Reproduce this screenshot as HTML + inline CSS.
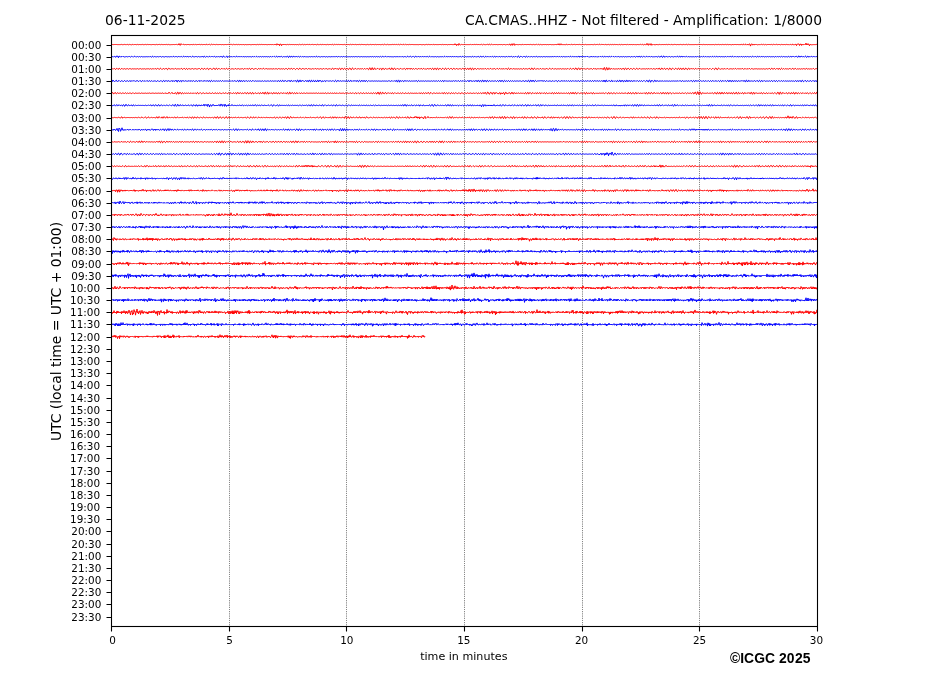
<!DOCTYPE html>
<html><head><meta charset="utf-8"><title>CA.CMAS..HHZ</title>
<style>
html,body{margin:0;padding:0;background:#fff;}
body{width:927px;height:696px;overflow:hidden;}
svg{display:block;}
text{font-family:"DejaVu Sans","Liberation Sans",sans-serif;fill:#000;}
.yl{font-size:10.42px;text-anchor:end;}
.xl{font-size:10.42px;text-anchor:middle;}
.tr path{fill:none;stroke-width:1;stroke-linejoin:round;}
</style></head><body>
<svg width="927" height="696" viewBox="0 0 927 696">
<rect width="927" height="696" fill="#fff"/>
<g stroke="#000" stroke-width="0.694" stroke-dasharray="0.694 1.146" stroke-dashoffset="-0.09" fill="none"><line x1="229.5" y1="626.5" x2="229.5" y2="35.5"/><line x1="346.5" y1="626.5" x2="346.5" y2="35.5"/><line x1="464.5" y1="626.5" x2="464.5" y2="35.5"/><line x1="582.5" y1="626.5" x2="582.5" y2="35.5"/><line x1="699.5" y1="626.5" x2="699.5" y2="35.5"/></g>
<g class="tr"><path d="M111.5,44.60l.5-.2.5.1.5-.2.5.3.5-.2.5.1.5-.1.5.1.5-.1.5.1.5-.1.5.2.5-.4.5.4.5-.4.5.4.5 0 .5 0 .5-.2.5 0 .5 0 .5.3.5-.2.5.1.5 0 .5-.2.5-.2.5.4.5.2.5-.1.5-.5.5.2.5.2.5.2.5-.3.5-.1.5-.1.5.3.5 0 .5.2.5-.3.5-.1.5-.1.5.5.5-.1.5-.2.5-.4.5.4.5.1.5.1.5-.4.5.1.5.1.5.2.5-.2.5 0 .5-.3.5.4.5 0 .5 0 .5-.1.5-.1.5 0 .5.3.5-.1.5 0 .5-.3.5.1.5 0 .5.3.5-.2.5-.1.5 0 .5.2.5 0 .5-.1.5-.2.5.3.5-.2.5.3.5-.2.5 0 .5 0 .5 0 .5-.1.5.2.5-.2.5.3.5-.3.5 0 .5-.1.5.4.5 0 .5-.2.5-.3.5.2.5.2.5.1.5-.3.5 0 .5 0 .5.2.5-.1.5.1.5-.2.5.1.5-.1.5.2.5-.1.5-.1.5.1.5.2.5-.3.5 0 .5-.1.5.4.5-.2.5.2.5-.3.5.2.5-.1.5.1.5-.2.5.1.5-.1.5.2.5-.1.5 0 .5-.2.5.1.5.1.5.4.5-.5.5.5.5-1.3.5 1.3.5 0 .5.3.5-1.5.5.5.5.2.5.5.5-.5.5-.1.5.1.5.3.5-.2.5 0 .5-.2.5.4.5-.2.5 0 .5-.1.5.1.5 0 .5.2.5-.2.5.1.5-.3.5.2.5 0 .5.2.5-.3.5 0 .5-.1.5.5.5-.4.5 0 .5-.1.5.4.5-.2.5 0 .5 0 .5 0 .5-.3.5.2.5.2.5.1.5-.2.5-.1.5-.1.5.4.5 0 .5-.2.5-.3.5.3.5.2.5.1.5-.6.5.1.5 0 .5.5.5-.1.5-.2.5-.3.5.1.5.2.5.4.5-.4.5-.3.5 0 .5.6.5 0 .5-.4.5-.3.5.4.5.2.5 0 .5-.3.5 0 .5 0 .5.2.5 0 .5 0 .5-.2.5.1.5-.1.5.1.5.1.5.1.5-.3.5.1.5-.1.5.3.5-.2.5.1.5-.2.5.1.5-.2.5.3.5 0 .5-.1.5-.2.5.1.5.1.5.1.5 0 .5-.2.5-.1.5.1.5.3.5.1.5-.4.5-.1.5 0 .5.3.5 0 .5 0 .5-.4.5.2.5.1.5.2.5-.2.5-.1.5 0 .5.3.5-.1.5-.1.5-.2.5.3.5 0 .5.1.5-.5.5.3.5.1.5.2.5-.4.5.1.5-.1.5.3.5-.1.5 0 .5-.2.5.2.5-.2.5.1.5-.1.5.3.5-.3.5.3.5-.3.5.1.5-.2.5.3.5 0 .5-.1.5-.3.5.4.5.1.5 0 .5-.4.5.1.5.2.5.1.5-.3.5 0 .5 0 .5.2.5-.1.5-.1.5.1.5.1.5-.2.5.1.5 0 .5.1.5-.2.5.1.5-.1.5.2.5-.1.5.2.5-.4.5.2.5 0 .5.1.5-.3.5.2.5 0 .5.1.5-.4.5.3.5.1.5.2.5-.5.5.2.5-.4.5.4.5.1.5.6.5-1.5.5.8.5-.3.5.6.5-.8.5 1.6.5-1 .5-.4.5-.1.5 1.5.5-1.1.5.2.5-.5.5.3.5-.1.5.5.5-.8.5.5.5-.1.5.2.5-.3.5 0 .5 0 .5.3.5-.2.5-.1.5-.1.5.3.5-.1.5 0 .5-.1.5.2.5-.1.5 0 .5-.1.5.3.5-.2.5 0 .5-.1.5.3.5-.3.5.1.5 0 .5.3.5-.4.5-.1.5.1.5.3.5-.2.5.1.5-.3.5 0 .5.2.5.3.5-.3.5-.1.5-.1.5.4.5 0 .5-.2.5-.4.5.3.5.2.5.1.5-.5.5.2.5-.1.5.5.5-.2.5-.1.5-.2.5.1.5.2.5.1.5-.2.5 0 .5-.2.5.2.5.1.5.2.5-.2.5-.3.5-.1.5.6.5-.1.5 0 .5-.5.5.2.5.1.5.2.5-.2.5-.1.5-.2.5.5.5-.1.5-.1.5-.2.5.3.5-.1.5.2.5-.3.5 0 .5 0 .5.3.5 0 .5-.2.5-.2.5.2.5.1.5.2.5-.6.5.1.5.2.5.4.5-.3.5-.3.5-.1.5.5.5-.1.5-.2.5-.1.5.3.5-.2.5 0 .5-.1.5.3.5 0 .5-.1.5-.1.5.1.5 0 .5.1.5-.1.5.1.5-.4.5.2.5.1.5.3.5-.3.5 0 .5-.1.5.2.5-.3.5.2.5 0 .5.2.5-.4.5 0 .5.1.5.3.5 0 .5-.3.5-.2.5.3.5.2.5 0 .5-.5.5.2.5.1.5.2.5-.3.5.1.5 0 .5.1.5-.2.5 0 .5.1.5.2.5-.3.5 0 .5 0 .5.1.5.1.5 0 .5-.2.5.1.5-.1.5.3.5-.2.5.2.5-.2.5-.1.5 0 .5.3.5-.2.5.2.5-.5.5.2.5.1.5.2.5-.1.5-.1.5-.2.5.2.5.1.5.1.5-.2.5-.1.5-.1.5.4.5 0 .5-.2.5-.2.5.3.5-.2.5.1.5 0 .5.2.5-.2.5.1.5-.3.5.1.5.2.5.2.5-.2.5-.4.5 0 .5.5.5.1.5-.1.5-.4.5 0 .5 0 .5.4.5-.1.5 0 .5-.4.5.4.5.1.5-.1.5-.4.5.2.5.2.5 0 .5-.4.5.2.5.1.5.2.5-.5.5.2.5.2.5.2.5-.5.5 0 .5.1.5.4.5-.2.5-.3.5-.2.5.4.5.2.5.1.5-.5.5 0 .5.1.5.5.5-.2.5-.4.5 0 .5.4.5-.1.5-.1.5-.1.5.3.5-.2.5-.1.5 0 .5.2.5-.1.5 0 .5-.1.5.1.5-.1.5.2.5-.2.5.2.5-.1.5.1.5-.2.5.2.5-.1.5.1.5-.1.5.2.5-.2.5 0 .5-.1.5.1.5 0 .5.2.5-.2.5.2.5-.3.5.1.5-.1.5.4.5-.2.5 0 .5-.2.5 0 .5.1.5.2.5-.3.5 0 .5-.1.5.3.5 0 .5 0 .5-.3.5.2.5.1.5.2.5-.5.5.1.5 0 .5.3.5-.2.5 0 .5-.3.5.4.5-.2.5.2.5-.1.5.1.5-.2.5.1.5-.2.5.2.5 0 .5.2.5-.3.5 0 .5.1.5.2.5-.2.5 0 .5-.1.5.2.5-.2.5.1.5.1.5.2.5-.4.5.1.5-.1.5.2.5-.2.5.1.5 0 .5 0 .5-.1.5.2.5-.1.5.2.5-.5.5.6.5-1.1.5 1 .5-.5.5 1.3.5-1.2.5.3.5-.1.5.8.5-1.8.5 1 .5 0 .5.4.5-.3.5-.2.5-.1.5.3.5.1.5-.1.5-.4.5.2.5.2.5 0 .5-.2.5.2.5-.1.5.1.5-.3.5.3.5.1.5-.1.5-.3.5.1.5.1.5.3.5-.5.5.2.5 0 .5.2.5-.5.5.2.5.1.5.1.5-.2.5 0 .5 0 .5.2.5 0 .5-.1.5-.3.5.5.5-.1.5 0 .5-.4.5.1.5.4.5.2.5-.4.5-.2.5-.1.5.4.5-.1.5.2.5 0 .5-.1.5-.5.5.2.5.4.5.2.5-.8.5.1.5.4.5.2.5-.2.5-.4.5.1.5.5.5-.2.5 0 .5-.2.5.1.5 0 .5.1.5-.1.5 0 .5-.1.5.3.5-.2.5.1.5-.2.5.1.5 0 .5.1.5-.2.5.1.5-.1.5.4.5-.4.5.1.5-.2.5.2.5 0 .5.3.5-.4.5.3.5-.5.5.3.5 0 .5.4.5-.6.5 0 .5-.4.5 1.4.5-.3.5-.2.5-1.1.5 1.6.5-1.1.5.1.5-.7.5 1.7.5-.7.5.1.5-.3.5.1.5-.1.5.2.5-.2.5.3.5-.3.5.1.5-.1.5.2.5-.1.5.2.5-.2.5-.1.5-.1.5.5.5-.2.5-.1.5-.3.5.3.5.1.5 0 .5-.2.5.1.5 0 .5 0 .5-.1.5.2.5-.1.5-.1.5 0 .5.2.5 0 .5.1.5-.3.5 0 .5-.1.5.4.5-.1.5 0 .5-.4.5.1.5.2.5.4.5-.5.5-.1.5.1.5.4.5-.2.5-.2.5-.1.5.4.5 0 .5 0 .5-.4.5.2.5.1.5 0 .5-.2.5.1.5 0 .5.2.5-.3.5.1.5-.1.5.3.5-.2.5 0 .5-.2.5.2.5-.2.5.4.5-.2.5.1.5-.3.5.4.5-.2.5.1.5-.4.5.3.5.2.5 0 .5-.7.5.3.5 0 .5.6.5-1.2.5 1.1.5.2.5-.3.5-1 .5.9.5.1.5-.1.5-.4.5.4.5-.2.5.2.5-.1.5.2.5-.3.5-.1.5 0 .5.6.5-.2.5-.2.5-.3.5.3.5.1.5.2.5-.5.5 0 .5.1.5.3.5-.1.5-.1.5-.1.5 0 .5 0 .5.3.5-.1.5-.1.5-.4.5.4.5.1.5 0 .5-.2.5 0 .5 0 .5.2.5 0 .5.1.5-.4.5.1.5-.1.5.3.5 0 .5.1.5-.4.5.1.5.1.5.2.5-.2.5.1.5-.3.5.3.5-.2.5.2.5-.2.5.2.5-.2.5.1.5-.1.5.2.5 0 .5.1.5-.3.5-.1.5.1.5.3.5 0 .5-.2.5-.4.5.3.5.3.5.1.5-.5.5-.1.5.1.5.5.5-.2.5-.2.5 0 .5.1.5-.2.5.2.5.1.5.2.5-.5.5.1.5-.1.5.4.5-.2.5.1.5-.3.5.1.5.1.5.3.5-.4.5 0 .5 0 .5.3.5-.2.5-.1.5-.1.5.4.5-.2.5-.1.5-.1.5.3.5 0 .5-.1.5-.2.5.3.5 0 .5.2.5-.5.5.1.5.1.5.3.5-.3.5-.1.5-.1.5.4.5-.2.5.1.5-.1.5 0 .5-.2.5.2.5.1.5.1.5-.4.5.1.5.1.5.3.5-.5.5.2.5 0 .5.1.5-.2.5.1.5-.1.5.3.5-.1.5-.1.5-.3.5.5.5-.1.5 0 .5-.3.5.4.5-.2.5 0 .5-.2.5.3.5.1.5 0 .5-.5.5.1.5.3.5.2.5-.5.5 0 .5.2.5.4.5-.4.5-.1.5-.2.5.6.5-.1.5-.1.5-1.2.5 1.2.5-.1.5.8.5-1.6.5.7.5.2.5.3.5-1.3.5 1.5.5-.4.5 0 .5-.4.5.6.5-.6.5.4.5-.1.5.3.5-.7.5.3.5-.1.5.2.5-.2.5.3.5-.2.5-.1.5-.2.5.5.5 0 .5-.1.5-.4.5.3.5.1.5 0 .5-.3.5.2.5.1.5 0 .5-.3.5.1.5.1.5.2.5-.1.5-.2.5-.1.5.2.5.1.5.2.5-.5.5.1.5-.1.5.4.5-.1.5 0 .5-.2.5 0 .5-.1.5.2.5.2.5 0 .5-.3.5.1.5-.1.5.2.5-.1.5.1.5-.2.5 0 .5 0 .5.2.5-.1.5.2.5-.3.5 0 .5-.2.5.5.5.1.5-.1.5-.6.5.2.5.2.5.3.5-.2.5-.3.5 0 .5.3.5-.1.5.1.5-.2.5.2.5-.2.5.2.5-.3.5.3.5-.1.5.1.5-.3.5.2.5 0 .5.1.5-.2.5.2.5-.1.5-.1.5 0 .5.2.5 0 .5-.1.5-.2.5.2.5 0 .5.2.5-.2.5-.1.5-.1.5.3.5 0 .5 0 .5-.3.5.2.5-.1.5.3.5-.4.5.2.5 0 .5.1.5-.1.5.1.5-.2.5.2.5 0 .5 0 .5-.3.5.2.5 0 .5.3.5-.2.5-.2.5-.1.5.3.5-.1.5.1.5-.4.5.2.5.1.5.2.5-.4.5.2.5 0 .5.2.5-.2.5-.1.5-.1.5.3.5.1.5-.1.5-.4.5.2.5.2.5.1.5-.4.5.1.5.1.5.2.5-.3.5.1.5-.2.5.3.5 0 .5.2.5-.4.5.1.5-.3.5.6.5-.3.5 0 .5-.3.5.3.5.1.5 0 .5-.3.5.2.5 0 .5.1.5-.3.5.3.5 0 .5.1.5-.7.5.4.5.3.5.2.5-.7.5 0 .5.3.5.6.5-.8.5-.1.5.2.5.7.5-.7.5.1.5-.1.5.7.5-1 .5-.1.5.3.5 1.8.5-1.5.5-.6.5-.2.5 1.2.5-.3.5 0 .5-.7.5.8.5-.2.5-.1.5-.5.5.5.5.1.5.2.5-.4.5.2.5-.3.5.3.5 0 .5.1.5-.5.5.1.5.2.5.2.5-.3.5-.1.5.2.5.3.5-.3.5-.1.5 0 .5.4.5-.2.5-.1.5-.3.5.3.5 0 .5 0 .5-.1.5.2.5-.2.5 0 .5 0 .5.4.5-.1.5-.4.5-.2.5.5.5.2.5-.1.5-.5.5.1.5.2.5.2.5-.2.5 0 .5 0 .5 0 .5-.1.5.4.5-.3.5-.1.5-.2.5.4.5.1.5-.1.5-.4.5.3.5.1.5.1.5-.4.5.1.5.1.5.1.5-.3.5.3.5.1.5.1.5-.5.5.1.5.2.5.4.5-.7.5 0 .5-.1.5.7.5-.4.5.3.5-.6.5.2.5-.4.5 1.6.5-1 .5-.4.5-.3.5.1.5 0 .5 1.5.5-1.2.5 0 .5-.4.5 1.5.5-1.2.5.4.5-.4.5.4.5-.3.5.7.5-.6.5 0 .5-1.3.5 1.8.5-.5.5.5.5-1.3.5.9.5.2.5 1.1.5-1.6.5.3.5 0 .5.3.5-.3.5.2.5-.3.5.2.5-.1.5.1.5-.3.5.3.5-.2.5 0 .5 0 .5.3" stroke="#f00"/>
<path d="M111.5,56.87l.5-.3.5.1.5-.2.5.5.5-.1.5-.5.5-.1.5 1.1.5-.9.5.2.5-.9.5.9.5.2.5.8.5-1.7.5.4.5.1.5.7.5-.8.5.3.5-.2.5.5.5-.6.5.2.5.1.5.3.5-.3.5.1.5-.2.5 0 .5-.1.5.4.5 0 .5-.2.5-.5.5.3.5.4.5.2.5-.4.5-.3.5-.1.5.5.5.2.5.1.5-.6.5-.2.5.1.5.5.5 0 .5 0 .5-.4.5 0 .5.2.5.3.5-.4.5-.1.5.1.5.4.5-.3.5-.2.5 0 .5.4.5 0 .5-.1.5-.3.5.3.5-.1.5.1.5-.2.5.1.5 0 .5.1.5-.3.5.2.5.2.5 0 .5-.5.5.1.5.5.5.3.5-.8.5-.2.5.2.5.7.5-.3.5-.4.5-.1.5.4.5 0 .5.1.5-.3.5 0 .5-.1.5.4.5.1.5-.3.5-.5.5.3.5.3.5.3.5-.4.5-.1.5-.2.5.4.5-.1.5.3.5-.2.5-.2.5-.2.5.3.5.1.5.1.5-.3.5.1.5 0 .5.2.5-.1.5-.1.5-.2.5.2.5.2.5.1.5-.5.5-.1.5.1.5.6.5-.3.5-.2.5-.2.5.2.5.2.5.2.5-.3.5-.2.5-.2.5.6.5 0 .5 0 .5-.6.5.1.5.5.5.3.5-.5.5-.4.5.1.5.6.5 0 .5-.5.5-.2.5.7.5-.2.5-.3.5-.2.5.8.5 0 .5-.5.5-.5.5.4.5.6.5.1.5-.5.5-.4.5 0 .5.7.5 0 .5-.1.5-.3.5 0 .5-.1.5.1.5.2.5.2.5-.4.5-.1.5.1.5.3.5-.3.5.2.5.2.5-.1.5-.7.5.3.5.6.5.1.5-1 .5 0 .5.6.5.6.5-.5.5-.5.5-.2.5.6.5.3.5 0 .5-.6.5-.1.5.1.5.5.5-.1.5-.3.5-.5.5.5.5.4.5 0 .5-.6.5 0 .5.3.5.4.5-.4.5 0 .5-.3.5.6.5-.1.5-.3.5-.1.5.4.5.1.5-.3.5-.7.5.6.5.7.5 0 .5-1.1.5 0 .5.3.5.6.5-.4.5.6.5-.5.5-.5.5-.4.5 1.6.5-.5.5-.1.5-.5.5.5.5-.6.5.6.5-.4.5.2.5-.2.5.5.5 0 .5-.4.5-.3.5.3.5.3.5.2.5-.6.5-.2.5.1.5.6.5.1.5-.4.5-.5.5.6.5.3.5-.3.5-.5.5.3.5.4.5 0 .5-.5.5.1.5.2.5.1.5-.4.5.1.5.1.5.2.5-.3.5 0 .5.2.5 0 .5-.3.5.2.5 0 .5 0 .5-.1.5.4.5-.2.5-.3.5 0 .5.5.5-.3.5-.2.5.1.5.6.5-.5.5-.3.5.2.5.5.5-.4.5-.1.5.1.5.2.5-.3.5-.1.5.3.5.2.5-.3.5-.2.5.1.5.3.5-.1.5-.2.5.1.5.1.5-.3.5.1.5.2.5.1.5-.3.5 0 .5.1.5.3.5-.3.5-.2.5.1.5.5.5-.4.5-.2.5.1.5.5.5-.6.5-.1.5.4.5.4.5-.6.5-.3.5.1.5.8.5-.1.5-.6.5-.4.5.8.5.3.5-.3.5-.7.5.2.5.4.5.4.5-.4.5-.2.5-.2.5.4.5-.2.5.1.5.4.5 0 .5-.9.5-.1.5.6.5.9.5-.6.5-.9.5.1.5 1 .5-.1.5-.8.5 0 .5.9.5-.1.5-.8.5-.1.5.7.5.3.5-.3.5-.7.5.3.5.5.5.1.5-.7.5-.1.5.5.5.3.5-.4.5-.3.5.2.5.5.5-.3.5-.3.5 0 .5.4.5 0 .5-.3.5-.2.5.6.5-.1.5-.1.5-.3.5.3.5-.1.5.2.5-.4.5.1.5.1.5.2.5-.2.5-.1.5-.1.5.3.5.1.5 0 .5-.6.5.3.5.4.5.1.5-.6.5-.2.5.2.5.7.5-.4.5-.3.5-.1.5.4.5.1.5.1.5-.4.5 0 .5 0 .5.2.5-.1.5 0 .5-.2.5.1.5 0 .5.4.5-.3.5-.1.5 0 .5.4.5-.2.5-.1.5-.3.5.3.5 0 .5.2.5-.2.5 0 .5-.4.5.6.5.1.5-.3.5-.4.5.4.5.3.5-.1.5-.6.5.2.5.2.5.3.5-.2.5-.3.5-.1.5.5.5.1.5-.1.5-.4.5 0 .5.1.5.4.5-.2.5-.3.5-.1.5.6.5-.1.5-.2.5-.2.5.2.5-.1.5.2.5 0 .5 0 .5-.3.5.2.5.2.5 0 .5-.4.5.1.5.2.5.1.5-.3.5 0 .5.1.5.2.5-.1.5-.2.5-.1.5.2.5.2.5 0 .5-.4.5 0 .5 0 .5.4.5 0 .5-.1.5-.3.5.1.5.1.5.2.5-.2.5 0 .5-.2.5.3.5-.1.5 0 .5 0 .5.2.5-.3.5.1.5.1.5 0 .5-.2.5.2.5-.2.5 0 .5.2.5.1.5-.4.5 0 .5.3.5.2.5-.4.5-.1.5.2.5.3.5-.3.5-.2.5.1.5.3.5-.3.5 0 .5.2.5.2.5-.4.5-.2.5.3.5.4.5-.3.5-.4.5-.1.5.7.5 0 .5-.1.5-.5.5 0 .5.1.5.5.5-.1.5-.2.5-.4.5.3.5.3.5-.1.5-.3.5.2.5.1.5 0 .5-.3.5.3.5.1.5 0 .5-.4.5.1.5.1.5.1.5-.2.5.1.5 0 .5 0 .5-.3.5.5.5 0 .5-.2.5-.4.5.5.5.1.5 0 .5-.5.5.2.5.2.5.2.5-.2.5-.2.5-.2.5.3.5.2.5.3.5-.6.5-.3.5.1.5.6.5 0 .5-.1.5-.7.5.1.5.4.5.4.5-.3.5-.2.5-.4.5.2.5.5.5.4.5-.4.5-.7.5 0 .5.8.5.1.5-.2.5-.5.5.1.5.1.5.3.5-.1.5-.2.5-.1.5.5.5-.1.5-.4.5-.1.5.6.5 0 .5-.4.5-.3.5.5.5.3.5-.2.5-.7.5.2.5.5.5.3.5-.6.5-.3.5.2.5.5.5-.1.5-.2.5-.2.5.2.5 0 .5.1.5 0 .5 0 .5-.3.5.1.5.2.5.2.5-.3.5-.1.5 0 .5.3.5-.1.5 0 .5-.3.5.2.5 0 .5.1.5-.3.5.1.5.2.5.3.5-.5.5-.3.5.2.5.7.5-.5.5-.2.5.1.5.2.5-.3.5.1.5.3.5 0 .5-.6.5.2.5.5.5.1.5-.7.5.1.5.4.5.1.5-.6.5.2.5.4.5-.1.5-.5.5.2.5.2.5 0 .5-.4.5.4.5.3.5-.3.5-.6.5.2.5.6.5.2.5-.6.5-.2.5 0 .5.5.5 0 .5.1.5-.4.5 0 .5 0 .5.3.5-.2.5 0 .5 0 .5.1.5-.1.5 0 .5-.1.5.1.5 0 .5.3.5-.4.5-.2.5.1.5.7.5-.3.5-.4.5-.1.5.5.5-.2.5.2.5-.1.5 0 .5-.6.5.2.5.6.5.3.5-.5.5-.6.5 0 .5.9.5 0 .5-.3.5-.6.5.2.5.4.5.6.5-.7.5-.3.5 0 .5.6.5 0 .5-.4.5-.3.5.5.5.1.5 0 .5-.5.5.2.5.3.5.1.5-.5.5-.1.5.3.5.4.5-.3.5-.4.5-.1.5.9.5-.2.5-.5.5-.2.5.5.5.2.5 0 .5-.6.5.1.5.3.5.2.5-.3.5-.2.5 0 .5.3.5 0 .5-.2.5-.1.5.3.5 0 .5.1.5-.4.5 0 .5.1.5.5.5-.2.5-.5.5-.2.5.7.5.3.5-.4.5-.6.5.2.5.4.5.3.5-.4.5-.1.5-.1.5.6.5-.4.5-.2.5-.2.5.5.5.5.5-.1.5-1 .5-.1.5.4.5 1 .5-.3.5-.8.5-.4.5.5.5.5.5.2.5-.3.5-.4.5-.4.5.4.5.6.5.2.5-1 .5 0 .5.4.5.4.5-.4.5-.2.5 0 .5.5.5-.2.5 0 .5-.4.5.1.5.2.5.3.5-.1.5-.3.5-.3.5.4.5.4.5-.1.5-.6.5 0 .5.2.5.4.5-.1.5-.2.5-.3.5.3.5 0 .5.2.5-.3.5 0 .5 0 .5.4.5-.2.5-.2.5-.2.5.3.5.1.5.1.5-.3.5 0 .5.1.5.1.5-.2.5.1.5 0 .5.1.5-.1.5 0 .5-.1.5.2.5-.1.5-.1.5-.2.5.6.5-.1.5-.4.5-.2.5.5.5.3.5-.2.5-.6.5.2.5.3.5.2.5-.5.5 0 .5.3.5.3.5-.5.5-.1.5.1.5.4.5-.2.5-.3.5 0 .5.3.5 0 .5 0 .5-.3.5.2.5.2.5 0 .5-.5.5.1.5.5.5.1.5-.6.5-.2.5.3.5.5.5-.2.5-.5.5-.1.5.6.5.1.5-.3.5-.4.5.5.5.1.5-.2.5-.3.5.6.5.1.5-.7.5-.4.5 1 .5.3.5-.6.5-.7.5.8.5.4.5-.3.5-.7.5.4.5.2.5.1.5-.6.5.5.5-.4.5.6.5-.5.5 0 .5 0 .5.5.5-.2.5.2.5-.4.5.3.5-.7.5.4.5-.2.5.6.5-.1.5-.3.5-.2.5.6.5-.4.5.1.5-.3.5.5.5-.4.5.4.5-.3.5.1.5-.2.5.6.5-.5.5-.1.5.2.5.3.5-.5.5-.1.5.2.5.6.5-.3.5-.6.5 0 .5.7.5.1.5-.4.5-.5.5.4.5.4.5.1.5-.8.5 0 .5.6.5.2.5-.5.5-.2.5.2.5.5.5-.5.5-.1.5.1.5.5.5-.4.5-.2.5-.1.5.5.5.1.5-.1.5-.6.5.2.5.2.5.3.5-.2.5-.1.5-.2.5.2.5.2.5 0 .5-.4.5 0 .5.3.5.2.5-.3.5-.1.5 0 .5.3.5-.1.5-.1.5 0 .5 0 .5-.2.5.1.5.2.5.3.5-.4.5-.1.5-.2.5.6.5-.1.5 0 .5-.6.5.2.5.3.5.4.5-.3.5-.5.5-.3.5.8.5.4.5-.4.5-.9.5.4.5.8.5 0 .5-.9.5.1.5.4.5.3.5-.4.5-.3.5 0 .5.3.5.2.5.2.5-.5.5-.2.5 0 .5.5.5.1.5-.2.5-.6.5.3.5.4.5.2.5-.6.5 0 .5.1.5.3.5-.3.5.2.5-.1.5.1.5-.2.5.1.5-.1.5 0 .5.1.5.4.5-.4.5-.5.5.1.5.9.5.1.5-.4.5-.9.5 0 .5 1 .5.5.5-.5.5-1 .5.1.5 1.1.5 0 .5-.3.5-.6.5.2.5 0 .5.4.5.1.5-.1.5-.6.5.2.5.2.5.4.5-.3.5-.2.5-.3.5.4.5.1.5.2.5-.3.5-.1.5-.2.5.3.5.2.5.1.5-.6.5-.1.5.3.5.6.5-.3.5-.7.5 0 .5.9.5 0 .5-.7.5-.3.5.9.5.1.5-.5.5-.4.5.6.5.3.5-.1.5-.6.5 0 .5.4.5.3.5-.5.5 0 .5 0 .5.3.5-.2.5 0 .5-.2.5.3.5.1.5-.1.5-.4.5.3.5.1.5.3.5-.6.5.1.5.2.5.1.5-.4.5 0 .5.2.5.3.5-.5.5 0 .5.2.5.2.5-.4.5 0 .5.3.5.3.5-.6.5-.1.5.2.5.5.5-.3.5-.3.5 0 .5.5.5-.2.5-.1.5-.4.5.4.5.2.5 0 .5-.4.5 0 .5.2.5.4.5-.5.5-.2.5.2.5.5.5-.4.5-.3.5.1.5.6.5-.3.5-.4.5-.1.5.7.5 0 .5-.1.5-.6.5.2.5.4.5 0 .5-.4.5.1.5.1.5.1.5-.3.5.2.5 0 .5.2.5-.3.5-.1.5.1.5.5.5-.2.5-.4.5-.2.5.5.5.2.5-.2.5-.6.5.2.5.6.5.1.5-.7.5-.1.5.3.5.5.5-.1.5-.4.5-.4.5.5.5.3.5 0 .5-.5.5.1.5.3.5 0 .5-.4.5.1.5.3.5.1.5-.5.5 0 .5.3.5.2.5-.4.5-.1.5.2.5.3.5-.3.5-.2.5-.1.5.7.5-.3.5-.3.5 0 .5.3.5.1.5-.1.5-.4.5.1.5.3.5.3.5-.4.5-.4.5.1.5.6.5 0 .5-.2.5-.5.5.2.5.3.5.3.5-.3.5-.4.5 0 .5.7.5-.2.5-.5.5.1.5.6.5-.2.5-.4.5-.2.5.7.5-.2.5-.3.5.1.5.4.5-.3.5-.1.5 0 .5.3.5-.3.5-.1.5.3.5.1.5-.3.5-.1.5.2.5.2.5-.3.5.1.5.1.5 0 .5-.3.5.1.5.1.5.4.5-.4.5-.2.5 0 .5.6.5-.4.5-.2.5 0 .5.4.5-.2.5-.2.5.2.5.3.5-.4.5-.2.5.2.5.4.5-.1.5-.4.5-.1.5.4.5.1.5-.1.5-.3.5.2.5.1.5.2.5-.4.5-.2.5.1.5.7.5-.3.5-.5.5-.2.5.8.5.2.5-.5.5-.7.5.6.5.5.5-.1.5-.5.5.1.5 0 .5-.2.5.2.5.7.5-.1.5-1.1.5-.2.5 1.1.5.4.5-.4.5-1 .5.3.5.7.5 0 .5-.6.5.2.5.3.5.2.5-.6.5-.4.5.4.5.9.5-.2.5-.9.5-.2.5 1 .5 0 .5-.4.5-.3.5.5.5-.1.5-.4.5 0 .5.7.5-.2.5-.4.5-.3.5.6.5.3.5-.2.5-.5.5.2.5.2.5-.1" stroke="#00f"/>
<path d="M111.5,69.04l.5-.2.5 0 .5.2.5 0 .5-.6.5 0 .5.5.5.7.5-.5.5-.8.5-.1.5.7.5.5.5-.2.5-1 .5.1.5.6.5.5.5-.5.5-.4.5-.1.5.6.5.1.5-.1.5-.4.5 0 .5.1.5.4.5-.1.5-.2.5-.4.5.2.5.2.5.4.5-.3.5-.3.5-.1.5.2.5.2.5.2.5-.2.5-.2.5-.1.5.3.5.1.5-.2.5-.3.5.4.5.1.5-.1.5-.3.5 0 .5.2.5.3.5 0 .5-.3.5-.4.5.2.5.3.5.2.5-.3.5 0 .5.1.5 0 .5-.4.5.2.5.2.5.2.5-.4.5.1.5-.1.5.1.5-.2.5.1.5.2.5.2.5-.4.5-.1.5.1.5.4.5-.1.5-.3.5-.2.5.3.5.2.5 0 .5-.5.5.1.5.4.5.2.5-.4.5-.5.5 0 .5.7.5.4.5-.1.5-.9.5-.2.5.4.5.6.5-.2.5.1.5-.4.5-.2.5 0 .5.7.5 0 .5-.5.5-.7.5.4.5.9.5.4.5-.9.5-.6.5-.1.5.8.5.4.5-.2.5-.4.5 0 .5 0 .5 0 .5-.2.5.4.5.2.5 0 .5-.6.5-.1.5.3.5.4.5-.1.5-.2.5-.2.5.2.5-.1.5.2.5.1.5 0 .5-.5.5-.1.5.2.5.8.5-.1.5-.5.5-.7.5.3.5.7.5.3.5-.7.5-.3.5.2.5.8.5-.2.5-.6.5-.3.5.4.5.3.5.1.5-.2.5-.1.5-.3.5 0 .5.2.5.4.5 0 .5-.3.5-.3.5.1.5.2.5.2.5-.1.5.1.5-.1.5-.3.5-.3.5.2.5.6.5.4.5-.4.5-.8.5-.2.5.7.5.6.5-.1.5-.8.5-.1.5.2.5.6.5 0 .5-.2.5-.7.5-.1.5.5.5.9.5-.2.5-.8.5-.6.5.4.5.5.5.3.5.1.5 0 .5-.6.5-.6.5-.1.5 1.1.5.5.5-.3.5-1 .5-.2.5.7.5.6.5-.3.5-.6.5-.2.5.5.5.3.5.2.5-.5.5-.3.5-.1.5.5.5.2.5-.2.5-.5.5.3.5.4.5.1.5-.6.5-.3.5.2.5.8.5 0 .5-.4.5-.7.5.1.5.4.5.5.5-.1.5-.3.5-.2.5.1.5-.1.5.4.5.1.5 0 .5-.5.5-.1.5.1.5.6.5 0 .5-.4.5-.4.5.2.5.2.5.3.5-.2.5 0 .5-.1.5 0 .5-.3.5.1.5.3.5.4.5-.3.5-.4.5-.2.5.5.5.2.5-.2.5-.5.5.3.5.4.5.1.5-.8.5-.2.5.5.5.8.5-.2.5-.8.5-.4.5.3.5.6.5.3.5-.2.5-.2.5-.3.5-.1.5-.2.5.4.5.5.5.2.5-.5.5-.5.5 0 .5.7.5-.1.5-.4.5-.2.5.5.5.4.5-.2.5-.7.5-.1.5.3.5.6.5 0 .5-.4.5-.5.5.3.5.3.5.1.5-.4.5.2.5.1.5 0 .5-.2.5.1.5 0 .5 0 .5-.1.5.3.5-.1.5-.2.5-.1.5.5.5-.1.5-.3.5-.4.5.4.5.4.5.1.5-.4.5-.3.5-.1.5.4.5.2.5 0 .5-.3.5 0 .5.1.5.2.5-.4.5 0 .5.3.5.4.5-.3.5-.4.5-.4.5.3.5.7.5.3.5-.6.5-.6.5 0 .5.7.5.3.5-.2.5-.8.5 0 .5.6.5.4.5-.3.5-.5.5-.2.5.3.5.5.5.4.5-.4.5-.6.5-.4.5.4.5.7.5.3.5-.5.5-.8.5-.1.5.8.5.5.5-.1.5-.7.5-.1.5-.1.5.3.5.2.5.2.5 0 .5-.3.5-.6.5.3.5.5.5.3.5-.5.5-.3.5 0 .5.3.5.1.5 0 .5-.1.5.3.5-.3.5-.2.5-.1.5.4.5.2.5-.1.5-.5.5 0 .5.3.5.3.5-.3.5-.2.5 0 .5.3.5.1.5 0 .5-.4.5 0 .5 0 .5.3.5.1.5.1.5-.4.5-.2.5.1.5.5.5.1.5-.4.5-.5.5.3.5.4.5.2.5-.4.5 0 .5-.1.5 0 .5-.3.5.4.5.5.5.1.5-.8.5-.5.5.2.5 1 .5.1.5-.4.5-.8.5.3.5.5.5 0 .5-.6.5.3.5.7.5 0 .5-1.1.5-.3.5.5.5 1.1.5-.1.5-.9.5-.7.5.6.5.8.5.2.5-.8.5-.6.5.3.5 1 .5 0 .5-.8.5-.6.5.5.5.9.5.2.5-.8.5-.8.5 0 .5 1 .5.7.5-.1.5-1.3.5-.3.5.4.5.9.5.1.5-.3.5-.7.5 0 .5.3.5.5.5 0 .5-.4.5-.4.5.2.5.4.5 0 .5-.3.5 0 .5.2.5 0 .5-.4.5 0 .5.5.5.3.5-.5.5-.3.5.1.5.6.5-.1.5-.4.5-.5.5.3.5.8.5.4.5-.8.5-1 .5-.2.5 1.8.5.5.5-.7.5-1.7.5.3.5 1.5.5.5.5-1.1.5-.9.5.3.5 1.1.5.1.5-.3.5-.5.5-.2.5-.1.5.6.5.5.5 0 .5-1 .5-.5.5.5.5 1.3.5-.1.5-1.1.5-.6.5.8.5.8.5-.1.5-.9.5-.1.5.2.5.4.5-.3.5.3.5.2.5-.3.5-.7.5-.1.5.9.5.8.5-.5.5-1.3.5-.2.5 1.1.5.8.5-.2.5-1.3.5-.2.5.6.5.9.5-.2.5-.5.5-.4.5.1.5.2.5.3.5.1.5 0 .5-.4.5-.3.5.1.5.5.5.1.5-.1.5-.1.5-.1.5-.4.5-.1.5.5.5.8.5-.4.5-.8.5-.3.5.9.5.3.5-.5.5-.7.5.7.5.6.5-.4.5-.9.5.4.5.6.5.2.5-.8.5 0 .5.5.5.3.5-.5.5-.3.5 0 .5.3.5.1.5.3.5-.3.5-.4.5-.1.5.6.5.3.5-.3.5-.7.5.1.5.7.5.2.5-.6.5-.3.5.1.5.6.5-.1.5-.1.5-.2.5.4.5-.4.5-.2.5-.2.5.8.5.2.5-.4.5-.7.5.2.5.7.5.4.5-.7.5-.7.5.2.5 1.2.5.1.5-1 .5-.7.5.5.5 1.1.5.1.5-1.4.5-.2.5.7.5.9.5-.3.5-.9.5-.4.5.6.5.7.5.2.5-.5.5-.8.5 0 .5.7.5.5.5 0 .5-1 .5-.2.5.2.5 1 .5-.1.5-.6.5-.5.5.1.5.7.5.4.5-.4.5-.5.5-.4.5.3.5.9.5.2.5-.6.5-.6.5-.1.5.8.5.3.5-.1.5-.6.5-.1.5.1.5.3.5.1.5.1.5-.3.5-.2.5-.2.5.3.5.4.5.2.5-.4.5-.6.5-.2.5.9.5.5.5-.3.5-1 .5 0 .5.7.5.7.5-.5.5-.8.5-.1.5 1.1.5.3.5-.9.5-.9.5.4.5 1.3.5.3.5-1.2.5-.6.5.3.5 1.3.5-.1.5-.8.5-.7.5.5.5.7.5.2.5-.6.5-.3.5 0 .5.3.5.2.5 0 .5-.2.5-.2.5-.1.5.4.5.1.5-.2.5-.2.5.2.5.2.5 0 .5-.5.5 0 .5.3.5.5.5-.3.5-.5.5-.1.5.4.5.4.5-.1.5-.5.5-.2.5.2.5.5.5 0 .5-.2.5-.2.5.1.5-.2.5-.1.5.2.5.6.5 0 .5-.5.5-.6.5.2.5.6.5.3.5-.5.5-.4.5.1.5.6.5-.1.5-.3.5-.1.5.3.5 0 .5-.2.5-.1.5.5.5 0 .5-.4.5-.5.5.4.5.7.5.1.5-1 .5-.3.5.4.5.9.5 0 .5-.9.5-.3.5.5.5.4.5.1.5-.6.5 0 .5.1.5.2.5 0 .5 0 .5-.3.5.2.5 0 .5.2.5-.3.5 0 .5.1.5.3.5-.2.5-.2.5-.3.5.4.5.3.5.2.5-.7.5-.2.5.1.5.7.5-.2.5-.3.5-.2.5.2.5.2.5.2.5 0 .5-.3.5-.6.5.1.5.7.5.7.5-.5.5-1.1.5-.2.5 1.1.5.6.5-.2.5-1.1.5-.1.5.4.5.6.5-.1.5-.2.5-.3.5 0 .5-.1.5.4.5.2.5 0 .5-.5.5-.1.5.2.5.5.5-.2.5-.4.5-.2.5.4.5.1.5.1.5-.2.5.2.5-.4.5-.1.5-.1.5.6.5.2.5.1.5-.6.5-.4.5.1.5.6.5.2.5 0 .5-.7.5-.1.5.2.5.5.5 0 .5-.2.5-.4.5.1.5.3.5.2.5-.3.5 0 .5-.1.5.1.5.1.5 0 .5-.2.5-.1.5.2.5.3.5-.1.5-.3.5-.2.5.3.5.2.5 0 .5-.3.5 0 .5 0 .5.4.5-.1.5-.4.5-.3.5.5.5.5.5-.1.5-.7.5-.2.5.3.5.7.5-.1.5-.4.5-.6.5.2.5.7.5.5.5-.5.5-1.1.5-.1.5 1 .5.8.5-.1.5-1.2.5-.5.5.2.5 1.3.5.2.5-.4.5-1.1.5.1.5.6.5.6.5-.3.5-.5.5-.3.5.4.5.2.5.2.5-.2.5 0 .5-.3.5-.2.5.2.5.4.5.1.5-.1.5-.2.5-.1.5-.3.5.2.5.3.5.5.5-.4.5-.6.5 0 .5.6.5.1.5-.4.5-.2.5.7.5 0 .5-.5.5-.4.5.6.5.3.5-.2.5-.6.5.3.5.4.5-.2.5-.6.5.6.5.8.5-.4.5-1.6.5-.1.5 1.8.5.8.5-1 .5-1.6.5.1.5 2 .5.2.5-1.3.5-.9.5 1 .5.9.5-.4.5-.9.5.2.5.5.5.1.5-.5.5.1.5.1.5.2.5-.3.5.2.5-.1.5 0 .5-.2.5.4.5-.1.5-.3.5-.1.5.6.5 0 .5-.6.5-.1.5.9.5.1.5-.7.5-.7.5.4.5 1 .5.2.5-1.1.5-.5.5.3.5 1.1.5.1.5-.6.5-.9.5.3.5.6.5.6.5-.3.5-.7.5-.4.5.5.5.7.5.1.5-.6.5-.5.5 0 .5.6.5.4.5.1.5-.7.5-.4.5 0 .5.8.5.3.5-.2.5-.7.5-.1.5.1.5.5.5 0 .5 0 .5-.3.5.1.5-.2.5.2.5-.1.5.1.5.1.5.1.5-.3.5-.1.5.1.5.3.5-.2.5-.2.5-.1.5.6.5.1.5-.4.5-.5.5.3.5.5.5.1.5-.5.5-.1.5 0 .5.3.5 0 .5.2.5-.3.5-.3.5-.1.5.6.5.4.5-.4.5-1 .5.2.5 1 .5.6.5-.8.5-.9.5-.1.5 1 .5.3.5-.1.5-.7.5-.2.5.2.5.9.5 0 .5-.6.5-.8.5.4.5.9.5.4.5-.5.5-1.1.5-.2.5.9.5.8.5 0 .5-1 .5-.5.5.1.5.7.5.5.5 0 .5-.7.5-.4.5-.1.5.8.5.5.5-.2.5-1 .5-.3.5.7.5.9.5-.5.5-.9.5 0 .5 1.1.5.3.5-.9.5-.8.5.4.5 1 .5.5.5-.8.5-.9.5-.1.5.8.5.7.5.1.5-.9.5-.6.5.1.5 1 .5.2.5-.5.5-.7.5.5.5.4.5-.1.5-.6.5.2.5.5.5.2.5-.6.5-.3.5.1.5.6.5.1.5-.3.5-.5.5.1.5.3.5.4.5-.2.5-.4.5 0 .5.4.5-.1.5-.1.5-.2.5.2.5.1.5 0 .5-.3.5.2.5.2.5 0 .5-.5.5 0 .5.3.5.6.5-.4.5-.4.5-.4.5.5.5.5.5.2.5-.5.5-.5.5-.2.5.6.5.5.5.3.5-.8.5-.8.5-.1.5 1.1.5.7.5-.1.5-1.2.5-.3.5.3.5.6.5 0 .5.2.5-.2.5-.3.5-.2.5.3.5.2.5 0 .5-.4.5 0 .5 0 .5.5.5 0 .5-.2.5-.5.5.1.5.2.5.5.5-.2.5-.1.5-.2.5 0 .5-.2.5.3.5.2.5 0 .5-.4.5 0 .5.3.5.2.5-.5.5-.2.5.3.5.5.5-.1.5-.5.5-.2.5.4.5.2.5-.2.5-.2.5.2.5.3.5-.1.5-.6.5.1.5.2.5.6.5-.2.5-.4.5-.4.5.5.5.2.5.1.5-.6.5.3.5.2.5 0 .5-.5.5 0 .5.3.5.5.5-.4.5-.4.5 0 .5.3.5.1.5.2.5-.2.5-.1.5-.2.5.2.5 0 .5-.1.5-.1.5.4.5 0 .5-.2.5-.3.5.4.5.1.5-.1.5-.3.5.2.5.2.5 0 .5-.4.5.1.5-.1.5.4.5-.1.5.1.5-.4.5 0 .5.1.5.3.5.2.5-.3.5-.6.5.1.5.6.5.5.5-.6.5-.7.5 0 .5.9.5.3.5-.3.5-.8.5.1.5.4.5.5.5-.2.5-.5.5-.5.5.7.5.6.5-.2.5-1 .5.2.5.8.5.3.5-.9.5-.4.5.4.5.7.5-.3.5-.5.5.2.5.5.5-.4.5-.2.5 0 .5.3.5-.1.5 0 .5.1.5.2.5-.3.5-.3.5-.2.5.6.5.4.5 0 .5-.7.5-.2.5-.1.5.9.5 0 .5-.1.5-.8.5.1.5.4.5.5.5-.4.5-.2.5-.1.5.4.5-.2.5-.1.5 0 .5.4.5-.2.5-.2.5-.1.5.4.5 0 .5-.4.5-.2.5.4.5.3.5.1.5-.8.5 0 .5.3.5.4.5-.1.5-.3.5-.1.5.4.5-.1.5-.1.5-.2.5.3.5.2.5-.1.5-.5.5-.1.5.4.5.6.5-.3.5-.4.5-.3.5.2.5.2.5.2" stroke="#f00"/>
<path d="M111.5,82.01l.5 0 .5-1.6.5-.4.5 1 .5.4.5.1.5-.1.5-.3.5-.8.5 0 .5 1 .5.6.5-.5.5-.8.5-.3.5.6.5.5.5.1.5-.6.5-.2.5 0 .5.4.5.2.5.2.5-.6.5-.4.5.2.5.7.5 0 .5-.3.5-.4.5 0 .5.2.5.5.5-.1.5-.5.5-.4.5.9.5.2.5-.6.5-.4.5.6.5.3.5-.4.5-.6.5.5.5.6.5-.2.5-.5.5.1.5 0 .5-.2.5.1.5.7.5-.1.5-.5.5-.6.5.4.5.8.5.1.5-.7.5-.3.5.1.5.5.5 0 .5-.2.5-.3.5.5.5.1.5-.3.5-.5.5.4.5.4.5.1.5-.7.5 0 .5.3.5.4.5-.4.5-.3.5.1.5.5.5 0 .5-.2.5-.3.5.1.5-.1.5.2.5.2.5.3.5-.5.5-.3.5-.1.5.6.5 0 .5.2.5-.3.5-.3.5-.4.5.4.5.7.5.2.5-.8.5-.5.5.1.5 1 .5.1.5-.7.5-.6.5.7.5.5.5-.2.5-.8.5.2.5.3.5.3.5-.3.5.2.5-.2.5-.1.5-.5.5 1 .5 0 .5-.5.5-.4.5.9.5-.1.5-.6.5-.7.5 1.4.5.2.5.3.5-1.7.5.3.5.1.5 1 .5-.2.5-.7.5-.4.5 1.5.5-.4.5-.4.5-.6.5.7.5.1.5.1.5-.6.5.1.5.2.5.1.5-.2.5.3.5 0 .5-.3.5-.4.5.6.5.4.5-.2.5-.9.5.5.5.6.5-.2.5-.7.5 0 .5.5.5.3.5-.5.5.2.5-.2.5-.2.5.1.5.7.5-.2.5-.5.5-.5.5 1 .5.3.5-.5.5-.7.5.5.5.4.5-.1.5-.5.5.4.5.1.5-.4.5-.3.5.6.5.4.5-.3.5-.8.5.3.5.7.5 0 .5-.9.5.1.5.9.5.2.5-1.1.5-.3.5.7.5.5.5-.4.5-.3.5 0 .5.2.5 0 .5.2.5-.3.5-.1.5.2.5.2.5-.4.5.1.5.3.5.1.5-.7.5 0 .5.5.5.5.5-.5.5-.6.5.2.5.6.5-.1.5-.2.5-.2.5.2.5 0 .5 0 .5 0 .5 0 .5 0 .5.2.5-.1.5-.3.5-.3.5.7.5.1.5-.2.5-.5.5.3.5.4.5 0 .5-.6.5 0 .5.4.5 0 .5-.1.5.4.5-.3.5-.7.5.1.5 1.2.5-.1.5-1.2.5-.1.5 1.2.5 0 .5-.9.5 0 .5.9.5-.2.5-.7.5-.1.5.9.5.2.5-.6.5-.6.5.3.5.6.5.1.5-.5.5-.2.5.5.5.1.5-.6.5-.1.5.5.5.6.5-.5.5-.6.5-.1.5.5.5.3.5 0 .5-.4.5-.1.5.1.5.3.5-.3.5.1.5.1.5 0 .5-.2.5.1.5-.1.5.2.5 0 .5.1.5-.3.5-.1.5.1.5.5.5-.2.5-.4.5-.1.5.4.5 0 .5.1.5-.1.5-.2.5-.2.5.3.5.2.5.1.5-.6.5.1.5.3.5.2.5-.4.5-.1.5.1.5.3.5-.2.5 0 .5.2.5-.2.5-.4.5.3.5.5.5 0 .5-.9.5.1.5.7.5.2.5-.9.5-.2.5.8.5.6.5-.7.5-.8.5.1.5 1 .5.3.5-.4.5-1 .5.3.5.6.5.2.5-.6.5.2.5.4.5-.5.5-.7.5.7.5.9.5-.3.5-1.2.5.1.5.9.5.1.5-.6.5.1.5.4.5-.2.5-.6.5.1.5.9.5.4.5-.9.5-1 .5.3.5 1.7.5-.1.5-1.5.5-.5.5 1.2.5.8.5-.5.5-1.1.5.3.5.4.5 0 .5.2.5.3.5-.7.5-.3.5.7.5.2.5-1 .5.3.5 1 .5-.1.5-1.4.5.1.5 1.2.5.3.5-1.3.5-.3.5 1 .5.6.5-1.1.5-.4.5.6.5 1 .5-1.1.5-.4.5.6.5 1 .5-.9.5-.8.5-.2.5 1.7.5-.7.5-.2.5-.8.5.9.5.4.5.4.5-1.1.5.4.5-.4.5.7.5-.2.5-.5.5-.2.5 1.1.5-.3.5-.5.5-.3.5.5.5.2.5-.1.5-.2.5.1.5-.2.5 0 .5.1.5.4.5-.1.5-.4.5-.3.5.3.5.6.5.2.5-.9.5-.4.5.4.5 1 .5-.2.5-.9.5-.4.5.9.5.4.5-.2.5-.7.5.2.5.3.5.2.5-.4.5 0 .5.2.5-.1.5-.4.5.4.5.4.5 0 .5-.9.5 0 .5.8.5.3.5-1 .5-.3.5.8.5.7.5-.6.5-.8.5-.1.5 1.1.5.1.5-.4.5-.5.5.4.5.3.5-.2.5-.7.5.5.5.7.5-.3.5-1 .5.3.5.9.5.2.5-1.1.5-.3.5.5.5.9.5-.2.5-1 .5-.3.5 1 .5.5.5-.5.5-1 .5.5.5 1 .5-.2.5-1.1.5.1.5.7.5.4.5-.4.5-.5.5-.1.5.6.5.1.5-.2.5-.3.5.2.5 0 .5-.1.5.1.5.2.5-.2.5-.1.5.1.5.1.5-.2.5 0 .5.1.5.2.5-.1.5-.2.5-.1.5.3.5-.1.5.1.5-.1.5.2.5-.3.5 0 .5.1.5.1.5-.1.5 0 .5-.1.5.2.5-.2.5.1.5 0 .5.3.5-.2.5-.3.5-.2.5.3.5.2.5.3.5-.3.5-.3.5-.2.5.5.5.3.5-.2.5-.5.5.1.5.5.5 0 .5-.9.5 0 .5 1.1.5.6.5-1.3.5-.9.5.6.5 1.5.5-.4.5-1 .5 0 .5.8.5-.3.5-.5.5.1.5.9.5-.1.5-.8.5-.4.5.8.5.4.5-.3.5-.7.5.3.5.5.5 0 .5-.6.5.1.5.2.5.3.5-.3.5-.1.5-.1.5.3.5.2.5-.3.5-.4.5.4.5.4.5-.2.5-.8.5.2.5.8.5.3.5-.7.5-.6.5.2.5.8.5 0 .5-.4.5-.4.5.4.5.1.5 0 .5-.2.5 0 .5.1.5.3.5-.2.5-.3.5 0 .5.4.5 0 .5-.2.5-.2.5.2.5 0 .5.1.5-.1.5.2.5-.4.5 0 .5.2.5.3.5-.2.5-.3.5-.1.5.4.5.2.5-.2.5-.4.5.1.5.4.5.2.5-.6.5-.2.5.3.5.5.5-.4.5-.4.5.3.5.7.5-.5.5-.6.5 0 .5 1.1.5-.1.5-.8.5-.2.5.6.5.2.5-.3.5-.2.5.3.5 0 .5 0 .5-.2.5 0 .5-.1.5.4.5-.1.5-.1.5-.2.5.4.5 0 .5-.5.5 0 .5.6.5 0 .5-.6.5-.2.5.7.5.2.5-.2.5-.6.5.1.5.4.5.4.5-.4.5-.4.5 0 .5.6.5 0 .5-.4.5-.3.5.5.5.3.5-.4.5-.4.5.4.5.2.5.2.5-.3.5-.5.5-.3.5 1 .5.6.5-.7.5-1 .5.6.5.6.5-.4.5-.3.5.6.5 0 .5-.5.5-.2.5.8.5.1.5-.7.5-.6.5.9.5.7.5-.3.5-1.3.5.2.5 1.1.5.2.5-1 .5-.5.5.7.5.9.5-.4.5-1.2.5 0 .5 1.4.5.2.5-.8.5-.9.5.5.5 1.1.5 0 .5-1.3.5 0 .5.9.5.3.5-.8.5-.2.5.4.5.3.5-.2.5-.1.5-.1.5 0 .5 0 .5.3.5 0 .5-.2.5-.3.5.1.5.3.5.4.5-.5.5-.5.5.2.5.9.5-.2.5-.9.5-.3.5 1.2.5.4.5-.7.5-1 .5.5.5 1 .5.2.5-1.1.5-.4.5.5.5.8.5-.5.5-.4.5.4.5.4.5-.8.5-.2.5.5.5.6.5-.7.5-.3.5.4.5.4.5-.6.5-.1.5.3.5.4.5-.4.5-.2.5.1.5.3.5-.1.5-.1.5-.3.5.2.5.2.5.1.5-.1.5-.2.5-.3.5.3.5.3.5.2.5-.4.5-.1.5 0 .5-.1.5 0 .5.7.5 0 .5-.8.5-.4.5.8.5.6.5-.2.5-1 .5-.3.5.7.5 1 .5-.3.5-1.3.5-.2.5 1.3.5.4.5-.6.5-1.2.5.5.5 1.2.5 0 .5-1.1.5-.2.5.4.5.7.5-.2.5-.4.5-.4.5.4.5.4.5-.2.5-.6.5.5.5.4.5-.4.5-.6.5.7.5.4.5-.2.5-.9.5.3.5.6.5.2.5-.5.5-.3.5 0 .5.5.5 0 .5 0 .5-.3.5 0 .5 0 .5.1.5.1.5.3.5-.4.5-.2.5-.1.5.5.5-.1.5.1.5 0 .5-.3.5-.5.5.3.5.7.5.3.5-.8.5-.4.5.2.5.6.5-.1.5.1.5-.3.5-.3.5-.3.5.8.5.2.5-.3.5-.6.5.4.5.4.5-.1.5-.5.5.1.5.4.5.1.5-.5.5-.1.5.3.5.4.5-.4.5-.3.5 0 .5.7.5-.1.5-.5.5-.3.5.6.5.3.5-.2.5-.5.5.2.5.2.5 0 .5-.1.5.1.5-.2.5-.2.5.1.5.7.5-.1.5-.7.5-.2.5.6.5.4.5-.2.5-.8.5.3.5.4.5.2.5-.6.5 0 .5.2.5.3.5-.2.5-.3.5-.2.5.5.5.2.5 0 .5-.8.5.2.5.4.5.5.5-.7.5-.4.5.2.5.8.5-.2.5-.7.5-.2.5.8.5.3.5-.3.5-.7.5.3.5.3.5.2.5-.3.5-.2.5 0 .5.5.5-.1.5-.5.5-.3.5.9.5.5.5-.8.5-1 .5.8.5 1.2.5-.2.5-1.8.5.1.5 1.3.5.5.5-.7.5-.5.5-.2.5.1.5.6.5.7.5-.7.5-.9.5 0 .5 1.2.5-.1.5-.5.5 0 .5.3.5-.4.5 0 .5.6.5.2.5-1 .5-.2.5.8.5.7.5-.7.5-.9.5-.2.5 1.5.5.3.5-.8.5-1 .5.4.5 1.1.5.2.5-1.1.5-.5.5.6.5 1.2.5-.5.5-1.2.5-.2.5 1.3.5.4.5-.5.5-1.1.5.5.5.9.5-.2.5-.9.5.1.5.8.5 0 .5-.8.5.3.5.3.5-.2.5-.4.5.5.5.4.5-.3.5-.7.5.2.5.5.5.3.5-.7.5-.1.5.4.5.3.5-.6.5-.2.5.4.5.5.5-.3.5-.5.5-.3.5.5.5.4.5.4.5-.5.5-.8.5-.2.5 1.1.5.6.5-.1.5-1.6.5-.2.5.7.5 1.4.5-.3.5-1.3.5-.4.5.5.5.9.5.4.5-.6.5-1 .5-.2.5 1.2.5.5.5-.5.5-1 .5.4.5.7.5-.1.5-.6.5.4.5.1.5-.2.5-.2.5.3.5 0 .5-.2.5-.1.5.5.5-.1.5-.3.5-.2.5.4.5.1.5-.2.5-.4.5.4.5.2.5 0 .5-.3.5 0 .5.1.5.3.5-.4.5 0 .5 0 .5.2.5-.1.5-.1.5 0 .5.2.5-.1.5 0 .5-.1.5.2.5 0 .5-.2.5-.2.5.5.5.2.5-.4.5-.6.5.4.5.6.5.1.5-.8.5-.1.5.4.5.3.5-.4.5.2.5.1.5-.1.5-.4.5.1.5.2.5.3.5-.2.5-.3.5-.1.5.6.5 0 .5-.3.5-.6.5.2.5.8.5.3.5-.8.5-.5.5.2.5 1 .5-.1.5-.9.5-.3.5.9.5.3.5-.3.5-.8.5.3.5.7.5 0 .5-.5.5-.3.5.2.5.4.5 0 .5 0 .5-.6.5.2.5.2.5.4.5-.2.5-.4.5-.1.5.5.5.1.5-.1.5-.6.5.1.5.5.5.3.5-.5.5-.4.5.2.5.7.5-.2.5-.7.5-.1.5.7.5.2.5-.2.5-.5.5.2.5 0 .5.1.5.2.5.1.5-.5.5-.2.5.6.5.4.5-.7.5-.5.5.3.5.9.5-.2.5-.8.5-.1.5.7.5.3.5-.4.5-.5.5.1.5.4.5.5.5-.4.5-.8.5-.1.5 1.2.5.3.5-.8.5-.9.5.7.5.9.5-.1.5-1.2.5.1.5 1 .5 0 .5-.9.5.1.5.7.5-.1.5-.8.5.2.5.7.5.1.5-.8.5 0 .5.4.5.1.5-.4.5.2.5.4.5-.4.5-.6.5.6.5.5.5-.4.5-.8.5.4.5 1 .5 0 .5-1.4.5-.2.5.9.5 1 .5-.6.5-1 .5-.1.5 1 .5.1.5-.3.5-.4.5.2.5.1.5.1.5 0 .5.1.5-.4.5-.2.5.1.5.7.5.1.5-.5.5-.7.5.3.5.9.5.1.5-.9.5-.4.5.6.5.8.5-.3.5-.9.5-.1.5 1 .5.2.5-.5.5-.7.5.3.5.5.5.1.5-.3.5 0 .5-.1.5.1.5.1.5.1.5-.4.5 0 .5.3.5.3.5-.4.5-.5.5.1.5.9.5 0 .5-.6.5-.6.5.4.5.8.5 0 .5-.8.5-.2.5.5.5.6.5-.4.5-.5.5-.2.5.6.5.3.5-.1.5-.5.5-.2.5.4.5.4.5-.4.5-.3.5.1.5.5.5-.2.5-.3.5.1.5.3.5-.2.5-.1.5 0 .5.3.5-.3.5 0 .5.1.5.2.5-.3.5-.1.5.2.5.2.5-.3.5 0 .5.2.5.3.5-.4.5-.4.5 0 .5.9.5-.1.5-.7.5-.2.5.9.5.1.5-.6.5-.6.5.7.5.8.5-.2.5-1.3.5 0 .5.7.5.7.5-.2.5-.6.5-.6.5.2.5.9.5.2.5-.6.5-.4.5.1.5.6.5-.1.5-.1.5-.3.5-.2.5.2.5.6.5 0 .5-.6.5-.5.5.6.5.6.5-.1.5-1 .5.4.5.7.5-.1.5-1.1.5.2" stroke="#00f"/>
<path d="M111.5,93.98l.5-.9.5-.6.5.2.5 1.1.5.1.5-.6.5-.9.5.3.5 1 .5.1.5-.5.5-.6.5.1.5.7.5 0 .5-.3.5-.3.5.1.5.3.5.3.5-.2.5-.4.5-.2.5.4.5.3.5 0 .5-.6.5-.1.5.4.5.4.5-.4.5-.2.5.2.5.3.5-.3.5-.1.5-.1.5.1.5.1.5.4.5-.1.5-.5.5-.4.5.6.5.4.5 0 .5-.6.5 0 .5.1.5.2.5-.2.5.2.5 0 .5-.1.5-.3.5.2.5.2.5.2.5-.3.5-.2.5 0 .5.3.5 0 .5 0 .5-.1.5.1.5-.2.5 0 .5.1.5.2.5-.1.5-.1.5-.1.5.2.5-.1.5-.2.5 0 .5.4.5 0 .5-.1.5-.2.5 0 .5 0 .5.1.5 0 .5.2.5-.3.5 0 .5 0 .5.2.5-.1.5.1.5-.2.5 0 .5 0 .5.2.5 0 .5-.1.5-.1.5.3.5-.1.5-.3.5-.1.5.6.5.1.5-.3.5-.5.5.4.5 0 .5.2.5-.3.5.6.5-.5.5 0 .5-1 .5.7.5.4.5.5.5-.4.5-.4.5-.6.5 1 .5-.2.5.5.5-.5.5.5.5-1 .5 0 .5.6.5 1 .5-.9.5-1.1.5-.1.5 1.7.5.2.5-.7.5-1.2.5.5.5 1 .5.3.5-1 .5-.4.5.5.5.7.5-.4.5-.4.5 0 .5.4.5-.2.5-.1.5.1.5.2.5-.3.5-.1.5 0 .5.5.5-.3.5 0 .5-.4.5.5.5.1.5-.1.5-.3.5.2.5.1.5 0 .5-.5.5.3.5.5.5.2.5-1 .5-.3.5.4.5.9.5 0 .5-.5.5-.8.5.3.5.5.5.4.5-.3.5-.2.5-.3.5 0 .5.1.5.6.5 0 .5-.3.5-.5.5.3.5 0 .5.3.5-.1.5.1.5-.2.5-.2.5-.2.5.6.5.1.5 0 .5-.6.5-.1.5.2.5.5.5.1.5-.2.5-.7.5.3.5.4.5.2.5-.5.5-.1.5 0 .5.6.5-.3.5-.4.5 0 .5.4.5.1.5.2.5-.3.5-.1.5-.5.5.2.5.5.5.5.5-.5.5-.6.5-.2.5.6.5.5.5 0 .5-.7.5-.2.5.1.5.7.5-.2.5-.4.5-.2.5.5.5.2.5 0 .5-.6.5-.1.5.4.5.5.5-.5.5-.5.5.2.5 1 .5-.3.5-1 .5-.2.5 1 .5.6.5-.5.5-.9.5.2.5.6.5.3.5-.5.5-.2.5-.1.5.7.5-.1.5-.4.5-.6.5.6.5.7.5 0 .5-1 .5-.2.5.2.5 1 .5.1.5-.6.5-.9.5.3.5 1 .5.3.5-.9.5-.6.5.2.5 1.2.5-.1.5-.5.5-.6.5.2.5.2.5.5.5 0 .5-.2.5-.7.5.2.5.6.5.3.5-.9.5-.3.5.6.5.8.5-.5.5-.9.5-.3.5 1.2.5.6.5-.2.5-1.7.5.1.5 1.4.5.5.5-.9.5-1 .5.2.5 1.5.5-.2.5-.8.5-.3.5.6.5 0 .5-.4.5.2.5.8.5-.2.5-1 .5-.2.5 1 .5.3.5-.4.5-.9.5.4.5.8.5.1.5-.9.5-.2.5.3.5.8.5-.1.5-.7.5-.5.5.5.5.6.5-.1.5-.7.5.2.5.3.5 0 .5-.5.5.3.5.6.5 0 .5-1 .5-.2.5.8.5.9.5-.5.5-1.4.5 0 .5 1.4.5.3.5-.6.5-.9.5.2.5.8.5.3.5-.7.5-.4.5.3.5.7.5-.1.5-.8.5-.2.5.9.5.2.5-.5.5-.5.5.3.5.5.5 0 .5-.5.5-.1.5.3.5.3.5-.2.5-.2.5-.2.5.2.5.3.5.1.5-.3.5-.2.5 0 .5.2.5 0 .5.1.5 0 .5-.1.5-.1.5.1.5 0 .5 0 .5.1.5 0 .5-.2.5 0 .5 0 .5.2.5 0 .5-.1.5-.2.5 0 .5.3.5.2.5-.3.5-.2.5-.1.5.5.5 0 .5-.2.5-.2.5.3.5 0 .5-.1.5-.3.5.3.5.3.5 0 .5-.7.5.1.5.3.5.4.5-.3.5-.2.5-.1.5.1.5.1.5.3.5-.2.5-.3.5-.1.5.5.5 0 .5-.3.5-.2.5.6.5-.1.5-.4.5-.2.5.7.5.1.5-.4.5-.4.5.5.5.2.5-.1.5-.5.5.1.5.2.5.1.5-.2.5.2.5.1.5-.2.5-.3.5.2.5.2.5.3.5-.4.5-.3.5.2.5.4.5-.2.5-.3.5-.1.5.5.5.1.5-.2.5-.5.5.2.5.3.5.2.5-.2.5-.3.5-.2.5.2.5.5.5.2.5-.5.5-.5.5.1.5.9.5 0 .5-.5.5-.6.5.3.5.6.5.3.5-.5.5-.5.5-.1.5.6.5.3.5 0 .5-.7.5-.1.5.2.5.6.5 0 .5-.4.5-.5.5.4.5.4.5 0 .5-.5.5-.1.5.1.5.5.5-.1.5-.2.5-.4.5.3.5.4.5.2.5-.7.5-.3.5.4.5.5.5-.4.5-.5.5.3.5 1 .5-.1.5-1.3.5-.6.5 1.1.5 1.2.5-.2.5-1.7.5-.2.5 1.2.5.8.5-.7.5-1.1.5 0 .5 1.1.5.5.5-.3.5-1 .5-.2.5.4.5.9.5 0 .5-.7.5-.5.5.5.5.4.5-.1.5-.6.5.2.5.5.5.1.5-.8.5 0 .5.3.5.7.5-.4.5-.5.5-.2.5.5.5.3.5 0 .5-.3.5-.1.5-.2.5.2.5.3.5.2.5-.5.5-.2.5.3.5.4.5-.3.5-.4.5-.1.5.5.5.2.5.1.5-.6.5-.1.5 0 .5.5.5.2.5-.2.5-.6.5.2.5.3.5.3.5-.3.5-.3.5 0 .5.3.5-.1.5 0 .5-.1.5.3.5-.1.5-.1.5-.3.5.4.5.2.5-.3.5-.3.5.5.5.1.5-.3.5-.5.5.4.5.6.5-.2.5-.8.5.2.5.6.5.2.5-.7.5-.3.5.4.5.6.5-.3.5-.6.5-.1.5.8.5.3.5-.5.5-.9.5.2.5 1 .5.4.5-.5.5-.9.5-.1.5.6.5.5.5.1.5-.4.5-.3.5-.2.5.3.5.2.5.2.5-.4.5-.1.5.1.5.2.5 0 .5 0 .5-.1.5-.1.5-.2.5.5.5.2.5-.4.5-.6.5.4.5.7.5 0 .5-1.1.5 0 .5.9.5.3.5-.7.5-.5.5.5.5.7.5-.2.5-.7.5-.4.5.5.5.7.5.1.5-.8.5-.3.5.4.5.4.5-.4.5-.2.5.4.5.5.5-.4.5-.6.5-.1.5.6.5.2.5.1.5-.3.5-.3.5-.4.5.4.5.6.5.2.5-.8.5-.1.5 0 .5.2.5.2.5.4.5-.3.5-.5.5-.3.5.7.5.4.5-.1.5-.6.5-.2.5.2.5.4.5 0 .5-.1.5-.3.5 0 .5.1.5.3.5 0 .5 0 .5-.3.5-.1.5 0 .5.4.5 0 .5-.1.5-.5.5.1.5.5.5.3.5-.6.5-.2.5.3.5.5.5-.5.5-.5.5.3.5.7.5 0 .5-.7.5-.5.5.9.5.5.5-.5.5-1.1.5.3.5 1.1.5.6.5-.9.5-1.2.5-.1.5 1.4.5.6.5.1.5-1.2.5-.6.5-.1.5 1 .5.8.5 0 .5-1.3.5-.7.5.5.5 1.4.5-.2.5-.3.5-1.1.5.5.5.1.5.4.5-.2.5.9.5-.9.5-.5.5-.1.5 1.7.5-1.2.5.1.5-.1.5.9.5-1.1.5-.5.5.6.5 1.6.5-.9.5-1.3.5-.2.5 1.2.5.6.5-.3.5-.8.5.3.5-.1.5-.4.5.2.5 1.1.5-.1.5-1.3.5-.5.5 1.2.5.8.5-.3.5-1.3.5.3.5.7.5 0 .5-.7.5.4.5.4.5-.2.5-.6.5.2.5.4.5.1.5-.5.5.1.5 0 .5.2.5 0 .5 0 .5-.4.5.1.5.6.5.1.5-.8.5-.4.5.7.5.8.5-.4.5-1 .5-.2.5 1.4.5.1.5-.7.5-.8.5.5.5.7.5.3.5-.8.5-.3.5 0 .5.5.5.2.5 0 .5-.7.5.1.5.6.5.2.5-.9.5-.1.5.7.5.5.5-.7.5-.5.5 0 .5 1 .5-.1.5-.5.5-.4.5.5.5.4.5-.1.5-.8.5.1.5.7.5.3.5-.8.5-.3.5.3.5.6.5-.2.5-.1.5-.1.5-.1.5-.3.5.4.5.5.5-.1.5-1 .5.1.5.8.5.4.5-.9.5-.4.5.5.5.8.5-.7.5-.6.5.4.5.9.5-.5.5-.7.5 0 .5.9.5 0 .5-.4.5-.4.5.3.5.2.5.1.5-.2.5 0 .5-.2.5.2.5.1.5.1.5-.5.5.1.5.3.5.3.5-.6.5-.3.5.4.5.9.5-.4.5-1 .5-.1.5 1.1.5.4.5-.8.5-.9.5.8.5.9.5-.2.5-1.2.5-.2.5.7.5.9.5-.2.5-.8.5-.5.5.5.5.5.5.2.5-.5.5-.1.5-.4.5.3.5.2.5.5.5 0 .5-.7.5-.6.5.4.5 1 .5.3.5-1 .5-.7.5.4.5.9.5 0 .5-.6.5-.4.5.8.5.2.5-.6.5-.6.5.5.5.8.5.1.5-1.1.5-.2.5.4.5.8.5-.2.5-.5.5-.2.5.4.5 0 .5 0 .5-.2.5.3.5-.2.5-.1.5 0 .5.2.5 0 .5-.1.5-.1.5.1.5-.2.5 0 .5.2.5.5.5-.3.5-.5.5-.4.5.5.5.6.5.3.5-.9.5-.4.5 0 .5 1.2.5.1.5-.6.5-.8.5.4.5.7.5.3.5-.6.5-.4.5-.1.5.3.5.2.5.4.5-.3.5-.5.5-.2.5.6.5.3.5-.2.5-.5.5.1.5.3.5.2.5-.2.5-.3.5-.1.5.3.5.1.5.1.5-.2.5 0 .5 0 .5-.1.5-.3.5.5.5.5.5-.1.5-1.1.5 0 .5.8.5.6.5-1 .5-.5.5.6.5.8.5-.2.5-.9.5-.4.5.4.5 1 .5.2.5-.7.5-.7.5-.2.5 1.3.5.1.5-.4.5-.7.5.2.5.5.5.1.5-.4.5 0 .5.1.5.2.5-.2.5.1.5 0 .5-.1.5-.5.5.4.5.5.5.2.5-1.2.5 0 .5.5.5 1.1.5-.6.5-1 .5-.2.5 1 .5.5.5-.1.5-1.2.5-.1.5.5.5.8.5 0 .5-.4.5-1 .5.3.5.6.5.6.5-.5.5-.5.5 0 .5.4.5-.2.5 0 .5.2.5.4.5-.5.5-.6.5.1.5 1.1.5.2.5-.6.5-1.1.5.4.5 1 .5.1.5-1 .5-.1.5.9.5.3.5-1 .5-.6.5.5.5 1.2.5-.2.5-.8.5-.6.5.4.5.7.5.3.5-.4.5-.5.5-.2.5.4.5.4.5.1.5-.4.5-.1.5-.1.5.2.5 0 .5 0 .5.1.5.1.5-.3.5-.2.5 0 .5.6.5 0 .5-.2.5-.4.5 0 .5.2.5.3.5.1.5-.1.5-.6.5 0 .5.5.5.4.5-.4.5-.4.5 0 .5.4.5.2.5-.2.5-.4.5.1.5.3.5.3.5-.3.5-.6.5-.2.5 1.2.5.4.5-.5.5-1.5.5.1.5 1.5.5.8.5-.6.5-2 .5 0 .5 2.1.5.6.5-1 .5-1.8.5.6.5 1.5.5.3.5-1.1.5-.3.5.2.5.2.5-.1.5.2.5.1.5-.1.5-.2.5.2.5-.1.5-.2.5-.1.5.5.5.1.5-.3.5-.3.5.3.5.3.5-.2.5-.6.5.1.5.6.5.5.5-.3.5-.9.5-.4.5.8.5.8.5.1.5-1.3.5-.4.5.8.5 1 .5-.6.5-1 .5 0 .5 1.4.5.1.5-1 .5-.8.5.8.5.9.5-.1.5-1.1.5-.2.5.8.5.6.5-.5.5-.8.5 0 .5 1.1.5.2.5-.7.5-.7.5.5.5.8.5-.2.5-1 .5.2.5.9.5.2.5-1 .5-.5.5.4.5 1.1.5.1.5-.8.5-.9.5.1.5 1.3.5.5.5-.9.5-.9.5.3.5 1 .5-.3.5-.5.5.3.5.6.5-.8.5-.5.5.4.5 1.1.5-.3.5-.9.5-.3.5.9.5.3.5-.4.5-.5.5.4.5.3.5-.4.5-.5.5.7.5.7.5-.3.5-1.4.5.1.5 1.2.5.7.5-1.1.5-1 .5.5.5 1.3.5-.2.5-.7.5-.5.5.6.5.1.5.1.5-.1.5 0 .5-.4.5.3.5.4.5-.1.5-.9.5.1.5.9.5.3.5-.7.5-.5.5.1.5.7.5.1.5 0 .5-.7.5-.1.5.2.5.6.5-.1.5-.5.5-.2.5.5.5.1.5-.1.5-.2.5.2.5-.3.5-.1.5.4.5.5.5-.4.5-.6.5-.3.5.7.5.6.5.3.5-.7.5-1 .5-.3.5 1.3.5 1 .5-.3.5-1.9.5 0 .5 1 .5 1 .5-.6.5-.9.5-.2.5.7.5.3.5-.1.5-.1.5 0 .5-.5.5 0 .5.4.5.7.5-.2.5-.9.5-.4.5.6.5.8.5 0 .5-1 .5-.2.5.8.5.6.5-.9.5-.8.5.4.5 1.4.5-.1.5-1.2.5-.5.5.8.5.7.5 0 .5-1 .5-.1.5.5.5.5.5-.4.5-.5.5.1.5.7.5-.1.5-.4.5-.4.5.5.5.4.5-.2.5-.6.5.2.5.6.5-.1.5-.8.5.1.5.7.5.4.5-.5.5-.5.5-.2.5.3.5.3.5.4.5-.4.5-.4.5.2.5.5.5-.6.5-.5.5.7.5.9.5-.5.5-1.2.5 0 .5 1.4" stroke="#f00"/>
<path d="M111.5,104.95l.5.1.5.8.5-.1.5-.3.5-.7.5.1.5.7.5.6.5-.7.5-.7.5-.1.5 1 .5.4.5-.5.5-.9.5.5.5.6.5-.1.5-.8.5.2.5.6.5.4.5-1 .5-.5.5.5.5 1.2.5-.2.5-1.1.5-.7.5.8.5.8.5.1.5-.7.5-.4.5 0 .5.8.5.3.5-.5.5-.7.5.3.5.8.5.1.5-.9.5-.2.5.4.5.7.5-.4.5-.4.5-.1.5.5.5-.1.5 0 .5-.2.5 0 .5.1.5.1.5-.1.5 0 .5-.1.5.2.5-.1.5 0 .5-.2.5.3.5-.2.5.3.5-.4.5 0 .5-.1.5.6.5 0 .5-.2.5-.5.5 0 .5.5.5.5.5-.5.5-.6.5 0 .5 1 .5 0 .5-.3.5-.9.5.3.5.8.5.3.5-.7.5-.6.5 0 .5.9.5.2.5.1.5-1 .5-.3.5.2.5 1.1.5 0 .5-.3.5-.9.5.1.5.5.5.5.5-.2.5-.5.5-.2.5.4.5.2.5.2.5-.5.5-.2.5-.1.5.4.5.3.5.2.5-.5.5-.5.5 0 .5.5.5.5.5.1.5-.7.5-.5.5-.1.5 1.1.5.5.5-.4.5-1.4.5 0 .5 1.3.5.6.5-.5.5-1.3.5-.1.5 1.3.5.4.5-.4.5-1 .5 0 .5.8.5.5.5-.6.5-.6.5.1.5.7.5.1.5-.2.5-.5.5 0 .5 0 .5.6.5 0 .5-.2.5-.6.5.2.5.2.5.6.5-.3.5-.3.5-.6.5.4.5.6.5.6.5-1.1.5-.2.5-.2.5.7.5.3.5.3.5-1.4.5.4.5-.2.5 1.3.5-.4.5-.2.5-.8.5.7.5-.2.5.8.5-1.1.5.2.5 0 .5.8.5-.5.5-.2.5-1.1.5 1.7.5-.4.5-.2.5-.9.5 1.2.5.6.5.1.5-2.2.5.7.5.3.5 2 .5-1.9.5-.3.5 0 .5 1.4.5-.4.5-.4.5-1.1.5.8.5 0 .5.9.5-.8.5.5.5-.7.5.4.5-.4.5.9.5-.6.5-.2.5-.6.5 1.2.5.1.5 0 .5-1.9.5 1.3.5.5.5.4.5-1.7.5.6.5.5.5.8.5-2.2.5 1.2.5-.1.5 1.2.5-1.3.5.3.5-.6.5 1.2.5-1.5.5.5.5.2.5.8.5-.5.5-.3.5-.7.5.8.5.4.5-.1.5-.5.5.2.5-.1.5.2.5-.3.5.6.5-.4.5-.1.5-.1.5.5.5-.2.5-.3.5-.3.5.7.5.2.5-.1.5-.8.5 0 .5.5.5.6.5-.4.5-.5.5.1.5.4.5-.2.5-.2.5.2.5.4.5-.3.5-.3.5 0 .5.4.5-.2.5-.2.5.1.5.8.5-.5.5-.6.5-.2.5.9.5.3.5-.4.5-.9.5.1.5.9.5.4.5-.6.5-.6.5.2.5.6.5-.2.5-.3.5.1.5.6.5-.3.5-.6.5-.2.5.7.5.4.5-.2.5-.7.5.2.5.3.5 0 .5-.4.5.5.5.1.5-.3.5-.5.5.2.5.4.5.5.5-.3.5-.3.5-.7.5.2.5.6.5.8.5-.4.5-.9.5-.3.5.6.5.4.5.1.5-.1.5-.1.5-.7.5-.1.5.7.5.8.5-.6.5-.8.5 0 .5.7.5.1.5-.3.5-.2.5.2.5 0 .5.1.5-.3.5.2.5.1.5.1.5-.4.5 0 .5.4.5.2.5-.6.5-.2.5.3.5.6.5-.3.5-.5.5 0 .5.6.5-.2.5-.4.5 0 .5.5.5.1.5-.3.5-.4.5.4.5.1.5 0 .5-.4.5.2.5.3.5.2.5-.4.5-.2.5-.1.5.2.5.2.5.3.5-.4.5-.3.5-.1.5.6.5 0 .5-.2.5-.1.5.2.5-.2.5-.2.5.3.5.4.5-.1.5-.6.5-.4.5 1 .5.2.5 0 .5-1.1.5.1.5.4.5.8.5-.3.5-.9.5-.2.5.8.5.5.5-.2.5-.8.5.2.5.3.5 0 .5-.2.5.4.5-.2.5-.3.5-.3.5.6.5.4.5 0 .5-1 .5-.1.5.4.5.9.5-.2.5-.7.5-.5.5.5.5.5.5 0 .5-.3.5.1.5-.2.5-.2.5.1.5.5.5.1.5-.3.5-.6.5.1.5.5.5.5.5-.2.5-.7.5-.4.5.5.5.7.5.2.5-1.2.5-.1.5.4.5.7.5-.2.5-.3.5-.3.5.1.5-.2.5.4.5.4.5 0 .5-.6.5-.1.5.1.5.3.5-.1.5.4.5-.1.5-.4.5-.4.5.2.5.5.5.4.5-.4.5-.6.5-.2.5.6.5.4.5.1.5-.7.5-.2.5.2.5.4.5-.2.5-.1.5.2.5 0 .5-.2.5 0 .5.1.5.1.5-.4.5.1.5.5.5.1.5-.6.5-.2.5.3.5.5.5-.3.5-.3.5 0 .5.4.5 0 .5-.3.5-.1.5.2.5.1.5.2.5-.6.5 0 .5.2.5.5.5-.4.5-.1.5 0 .5.5.5-.3.5-.3.5-.2.5.6.5.1.5-.1.5-.4.5-.1.5.3.5.4.5-.3.5-.4.5-.1.5.6.5.2.5-.2.5-.5.5.1.5 0 .5.2.5.1.5.2.5-.4.5 0 .5-.2.5.5.5-.1.5-.1.5-.2.5.2.5 0 .5.1.5-.2.5 0 .5.2.5.2.5-.3.5-.3.5 0 .5.6.5.1.5-.4.5-.4.5.3.5.4.5 0 .5-.5.5.1.5.1.5.2.5-.1.5 0 .5-.3.5.1.5.1.5.3.5-.3.5-.2.5-.1.5.6.5-.1.5-.4.5-.1.5.7.5-.2.5-.8.5 0 .5 1.2.5 0 .5-.9.5-.7.5.9.5.9.5-.1.5-1.2.5 0 .5.6.5.2.5-.5.5.1.5.3.5.2.5-.6.5-.3.5.1.5.8.5.2.5-.4.5-.7.5.1.5.5.5.4.5-.6.5-.2.5.3.5.6.5-.5.5-.6.5.1.5 1.1.5-.2.5-.8.5-.3.5.6.5.5.5-.1.5-.9.5.2.5.1.5.6.5-.2.5 0 .5-.4.5.3.5-.3.5.3.5.2.5 0 .5-.7.5-.1.5.4.5.9.5-.3.5-.8.5-.7.5.5.5 1.2.5.3.5-1 .5-.8.5 0 .5 1.1.5.4.5-.2.5-.7.5-.2.5 0 .5.4.5.3.5.1.5-.5.5-.1.5 0 .5.5.5-.4.5 0 .5.1.5.2.5-.1.5.1.5-.4.5-.3.5.3.5.9.5-.1.5-1 .5-.5.5 1 .5.6.5-.3.5-1.1.5.2.5.9.5.3.5-.9.5-.3.5.2.5.7.5 0 .5-.5.5-.3.5.4.5.3.5 0 .5-.6.5-.1.5.5.5.4.5-.3.5-.5.5-.1.5.5.5.2.5 0 .5-.7.5 0 .5.5.5.4.5-.2.5-.7.5-.2.5.6.5.5.5.1.5-.7.5-.5.5.1.5.9.5.2.5-.4.5-.9.5.3.5.8.5.2.5-.8.5-.2.5.2.5.7.5-.4.5-.2.5-.1.5.5.5-.4.5.3.5-.6.5.3.5 0 .5.8.5-.6.5.2.5-.8.5.5.5.1.5 1.3.5-1.5.5-.5.5-.2.5 1.9.5-.7.5-.4.5-.7.5 1.2.5-.4.5.3.5-.8.5.5.5-.4.5.9.5-1 .5.5.5-.3.5.7.5-.9.5 1 .5-.8.5.9.5-.7.5 0 .5-.8.5 1 .5 0 .5.4.5-.7.5.5.5-.8.5.3.5-.2.5.6.5.1.5-.1.5-1 .5.4.5.3.5.9.5-.5.5-.8.5-.5.5.8.5.5.5.2.5-.8.5-.1.5-.2.5.5.5.3.5.1.5-.5.5.1.5-.2.5 0 .5-.1.5.7.5.2.5-.4.5-.8.5.1.5.7.5.4.5-.5.5-.4.5-.3.5.6.5.3.5.2.5-.6.5-.2.5 0 .5.8.5-.2.5-.4.5-.5.5.6.5.6.5 0 .5-1 .5-.3.5.5.5.7.5.1.5-.3.5-.8.5-.2.5.4.5 1.1.5-.1.5-1 .5-.5.5.7.5.7.5-.2.5-.8.5.1.5.3.5.3.5-.2.5 0 .5-.4.5 0 .5.4.5.5.5-.6.5-.6.5.1.5 1 .5.2.5-.5.5-.9.5.1.5.9.5.6.5-.7.5-.8.5-.1.5 1.1.5.2.5-.7.5-.6.5.5.5.6.5.1.5-.7.5-.1.5.2.5.1.5 0 .5.4.5-.4.5-.2.5-.2.5.7.5-.2.5-.1.5-.3.5.4.5.1.5-.2.5-.3.5.4.5.1.5-.3.5-.4.5.6.5.3.5-.1.5-.8.5.2.5.4.5.1.5-.3.5.1.5.2.5 0 .5-.7.5.1.5.6.5.5.5-.7.5-.3.5 0 .5.4.5-.2.5.1.5.2.5.1.5-.4.5-.3.5.1.5.8.5-.1.5-.7.5-.4.5.7.5.6.5-.2.5-1 .5.1.5.6.5.5.5-.3.5-.7.5 0 .5.5.5.2.5-.2.5-.4.5.1.5.3.5.2.5-.4.5-.2.5 0 .5.6.5 0 .5-.2.5-.3.5-.1.5.1.5.5.5.2.5-.4.5-.6.5.1.5.6.5.3.5-.4.5-.4.5.1.5.5.5-.2.5-.3.5-.1.5.4.5.3.5 0 .5-.6.5-.2.5 0 .5.8.5.1.5-.3.5-.7.5 0 .5.4.5.6.5-.3.5-.3.5-.2.5.2.5.1.5.1.5 0 .5 0 .5-.1.5-.1.5-.2.5.2.5.1.5.3.5-.2.5-.3.5-.1.5.4.5.1.5-.1.5-.3.5.2.5 0 .5.2.5-.1.5-.1.5-.2.5.3.5-.1.5-.1.5-.1.5.6.5-.3.5-.3.5-.4.5 1 .5-.1.5.1.5-.9.5.3.5.1.5.8.5-.6.5.3.5-.6.5.4.5-.5.5 1.1.5-.7.5 0 .5-.1.5.4.5-.7.5.3.5-.5.5 1.1.5-.4.5-.7.5.1.5 1 .5-.3.5-.6.5-.3.5.9.5.3.5-.6.5-.6.5.5.5.5.5.1.5-.8.5-.3.5.4.5 1 .5-.3.5-1 .5-.4.5.9.5.8.5-.1.5-1.4.5-.1.5.6.5 1.1.5-.4.5-1 .5-.3.5 1.1.5.2.5-.4.5-.8.5.5.5.7.5 0 .5-.8.5-.1.5.2.5.5.5-.1.5-.2.5-.1.5.1.5 0 .5-.1.5-.1.5.3.5.1.5 0 .5-.4.5.1.5 0 .5.2.5-.2.5.3.5-.1.5-.3.5-.3.5.8.5.2.5-.4.5-.8.5.3.5.9.5.1.5-.9.5-.4.5.2.5 1 .5.1.5-.4.5-.8.5.2.5.4.5.5.5-.1.5-.4.5-.2.5.1.5-.1.5.1.5.4.5.2.5-.7.5-.3.5.2.5.7.5-.2.5-.2.5.2.5.1.5-.9.5 0 .5.9.5.7.5-.7.5-1.1.5 0 .5 1.2.5.2.5-.4.5-.8.5.2.5.4.5.5.5-.2.5-.5.5-.3.5.4.5.5.5.1.5-.6.5-.2.5-.1.5.6.5.2.5 0 .5-.6.5-.2.5.3.5.4.5-.1.5-.4.5 0 .5.4.5-.2.5.1.5 0 .5 0 .5-.4.5.2.5.3.5.2.5-.6.5 0 .5-.1.5.1.5.1.5.6.5-.1.5-.5.5-.6.5.4.5.6.5.2.5-.5.5-.2.5-.1.5.2.5.1.5.4.5-.2.5-.4.5-.1.5.5.5.1.5-.3.5-.3.5.5.5.2.5-.3.5-.7.5.5.5.8.5-.1.5-1.3.5-.1.5 1 .5.7.5-.8.5-.7.5 0 .5 1.2.5 0 .5-.5.5-.7.5.4.5.2.5.2.5-.1.5.1.5-.4.5 0 .5 0 .5.3.5-.2.5.2.5.1.5.1.5-.6.5-.1.5.3.5.6.5-.2.5-.4.5-.3.5.3.5.3.5.1.5-.5.5.1.5.2.5.3.5-.7.5-.2.5.6.5.6.5-.4.5-.8.5-.1.5.6.5.4.5 0 .5-.3.5-.2.5-.3.5.3.5.3.5.1.5-.1.5-.2.5-.2.5 0 .5 0 .5.4.5 0 .5 0 .5-.5.5.3.5 0 .5.2.5-.4.5.1.5.1.5.3.5-.3.5 0 .5 0 .5.1.5-.2.5 0 .5.2.5.2.5-.6.5.1.5.3.5.3.5-.4.5-.4.5.1.5.7.5 0 .5-.4.5-.5.5.3.5.4.5.2.5-.1.5-.3.5-.7.5.4.5.6.5.4.5-.6.5-.8.5.1.5 1.2.5.1.5-.9.5-.5.5.6.5.7.5-.2.5-.8.5 0 .5.6.5.3.5-.8.5-.1.5.4.5.6.5-.3.5-.7.5-.1.5.7.5.4.5-.3.5-.9.5.1.5.8.5.4.5-.6.5-.7.5.1.5.9.5 0 .5-.3.5-.4.5.2.5 0 .5.2.5.1.5 0 .5-.4.5-.1.5.2.5.4.5-.3.5-.2.5.2.5.4.5-.6.5-.2.5.2.5.8.5-.2.5-.6.5-.4.5.5.5.4.5.1.5-.4.5-.3.5-.1.5.5.5.4.5.1.5-.9.5-.4.5.3.5 1.1.5 0 .5-.8.5-.6.5.4.5.5.5.2.5-.4.5-.1.5 0 .5.2.5 0 .5-.1.5-.3.5.3.5.1.5.2.5-.6.5.1.5.2.5.4.5-.6.5-.2.5.2.5.7.5-.2.5-.7.5-.2.5.8.5.3.5-.4.5-.7.5.5.5.4.5-.2.5-.4.5.6.5 0 .5-.6.5-.3.5.7.5.5.5-.3.5-.9.5.2.5.7.5.2.5-.8.5-.2.5.4.5.7.5-.3.5-.5" stroke="#00f"/>
<path d="M111.5,117.42l.5-.1.5.4.5 0 .5 0 .5-.3.5 0 .5 0 .5.2.5-.2.5.2.5 0 .5.1.5-.2.5-.3.5-.1.5.6.5.3.5.1.5-.9.5-.3.5 0 .5 1.1.5.2.5-.5.5-.7.5.3.5.2.5.2.5-.2.5.1.5-.2.5.1.5-.1.5.1.5-.1.5.2.5 0 .5 0 .5-.4.5.3.5 0 .5.2.5-.3.5.1.5-.1.5.3.5-.2.5-.1.5-.2.5.4.5.1.5 0 .5-.4.5-.1.5 0 .5.4.5.2.5.2.5-.6.5-.2.5-.3.5.5.5.2.5.5.5-.2.5-.5.5-.6.5.1.5.6.5.7.5-.1.5-.5.5-.7.5.1.5.3.5.7.5-.3.5 0 .5-.5.5.1.5.2.5.2.5-.4.5.2.5-.4.5.5.5.1.5.4.5-.9.5-.1.5-.4.5 1.3.5-.1.5-.1.5-1.2.5.5.5.3.5.7.5-.5.5.1.5-.9.5 1.2.5-.4.5.3.5-1.3.5.7.5.4.5.4.5-.9.5 0 .5-.6.5 1.3.5.1.5-.2.5-.6.5.1.5 0 .5.5.5-.2.5-.2.5-.3.5.3.5.4.5.2.5-.6.5-.5.5.1.5.9.5.1.5-.2.5-.7.5-.1.5.3.5.5.5-.2.5 0 .5-.3.5.2.5.1.5 0 .5-.5.5.1.5.3.5.5.5-.3.5-.5.5-.2.5.6.5.2.5 0 .5-.7.5.1.5.4.5.5.5-.4.5-.6.5-.3.5.7.5.6.5.1.5-1.1.5-.3.5.6.5.9.5-.4.5-.9.5-.2.5.9.5.5.5-.2.5-.9.5-.1.5.2.5.4.5.2.5.1.5-.3.5-.5.5-.2.5.6.5.6.5 0 .5-.8.5-.4.5.2.5.6.5.1.5 0 .5-.4.5-.1.5 0 .5.3.5-.1.5.2.5-.2.5-.1.5-.1.5.4.5 0 .5-.1.5-.5.5.1.5.5.5.4.5-.4.5-.7.5-.2.5 1.1.5.4.5-.2.5-1.3.5-.1.5.4.5 1.1.5.1.5-.7.5-.9.5.2.5.8.5.6.5-.4.5-.7.5-.4.5.2.5.6.5.7.5-.1.5-.7.5-.9.5.2.5 1.1.5.5.5-.7.5-.7.5-.1.5 1 .5.1.5-.4.5-.6.5.3.5.4.5.1.5-.4.5 0 .5.2.5 0 .5-.4.5 0 .5.2.5.5.5-.2.5-.2.5-.4.5.1.5.2.5.6.5-.1.5-.5.5-.4.5.4.5.4.5-.1.5-.4.5.3.5 0 .5-.2.5-.5.5.4.5.6.5.3.5-.5.5-.7.5-.3.5.5.5.7.5.5.5-.5.5-.9.5-.4.5.7.5.6.5.2.5-.8.5-.3.5.2.5.8.5-.1.5-.4.5-.7.5.5.5.5.5.3.5-.5.5-.4.5-.3.5.6.5.2.5.1.5-.5.5 0 .5.1.5.5.5-.2.5-.5.5-.1.5.5.5.3.5-.1.5-.6.5.1.5.2.5.1.5-.2.5.1.5.1.5.1.5-.2.5-.1.5 0 .5.2.5-.3.5.4.5-.1.5.1.5-.6.5 0 .5.4.5.8.5-.4.5-.7.5-.4.5.4.5.7.5.3.5-.6.5-.4.5-.3.5.2.5.7.5.4.5-.5.5-.5.5-.4.5.7.5.5.5-.1.5-.9.5-.2.5.6.5 1 .5-.3.5-1.2.5-.4.5.5.5 1.3.5.1.5-.9.5-.9.5.1.5 1.1.5.4.5-.3.5-.7.5 0 .5.2.5.2.5-.1.5.1.5 0 .5 0 .5-.3.5 0 .5 0 .5.5.5 0 .5-.1.5-.5.5-.1.5.3.5.5.5 0 .5-.5.5-.4.5.2.5.5.5.4.5-.5.5-.4.5-.2.5.7.5.2.5-.2.5-.6.5.4.5.1.5.2.5-.5.5-.2.5.2.5.6.5-.1.5-.3.5-.3.5.2.5-.1.5.3.5 0 .5.2.5-.1.5-.3.5-.4.5.1.5.3.5.6.5.1.5-.5.5-.8.5 0 .5.6.5 1 .5-.3.5-.8.5-.7.5.4.5.8.5.5.5-.6.5-.6.5-.2.5.6.5.2.5 0 .5-.5.5.4.5.2.5-.2.5-.7.5 0 .5.8.5.6.5-.6.5-.8.5-.1.5 1.2.5.1.5-.7.5-.7.5.8.5.7.5-.2.5-1 .5 0 .5.6.5.4.5-.5.5-.2.5-.1.5.6.5-.2.5.1.5-.3.5-.2.5-.2.5.8.5.5.5-.2.5-1.5.5-.1.5 1 .5 1.1.5-.2.5-1.4.5-.5.5.4.5 1.3.5.2.5-.9.5-.7.5.1.5.9.5.2.5-.2.5-.7.5 0 .5.2.5.5.5 0 .5 0 .5-.6.5-.2.5.1.5.8.5.2.5-.2.5-.8.5-.2.5.1.5 1 .5.1.5-.3.5-.8.5.3.5.2.5.2.5-.7.5.2.5.8.5.2.5-.6.5-.8.5 0 .5.8.5.4.5-.1.5-.3.5 0 .5-.2.5-.2.5-.2.5.4.5.5.5.2.5-.6.5-.4.5 0 .5.5.5.1.5 0 .5-.4.5 0 .5.3.5.2.5-.3.5-.2.5-.3.5.6.5.2.5 0 .5-.5.5.1.5-.1.5.4.5.1.5-.1.5-.4.5-.1.5.2.5.4.5-.3.5-.2.5-.1.5.7.5.1.5-.5.5-.6.5.2.5.8.5.4.5-.9.5-.4.5.3.5.7.5-.2.5-.6.5-.4.5.7.5.6.5.2.5-.7.5-.8.5-.2.5 1.1.5.6.5-.1.5-1 .5-.3.5.2.5.7.5.1.5-.1.5-.5.5-.1.5.1.5.5.5.1.5-.4.5-.6.5.1.5.8.5.5.5-.6.5-.9.5-.2.5 1.2.5.3.5.2.5-1.1.5-.1.5-.3.5 1.2.5-.5.5.6.5-.7.5.2.5-.4.5.8.5-1.5.5.7.5-.6.5 1.2.5-1 .5 1.4.5-1.2.5.7.5-.9.5 1.9.5-1.3.5.4.5-.9.5.3.5-.1.5.6.5-.3.5 1.4.5-1.1.5-.6.5-.8.5 2 .5-.2.5-.1.5-.5.5-.2.5-.8.5.9.5.1.5.6.5-.7.5.2.5-.4.5.3.5-.3.5.7.5-.3.5-.1.5-.4.5.5.5.2.5 0 .5-.6.5-.1.5.2.5.6.5-.2.5-.3.5-.1.5.5.5-.1.5-.3.5-.3.5.5.5.2.5-.2.5-.4.5.4.5.3.5-.2.5-.6.5 0 .5.5.5.4.5-.6.5-.3.5.4.5.8.5-.8.5-.8.5-.1.5 1.3.5.4.5-.2.5-1.4.5 0 .5.7.5.8.5-.4.5-.4.5 0 .5.2.5-.2.5-.1.5 0 .5.4.5 0 .5 0 .5-.3.5-.2.5 0 .5.5.5.2.5-.2.5-.7.5.1.5.4.5.5.5-.3.5-.4.5-.3.5.5.5.3.5 0 .5-.5.5.1.5.1.5.2.5-.5.5 0 .5.3.5.7.5-.3.5-.7.5-.4.5.5.5.7.5.1.5-.7.5-.1.5 0 .5.4.5-.1.5-.1.5-.3.5.2.5.4.5 0 .5-.4.5-.2.5.1.5.5.5-.2.5-.1.5 0 .5.1.5-.2.5 0 .5 0 .5.4.5-.2.5 0 .5-.2.5 0 .5-.2.5.2.5.4.5.3.5-.7.5-.5.5-.1.5 1.2.5.3.5-.5.5-1.1.5 0 .5 1.1.5.7.5-.6.5-1 .5-.2.5.8.5.5.5 0 .5-.9.5 0 .5.5.5.6.5-.6.5-.8.5 0 .5 1.3.5.4.5-.6.5-1.3.5.1.5 1.2.5.7.5-.9.5-1.2.5.2.5 1.5.5.2.5-.8.5-.8.5.3.5.4.5.1.5 0 .5.5.5-.3.5-.8.5-.4.5.8.5.9.5.1.5-1.3.5-.5.5.3.5 1.3.5.1.5-.7.5-.7.5.2.5.5.5.3.5-.4.5 0 .5-.1.5-.1.5 0 .5.5.5.1.5-.2.5-.9.5.1.5.9.5.6.5-.4.5-1.2.5-.1.5.8.5.7.5 0 .5-1 .5-.2.5.3.5.3.5-.2.5.3.5.3.5 0 .5-.9.5-.3.5.2.5 1.1.5.2.5-.3.5-.8.5-.3.5-.1.5.6.5.8.5.2.5-.8.5-.8.5 0 .5.9.5.2.5-.4.5-.2.5.4.5.1.5-.3.5-.7.5.2.5 1 .5.3.5-.4.5-1 .5-.3.5.6.5.9.5.1.5-.5.5-.4.5-.2.5 0 .5.1.5.6.5.3.5-.1.5-1.1.5-.1.5.7.5.8.5-.6.5-.8.5.1.5.9.5.1.5-.5.5-.6.5.5.5.5.5 0 .5-.9.5 0 .5.6.5.6.5-.3.5-.6.5-.5.5.2.5.5.5.7.5 0 .5-.4.5-1 .5-.1.5.5.5 1.2.5-.1.5-1.1.5-.7.5.5.5 1.1.5.3.5-1 .5-.7.5 0 .5 1.1.5.3.5.1.5-.9.5-.5.5.1.5.8.5.2.5 0 .5-.6.5.1.5 0 .5.2.5-.2.5.4.5-.3.5-.1.5-.3.5.3.5.2.5.2.5-.3.5-.2.5.1.5.4.5-.2.5-.3.5-.2.5.6.5.3.5-.2.5-.9.5 0 .5.8.5.7.5-.4.5-.8.5-.5.5.7.5.6.5 0 .5-.6.5-.1.5-.1.5.3.5 0 .5.1.5-.1.5-.1.5 0 .5.5.5-.2.5-.3.5-.5.5.3.5.6.5.2.5-.4.5-.3.5-.3.5.6.5.2.5-.1.5-.4.5 0 .5.2.5.4.5-.2.5-.4.5-.4.5.5.5.6.5.2.5-.8.5-.5.5-.1.5.8.5.4.5.1.5-.4.5-.5.5-.5.5.3.5.8.5.7.5-.5.5-1 .5-.6.5.7.5 1.1.5.2.5-.9.5-.6.5-.1.5.7.5.3.5.1.5-.2.5-.3.5-.3.5 0 .5.4.5.6.5-.3.5-.4.5-.4.5.3.5.4.5.1.5-.3.5 0 .5 0 .5 0 .5-.2.5.1.5.1.5.1.5-.1.5.3.5-.2.5-.3.5-.5.5.8.5.5.5 0 .5-1 .5-.1.5.3.5.7.5-.2.5-.6.5 0 .5.5.5 0 .5 0 .5-.5.5 0 .5.1.5.5.5.1.5 0 .5-.6.5-.3.5.1.5.7.5.1.5-.1.5-.6.5-.2.5.1.5.6.5.3.5.1.5-.7.5-.4.5-.2.5.8.5.6.5.2.5-1.1.5-.4.5 0 .5.7.5.2.5.1.5-.3.5-.2.5-.5.5.1.5.7.5.6.5-.3.5-1 .5-.4.5.7.5.7.5.3.5-.7.5-.5.5-.1.5.5.5.2.5-.1.5-.2.5.2.5.2.5-.1.5-.5.5 0 .5.3.5.4.5-.2.5-.3.5-.2.5.3.5.1.5-.1.5-.1.5.3.5-.2.5.1.5-.3.5.1.5 0 .5.3.5-.1.5-.1.5-.2.5.1.5.1.5.3.5-.3.5-.1.5-.2.5.5.5.2.5-.1.5-.7.5-.1.5.3.5.6.5 0 .5-.4.5-.4.5.3.5.3.5-.1.5-.5.5 0 .5.6.5.7.5-.5.5-.8.5-.4.5.4.5.7.5.3.5-.2.5-.4.5-.4.5.1.5.2.5.5.5-.1.5-.2.5-.5.5.1.5.4.5.4.5-.3.5-.6.5-.3.5.6.5.8.5 0 .5-1 .5-.5.5.3.5 1.3.5.1.5-1 .5-1 .5.4.5 1.4.5.3.5-1.2.5-.8.5.7.5 1.3.5-.1.5-1.6.5-.5.5.8.5 1.3.5.2.5-1 .5-.9.5-.1.5.9.5.6.5 0 .5-.8.5-.3.5.4.5.5.5-.5.5-.3.5.4.5.8.5-.4.5-1 .5-.2.5 1.1.5.4.5-.5.5-1 .5.3.5.9.5.3.5-.8.5-.4.5.2.5.6.5 0 .5-.2.5-.3.5.2.5-.1.5.2.5-.1.5-.1.5-.2.5.5.5.3.5-.2.5-.8.5-.1.5.7.5.5.5-.2.5-.5.5-.4.5.3.5.3.5.3.5-.2.5-.2.5-.4.5.1.5.3.5.6.5-.1.5-.5.5-.8.5.1.5.7.5.9.5-.1.5-1.1.5-.7.5.3.5 1.2.5.5.5-.8.5-.7.5 0 .5.6.5 0 .5-.2.5 0 .5.7.5 0 .5-.9.5-.7.5.5.5 1.3.5.3.5-1.1.5-.9.5.1.5 1.3.5.2.5-.6.5-.5.5.5.5.1.5-.3.5-.4.5.3.5.4.5.4.5-.3.5-.5.5-.4.5.4.5.3.5.4.5-.1.5-.4.5-.6.5.1.5.3.5.8.5 0 .5-.5.5-.8.5 0 .5.7.5.9.5-.2.5-.6.5-.9.5.1.5.3.5.9.5.4.5 0 .5-1.2.5-.5.5-.2.5 1.5.5.4.5-.1.5-1.7.5 0 .5 1 .5.7.5-.6.5-.6.5.1.5.5.5-.1.5-.1.5-.1.5.3.5-.3.5-.1.5.2.5.4.5-.4.5-.1.5-.1.5.4.5 0 .5-.1.5-.5.5.5.5 0 .5.4.5-.8.5.1.5-.4.5 1.2.5-.4.5-.2.5-1.7.5 1.5.5 1 .5-.3.5-1.3.5 1.1.5-1 .5 1.1.5 0 .5.1.5-1.7.5.5.5.7.5.8.5-.6.5.5.5-1.3.5-.2.5.4.5 1.2.5-.4.5-.3.5-.5.5.4.5-.4.5.4.5.1.5.6.5-.5.5-.5.5-.4.5.6.5.5.5.1.5-.5.5-.3.5-.1.5.7.5.1.5-.3.5-.5.5.2.5.3.5.3.5-.3.5-.1.5-.2.5.3.5-.2.5 0 .5 0 .5.4.5-.1.5-.3.5-.3.5.1.5.4.5.3.5-.2.5-.3" stroke="#f00"/>
<path d="M111.5,129.89l.5-.2.5.6.5-.9.5.8.5-1.1.5.4.5-.2.5 1.2.5-.7.5-.1.5-1.3.5 1.6.5.9.5.6.5-3.5.5.5.5.2.5 2.6.5-.9.5-.9.5-1.7.5 2.1.5 0 .5.4.5-.9.5.9.5-.8.5.4.5-.3.5.4.5-.5.5 0 .5-.3.5 1 .5-.2.5-.2.5-.7.5.4.5.2.5.5.5-.5.5 0 .5-.5.5.7.5-.2.5.3.5-.6.5.2.5-.1.5.4.5-.5.5.6.5-.1.5 0 .5-.9.5.5.5.4.5.6.5-1 .5.1.5-.3.5.8.5-.3.5-.2.5-.1.5.7.5-.8.5 0 .5 0 .5 1.2.5-.9.5 0 .5-.3.5.7.5-.9.5.8.5 0 .5.3.5-.8.5-.2.5-.5.5.9.5.6.5 0 .5-1.2.5.7.5-.6.5 1.2.5-1.3.5.7.5-.4.5.4.5-.7.5.5.5.2.5.6.5-.9.5-.2.5 0 .5 1 .5-.5.5-.3.5-.7.5 1 .5.7.5 0 .5-1.6.5.1.5.5.5 1.2.5-.3.5-1.3.5-.5.5 1.4.5.6.5-.6.5-1.3.5.8.5.8.5-.3.5-1 .5.3.5.7.5.3.5-.7.5-.2.5-.3.5.6.5.4.5 0 .5-.5.5-.3.5.1.5.7.5 0 .5-.5.5-.4.5.4.5.5.5-.1.5-.7.5 0 .5.6.5.5.5-.7.5-.6.5.2.5.7.5.1.5 0 .5-.7.5 0 .5-.1.5.7.5.2.5-.3.5-.7.5.3.5.5.5.2.5-.9.5-.2.5.2.5 1.1.5-.1.5-.8.5-.6.5.7.5.6.5-.1.5-.7.5 0 .5.4.5.1.5-.5.5.3.5.3.5 0 .5-.6.5-.2.5.4.5.7.5-.2.5-.5.5-.4.5.3.5.4.5.2.5-.4.5-.2.5-.1.5.5.5 0 .5-.3.5-.3.5.5.5.4.5-.3.5-.8.5.2.5.5.5.4.5-.3.5-.4.5-.3.5.7.5.2.5-.2.5-.6.5.1.5.5.5.3.5-.5.5-.2.5-.1.5.3.5 0 .5.2.5-.1.5 0 .5-.4.5.1.5.2.5.4.5-.2.5-.3.5-.3.5.6.5-.1.5 0 .5-.2.5.2.5-.2.5-.1.5.2.5.4.5-.3.5-.3.5-.1.5.4.5.2.5 0 .5-.5.5-.4.5.4.5 1 .5-.2.5-1.1.5-.5.5 1.1.5.7.5-.1.5-1.3.5-.1.5.5.5.7.5-.1.5-.4.5-.5.5.4.5.1.5.1.5-.2.5.2.5.1.5-.2.5-.5.5.4.5.5.5-.1.5-.6.5-.1.5.4.5.6.5-.3.5-.6.5-.4.5.7.5.6.5 0 .5-1 .5-.2.5.3.5.6.5.1.5-.1.5-.5.5-.2.5.1.5.7.5.2.5-.4.5-1 .5.1.5 1.1.5.5.5-.9.5-.8.5.3.5 1.2.5-.1.5-1.1.5-.4.5 1.2.5.7.5-.6.5-1.4.5.1.5 1.5.5.4.5-1 .5-.6.5.3.5.6.5-.4.5 0 .5.2.5.3.5-.6.5 0 .5.1.5.1.5-.3.5.3.5.3.5 0 .5-.4.5-.2.5.1.5.3.5 0 .5.1.5-.3.5-.1.5.1.5.4.5-.3.5-.1.5-.4.5.5.5.3.5.1.5-.7.5-.3.5.4.5.8.5-.1.5-.9.5-.3.5.8.5.6.5-.3.5-1.1.5.1.5 1 .5.3.5-.7.5-.5.5.1.5.8.5 0 .5-.3.5-.3.5.1.5-.2.5 0 .5.4.5.7.5-.4.5-1 .5-.3.5 1.1.5.7.5-.1.5-1.5.5-.1.5.7.5.9.5-.3.5-.9.5-.1.5.5.5.1.5.2.5-.1.5-.1.5-.4.5 0 .5.1.5.5.5.1.5-.4.5-.5.5.3.5.4.5.2.5-.7.5.1.5.4.5 0 .5-.7.5.4.5.6.5-.1.5-1.1.5.2.5.9.5.3.5-1 .5-.2.5.2.5.5.5-.4.5.3.5.3.5-.1.5-.9.5.1.5.8.5.5.5-.7.5-.7.5 0 .5 1 .5.1.5-.5.5-.6.5.3.5.6.5.3.5-.8.5-.2.5.3.5.7.5-.4.5-.7.5-.1.5 1.1.5.1.5-.7.5-.8.5.6.5.8.5.1.5-.9.5-.2.5.4.5.4.5-.1.5-.1.5-.1.5-.2.5-.4.5.5.5.9.5.1.5-1.5.5-.5.5 1 .5 1.4.5-.9.5-1.4.5.2.5 1.8.5-.6.5-1.3.5.3.5 1.5.5-.2.5-1.2.5-.4.5 1.1.5.6.5-.7.5-.7.5.5.5.4.5-.2.5-.3.5.3.5-.2.5 0 .5.1.5.6.5-.4.5-.6.5-.1.5.8.5.3.5-.4.5-.8.5.3.5.7.5.2.5-.8.5-.3.5.4.5.5.5-.2.5-.4.5 0 .5.5.5-.3.5-.1.5-.2.5.4.5.3.5-.1.5-.6.5-.1.5.4.5.5.5-.2.5-.6.5-.3.5.5.5.5.5.1.5-.6.5-.3.5-.2.5.8.5.4.5-.1.5-1.1.5-.1.5.7.5.8.5-.3.5-.9.5-.2.5.7.5.2.5-.1.5-.3.5.1.5-.3.5.1.5.3.5.4.5-.4.5-.4.5-.3.5.8.5.3.5-.4.5-.7.5.3.5.4.5.6.5-.5.5-.7.5-.2.5.9.5.4.5-.3.5-.7.5-.1.5.1.5.5.5.5.5.2.5-1 .5-.6.5.4.5 1 .5-.2.5-.5.5-.1.5.5.5-.3.5-.3.5.1.5.5.5-.1.5-.2.5-.3.5.3.5.1.5-.1.5-.1.5.2.5 0 .5-.2.5 0 .5.3.5-.3.5-.3.5.3.5.9.5-.5.5-1 .5-.1.5 1.5.5.1.5-1.3.5-.3.5 1.4.5.2.5-1 .5-.8.5.9.5.8.5-.2.5-.6.5-.1.5-.2.5 0 .5.4.5.7.5-.2.5-.8.5-.3.5.5.5.5.5-.3.5-.4.5.3.5.3.5-.1.5-.5.5-.1.5.4.5.5.5-.2.5-.4.5-.3.5.3.5.3.5.3.5-.7.5-.2.5.1.5.8.5-.2.5-.4.5-.3.5.5.5.2.5-.2.5-.5.5.4.5.4.5-.3.5-.7.5.3.5.7.5.1.5-.9.5-.1.5.6.5.4.5-.5.5-.3.5 0 .5.3.5.2.5.1.5-.5.5-.2.5 0 .5.6.5.2.5 0 .5-.9.5 0 .5.3.5.6.5 0 .5-.1.5-.6.5-.2.5-.1.5 1 .5.3.5-.4.5-1.1.5.2.5 1 .5.3.5-.9.5-.2.5.4.5.3.5-.3.5 0 .5-.1.5.2.5 0 .5 0 .5-.3.5 0 .5.2.5.3.5-.1.5-.2.5-.3.5.3.5 0 .5.3.5-.3.5 0 .5-.2.5.4.5-.1.5-.3.5-.1.5.7.5 0 .5-.7.5-.2.5.9.5.2.5-.5.5-.9.5.6.5 1 .5-.2.5-1.3.5-.1.5 1.1.5.6.5-.8.5-.9.5.2.5 1.1.5.2.5-.6.5-.8.5.4.5.4.5.3.5-.3.5-.3.5-.2.5.2.5.6.5.2.5-.6.5-.7.5.1.5 1.2.5.2.5-.6.5-1.1.5.2.5 1 .5.7.5-.6.5-.9.5-.4.5.7.5.8.5.1.5-.9.5-.3.5 0 .5 1.1.5-.1.5-.9.5-.3.5.9.5.5.5-.3.5-.8.5-.1.5.2.5.7.5.1.5-.1.5-.9.5 0 .5.5.5.6.5-.3.5-.6.5-.2.5.5.5.4.5-.1.5-.7.5-.1.5.4.5.8.5-.3.5-.7.5-.3.5.7.5.3.5 0 .5-.8.5.2.5.4.5 0 .5-.4.5 0 .5.2.5.2.5-.1.5-.1.5-.1.5 0 .5-.1.5.3.5-.1.5-.1.5 0 .5.5.5-.2.5-.6.5-.1.5.9.5.1.5-.5.5-.8.5.6.5.7.5.1.5-1.1.5-.1.5.5.5.9.5-.4.5-1.1.5-.2.5 1.3.5.4.5-.3.5-1.3.5.3.5.6.5.6.5-.6.5-.1.5-.2.5-.1.5.2.5.6.5-.1.5-.9.5-.4.5 1.2.5.6.5-.6.5-1.3.5.4.5 1.3.5.1.5-1.2.5-.3.5.8.5.5.5-.5.5-.7.5.1.5 1 .5.3.5-.7.5-.9.5.4.5.9.5 0 .5-.9.5 0 .5.5.5.2.5-.5.5.1.5.2.5 0 .5-.5.5.5.5.3.5-.5.5-.5.5.9.5.5.5-1 .5-.9.5.9.5 1.4.5-.1.5-2.1.5-.3.5.7.5 1.9.5-.3.5-1.8.5-.5.5 1.1.5 1.2.5-.3.5-1.3.5.1.5.7.5.2.5-.6.5 0 .5.3.5.2.5-.6.5-.1.5.4.5.4.5-.2.5-.3.5-.2.5.2.5-.1.5.4.5-.1.5-.1.5-.2.5.1.5.1.5.2.5-.2.5 0 .5-.1.5.1.5 0 .5.1.5-.1.5.1.5-.4.5.3.5.2.5.1.5-.4.5-.3.5 0 .5.9.5-.1.5-.7.5-.4.5.6.5.7.5.1.5-1.2.5 0 .5.8.5.3.5-.9.5-.3.5.6.5.8.5-.5.5-1 .5 0 .5 1.2.5.2.5-.7.5-.6.5.5.5.4.5.1.5-.4.5-.3.5-.2.5.6.5.3.5 0 .5-.8.5-.1.5.2.5.8.5-.1.5-.5.5-.4.5.4.5.4.5-.1.5-.4.5.2.5.1.5 0 .5-.5.5.4.5.4.5 0 .5-1 .5.1.5.6.5.7.5-.7.5-.6.5.1.5.9.5-.4.5-.4.5.1.5.9.5-.4.5-.8.5-.1.5.9.5.1.5-.4.5-.3.5.4.5.1.5-.2.5-.4.5.5.5.3.5 0 .5-.7.5-.3.5.3.5 1.1.5-.3.5-.8.5-.5.5.6.5.6.5-.1.5-.2.5.1.5-.4.5-.3.5.2.5.9.5-.2.5-.6.5-.2.5.6.5 0 .5-.4.5-.1.5.7.5-.2.5-.2.5-.2.5.4.5-.3.5 0 .5.1.5.5.5-.6.5-.3.5.1.5.7.5-.1.5-.4.5-.4.5.3.5.6.5.1.5-.8.5-.1.5.1.5.7.5 0 .5-.4.5-.5.5.2.5.5.5.2.5-.5.5-.2.5 0 .5.6.5-.1.5-.3.5-.3.5.6.5.1.5-.3.5-.4.5.2.5.4.5.4.5-.5.5-.3.5-.3.5.4.5.6.5 0 .5-.7.5-.4.5.3.5.9.5-.2.5-.7.5-.3.5.9.5.2.5-.6.5-.6.5.5.5.8.5-.1.5-1 .5.1.5.6.5.3.5-.6.5-.1.5.1.5.5.5-.4.5 0 .5-.2.5.3.5 0 .5.1.5-.3.5-.1.5.1.5.2.5 0 .5-.2.5.1.5.2.5-.4.5-.1.5.3.5.5.5-.5.5-.4.5.2.5.5.5-.3.5 0 .5.1.5 0 .5-.3.5.2.5.2.5 0 .5-.6.5.2.5.4.5.3.5-.7.5-.4.5.3.5.8.5-.1.5-.4.5-.5.5.3.5.3.5-.1.5-.1.5.4.5-.2.5-.2.5-.2.5.3.5-.1.5.3.5-.1.5.2.5-.3.5-.4.5-.2.5 1.1.5.1.5-.6.5-.9.5 1 .5.4.5-.3.5-1.1.5.9.5.2.5.5.5-1.4.5.7.5-.3.5.7.5-.9.5.5.5-.7.5 1 .5-.6.5.7.5-.8.5.3.5-.5.5 1.1.5-.6.5.6.5-1.1.5 1 .5-.2.5.1.5-1 .5.9.5.2.5.1.5-1.2.5.2.5.7.5.3.5-.4.5-.1.5-.3.5.2.5.1.5.4.5-.3.5-.2.5-.3.5.6.5 0 .5-.1.5-.5.5.3.5.3.5.2.5-.4.5-.3.5 0 .5.5.5 0 .5-.1.5-.2.5.2.5-.2.5 0 .5 0 .5.3.5 0 .5-.2.5-.2.5.3.5-.2.5.4.5-.2.5-.1.5-.3.5.3.5.3.5 0 .5-.9.5.1.5.7.5.4.5-.7.5-.4.5.4.5.6.5-.5.5-.5.5.5.5.6.5-.7.5-.5.5.5.5.7.5-.4.5-.5.5-.2.5.6.5.1.5.1.5-.4.5-.2.5.1.5.3.5.1.5 0 .5-.4.5 0 .5.1.5.3.5 0 .5-.2.5-.3.5.2.5.4.5.1.5-.6.5-.1.5 0 .5.7.5-.2.5-.2.5-.4.5.3.5.1.5.4.5-.2.5-.3.5-.3.5.6.5.1.5-.2.5-.6.5.4.5.4.5.1.5-.7.5-.1.5.4.5.4.5-.2.5-.4.5-.1.5.4.5.1.5-.1.5-.3.5.1.5.1.5.3.5-.3.5-.2.5.1.5.5.5-.2.5-.5.5-.2.5.7.5.4.5-.4.5-.8.5 0 .5.8.5.5.5-.6.5-.6.5.1.5.8.5 0 .5-.5.5-.4.5.4.5.4.5.1.5-.4.5-.2.5-.2.5.5.5.3.5-.1.5-.7.5 0 .5.4.5.6.5-.3.5-.7.5-.3.5.9.5.6.5-.1.5-1.4.5-.2.5.7.5 1.2.5-.4.5-1.3.5-.4.5 1.3.5.7.5-.3.5-1.4.5.1.5.8.5.7.5-.5.5-.7.5-.2.5.8.5.3.5-.1.5-.7.5.1.5.1.5.4.5-.2.5 0 .5-.1.5 0 .5-.4.5 0 .5.7.5.5.5-.5.5-.9.5-.1.5.9.5.5.5-.3.5-.9.5 0 .5.4.5.7.5-.3.5-.5.5-.4.5.6.5.4.5.1.5-.8.5-.2.5.3.5.6.5-.2.5-.2.5-.3.5.1.5.1.5.6.5-.3.5-.6.5-.2.5 1 .5.1.5-.5" stroke="#00f"/>
<path d="M111.5,141.66l.5-.2.5.4.5.3.5 0 .5-.5.5.1.5 0 .5.2.5-.1.5.1.5-.1.5.1.5-.1.5-.2.5-.1.5.4.5.1.5.1.5-.5.5-.1.5 0 .5.6.5-.1.5-.2.5-.2.5.2.5-.1.5 0 .5.1.5.5.5-.3.5-.5.5-.3.5.6.5.6.5 0 .5-.9.5-.3.5.3.5.7.5 0 .5-.4.5-.3.5.1.5 0 .5.3.5 0 .5.3.5-.4.5-.4.5-.1.5.8.5.3.5-.2.5-1.1.5 0 .5 1.1.5.5.5-.6.5-1.2.5.1.5 1.2.5.3.5-.4.5-.9.5.2.5.4.5.4.5-.2.5-.4.5-.2.5.5.5.1.5-.1.5-.3.5.1.5.2.5.1.5-.3.5 0 .5 0 .5.2.5 0 .5.1.5-.4.5.1.5.1.5.4.5-.2.5-.5.5-.3.5.8.5.4.5-.3.5-1 .5.1.5 1.1.5.4.5-1.1.5-.6.5.3.5 1.4.5-.2.5-.9.5-.6.5.4.5.9.5.3.5-.6.5-.7.5-.2.5.9.5.4.5-.3.5-.8.5.2.5.6.5 0 .5-.7.5.1.5.5.5.2.5-.5.5-.2.5.1.5.7.5-.2.5-.4.5-.2.5.4.5-.1.5-.1.5.2.5.3.5-.3.5-.4.5-.2.5.8.5.1.5 0 .5-1 .5.2.5.5.5.4.5-.4.5-.3.5 0 .5.3.5 0 .5-.1.5-.1.5.1.5-.1.5.1.5 0 .5.3.5-.2.5-.3.5-.3.5.6.5.4.5-.1.5-.9.5-.1.5.7.5.6.5-.4.5-.6.5-.3.5.8.5.3.5-.1.5-.9.5.2.5.3.5.4.5-.2.5-.3.5-.1.5.1.5 0 .5.2.5 0 .5.3.5-.4.5-.3.5-.1.5.6.5.1.5-.1.5-.4.5 0 .5.1.5.3.5 0 .5-.1.5-.3.5.1.5 0 .5.3.5-.3.5-.1.5.1.5.7.5-.3.5-.7.5-.3.5.8.5.5.5 0 .5-1.3.5.1.5.7.5.8.5-.7.5-.9.5 0 .5 1.4.5.2.5-1.2.5-.8.5 1 .5 1 .5-.1.5-1.5.5-.1.5.7.5.8.5-.4.5-.5.5 0 .5.4.5-.6.5 0 .5.6.5.5.5-.5.5-.7.5-.1.5.7.5.2.5 0 .5-.4.5.1.5 0 .5-.1.5-.2.5.4.5.2.5.1.5-.6.5-.3.5.1.5.9.5.2.5-.6.5-.8.5.2.5.9.5.5.5-.6.5-.8.5-.3.5.6.5.9.5.3.5-1.1.5-.9.5 0 .5 2 .5.1.5-1.1.5-1.2.5.5.5 1.5.5.2.5-1.6.5-.3.5.8.5 1.1.5-.6.5-1 .5-.2.5 1 .5.3.5 0 .5-.6.5-.1.5-.2.5.2.5.1.5.7.5-.2.5-.6.5-.6.5.8.5.6.5-.4.5-.9.5.5.5.8.5 0 .5-1 .5-.1.5.4.5.3.5-.3.5.3.5.2.5-.3.5-.7.5.3.5.6.5.3.5-.4.5-.5.5-.1.5.3.5.1.5.3.5.1.5-.2.5-.9.5.3.5.7.5.4.5-.6.5-.6.5 0 .5.8.5.2.5-.2.5-.7.5 0 .5.1.5.7.5.1.5-.4.5-.8.5.3.5.8.5.2.5-.5.5-.5.5-.2.5.7.5.3.5.1.5-.9.5.1.5.2.5.4.5-.4.5-.1.5.3.5.4.5-.5.5-.6.5 0 .5 1.2.5.2.5-.8.5-.9.5.3.5 1.2.5.3.5-.6.5-1.1.5-.2.5 1.4.5.5.5-.3.5-1.4.5.1.5.7.5.5.5-.5.5 0 .5.3.5-.3.5-.6.5.4.5.6.5 0 .5-.9.5 0 .5.7.5.4.5-.5.5-.5.5 0 .5.7.5 0 .5-.2.5-.5.5.1.5.4.5.3.5-.4.5-.1.5-.3.5.5.5-.1.5.1.5-.3.5.3.5-.2.5.1.5-.1.5.3.5-.1.5 0 .5-.2.5.2.5-.2.5 0 .5.2.5.4.5-.4.5-.5.5-.1.5.8.5.1.5-.5.5-.4.5.8.5.1.5-.4.5-.7.5.4.5.8.5.2.5-1 .5-.3.5.3.5.9.5-.1.5-.6.5-.3.5.5.5.3.5-.5.5-.6.5.7.5.8.5-.2.5-1.5.5.1.5 1.2.5.7.5-1.1.5-.7.5.3.5.9.5-.3.5-.5.5-.1.5.9.5-.2.5-.4.5-.6.5.6.5.6.5 0 .5-1 .5.2.5.4.5.4.5-.7.5-.1.5.2.5.3.5-.2.5.3.5-.2.5-.2.5-.5.5.7.5.4.5-.3.5-.8.5.4.5.7.5-.2.5-.8.5.2.5.8.5.2.5-1 .5-.3.5.3.5 1 .5-.1.5-.6.5-.6.5.2.5.6.5.4.5-.3.5-.4.5-.4.5.3.5.5.5.3.5-.7.5-.3.5.1.5.4.5 0 .5-.1.5-.2.5.3.5 0 .5.1.5-.3.5 0 .5-.1.5.3.5-.1.5.1.5 0 .5.1.5-.4.5-.1.5.3.5.5.5-.2.5-.6.5-.3.5.6.5.4.5.3.5-1.2.5 0 .5.4.5.6.5-.4.5-.4.5-.1.5.7.5-.2.5-.3.5-.2.5.3.5.3.5.1.5-.3.5-.1.5-.2.5.3.5.2.5.1.5-.4.5-.2.5.1.5.5.5.1.5-.5.5-.5.5.5.5.6.5-.1.5-.7.5-.1.5.4.5.5.5-.4.5-.5.5-.1.5.7.5.4.5-.3.5-.9.5 0 .5.8.5.5.5-.4.5-.8.5-.1.5.7.5.6.5-.2.5-.9.5-.3.5.6.5.9.5-.6.5-.9.5.1.5 1.2.5.1.5-1 .5-.5.5.7.5.7.5 0 .5-1.1.5 0 .5.6.5.5.5-.6.5-.5.5.2.5 1 .5 0 .5-1 .5-.7.5.6.5 1.2.5.2.5-1.1.5-.7.5 0 .5 1.1.5.3.5 0 .5-.5.5-.2.5-.6.5.2.5.7.5.7.5-.5.5-.8.5-.4.5.6.5.5.5.3.5-.6.5-.2.5 0 .5.1.5 0 .5.6.5-.2.5-.7.5-.3.5 1 .5.4.5-.4.5-1 .5.3.5.9.5 0 .5-1 .5 0 .5.6.5.7.5-.6.5-.7.5-.3.5.7.5.5.5.4.5-.6.5-1 .5-.1.5 1.3.5.6.5-.7.5-1.3.5.3.5 1.2.5.4.5-1 .5-.4.5.3.5.5.5-.5.5 0 .5.2.5.5.5-.3.5-.6.5-.1.5.9.5.2.5-.2.5-1 .5 0 .5.8.5.5.5-.4.5-.8.5-.2.5 1.1.5-.1.5-.3.5-.3.5.5.5-.1.5-.2.5-.3.5.5.5.3.5-.1.5-.6.5-.2.5.3.5.7.5.1.5-.7.5-.7.5.5.5.9.5.1.5-1.1.5-.1.5.4.5.6.5-.3.5-.5.5 0 .5.5.5.1.5-.3.5-.2.5 0 .5.2.5.3.5-.1.5-.3.5-.4.5.3.5.5.5.2.5-.7.5-.1.5.2.5.3.5-.3.5.2.5.2.5-.2.5-.6.5.3.5.5.5.1.5-.5.5-.2.5.3.5.1.5-.2.5.2.5.1.5-.1.5-.4.5.3.5.2.5 0 .5-.6.5.2.5.5.5.1.5-.8.5-.1.5.7.5.5.5-.5.5-.8.5-.1.5.9.5.5.5-.1.5-1 .5-.1.5.2.5.9.5-.1.5-.6.5-.6.5.3.5.7.5.4.5-.7.5-.6.5 0 .5.9.5.2.5-.2.5-.5.5-.1.5-.1.5.2.5.5.5.4.5-.5.5-.7.5-.2.5.9.5.4.5-.2.5-.7.5-.1.5.1.5.4.5.2.5.1.5-.6.5-.4.5.3.5.9.5-.1.5-.6.5-.5.5.5.5.6.5 0 .5-.9.5 0 .5.4.5.4.5-.2.5-.2.5-.2.5.1.5 0 .5.3.5.1.5-.1.5-.6.5 0 .5.5.5.4.5-.5.5-.4.5.4.5.6.5-.4.5-.8.5.1.5 1.1.5 0 .5-.5.5-.8.5.4.5.6.5.1.5-.6.5.2.5.1.5-.4.5-.2.5.8.5.3.5-.3.5-.9.5.1.5.9.5.2.5-.7.5-.5.5.3.5.8.5-.1.5-.6.5-.2.5.4.5.2.5 0 .5-.3.5 0 .5 0 .5.2.5-.1.5 0 .5 0 .5 0 .5-.1.5.2.5 0 .5-.2.5-.2.5.4.5 0 .5 0 .5-.3.5.2.5.1.5 0 .5-.3.5.2.5.1.5 0 .5-.4.5.2.5.2.5.3.5-.4.5-.2.5-.1.5.4.5 0 .5 0 .5-.3.5.2.5 0 .5-.1.5-.3.5.5.5.2.5 0 .5-.5.5-.1.5-.1.5.5.5 0 .5.1.5-.1.5-.1.5-.3.5.1.5.2.5.4.5-.3.5-.4.5-.1.5.8.5-.1.5-.3.5-.5.5.3.5.3.5.2.5-.3.5 0 .5-.1.5.2.5 0 .5 0 .5-.3.5 0 .5.2.5.5.5-.3.5-.5.5-.4.5.7.5.6.5-.1.5-1.1.5.2.5.8.5.2.5-1 .5-.3.5.9.5.6.5-.6.5-.8.5 0 .5 1 .5.2.5-.6.5-.6.5.5.5.3.5 0 .5-.3.5.1.5.1.5 0 .5-.4.5.1.5.3.5.5.5-.4.5-.6.5-.1.5.7.5.1.5-.2.5-.3.5.4.5-.1.5-.1.5-.2.5.3.5-.2.5 0 .5.2.5.3.5-.5.5-.3.5-.1.5.9.5.1.5-.5.5-.7.5.5.5.4.5.3.5-.6.5-.2.5-.1.5.7.5.1.5-.3.5-.8.5.3.5.9.5.4.5-1 .5-.7.5.3.5 1.1.5 0 .5-.6.5-.7.5.6.5.6.5.1.5-.9.5-.2.5.2.5.9.5-.1.5-.7.5-.4.5.5.5.6.5.1.5-.9.5-.2.5.2.5.9.5-.1.5-.7.5-.4.5.4.5.4.5.2.5-.5.5-.2.5 0 .5.5.5 0 .5 0 .5-.6.5 0 .5.5.5.6.5-.3.5-.8.5-.4.5.7.5.8.5 0 .5-1 .5-.4.5.4.5.8.5.1.5-.6.5-.8.5.3.5.8.5.5.5-.7.5-.9.5.1.5 1.4.5 0 .5-.8.5-.7.5.8.5.6.5-.3.5-.8.5.3.5.4.5.1.5-.4.5.2.5-.1.5.2.5-.5.5.3.5.2.5.1.5-.5.5-.1.5 0 .5.6.5 0 .5-.3.5-.6.5.2.5.5.5.5.5-.4.5-.7.5-.2.5.8.5.4.5-.1.5-.7.5 0 .5.2.5.2.5-.3.5.3.5-.1.5-.1.5-.1.5.3.5.1.5 0 .5-.3.5-.1.5-.1.5.5.5.1.5-.1.5-.7.5.2.5.4.5.5.5-.2.5-.9.5-.2.5.8.5.5.5 0 .5-1.1.5-.2.5.4.5.9.5-.1.5-.5.5-.6.5.5.5.4.5.1.5-.6.5-.2.5.3.5.6.5-.3.5-.6.5-.1.5.7.5.2.5-.3.5-.5.5.3.5.4.5 0 .5-.9.5.3.5.7.5.3.5-.8.5-.6.5 0 .5 1.2.5.2.5-.4.5-1 .5.3.5.6.5.4.5-.5.5-.7.5 0 .5 1.1.5.3.5-.6.5-1.2.5.3.5 1.2.5.6.5-1.1.5-.8.5-.1.5 1.5.5.3.5-.6.5-1.1.5.4.5.5.5.1.5-.2.5.3.5-.3.5-.1.5-.1.5.5.5-.3.5-.2.5.2.5.2.5-.3.5 0 .5.3.5.2.5-.8.5-.1.5.6.5.5.5-.3.5-.7.5-.2.5.7.5.3.5-.1.5-.4.5 0 .5-.2.5.4.5.2.5-.1.5-.6.5 0 .5.7.5.5.5-1 .5-.6.5.2.5 1.3.5 0 .5-.6.5-.8.5.3.5.7.5.2.5-.7.5 0 .5.2.5.4.5-.1.5-.4.5-.6.5.3.5.9.5.3.5-1 .5-.5.5.2.5 1 .5.1.5-.7.5-.6.5.7.5.4.5-.1.5-.8.5.4.5.3.5 0 .5-.6.5.3.5.3.5.1.5-.7.5.1.5.4.5.3.5-.4.5-.2.5 0 .5.4.5-.1.5-.2.5.1.5.4.5-.2.5-.6.5-.3.5.9.5.5.5 0 .5-1.3.5 0 .5.7.5.4.5-.6.5-.1.5.4.5.2.5-.8.5-.2.5.4.5.9.5-.3.5-.6.5-.3.5.6.5-.1.5-.1.5 0 .5.6.5-.1.5-.8.5-.4.5.8.5.7.5-.1.5-.7.5-.4.5 0 .5.5.5.3.5.4.5-.6.5-.7.5-.2.5 1.1.5.5.5-.4.5-1.2.5.1.5.7.5.8.5-.4.5-.9.5-.2.5.7.5.4.5 0 .5-.5.5-.2.5 0 .5.5.5 0 .5-.2.5-.1.5.2.5-.1.5-.2.5 0 .5.6.5 0 .5-.4.5-.5.5.4.5.3.5.1.5-.4.5 0 .5 0 .5.1.5 0 .5.1.5 0 .5 0 .5-.2.5-.2.5 0 .5.8.5 0 .5-.5.5-.8.5.5.5.8.5.2.5-1.1.5-.1.5.7.5.4.5-.8.5-.2.5.5.5.6.5-.9.5-.3.5.6.5.6.5-.6.5-.7.5.2.5.9.5.1.5-.7.5-.6.5.6.5.6.5 0 .5-.8.5-.1.5.3.5.6.5-.5.5-.2.5.1.5.5.5-.3.5-.4.5 0 .5.4.5.1.5.1.5-.5.5-.2.5-.2.5 1 .5.2.5-.4.5-.9.5.2.5.8.5.3.5-.5.5-.5.5 0 .5.6.5 0 .5-.1.5-.3.5.1.5.1.5.3" stroke="#f00"/>
<path d="M111.5,153.93l.5 0 .5.3.5-.4.5-.1.5.4.5.4.5-.5.5-.6.5 0 .5 1 .5.3.5-.2.5-1.2.5-.2.5.7.5 1.1.5 0 .5-.9.5-1 .5.3.5 1 .5.4.5-.4.5-.3.5-.2.5-.1.5-.3.5.7.5.4.5.1.5-1.1.5-.1.5.5.5.7.5-.5.5-.4.5 0 .5.5.5-.1.5 0 .5-.1.5.3.5-.4.5-.1.5-.3.5.3.5.1.5.8.5-.1.5-.9.5-.6.5.4.5 1.2.5.2.5-1 .5-.7.5 0 .5 1.3.5.1.5-.3.5-1.1.5.4.5.6.5.4.5-.5.5-.5.5-.1.5.6.5.2.5.1.5-.7.5-.1.5.2.5.5.5-.1.5.1.5-.5.5-.2.5 0 .5.7.5.1.5-.1.5-.8.5 0 .5.5.5.5.5-.3.5-.3.5-.1.5.1.5-.2.5.3.5.3.5.1.5-.9.5.1.5.7.5.4.5-.8.5-.6.5.2.5 1 .5 0 .5-.7.5-.3.5.4.5.1.5.2.5-.2.5.3.5-.5.5-.1.5.1.5.4.5-.2.5 0 .5-.2.5.2.5-.2.5.2.5.2.5.3.5-.6.5-.4.5-.1.5.8.5.3.5.1.5-.8.5-.2.5 0 .5.5.5.1.5.2.5-.2.5-.3.5-.5.5.4.5.6.5.3.5-.7.5-.5.5-.1.5.8.5.4.5.1.5-1.1.5-.2.5 0 .5 1.1.5.2.5-.3.5-1 .5.1.5.4.5.7.5-.1.5-.5.5-.6.5.6.5.3.5.1.5-.7.5-.2.5.4.5.6.5-.2.5-.4.5-.4.5.4.5.3.5.2.5-.2.5-.2.5-.3.5 0 .5.2.5.4.5-.1.5 0 .5-.3.5 0 .5-.1.5.2.5.1.5.1.5-.2.5 0 .5-.1.5 0 .5-.1.5.3.5 0 .5-.1.5-.3.5.4.5-.1.5.3.5-.6.5-.1.5.3.5.7.5-.1.5-.6.5-.5.5.3.5.3.5.7.5-.4.5-.9.5-.1.5 1 .5.6.5-.2.5-1.8.5.1.5 1.1.5 1.1.5-.4.5-1.2.5-.6.5.4.5.6.5.7.5 0 .5-.2.5-1.2.5-.1.5.5.5 1.2.5-.2.5-1.2.5-.5.5 1.3.5.7.5-.2.5-1.6.5-.2.5.5.5 1.3.5 0 .5-.7.5-1 .5.4.5.6.5.7.5-.7.5-.5.5-.1.5.6.5.4.5-.1.5-.8.5-.3.5.3.5 1.2.5 0 .5-.9.5-.8.5.5.5 1 .5.2.5-1.3.5.1.5.6.5.5.5-1.3.5-.2.5.7.5 1.2.5-.4.5-1.5.5-.2.5 1.3.5.3.5-.1.5-1 .5.1.5.3.5.5.5-.3.5-.2.5-.3.5.3.5.4.5.1.5-.7.5.1.5.3.5.3.5-.5.5 0 .5.1.5.3.5-.4.5-.2.5.1.5.6.5-.1.5-.2.5-.4.5.1.5.1.5.4.5-.2.5 0 .5-.2.5.1.5-.2.5-.1.5 0 .5.5.5.3.5-.2.5-.7.5-.1.5.2.5.8.5-.1.5-.3.5-.6.5.2.5.3.5.5.5-.2.5-.4.5-.3.5.2.5.4.5.3.5-.5.5-.3.5 0 .5.6.5 0 .5-.2.5-.5.5.4.5.1.5 0 .5-.5.5.5.5.2.5.2.5-1.1.5.1.5.6.5.7.5-.5.5-.7.5-.5.5 1 .5.6.5-.1.5-1.1.5-.1.5.5.5.6.5-.3.5-.5.5-.2.5.7.5.3.5-.2.5-1.1.5.3.5.9.5.4.5-.5.5-.9.5-.1.5.9.5.2.5-.3.5-.4.5.6.5-.1.5-.2.5-.4.5.3.5.1.5.3.5-.2.5.1.5-.4.5 0 .5 0 .5.7.5-.2.5-.2.5-.5.5.2.5.1.5.4.5-.1.5 0 .5-.7.5 0 .5.5.5.9.5-.6.5-1.1.5-.2.5 1.4.5.5.5-.6.5-1 .5.2.5.7.5.2.5-.6.5.1.5.3.5.2.5-.6.5-.3.5 0 .5 1.1.5.2.5-.4.5-1.2.5.1.5.7.5.9.5-.5.5-.8.5-.2.5.8.5 0 .5-.2.5-.2.5.5.5 0 .5-.6.5-.5.5.8.5.7.5-.1.5-1.1.5-.2.5.5.5.9.5-.4.5-.4.5-.3.5.4.5.1.5 0 .5-.2.5.1.5 0 .5.1.5-.2.5 0 .5 0 .5.2.5-.1.5.1.5-.2.5.2.5-.2.5-.1.5.1.5.5.5-.2.5-.3.5-.4.5.3.5.4.5.3.5-.5.5-.2.5-.2.5.5.5.1.5 0 .5-.4.5.2.5-.2.5.1.5-.1.5.4.5 0 .5-.1.5-.5.5.5.5.2.5-.3.5-.6.5.4.5.8.5.4.5-1.5.5-.4.5.5.5 1.3.5-.1.5-1.2.5-.7.5 1 .5.8.5-.3.5-.8.5-.1.5.6.5.7.5-.6.5-.5.5-.2.5.6.5.1.5.1.5-.3.5 0 .5-.2.5 0 .5 0 .5.6.5.1.5-.5.5-.7.5.2.5.7.5.8.5-.8.5-.6.5-.2.5.6.5.4.5-.1.5-.6.5.3.5.2.5-.3.5-.5.5.5.5.4.5.1.5-.8.5.1.5.4.5.4.5-.6.5-.3.5.2.5.9.5-.3.5-.6.5-.5.5.7.5.2.5 0 .5-.4.5.3.5 0 .5.1.5-.7.5 0 .5.4.5.6.5-.1.5-.5.5-.6.5.2.5 1 .5.4.5-.6.5-1 .5-.2.5 1.2.5.5.5-.5.5-1.2.5.3.5 1.1.5.3.5-1.2.5-.2.5.1.5 1 .5 0 .5-.4.5-.5.5.3.5-.1.5.1.5-.1.5.4.5.2.5-.1.5-.7.5-.1.5.2.5.8.5-.1.5-.2.5-.6.5.2.5.1.5.1.5-.1.5.4.5-.1.5-.4.5-.2.5.4.5.4.5-.1.5-.6.5 0 .5.1.5.3.5.1.5.1.5-.2.5-.3.5-.3.5.4.5.4.5.2.5-.5.5-.3.5.1.5.4.5-.1.5-.3.5 0 .5.3.5.1.5-.1.5-.4.5.1.5.1.5.4.5-.1.5 0 .5-.5.5-.1.5.2.5.7.5-.1.5-.6.5-.6.5.4.5 1 .5.3.5-1.4.5-.3.5.5.5 1.4.5-.2.5-1.5.5-.6.5.7.5 1.5.5.2.5-1 .5-1.2.5 0 .5 1.1.5.7.5 0 .5-1.1.5-.4.5.3.5 1 .5-.1.5-.6.5-.6.5.6.5.4.5 0 .5-.7.5.1.5.5.5.4.5-.5.5-.6.5-.1.5.9.5.2.5-.1.5-1 .5.3.5.3.5.3.5-.5.5.1.5.2.5.2.5-.6.5.1.5.1.5.5.5-.3.5-.1.5-.4.5.3.5 0 .5.4.5 0 .5-.4.5-.5.5.2.5.6.5.5.5-.6.5-.5.5-.3.5.6.5.3.5.2.5-.3.5 0 .5-.4.5-.1.5 0 .5.8.5.1.5-.1.5-.7.5 0 .5-.3.5.6.5.4.5.2.5-.6.5-.6.5-.1.5.9.5.4.5-.1.5-.8.5-.2.5.3.5.7.5 0 .5-.7.5-.4.5.5.5.7.5 0 .5-1.1.5-.2.5.6.5.8.5-.2.5-.7.5-.4.5.6.5.2.5 0 .5-.4.5.2.5.3.5.1.5-.8.5-.1.5 0 .5.8.5.2.5.2.5-1.2.5 0 .5 0 .5.8.5.1.5-.2.5-.4.5.1.5.1.5.2.5-.3.5-.2.5.3.5.6.5-.2.5-.6.5-.5.5.6.5.6.5.1.5-.7.5-.4.5 0 .5.5.5.2.5.4.5-.6.5-.3.5-.3.5.5.5.4.5.2.5-.4.5-.4.5-.3.5.7.5.2.5.2.5-.5.5-.1.5-.2.5.3.5.1.5.2.5-.4.5-.1.5.1.5.6.5-.4.5-.3.5-.3.5.4.5.3.5.3.5-.6.5 0 .5.2.5.2.5-.5.5-.1.5-.2.5.8.5.2.5-.1.5-.6.5-.4.5-.1.5.9.5.2.5 0 .5-.7.5.1.5.2.5.1.5-.4.5.2.5.5.5.2.5-.9.5-.3.5.2.5.6.5.1.5 0 .5-.2.5-.1.5-.4.5.1.5.3.5.7.5-.2.5-.6.5-.7.5.4.5.8.5.3.5-.5.5-.6.5-.2.5.7.5.2.5.1.5-.8.5.2.5.1.5.4.5-.4.5.1.5-.1.5.3.5-.4.5 0 .5.2.5.3.5-.1.5-.4.5-.1.5.4.5 0 .5-.1.5-.2.5.1.5.1.5.3.5-.1.5.2.5-.7.5-.2.5.3.5.9.5-.1.5-.7.5-.6.5.4.5.5.5 0 .5-.4.5.5.5.2.5-.5.5-.8.5.2.5 1.1.5.4.5-.9.5-.7.5-.1.5 1.1.5.3.5-.2.5-.9.5-.1.5.3.5.9.5 0 .5-.7.5-.7.5.4.5.7.5.5.5-.7.5-.6.5.1.5.6.5 0 .5 0 .5-.3.5.1.5-.2.5 0 .5-.1.5.7.5-.2.5-.2.5-.5.5.3.5.3.5.3.5-.3.5-.2.5-.3.5.3.5.2.5.1.5-.3.5.1.5-.1.5.1.5-.2.5.4.5-.2.5.1.5-.3.5.2.5 0 .5.1.5-.2.5.2.5-.3.5 0 .5.2.5.5.5-.4.5-.5.5-.3.5 1 .5 0 .5 0 .5-.7.5.2.5 0 .5.5.5-.3.5 1 .5-.9.5-.5.5-.6.5 1.7.5-.3.5 0 .5-1.2.5.6.5-.1.5 1.6.5-2 .5 1.3.5-1.3.5 1.1.5-1.8.5 1.3.5-.4.5 2.2.5-2 .5.5.5-1.3.5 1.1.5.3.5.4.5-2.7.5 1.7.5.8.5.8.5-1.2.5-.2.5-1 .5 1.3.5.3.5.3.5-.8.5-.5.5-.1.5.9.5.1.5-.2.5-.8.5.5.5.4.5 0 .5-.5.5-.1.5.3.5.3.5-.5.5 0 .5.2.5.4.5-.4.5-.4.5-.2.5 1 .5.1.5-.4.5-.7.5.2.5.5.5.5.5-.4.5-.3.5-.3.5.4.5 0 .5.2.5-.1.5 0 .5-.3.5.2.5-.1.5.2.5-.2.5.2.5-.2.5.3.5-.3.5 0 .5 0 .5.2.5-.1.5.1.5-.3.5.1.5.3.5.1.5-.5.5-.1.5.2.5.5.5-.1.5-.6.5-.3.5.8.5.2.5 0 .5-1 .5 0 .5.6.5.6.5-.3.5-.4.5-.3.5.5.5-.2.5.1.5-.1.5.3.5-.1.5-.2.5-.2.5.3.5.2.5.1.5-.3.5-.2.5-.1.5.3.5.1.5.3.5-.3.5-.2.5-.1.5.1.5-.1.5.5.5 0 .5 0 .5-.7.5-.2.5.3.5 1 .5-.4.5-.2.5-.7.5.4.5.5.5.3.5-.6.5-.4.5-.1.5.9.5 0 .5-.3.5-.8.5.4.5.6.5.2.5-.7.5.1.5-.1.5.2.5-.2.5.5.5.2.5-.3.5-.9.5.1.5.8.5.8.5-.7.5-.9.5-.1.5 1 .5.3.5-.2.5-.7.5 0 .5.1.5.4.5-.2.5.2.5-.2.5-.2.5-.3.5.6.5.2.5.2.5-.6.5-.1.5-.2.5.6.5-.3.5.2.5.1.5.2.5-.4.5-.3.5-.2.5.6.5.3.5 0 .5-.5.5-.2.5-.1.5.6.5-.1.5.3.5-.3.5-.2.5-.4.5.1.5.4.5.8.5-.3.5-.7.5-.4.5.4.5.6.5.2.5-.7.5-.2.5-.1.5.6.5 0 .5 0 .5-.4.5.1.5.1.5.2.5-.2.5.1.5-.2.5 0 .5 0 .5.3.5-.2.5.1.5-.5.5.3.5 0 .5.6.5-.4.5-.3.5-.3.5.3.5.6.5.3.5-1 .5-.5.5.1.5 1.5.5.1.5-.8.5-1.2.5.5.5 1.2.5.3.5-1.2.5-.3.5.7.5.6.5-.9.5-.6.5.5.5 1.2.5-.3.5-1.1.5-.3.5 1.1.5.5.5-.7.5-.9.5.4.5.8.5.2.5-.6.5-.1.5-.2.5.2.5-.2.5.6.5-.1.5-.3.5-.5.5.8.5.4.5-.2.5-1 .5.1.5.5.5.6.5-.4.5-.4.5-.2.5.3.5.3.5.3.5-.6.5-.1.5-.2.5.4.5.2.5.2.5-.4.5-.1.5-.2.5.4.5 0 .5.1.5-.3.5.1.5-.1.5.3.5-.1.5-.3.5-.1.5.5.5 0 .5.2.5-.7.5-.2.5.2.5.7.5.1.5-.2.5-.9.5.1.5.5.5.7.5-.3.5-.8.5-.2.5.7.5.4.5-.1.5-.9.5 0 .5.6.5.5.5-.3.5-.6.5-.2.5.5.5.3.5 0 .5-.4.5.1.5-.2.5.1.5 0 .5.4.5-.1.5 0 .5-.4.5 0 .5-.3.5.5.5.3.5.2.5-.6.5-.4.5.2.5.8.5-.3.5-.4.5-.2.5.5.5.2.5-.1.5-.6.5 0 .5.3.5.6.5-.2.5-.5.5-.3.5.4.5.4.5.1.5-.6.5 0 .5.2.5.3.5-.3.5-.1.5 0 .5.3.5-.2.5 0 .5-.2.5.4.5-.2.5.2.5 0 .5-.2.5-.7.5.2.5.9.5.5.5-.7.5-1 .5 0 .5 1.3.5.2.5-.5.5-.6.5.3.5-.1.5.1.5 0 .5.7.5-.1.5-.6.5-.8.5.6.5.7.5.3.5-.7.5-.4.5-.1.5.7.5 0 .5.1.5-.3.5 0 .5-.3.5.2.5 0 .5.4.5-.2.5-.1.5-.2.5.3.5-.1.5.1.5-.1.5.2.5-.3.5-.1.5 0 .5.5.5-.1.5-.4" stroke="#00f"/>
<path d="M111.5,166.20l.5-.6.5.5.5.4.5.2.5-.7.5-.2.5.1.5.7.5-.1.5-.3.5-.5.5.5.5.2.5 0 .5-.3.5 0 .5-.1.5.4.5-.1.5.3.5-.5.5-.2.5-.2.5.5.5.5.5.1.5-1 .5-.2.5.2.5.9.5-.1.5-.2.5-.6.5.4.5 0 .5.1.5-.3.5.4.5-.3.5.2.5-.4.5.4.5 0 .5.1.5-.5.5.3.5.1.5 0 .5-.2.5.1.5.1.5.2.5-.5.5-.2.5.1.5.7.5 0 .5-.4.5-.5.5.3.5 0 .5.5.5-.1.5.3.5-.6.5-.2.5-.3.5 1.2.5 0 .5-.5.5-1.1.5.7.5.6.5.3.5-.8.5.1.5 0 .5.3.5-.4.5.4.5-.2.5.1.5-.5.5.2.5.4.5.5.5-.8.5-.4.5 0 .5 1 .5-.1.5-.2.5-.6.5.1.5-.2.5.9.5-.3.5.1.5-.7.5.5.5 0 .5.5.5-.6.5-.1.5-.3.5 1 .5 0 .5-.3.5-.9.5.3.5.6.5.5.5-.6.5-.6.5-.1.5.9.5-.1.5.1.5-.7.5.1.5.3.5.4.5-.3.5 0 .5-.3.5.1.5.1.5.2.5-.3.5.1.5-.1.5.4.5-.2.5-.1.5-.5.5.8.5.1.5.1.5-.8.5-.1.5-.1.5 1 .5-.3.5 0 .5-.6.5.4.5-.3.5.3.5.2.5.3.5-.6.5-.4.5 0 .5.6.5.4.5-.1.5-.6.5-.1.5-.2.5.6.5-.2.5.6.5-.4.5-.2.5-.3.5.2.5.4.5.4.5-.7.5-.4.5.2.5.9.5-.2.5-.6.5-.5.5.7.5.2.5.1.5-.5.5.1.5 0 .5.2.5-.1.5.3.5-.2.5 0 .5-.2.5-.1.5-.3.5.7.5 0 .5.3.5-.8.5 0 .5 0 .5.7.5-.2.5-.4.5-.5.5.8.5.4.5 0 .5-1 .5 0 .5.2.5.8.5 0 .5-.5.5-.6.5.3.5.4.5.5.5-.9.5-.2.5.2.5.9.5-.4.5-.3.5-.4.5.5.5 0 .5.5.5-.4.5-.2.5-.2.5.7.5 0 .5-.2.5-.8.5.5.5.3.5.2.5-.8.5-.1.5.5.5.8.5-.6.5-.7.5-.2.5 1 .5.1.5 0 .5-.9.5.6.5-.1.5 0 .5-.6.5.5.5.5.5.3.5-.7.5-.5.5 0 .5.6.5.4.5 0 .5-.7.5-.2.5 0 .5.7.5-.1.5 0 .5-.6.5.3.5.1.5.2.5-.3.5.2.5.1.5.2.5-.6.5-.2.5-.2.5 1.1.5 0 .5.1.5-1.3.5.2.5.1.5.8.5.2.5-.1.5-.6.5-.3.5-.4.5.8.5.8.5 0 .5-1.1.5-.4.5 0 .5 1.1.5.3.5-.4.5-.9.5.3.5.3.5.6.5-.2.5-.5.5-.5.5.2.5.7.5.7.5-.8.5-.5.5-.7.5 1 .5.3.5.4.5-.8.5-.3.5-.1.5.7.5 0 .5.1.5-.5.5.2.5-.1.5.3.5-.4.5.1.5 0 .5.6.5-.4.5-.2.5-.3.5.9.5 0 .5-.6.5-.5.5.5.5.6.5.1.5-.9.5-.3.5.2.5 1 .5-.2.5-.5.5-.4.5.5.5 0 .5.4.5-.7.5.1.5.4.5.2.5-.5.5-.2.5-.2.5.7.5.1.5.1.5-.6.5 0 .5-.1.5.4.5-.2.5.2.5-.1.5.5.5-.4.5-.2.5-.4.5.5.5.5.5.2.5-1.3.5-.1.5.2.5 1.1.5 0 .5-.4.5-1.1.5.3.5.6.5.7.5-.6.5 0 .5-.7.5 1 .5-.2.5.1.5-1 .5 1.2.5-.9.5.4.5-1.1.5 1.5.5.1.5-.1.5-1.5.5 1 .5.2.5.6.5-1.4.5 1 .5 0 .5-.2.5-1.1.5 1.9.5-1 .5.7.5-1.1.5.8.5-.6.5.6.5-.5.5.7.5-.1.5.1.5-.9.5.1.5-.1.5.6.5 0 .5.4.5-.6.5-.5.5-.4.5.8.5.4.5.3.5-.5.5-.2.5-.5.5 0 .5.5.5 1 .5-.2.5-.7.5-1 .5.5.5 1.1.5.3.5-.8.5-.6.5-.4.5.9.5.2.5.1.5-.3.5.4.5-.6.5-.3.5-.2.5 1.2.5.2.5 0 .5-1.3.5-.2.5.5.5 1.4.5-.5.5-.7.5-.9.5.4.5 1.1.5.5.5-.8.5-.3.5-.4.5.3.5.1.5.3.5-.2.5.2.5-.3.5 0 .5-.1.5.1.5-.1.5.3.5.1.5 0 .5-.3.5-.1.5 0 .5.3.5 0 .5.1.5-.3.5.3.5-.5.5.6.5-.5.5.3.5 0 .5.2.5-.5.5-.1.5.1.5 1.1.5-.5.5-1 .5-.4.5 1 .5 1 .5.1.5-1.8.5-.2.5.5.5 1.4.5-.2.5-1.1.5-.8.5 1 .5.6.5.4.5-1.1.5-.2.5-.4.5 1.1.5.2.5-.1.5-.8.5.2.5.2.5.2.5-.4.5-.1.5.3.5.7.5-.4.5-.4.5-.4.5.5.5.3.5.1.5-.5.5.1.5-.2.5.2.5 0 .5.2.5-.1.5-.1.5-.4.5.4.5-.1.5.4.5-.2.5-.1.5-.3.5.3.5 0 .5.2.5-.4.5.3.5-.1.5 0 .5-.3.5.4.5-.3.5.4.5-.5.5.4.5-.1.5.1.5-.3.5.3.5-.1.5.3.5-.3.5-.1.5-.3.5.4.5 0 .5.4.5-.5.5-.1.5 0 .5.4.5-.2.5 0 .5-.2.5.3.5-.1.5.1.5-.4.5.2.5.1.5.2.5 0 .5.1.5-.6.5 0 .5-.1.5 1 .5-.6.5-.2.5-.3.5.8.5.1.5-.3.5-.6.5.6.5-.1.5.7.5-.8.5-.1.5 0 .5.4.5-.1.5-.2.5-.2.5.4.5.2.5 0 .5-.6.5.1.5-.1.5.5.5-.1.5.3.5-.6.5-.2.5-.3.5.7.5.6.5.1.5-1.1.5-.3.5 0 .5 1.4.5.1.5-.5.5-1.2.5.3.5.4.5.7.5-.6.5-.2.5.1.5.9.5-.2.5-.9.5-.6.5.6.5 1 .5.5.5-.6.5-1.2.5-.2.5.6.5.9.5.2.5-1 .5-.2.5.3.5.3.5-.4.5 0 .5.2.5.4.5-.3.5-.1.5-.3.5.3.5-.3.5.3.5.3.5.3.5-.9.5-.2.5-.1.5 1 .5.3.5-.1.5-1.2.5 0 .5.2.5 1.1.5 0 .5-.3.5-1.1.5.1.5.4.5.7.5-.2.5-.1.5-.4.5.2.5-.1.5.2.5-.2.5.4.5-.4.5.2.5-.3.5.5.5-.3.5 0 .5-.4.5.4.5.1.5.3.5-.2.5-.2.5-.4.5.2.5 0 .5.8.5-.2.5-.4.5-.7.5.5.5.4.5.6.5-.8.5-.4.5-.1.5 1 .5.1.5-.2.5-1.2.5.5.5.4.5.6.5-.3.5-.5.5-.5.5.4.5.4.5.3.5-.3.5-.5.5-.1.5.4.5-.2.5.3.5.3.5.2.5-.9.5-.4.5.2.5 1.3.5 0 .5-.4.5-1.1.5.2.5.6.5.6.5-.3.5-.4.5-.7.5.6.5.2.5.5.5-.5.5-.1.5-.6.5.3.5.3.5.6.5-.2.5-.4.5-.7.5.2.5.5.5.6.5-.2.5-.1.5-.7.5.1.5.2.5.3.5 0 .5.1.5-.4.5 0 .5-.1.5.3.5.1.5 0 .5-.3.5 0 .5 0 .5.3.5-.4.5.2.5-.1.5.1.5-.2.5.4.5 0 .5.1.5-.6.5-.2.5.2.5.7.5.1.5-.3.5-.9.5.3.5.3.5.9.5-.3.5-.5.5-.9.5.2.5 1 .5.5.5-.6.5-.7.5-.3.5 1 .5.4.5-.1.5-.9.5.2.5.3.5.3.5-.4.5-.2.5 0 .5.4.5-.3.5.3.5-.1.5.2.5-.3.5-.3.5-.2.5.9.5.2.5-.1.5-1.1.5 0 .5.2.5 1 .5-.3.5-.3.5-.4.5.4.5-.3.5.1.5-.1.5.8.5 0 .5-.5.5-.9.5.2.5 1 .5.8.5-.7.5-1 .5-.6.5 1.4.5.5.5.1.5-1.3.5-.2.5.1.5 1.1.5-.2.5-.2.5-.8.5.7.5 0 .5.8.5-1.1.5 0 .5 0 .5.8.5-.3.5 0 .5-.6.5.1.5.2.5.5.5-.2.5-.1.5-.6.5.2.5.4.5.3.5-.6.5 0 .5-.1.5.7.5-.1.5-.5.5-.4.5.8.5.2.5.2.5-1.2.5.3.5.3.5.6.5-.5.5-.4.5-.1.5.6.5 0 .5.2.5-.8.5.3.5-.2.5.6.5-.1.5-.1.5-.3.5.5.5-.5.5.2.5-.3.5.6.5.2.5-.3.5-.9.5.4.5.5.5.4.5-.8.5-.3.5.1.5 1 .5-.1.5-.1.5-1 .5.1.5.2.5 1 .5-.3.5-.2.5-1.1.5.4.5.7.5.5.5-.7.5-.3.5-.4.5 1.1.5.1.5-.2.5-.7.5-.2.5.2.5 1.1.5-.1.5-.4.5-1 .5.4.5.3.5.7.5-.2.5-.4.5-.6.5.6.5.1.5.1.5-.5.5.4.5-.1.5.4.5-.5.5-.1.5-.4.5.6.5.4.5.2.5-.8.5-.1.5 0 .5.4.5 0 .5.2.5-.3.5-.1.5 0 .5.4.5-.4.5 0 .5-.2.5.7.5-.1.5-.3.5-.8.5.6.5.6.5.5.5-.8.5-.8.5-.3.5 1.4.5.2.5-.1.5-1.3.5 0 .5.9.5.8.5-.5.5-.9.5-.6.5 1.4.5.3.5-.4.5-.6.5.2.5 0 .5.4.5-.1.5.1.5-.1.5-.1.5-.7.5.7.5.2.5.6.5-.6.5-.5.5-.5.5 1 .5.2.5-.2.5-.5.5.9.5-.2.5-.4.5-.9.5.3.5 1.1.5.5.5-.8.5-.8.5-.2.5.6.5.4.5.5.5-.7.5-.4.5-.2.5.8.5 0 .5.2.5-.6.5 0 .5-.1.5.4.5-.1.5.3.5-.4.5-.2.5-.1.5.6.5.1.5.2.5-.9.5-.1.5.2.5.9.5-.1.5-.4.5-.9.5.2.5.8.5.6.5-.8.5-.4.5-.2.5 1 .5.2.5-.3.5-1.2.5.6.5.4.5.4.5-.3.5 0 .5-.6.5.2.5 0 .5.6.5-.1.5.2.5-1 .5.4.5-.2.5 1 .5-.6.5-.3.5-.5.5 1.3.5-.8.5.7.5-1 .5.7.5-.5.5.6.5-.5.5.9.5-.9.5.1.5-1.2.5 2.2.5-.4.5.5.5-2 .5 1.3.5-1 .5 1.2.5-.3.5.7.5-1 .5-.1.5-.6.5.7.5.2.5.5.5-.8.5.3.5-.3.5.4.5-.2.5.2.5-.4.5.2.5-.1.5.5.5-.3.5-.1.5-.3.5.3.5.1.5.3.5-.4.5-.1.5-.1.5.2.5.2.5 0 .5-.4.5.1.5.1.5.3.5-.4.5 0 .5.1.5.5.5-.4.5-.3.5-.4.5.5.5.3.5.3.5-.5.5-.3.5-.3.5.6.5.3.5.2.5-.9.5-.2.5 0 .5 1.1.5.1.5-.2.5-1.1.5.1.5.5.5.8.5-.1.5-.7.5-.7.5.6.5.2.5.8.5-.6.5.1.5-.5.5.3.5-.5.5.4.5 0 .5.3.5-.4.5-.1.5-.2.5.4.5 0 .5.6.5-.6.5-.2.5-.3.5.8.5 0 .5 0 .5-.8.5 0 .5.4.5.6.5-.3.5.2.5-.7.5 0 .5-.1.5.7.5.2.5 0 .5-.9.5 0 .5.2.5.7.5-.1.5-.4.5-.5.5.2.5.4.5.4.5-.5.5-.4.5-.1.5.8.5 0 .5-.1.5-.5.5 0 .5.3.5.3.5-.3.5 0 .5-.3.5.2.5.2.5.2.5-.3.5-.1.5 0 .5.2.5 0 .5-.1.5-.5.5.4.5.3.5.3.5-.6.5-.2.5-.4.5.9.5.6.5.1.5-1.5.5-.3.5.2.5 1.6.5 0 .5-1.2.5-.7.5.4.5 1.2.5.3.5-1 .5-.4.5-.2.5.6.5-.1.5.8.5-.3.5.2.5-.8.5-.2.5-.1.5.8.5.1.5 0 .5-.6.5.2.5-.1.5.4.5 0 .5 0 .5-.4.5-.1.5.2.5.4.5 0 .5-.3.5-.4.5.1.5.3.5.6.5-.5.5-.3.5-.4.5 1.1.5-.1.5-.5.5-.7.5.8.5.6.5 0 .5-1.4.5 0 .5.7.5 1 .5-.7.5-.1.5-.5.5.2.5.1.5.3.5-.2.5.4.5-.6.5-.2.5-.2.5.9.5.1.5 0 .5-1 .5.1.5.4.5.9.5-.4.5-.6.5-.8.5.8.5.7.5.1.5-1.1.5-.1.5.3.5.7.5 0 .5 0 .5-.7.5-.1.5-.4.5.9.5.6.5.1.5-1.1.5-.5.5-.1.5 1.3.5.3.5-.1.5-.9.5-.3.5 0 .5.8.5.3.5.1.5-.8.5-.3.5.1.5 1 .5-.3.5-.4.5-.3.5.5.5.1.5-.3.5-.3.5.6.5 0 .5.3.5-1 .5.1.5.1.5 1 .5-.5.5-.2.5-.6.5.5.5.1.5.1.5.1.5.2.5-.6.5-.1.5 0 .5.6.5-.2.5-.2.5-.3.5.8.5-.3.5-.4.5-.1.5.9.5-.2.5-.3.5-.6.5.6.5 0 .5.5.5-.9.5.7.5-.8.5.8.5-.5.5.7.5-.7.5 1.4.5-1.9.5.5.5-.4.5 1.1.5-.9.5.8.5-.5.5.2.5-.4.5.1.5-.2.5.8.5-.3.5.5" stroke="#f00"/>
<path d="M111.5,178.37l.5.2.5.9.5-1.2.5-.2.5-.1.5.7.5-.3.5.2.5-.9.5.9.5 0 .5.4.5-.9.5.1.5-.4.5 1.2.5-1.1.5.9.5-.7.5.5.5-.3.5.6.5-1 .5.4.5-.7.5 1.8.5-1.1.5 0 .5-.9.5 2 .5-.7.5-.1.5-1 .5.7.5.1.5.3.5-.6.5.3.5-.3.5 1.1.5-.9.5.5.5-1.6.5 1.2.5 0 .5.7.5-1.1.5 0 .5.1.5 1 .5-.4.5 0 .5-.8.5.7.5-.5.5.4.5.1.5.4.5-1.4.5 1.1.5-.4.5.6.5-.9.5.6.5-.6.5.4.5-.5.5 1.6.5-1.5.5.3.5-.6.5 1.2.5-.4.5.6.5-1.2.5.5.5-.3.5.9.5-.8.5.1.5-.6.5 1.5.5-.6.5 0 .5-.4.5.2.5-.4.5 1.3.5-1 .5.2.5-.4.5.3.5 0 .5.2.5-.4.5.3.5-.3.5.3.5-.4.5.3.5.1.5.3.5-.7.5.2.5 0 .5.8.5-1 .5.5.5-.1.5.4.5-1.3.5.5.5.2.5 1.4.5-1.7.5.2.5.1.5.6.5-.9.5-.2.5.4.5 1.3.5-.7.5-.1.5-1.1.5.7.5.7.5.2.5-1.6.5.2.5.6.5 1.2.5-1.1.5-.1.5-.5.5 1.9.5-1.2.5-.1.5-1.2.5 1.6.5-.2.5-.3.5-.9.5 1.2.5 0 .5.1.5-1.2.5 1.1.5-.1.5.5.5-.9.5.3.5-.7.5 1.4.5-.7.5-.1.5-.3.5.7.5-.4.5.1.5-.1.5.4.5-.6.5 0 .5-.1.5.6.5-.2.5.4.5-.6.5.3.5-.5.5.5.5.2.5-.4.5-.6.5.8.5.3.5 0 .5-1.5.5.4.5.9.5.7.5-1.5.5-.1.5.2.5.9.5-.3.5 0 .5-.9.5.3.5.4.5.6.5-.6.5-.3.5-.3.5 1.2.5-.8.5.6.5-.4.5.2.5-.6.5.7.5-.7.5.8.5-.5.5 0 .5-.4.5.7.5-.5.5.6.5-.5.5.2.5-.4.5.7.5-.3.5.9.5-1.3.5.2.5-.3.5 1.1.5-.2.5 0 .5-1.4.5.7.5-.4.5 1.3.5-.8.5.3.5-.5.5.6.5-.7.5.8.5-.4.5.7.5-.9.5.7.5-.7.5.5.5-.7.5.7.5-.4.5.2.5-.4.5.4.5-.5.5.8.5-.5.5.4.5-1 .5 1.2.5-.4.5 0 .5-.6.5.8.5-.4.5.3.5-.2.5.6.5-.6.5.1.5-.2.5.6.5-.3.5.1.5-.6.5.3.5-.1.5.9.5-.8.5 0 .5-.8.5 1.1.5-.6.5 1.1.5-.9.5.9.5-.9.5-.4.5.1.5 1.1.5-.4.5 0 .5-1.1.5.8.5.4.5.1.5-1 .5.3.5.3.5 1.3.5-1.3.5-.1.5-.3.5.7.5-.6.5.9.5-1.3.5.5.5.2.5.7.5-.8.5 0 .5-.3.5.5.5-.2.5.7.5-.6.5 1 .5-1.5.5.7.5-.4.5.3.5-1.1.5 1.4.5-.8.5.5.5 0 .5.2.5-.5.5.1.5-.1.5.7.5-.8.5.7.5-1.5.5 1.2.5.3.5.3.5-1.3.5.7.5-.4.5.6.5-.4.5.2.5-.3.5.7.5-.6.5 0 .5-.3.5.6.5-.1.5.5.5-1.4.5.6.5 0 .5 1.3.5-1.3.5-.1.5-.8.5 1.8.5-1.1.5 1.3.5-1.7.5 1.4.5-.3.5-.3.5-.6.5.5.5.2.5.3.5-.4.5.9.5-1.3.5 1.1.5-1.1.5.3.5-.3.5.6.5-.5.5.2.5-.1.5.7.5-1.2.5.6.5-.6.5 1.3.5-.1.5.2.5-2 .5.7.5.8.5.6.5-1 .5-.3.5.1.5 1.1.5-.5.5-.4.5 0 .5.4.5-.6.5.2.5.3.5.9.5-1.5.5.3.5-.1.5.9.5-.8.5.6.5-.6.5.4.5-.6.5.3.5.2.5.4.5-.6.5.1.5.1.5.2.5-.7.5.6.5-.2.5.5.5-.5.5.4.5-1 .5.9.5-.4.5.7.5-.5.5-.3.5-.3.5.9.5-.1.5.2.5-.7.5-.1.5-.1.5.9.5-.3.5-.4.5-.3.5.9.5-.3.5-.2.5-.2.5.8.5-.5.5-.3.5-.1.5 1.2.5-.5.5.1.5-1.5.5 1.2.5-.1.5.9.5-1.3.5.4.5-.4.5.8.5-.2.5.1.5-.8.5.9.5-.4.5.5.5-1 .5.4.5-.2.5 1.2.5-1 .5.3.5-.7.5 1 .5-1 .5.2.5-.3.5.9.5-.4.5 1.2.5-1.6.5.4.5.2.5.4.5-.6.5 0 .5-.5.5.9.5 0 .5-.3.5-.4.5.4.5-.2.5.9.5-.9.5.1.5-.3.5.8.5-.4.5.4.5-.9.5.5.5.3.5.3.5-.8.5-.1.5-.1.5 1 .5-.6.5.1.5-.7.5.5.5.2.5.6.5-1 .5.1.5 0 .5.8.5-.4.5-.2.5-.2.5.2.5-.2.5.3.5-.5.5.7.5-.4.5.5.5-1 .5.4.5-.2.5 1.4.5-1 .5.2.5-.8.5 1.4.5-.6.5.3.5-1 .5 1.1.5-.6.5.5.5-1 .5.8.5-.4.5.2.5-.5.5.8.5-.8.5.2.5-.2.5 1.1.5-.6.5-.2.5-1 .5 1 .5 0 .5.8.5-.8.5 0 .5-.4.5.5.5.2.5.3.5-1 .5.4.5.1.5.1.5-.2.5.2.5-.2.5.2.5-.3.5.2.5 0 .5.5.5-.9.5.6.5-.3.5.5.5-.7.5.6.5-1 .5 1.7.5-1 .5.3.5-1.2.5 1.3.5-.3.5.9.5-1.5.5.6.5-.2.5.1.5-.4.5 1.1.5-.6.5 0 .5-.7.5.8.5-.5.5.6.5-.3.5.3.5-.4.5.1.5-.1.5.7.5-1 .5.5.5-.3.5.5.5-.5.5.6.5-.6.5.4.5-.5.5.8.5-.5.5.5.5-.6.5.3.5-.7.5 1.1.5-.8.5.5.5-.4.5.2.5-.5.5.7.5-.8.5.5.5-.3.5.5.5-.4.5.4.5-.9.5.4.5.5.5.4.5-1.4.5.5.5-.4.5 1 .5-.3.5.9.5-1.2.5.1.5-.1.5 1.1.5-.6.5-.6.5-.4.5 2 .5-.7.5-.1.5-.9.5.2.5.1.5.6.5-.8.5.8.5-.7.5.6.5-1 .5 1.1.5-.7.5.9.5-.8.5.7.5-.5.5-.5.5.3.5.9.5-.4.5-.5.5-1.2.5 2.6.5-1.1.5-.3.5-1.2.5 1.6.5.2.5.3.5-1.3.5.3.5.1.5.6.5-.3.5.3.5-.8.5.3.5-.1.5.7.5-.9.5.4.5-.2.5.7.5-.4.5 0 .5-.4.5.6.5-.1.5-.2.5-.5.5.4.5.3.5.3.5-1.2.5.7.5-.3.5.6.5-.6.5.4.5-.4.5.4.5-.2.5.6.5-.9.5.7.5-.5.5.2.5-.2.5.5.5-.4.5.4.5-.8.5.4.5 0 .5.3.5.1.5.1.5-.9.5.1.5.3.5 1 .5-1 .5.4.5-.9.5 1.1.5-.2.5-.3.5-.7.5.8.5 0 .5.4.5-1.3.5.5.5.3.5.5.5-.7.5.2.5-.5.5 1.3.5-.5.5.4.5-1.2.5.6.5 0 .5.9.5-1.8.5 1.4.5-.5.5-.3.5-.7.5 1.2.5.2.5 0 .5-1 .5.3.5.2.5.2.5-1.1.5 1.7.5-.8.5.3.5-.9.5.3.5-.1.5.8.5-.5.5.9.5-1.5.5 1 .5-.8.5.8.5-.3.5.4.5-.5.5 0 .5-.2.5.8.5-.4.5.5.5-.8.5.5.5-.9.5.9.5-1 .5.8.5-.2.5.5.5-.4.5 0 .5-.8.5 1.2.5.1.5-.4.5-.7.5.5.5.5.5.6.5-1.4.5.2.5.1.5.8.5-1.4.5.8.5-.8.5 1 .5-.1.5-.2.5-.4.5.7.5-.7.5.9.5-1.1.5 1.2.5-.6.5.8.5-1.3.5.5.5-.2.5.6.5-.3.5-.1.5-.3.5.1.5-.3.5 1.2.5-.7.5.2.5-.5.5.5.5-.6.5.5.5-.3.5.4.5 0 .5.7.5-1.4.5.3.5.1.5.6.5-1 .5 1.2.5-1.3.5 1.4.5-2 .5 1.9.5-1.4.5 1.2.5-.6.5.6.5-1.2.5.7.5 0 .5.1.5-.3.5.2.5-.2.5.4.5-.9.5.8.5-.3.5 1 .5-1 .5.2.5-.2.5.7.5-.7.5 1 .5-.9.5-.1.5-.2.5 1 .5-.5.5.1.5-.7.5.4.5.2.5.4.5-.5.5-.1.5-.1.5.2.5.1.5.2.5-.8.5.5.5-.8.5 1.4.5-1 .5.6.5-.3.5.8.5-1 .5.3.5-1.1.5 1.8.5-.8.5.5.5-.5.5.1.5-.7.5.6.5 0 .5.8.5-1.5.5.7.5-.6.5.9.5-.5.5.8.5-.4.5 0 .5-.6.5.7.5-.5.5.7.5-1.1.5.6.5.3.5.3.5-1.1.5.7.5-.2.5.6.5-1.2.5.3.5-.1.5 1.2.5-.6.5 0 .5-1 .5 1.4.5-.9.5.4.5-.8.5.8.5-.3.5.6.5-.5.5.2.5-.1.5.1.5-.4.5.4.5.1.5.4.5-.7.5.3.5-.9.5 1.5.5-.5.5-.3.5-1 .5 1.3.5-.1.5.5.5-.6.5.2.5-.6.5.7.5-.4.5.6.5-.7.5.4.5-.4.5.8.5-.5.5-.2.5-.2.5.6.5-.3.5.4.5-1.3.5 1.1.5-.3.5.1.5-.5.5 1 .5-.7.5.6.5-1.1.5.8.5-.4.5.8.5-.8.5.1.5-.3.5.9.5-.3.5 0 .5-.6.5.7.5-.1.5.2.5-.4.5.2.5-.4.5.6.5-.5.5 1 .5-1.5.5.6.5.1.5.4.5-.6.5 0 .5-.1.5.9.5-.8.5.2.5-1.1.5 1.5.5-.1.5-.1.5-1.2.5 1 .5.4.5.1.5-.8.5-.1.5-.2.5 1 .5-.3.5 0 .5-.7.5.8.5-.2.5.7.5-1.2.5.2.5-.8.5 2 .5-.9.5.2.5-1.1.5 1.2.5.2.5.1.5-1 .5.6.5-.7.5 1.3.5-.6.5.1.5-.4.5.2.5-.7.5.7.5 0 .5.5.5-.9.5 0 .5.1.5.8.5-.6.5-.2.5-.3.5 1.1.5-.1.5-.5.5-.8.5 1.1.5-.5.5.3.5-.2.5.9.5-1.4.5.5.5-.4.5.8.5-1.2.5.6.5.4.5 1 .5-1.7.5-.1.5.5.5.9.5-.6.5-.3.5-.4.5 1.1.5 0 .5-.5.5-.7.5.6.5-.1.5.5.5-.5.5.6.5-.6.5.5.5-.6.5.8.5-.2.5-.2.5-.7.5.6.5-.1.5.6.5-.9.5.3.5-.4.5.5.5-.4.5.8.5-.3.5-.1.5-.4.5.5.5-.2.5.4.5-.9.5.9.5-.8.5.4.5-.2.5.4.5-.6.5.9.5-1 .5.3.5-.1.5 1 .5-.3.5 0 .5-.8.5.7.5-.1.5.5.5-.6.5 0 .5-.7.5 1.1.5-.3.5-.2.5-.7.5.8.5.2.5.2.5-.8.5 0 .5.1.5.8.5-.4.5 0 .5-.4.5.5.5-.7.5 1.2.5-1 .5 0 .5-.1.5 1.1.5-.9.5.5.5-.6.5 1.1.5-1.4.5.3.5 0 .5.9.5-.7.5.1.5-.3.5.9.5-.3.5-.2.5-.7.5.9.5-.2.5.6.5-1 .5.1.5.2.5.6.5-.5.5.1.5-1 .5 1.7.5-.8.5.7.5-1 .5.3.5-.6.5.7.5-.7.5.8.5-.4.5.4.5-.6.5 0 .5-.1.5 1 .5-.9.5.5.5-.7.5.8.5-.5.5.6.5-.8.5.9.5-.6.5.3.5-.4.5.1.5-.4.5.8.5-.2.5 0 .5-.3.5.3.5-.1.5.3.5-.7.5.6.5-.3.5.6.5-1.4.5.9.5-.5.5 1.2.5-.7.5.5.5-.9.5.2.5.1.5 1.3.5-1.4.5-.1.5.2.5.6.5-.6.5.4.5-.1.5-.1.5-1 .5.8.5.4.5.9.5-1.6.5-.2.5-.1.5 2.1.5-1.2.5-.7.5-.2.5 1.1.5-.3.5.2.5-1.1.5.9.5-.2.5.8.5-.7.5.3.5-.6.5.4.5-.1.5.7.5-.9.5.3.5-.5.5.8.5-.9.5 1.4.5-.9.5.3.5-.7.5.9.5-.3.5-.1.5-.9.5 1.2.5-.5.5.4.5-.5.5.6.5-.9.5.8.5-.5.5.7.5-.7.5.7.5-.8.5.3.5-.2.5.4.5-.1.5.5.5-1 .5 1.1.5-1.1.5 1 .5-1 .5.1.5 0 .5 1 .5-1.1.5.5.5-.5.5.4.5 0 .5.2.5-.2.5-.1.5-.1.5.6.5-.4.5-.1.5-.4.5 1.1.5-.5.5-.1.5-.4.5 1 .5-.8.5.2.5-.3.5.8.5-.4.5 0 .5-.6.5.8.5-.3.5.4.5-.7.5.7.5-.7.5.4.5-1 .5.7.5-.4.5 1.2.5-.8.5.4.5-.8.5.8.5 0 .5.3.5-.8.5.4.5 0 .5.1.5-.8.5.2.5.2.5.9.5-.5.5-.5.5-.3.5.8.5 0 .5.1.5-.9.5.3.5 0 .5 1 .5-.7.5-.1.5-.4.5 1.1.5-.1.5-.2.5-.9.5.4.5.3.5.4.5-.6.5.1.5-.2.5.6.5-.3.5-.2.5-.2.5.5.5-.5.5.7.5-1.3.5.6.5.2.5 1.1.5-.8.5-.3.5-.8.5 2 .5-.7.5-.2.5-1.3.5 1 .5.2.5.2.5-.4.5.4.5-.6.5.3.5-.9.5 1.9.5-1.1.5 0 .5-.8.5 1 .5 0 .5 1.1.5-1.8.5 1.2" stroke="#00f"/>
<path d="M111.5,190.54l.5-.5.5.9.5-.4.5.1.5-.7.5.7.5-.2.5 1.2.5-1.8.5.3.5-.1.5 2.2.5-2.3.5 1.2.5-1.5.5 2.5.5-1.4.5.3.5-1.3.5.7.5-.3.5 1.1.5-1.2.5 1.1.5-.6.5.2.5-.8.5 1.2.5-1 .5.8.5-.7.5.2.5-.1.5.4.5-.2.5.2.5-.6.5.6.5-.7.5.9.5-.7.5.6.5-.3.5.1.5-1 .5 1.6.5-1.2.5 1.3.5-1.2.5.5.5-.4.5.5.5-.2.5.8.5-.9.5.6.5-1 .5.6.5-.2.5.7.5-1.3.5.6.5-1.2.5 1.6.5.1.5-.2.5-.8.5.4.5-.3.5 1.8.5-1.5.5.1.5-.4.5.8.5 0 .5-.2.5-.7.5 1.1.5-.2.5.5.5-1.1.5 0 .5-.6.5 1.4.5 0 .5 0 .5-1 .5.2.5.1.5 1 .5-.5.5-.5.5-.8.5 1 .5.4.5.2.5-1.2.5.2.5.1.5.8.5-.4.5-.1.5-.2.5.4.5-.6.5.9.5-1.2.5 1.1.5-1.1.5 1.1.5-.7.5.5.5-1 .5.9.5-.1.5.3.5-.7.5.1.5.2.5.7.5-.8.5.7.5-.7.5.4.5-.6.5 1 .5-1.1.5.8.5-.9.5 1.5.5-.9.5.4.5-1.4.5 1.3.5-.5.5.6.5-.9.5.7.5.1.5-.1.5-.8.5.5.5.3.5.1.5-.6.5.4.5-.3.5.6.5-.8.5.5.5-.4.5.6.5-.7.5.6.5-1 .5 1.5.5-.7.5 0 .5-.9.5 1.2.5-.4.5.1.5-.3.5.8.5-.6.5.1.5-.2.5.6.5-.7.5.8.5-.8.5.6.5-1 .5.6.5 0 .5.8.5-.5.5-.3.5-.3.5.6.5-.3.5.9.5-1.8.5 1.1.5-.3.5.9.5-1 .5.2.5-.3.5 1.1.5-.8.5.7.5-.9.5.2.5-.2.5.5.5-.4.5.5.5-.2.5 0 .5-.8.5.5.5.1.5.6.5-.5.5.4.5-.6.5.4.5-.5.5.6.5-.3.5.5.5-.4.5-.3.5-.5.5 1.1.5.2.5-.2.5-1 .5.7.5.1.5.5.5-.9.5.1.5-.4.5.7.5-.5.5.4.5-.3.5.5.5-.8.5.7.5-.4.5.4.5-.5.5.3.5.2.5.1.5-.5.5-.1.5.2.5 1 .5-.9.5.4.5-.7.5 1.4.5-1.1.5-.1.5-.7.5 1.3.5-.9.5.8.5-1.2.5.5.5.4.5.6.5-1.3.5.5.5-.4.5.9.5 0 .5-.6.5-.3.5.7.5-.5.5.9.5-1.1.5 1 .5-.8.5.6.5-1.1.5 1.1.5-.3.5.5.5-.8.5.2.5-.2.5 1.1.5-.8.5.2.5-.6.5.7.5-.3.5.2.5-.2.5.4.5-.6.5.5.5-.4.5.5.5-.3.5.1.5-.7.5.2.5 0 .5.9.5-.6.5 0 .5-.7.5.9.5-.4.5.8.5-.6.5 0 .5-.7.5 1.3.5-.6.5.3.5-.5.5.6.5-1.3.5 1.4.5-.8.5.6.5-.6.5.6.5-.5.5.8.5-1.3.5.7.5-.3.5 1.2.5-1.4.5.4.5-.2.5.8.5-.9.5.7.5-.4.5.7.5-1.6.5 1.1.5-.3.5 1 .5-.6.5-.1.5-.8.5.5.5.2.5.5.5-.6.5-.2.5-.3.5 1 .5-.4.5.3.5-.6.5 0 .5.2.5.8.5-1 .5.3.5 0 .5.3.5-.6.5.4.5-.4.5.9.5-.5.5-.1.5-.7.5.6.5.3.5.4.5-1.2.5.4.5-.1.5.8.5-.4.5.2.5-.8.5 1.3.5-1 .5-.2.5 0 .5 1.5.5-.6.5-.2.5-1.3.5 1.2.5-.3.5.8.5-.8.5-.3.5.2.5.7.5-.9.5.4.5 0 .5.7.5-1.2.5.3.5-.1.5.8.5-.3.5-.3.5-.3.5.5.5 0 .5.4.5-.5.5-.1.5-.4.5.2.5.3.5.9.5-.9.5-.2.5-.4.5 1.1.5.1.5-.1.5-.9.5 0 .5.1.5.8.5-.3.5.1.5-.8.5.8.5-.3.5.6.5-.9.5.2.5-.1.5.6.5-.5.5-.1.5-.5.5.9.5-.1.5.2.5-.6.5.3.5-.5.5.9.5-.4.5.5.5-.9.5.9.5-.9.5 1.7.5-1.3.5.5.5-.6.5.6.5-.9.5.4.5-.2.5 1 .5-1.1.5.3.5-.2.5 1.3.5-.9.5 0 .5-.9.5.9.5-.3.5.4.5-.5.5.7.5-.9.5.3.5-.4.5 1.4.5-.7.5-.1.5-.9.5 1.1.5-.1.5 1 .5-2 .5.3.5.3.5.7.5-.8.5.8.5-1.2.5.9.5-.1.5.3.5-.6.5.1.5-.3.5 1.1.5-.9.5-.1.5-.4.5 1.3.5-.8.5.5.5-1.1.5.9.5-.2.5 1.1.5-.9.5-.1.5-.7.5.8.5.2.5.1.5-.6.5.2.5-.3.5 1 .5-.6.5 0 .5-.6.5.6.5 0 .5.4.5-.5.5-.3.5-.2.5.9.5 0 .5-.3.5-.5.5.5.5-.1.5.5.5-.8.5.1.5.2.5.8.5-1 .5 0 .5-.5.5 1.2.5-.5.5.4.5-1.4.5 1.2.5-.8.5 1.4.5-1 .5.4.5-.6.5 1 .5-.8.5.1.5-.7.5.8.5-.3.5.6.5-.5.5 0 .5-.6.5 1.3.5-.2.5.3.5-1.2.5.4.5.2.5.9.5-1.8.5.7.5-.7.5 1.3.5-.3.5-.1.5-.2.5.2.5-.7.5 1.3.5-1 .5.5.5-.3.5.3.5-.3.5 1 .5-1.1.5.4.5-.7.5 1.1.5-.4.5.1.5-1 .5.5.5-.1.5.8.5-.3.5-.1.5-.5.5.7.5-.6.5.3.5.1.5.6.5-.8.5-.1.5-.3.5 1 .5-.1.5 0 .5-.6.5.1.5-.3.5 1.1.5-.7.5.2.5-.4.5.7.5-.2.5.2.5-.7.5.6.5-.3.5.1.5-.7.5.8.5-.5.5 1 .5-1.2.5.1.5.3.5 1.3.5-1.3.5 0 .5-.2.5 1.2.5-.8.5.6.5-1.2.5 1.3.5-1.1.5.2.5-.1.5.8.5-.7.5-.2.5-.2.5 1 .5-.2.5.2.5-1.3.5 1.3.5-.4.5.4.5-.7.5.3.5-.4.5.5.5 0 .5 0 .5-.5.5.3.5-.1.5.5.5-.3.5.3.5-1 .5.8.5-1 .5 1.6.5-.6.5-.4.5-.3.5 1.1.5-.9.5.9.5-.8.5 0 .5-.1.5.8.5-.4.5-.1.5-1 .5 1.1.5.1.5.2.5-.9.5.8.5-.1.5.7.5-.7.5-.6.5-.5.5 1.2.5-.2.5.7.5-1.2.5.7.5-.9.5.5.5.2.5.6.5-1 .5-.1.5 0 .5.8.5-.3.5 0 .5-.6.5.8.5-.5.5.8.5-1 .5.5.5-.7.5.8.5-1.2.5 1.2.5-.9.5 1.5.5-1.3.5.4.5-.9.5 1.6.5-1 .5 1.1.5-1.1.5 1.2.5-2 .5 1.4.5-1.2.5 2.3.5-1.4.5-.1.5-1.1.5 2.1.5-.5.5.5.5-2.4.5 1.6.5-.4.5 1.6.5-1.7.5.3.5-.4.5 1.2.5-.6.5.5.5-1.3.5 1.5.5-.1.5-.2.5-1.4.5.9.5.5.5.7.5-1.9.5.1.5.8.5 1 .5-1.3.5.1.5-.7.5 1.9.5-.4.5-.6.5-1.1.5.8.5.7.5.2.5-1 .5.2.5.1.5.4.5-.5.5.1.5 0 .5.5.5-.4.5-.1.5-.8.5 1.4.5-.1.5.3.5-1.6.5.1.5.4.5 1.2.5-.7.5-.6.5-.5.5 1.2.5.2.5.3.5-1.4.5.1.5.3.5 1 .5-.7.5-.3.5-.6.5 1 .5-.6.5.8.5-.3.5-.2.5-.6.5.7.5 0 .5.5.5-.7.5.4.5-.2.5.7.5-1.1.5.3.5.1.5.7.5-1.2.5.4.5.2.5.5.5-.8.5.2.5-.3.5.4.5 0 .5.5.5-.6.5-.1.5-.7.5 1 .5.1.5.2.5-1 .5.5.5-.6.5 1 .5-.5.5 0 .5-.6.5.9.5-.1.5.5.5-.8.5.1.5 0 .5 1.2.5-1.3.5-.1.5-.6.5 1.5.5-.6.5-.1.5-.4.5.6.5-.2.5.3.5-.8.5.9.5-.7.5.7.5-1.2.5 1.2.5 0 .5.1.5-1 .5.5.5.1.5.6.5-1.2.5.6.5-.3.5.9.5-.5.5 0 .5-.7.5.9.5-.4.5 1.1.5-1.2.5.1.5-.4.5.9.5-.4.5.3.5-.5.5.2.5-.1.5.4.5-.4.5.5.5-1.1.5.6.5-.2.5.5.5-.2.5-.1.5-.2.5.4.5.1.5.1.5-.8.5.5.5 0 .5.4.5-.9.5.7.5-.8.5 1 .5-.4.5.3.5-.4.5-.1.5-.5.5 1 .5-.4.5.3.5-.9.5.8.5.1.5.3.5-1.3.5.4.5.9.5.3.5-1.5.5.3.5.3.5.9.5-.6.5-.3.5-.9.5 1.3.5.1.5.3.5-1.4.5.5.5-.1.5.8.5-.2.5.5.5-1.2.5 0 .5-.5.5 1.5.5-.5.5.5.5-1.4.5.3.5.4.5.9.5-.5.5-.7.5-.2.5 1 .5.1.5.4.5-1.8.5.4.5.3.5 1.2.5-1 .5 0 .5-.4.5.5.5.2.5-.1.5-.6.5.3.5.1.5.1.5-.2.5.2.5-.2.5.2.5-1.2.5 1.2.5 0 .5.9.5-1.7.5.4.5-.1.5.6.5 0 .5.6.5-1 .5.7.5-.7.5.5.5-.3.5.7.5-.9.5.1.5 0 .5.9.5-1.1.5.8.5-.5.5.8.5-1.7.5.9.5-.3.5.9.5-.3.5-.2.5-.9.5.9.5.2.5 1 .5-1.7.5.2.5-.1.5 1.1.5-.9.5 0 .5-.3.5 1.7.5-1.4.5-.1.5-.6.5 1.7.5-.8.5-.4.5-.7.5 1.1.5.1.5.1.5-.5.5.3.5-.4.5 0 .5.4.5.6.5-.8.5-.5.5.1.5 1.5.5-.5.5-.5.5-1.1.5.8.5.6.5.7.5-1.8.5 1.2.5-1.2.5 1.2.5-.3.5.4.5-.8.5.1.5-.5.5 1.2.5-.1.5-.2.5-.9.5.6.5.1.5.8.5-.9.5.5.5-1.4.5 1.6.5-.7.5.6.5-1.2.5.7.5-.6.5 1.1.5-.6.5.2.5 0 .5.5.5-.8.5.2.5-.7.5.7.5-.3.5.6.5-.5.5.1.5-.3.5 1 .5-.9.5 0 .5-.1.5 1.3.5-.8.5.1.5-1.2.5 1.2.5-.1.5.3.5-.5.5.1.5-.3.5.4.5-.5.5.8.5-.4.5.2.5-.4.5.2.5 0 .5.3.5-.3.5.6.5-1.1.5.5.5.2.5.5.5-.8.5-.1.5-.7.5 1.3.5-.6.5.3.5-.1.5.6.5-.9.5.6.5-.9.5 1.2.5-.4.5-.4.5-.5.5 1 .5-.1.5.9.5-1.2.5-.5.5-.4.5 1.3.5.2.5.1.5-1.4.5.3.5.1.5 1.3.5-.4.5-.6.5-1.1.5 1.4.5.2.5.7.5-1.2.5-.4.5 0 .5.7.5.1.5.1.5-.9.5.2.5.1.5 1 .5-1 .5.2.5 0 .5.1.5-.7.5.8.5-.5.5 1.1.5-.8.5-.4.5-.4.5 1.3.5 0 .5 0 .5-1.2.5.8.5.4.5-.1.5-1.1.5.4.5.1.5 1.4.5-1.3.5-.1.5-.2.5.7.5-.5.5.8.5-.7.5-.2.5-.3.5.8.5-.2.5.3.5-1.1.5.6.5-.1.5.5.5-.7.5.8.5-.3.5.3.5-.6.5.1.5.1.5.6.5-.6.5.3.5-.8.5.3.5.1.5 1.1.5-1.1.5.1.5-.5.5 1.1.5-.3.5.9.5-1.5.5.9.5-1.1.5 1.1.5-.5.5 0 .5-.2.5.1.5-.4.5 1 .5-.4.5.1.5-.9.5.7.5.3.5.1.5-1.5.5 1.1.5.4.5.2.5-1.4.5 1.2.5-.9.5 1.6.5-1.7.5 1 .5-.8.5.4.5-.4.5 1.4.5-1.4.5.3.5-.3.5 1.1.5-.7.5.2.5-.6.5.7.5-.6.5.9.5-.6.5 0 .5-.4.5.8.5-.4.5.4.5-.6.5.5.5-.4.5.3.5-.9.5 1.4.5-.5.5 0 .5-.8.5.6.5 0 .5.4.5-.8.5.2.5 0 .5.7.5-.2.5-.4.5-.4.5.4.5 0 .5.6.5-1 .5.4.5.3.5.3.5-1.6.5.7.5.4.5.7.5-1 .5-.1.5.2.5.9.5-1.2.5 0 .5-.3.5 1.1.5.1.5-.1.5-.7.5.5.5-.3.5.1.5 0 .5.5.5-.8.5.3.5.1.5.7.5-.9.5-.1.5-.1.5 1 .5-.5.5-.4.5-.3.5.7.5.3.5-.1.5-.6.5.1.5-.1.5.9.5-.3.5-.4.5-.6.5.6.5.3.5.7.5-1.1.5-.3.5.2.5 1.1.5-.7.5.5.5-1.4.5 1.2.5-.5.5.9.5-1.1.5.1.5-.4.5 1 .5.1.5-.1.5-1.1.5.7.5-.2.5.5.5-.4.5.6.5-.4.5-.5.5-.3.5 1.2.5-.2.5-.1.5-.7.5.5.5-.2.5.4.5-.7.5.7.5-.7.5.9.5-.4.5.3.5-.6.5.3.5.4.5 0 .5-.8.5.4.5-.2.5.5.5-.4.5.4.5-.3.5.1.5-.3.5.4.5 0 .5.4.5-1 .5.5.5.2.5.4.5-.9.5-.1.5 0 .5.5.5-.3.5.8.5-1 .5 0 .5-.3.5 1.2.5-.6.5.2.5-.7.5 1.1.5 0 .5-.7.5-1.4.5 1.3.5.8.5.5.5-1.8.5.3.5.2.5.8.5-.6.5.5.5-.9.5 0 .5-1.3.5 2.2.5 0 .5 0 .5-1 .5.1.5-.2.5 1.3.5-.5.5-.4" stroke="#f00"/>
<path d="M111.5,203.71l.5-1.3.5.5.5-.5.5.6.5-.3.5.4.5-1.2.5 1.8.5-.7.5.2.5-1.2.5.4.5-.6.5 1.5.5-.7.5 1.3.5-2.9.5 1.2.5.8.5.5.5-.6.5-.8.5-.6.5 2 .5-.2.5.2.5-1.7.5.9.5-.5.5.8.5-.5.5.6.5-.8.5.6.5-.8.5 1.1.5-.4.5.7.5-1.2.5.2.5-.6.5 1.2.5-.4.5.7.5-.8.5.3.5-.8.5.6.5-.2.5.8.5-1.5.5 1.7.5-1.3.5.8.5-.3.5.1.5-1 .5 1.4.5-.1.5 0 .5-1 .5.9.5-.2.5.5.5-.5.5-.2.5-.6.5 1.2.5-.5.5.3.5-.6.5.6.5-.4.5.8.5-1.3.5.9.5-.3.5.5.5-.6.5 0 .5-.1.5.6.5-.2.5.2.5-1.1.5 1.2.5-1.2.5 1.1.5-.5.5.4.5-.6.5.9.5-.4.5 0 .5-1 .5 1 .5-.4.5.4.5-.7.5.6.5-.2.5.4.5-.5.5.4.5-.2.5.1.5-.2.5.6.5-.6.5.4.5-.6.5.4.5-.4.5.4.5-.1.5 1.1.5-1.1.5-.1.5-.1.5 1.4.5-1.4.5.3.5-.5.5 1.2.5-.6.5.1.5-1.1.5 1.1.5-.4.5.7.5-.5.5-.1.5-.5.5.4.5.1.5.9.5-1.4.5.7.5-1.4.5 1.8.5-1.3.5 1.1.5-.5.5.4.5-.4.5.6.5-1.4.5 1 .5-.2.5.8.5-.9.5 0 .5-.3.5 1 .5 0 .5.5.5-1.8.5.4.5.5.5.7.5-.4.5-.9.5-1 .5 1.7.5.3.5.6.5-1.2.5-.2.5-.9.5 2.6.5-1.5.5.5.5-.6.5.6.5-1 .5 1.7.5-.8.5-.5.5-.3.5.5.5.2.5.8.5-1.5.5.4.5-.3.5 1 .5-.4.5.1.5-1.1.5.5.5.3.5.3.5-.5.5 1 .5-1.7.5.7.5-.6.5.9.5-.5.5 1 .5-1.6.5 1.3.5-1 .5.8.5-.8.5 1.1.5-1 .5 1.1.5-.8.5 1.3.5-1.1.5.3.5-.6.5 1 .5-1 .5 1.4.5-1.1.5 0 .5-.3.5.8.5-.5.5.1.5-.2.5.6.5-.2.5.3.5-1.1.5.4.5-.1.5 1.1.5-.9.5 0 .5-.6.5 1.7.5-1.1.5.7.5-1.3.5.3.5.2.5.7.5-1 .5.6.5-1.2.5 1.3.5-.3.5.5.5-.4.5.4.5-.7.5.5.5-.8.5.8.5-.8.5 1.1.5-.8.5.8.5-1.1.5.8.5-1 .5 1.3.5-1.2.5.9.5-.4.5.7.5-.7.5.7.5-1 .5.8.5-.7.5.7.5-.4.5.3.5-.6.5 1.2.5-1.7.5 1.5.5-1.5.5.9.5-.2.5.1.5-.8.5 1.1.5-.4.5.8.5-1.3.5 1.1.5-1.5.5 1.7.5-.6.5.4.5-1.2.5.5.5.4.5.7.5-.8.5.5.5-1.4.5 1.2.5-.3.5.3.5-1.6.5 2 .5-1.1.5.7.5-1.3.5 1.3.5-.1.5.6.5-1 .5.3.5-.7.5 1 .5-.2.5-.2.5-.4.5.6.5-.3.5.5.5-.9.5.6.5-1.3.5 1.4.5-.2.5.4.5-.6.5.4.5-.5.5.7.5-.8.5 1.3.5-1.4.5.2.5-.6.5 1.6.5-.6.5.1.5-.8.5.7.5-1.1.5 1.7.5-1.3.5.8.5-1 .5 1.4.5-.5.5.8.5-1.2.5.3.5-.2.5.6.5-1.1.5 1.4.5-1.5.5 1.5.5-1 .5.7.5-1.1.5 1 .5-.6.5 1 .5-.9.5 0 .5-.2.5 1.2.5-.6.5.2.5-1.1.5.6.5 0 .5 1 .5-1 .5.4.5-1 .5.7.5-.6.5.7.5 0 .5.3.5-.5.5.2.5-.7.5.8.5-.4.5.7.5-.9.5.3.5-.4.5 1 .5-.1.5.3.5-1.6.5.5.5-.1.5.9.5-.6.5.9.5-1.1.5.9.5-.9.5.9.5-.8.5.6.5-.3.5.3.5-.9.5 1 .5-.5.5.8.5-1.1.5 1.1.5-.6.5.6.5-.8.5-.3.5 0 .5 1.4.5-.9.5.3.5-1.1.5.4.5-.8.5 2.1.5-.6.5-.1.5-.9.5.3.5 0 .5 1.1.5-.8.5.1.5-.6.5.9.5-.9.5.9.5-.9.5 1 .5-.8.5.7.5-1.2.5.8.5-.4.5.8.5-.3.5.3.5-.7.5.3.5-.3.5 1.2.5-.7.5.4.5-.8.5.2.5-1 .5.8.5 0 .5.9.5-1.1.5.3.5-.8.5 1.1.5.4.5.5.5-2.1.5.5.5.1.5 1.1.5-1.2.5.7.5-.9.5 1.7.5-.8.5.4.5-1.1.5.6.5-.3.5.9.5-.8.5 1.7.5-2 .5.7.5-.9.5 1.7.5-1.3.5.3.5-.7.5.7.5.2.5 1 .5-2.2.5.6.5-.3.5 1 .5-.1.5.2.5-1.1.5 1.1.5-1.4.5 1.3.5-.4.5.2.5-.1.5.4.5-1 .5.3.5 0 .5.8.5-.5.5-.3.5-.9.5.9.5.5.5.2.5-.6.5-.2.5-.9.5 1.7.5-.4.5.7.5-1.2.5.4.5-.5.5 1.6.5-.7.5-.2.5-.8.5.4.5 0 .5 1 .5-1.1.5.7.5-1.5.5 1.3.5-.4.5 1 .5-1.5.5.5.5-1.1.5 1.8.5-.2.5 0 .5-.8.5.6.5-.8.5 1.1.5-.3.5.6.5-1 .5 1.3.5-1.2.5 1.3.5-1.5.5.6.5-.5.5 1.3.5-1.2.5.9.5-.8.5.4.5-1.2.5 1.6.5-.5.5.5.5-.9.5.3.5-.2.5 1.2.5-1.4.5.7.5-1 .5.9.5-1.1.5.9.5-.5.5 1 .5-1.1.5 1 .5-.9.5.7.5-.5.5.6.5-.3.5-.4.5-.4.5.9.5-.2.5.2.5-.6.5.6.5-.7.5 1.3.5-.9.5.1.5-.5.5 1.1.5-.3.5.5.5-1 .5.1.5-.2.5.7.5-.6.5.6.5-.5.5.1.5-.7.5 1.4.5-1.6.5 1.1.5-.5.5.5.5-.3.5.9.5-1.1.5.8.5-1.4.5 1.2.5-.3.5.2.5-1.3.5 1.8.5-1.1.5 1 .5-.8.5.4.5-.6.5.6.5-.8.5.8.5-.8.5.8.5-.6.5.5.5-.5.5.8.5-.9.5 2 .5-1.5.5-.1.5-.7.5 1.5.5-1.1.5.8.5-.9.5 1.3.5-1.3.5.9.5-.5.5 0 .5.2.5.2.5-.6.5.5.5-.4.5.1.5-.1.5.7.5-.5.5-.2.5-.1.5.5.5-.3.5.5.5-.9.5.8.5-.3.5.3.5-.9.5.7.5-.6.5.8.5-.4.5.6.5-.7.5.9.5-1.6.5 1 .5-.8.5.9.5-1.4.5 1.2.5-.1.5.9.5-.8.5 0 .5-1.1.5 1.1.5 0 .5.6.5-.8.5 0 .5-.5.5 1.3.5-1.1.5.8.5-.8.5.7.5-.4.5 1.2.5-1.7.5 1.1.5-1.4.5.7.5.1.5 1.6.5-1.2.5-.3.5-.6.5.8.5 0 .5.6.5-1.4.5.6.5-.4.5.8.5-.1.5 0 .5-.8.5 1 .5-1 .5 1.4.5-1.6.5.7.5-.5.5.9.5-.8.5.8.5-.4.5.6.5-.9.5.1.5-.6.5 1.6.5-.5.5.1.5-1.4.5.8.5.1.5.6.5-.2.5.5.5-1 .5.7.5-.9.5 1.4.5-.6.5.2.5-1.1.5.7.5-.5.5.6.5-.6.5.3.5.3.5.7.5-.9.5-.2.5-.6.5 1.2.5-.2.5.8.5-1 .5-.5.5-.1.5 1.2.5-.2.5.1.5-1.8.5 1.3.5-1.1.5 2 .5-.7.5.2.5-.4.5-.1.5-.4.5.4.5-.5.5 1.1.5-.5.5-.3.5-1 .5 1.4.5.2.5.1.5-.6.5.1.5-.6.5.9.5-.2.5.1.5-.6.5.5.5-.6.5.8.5 0 .5 0 .5-.8.5 2 .5-1.6.5.8.5-.5.5-.2.5-.6.5.5.5.6.5.8.5-1.9.5.4.5-1.2.5 2 .5-.4.5.6.5-1.4.5.4.5-.2.5.8.5-.1.5 0 .5-.5.5.3.5-.4.5 1.2.5-.9.5.7.5-.9.5.4.5-.4.5 1.1.5-.7.5 0 .5-.2.5.7.5-1.5.5 1.4.5-.9.5.8.5-.7.5.6.5-.6.5.5.5-.4.5.7.5-.7.5.6.5-.8.5.9.5-.6.5.3.5-.7.5.3.5.1.5 1.5.5-1.2.5-.1.5-1.4.5 2.1.5-1 .5.4.5-.1.5.3.5-.3.5.3.5-.7.5.8.5-.5.5.7.5-.9.5.4.5-.1.5.1.5-.6.5.6.5-.3.5.5.5-1.3.5 1.3.5-.7.5 0 .5-.9.5 1.7.5-.2.5.7.5-1.2.5.4.5-1.4.5 2.1.5-.9.5.5.5-.8.5 0 .5-.5.5 1.1.5-.5.5.6.5-.8.5.3.5-.3.5 1 .5-.6.5.6.5-.9.5 1 .5-1.6.5 1 .5-.2.5.5.5-.2.5-.2.5-.4.5.9.5-1.4.5 1.1.5-.4.5 1.2.5-1.2.5-.1.5-.5.5 1.2.5-.1.5.7.5-1.7.5.8.5-.2.5 1.2.5-.8.5.1.5-1.7.5 1.2.5-.4.5 1.6.5-1.2.5.5.5-.5.5.4.5-.5.5.3.5-.1.5.2.5-.9.5 1.3.5-.6.5.8.5-1.5.5.7.5.2.5.9.5-1.4.5 0 .5-.3.5 1.2.5-.2.5.1.5-.9.5.5.5-.4.5.2.5-.3.5 1.2.5-1 .5.7.5-1 .5.7.5-.1.5 1.2.5-1.3.5 0 .5-.5.5.9.5-.5.5.3.5-.7.5.6.5-.6.5.4.5-.1.5.6.5-.4.5.6.5-.9.5.3.5-.1.5.5.5-.8.5.7.5-1 .5.5.5-.1.5.5.5-.5.5 1.1.5-1 .5.4.5-.4.5.3.5-.2.5.6.5-.4.5.4.5-1.5.5 1 .5-.1.5.8.5-.7.5.1.5-.7.5.9.5-.2.5.2.5-.4.5.5.5-.8.5 1.5.5-2.2.5 1.1.5-.3.5 1.7.5-1.8.5.4.5-.6.5 1.2.5-.6.5.5.5-.4.5.3.5-.6.5.5.5-.6.5.7.5-.2.5-.1.5-.7.5.7.5-1.4.5 2.2.5-.9.5-.3.5 0 .5.4.5-.1.5.2.5-.3.5.8.5-1.5.5 1.3.5-.4.5.3.5-.7.5.4.5-.4.5.7.5-.3.5.3.5-.5.5.1.5-.4.5.5.5-.1.5.6.5-.9.5.4.5 0 .5.1.5-.4.5.2.5-.6.5 1.1.5-.9.5.4.5-.6.5.7.5-.3.5.4.5-.7.5.5.5-.2.5 1.2.5-1 .5.2.5-.2.5.3.5-.5.5.3.5-.3.5.8.5-.5.5.3.5-.8.5.2.5-.4.5 1.4.5-1.7.5.6.5-.6.5 1.4.5-.4.5.2.5-1 .5 1 .5-.1.5.6.5-1.6.5 1.4.5-1.2.5 1.1.5-1.2.5 1.5.5-1 .5.1.5-1.1.5 1.2.5.1.5.8.5-.9.5.4.5-.8.5.6.5-.8.5 1.6.5-1 .5.3.5-.6.5.6.5-.4.5.3.5-.7.5 1.4.5-1.3.5.5.5-.4.5 1 .5-1.6.5 1.1.5-.5.5.4.5-.7.5.6.5-.1.5 1 .5-1.4.5.9.5-.5.5 1.7.5-2.6.5 1 .5-1 .5 1.4.5-.5.5 1.3.5-2.1.5 1.5.5-2 .5 2.1.5-.9.5.6.5-1.3.5.8.5-.2.5.9.5-.9.5.5.5-.8.5 1.5.5-1.1.5.6.5-1.2.5.6.5-.1.5 1.2.5-.6.5-.2.5-.6.5.6.5-.1.5.4.5-.7.5.8.5-.8.5.8.5-1.3.5 1.4.5-.9.5.7.5-.7.5 1.2.5-1.3.5 1.1.5-1.2.5 1 .5-1.4.5.8.5-.5.5 1.5.5-1.1.5.4.5-.9.5.7.5-.5.5 1.5.5-1.3.5 1.3.5-2.3.5 1.6.5-.4.5.7.5-1 .5.6.5-.1.5.3.5-.8.5 1 .5-1.6.5 1.3.5-.3.5-.2.5-.7.5 1.3.5-.7.5 1.1.5-1.2.5.6.5-.2.5.5.5-1.7.5 1.2.5-.3.5.6.5-.7.5.4.5-.2.5.4.5-.5.5.3.5 0 .5.3.5-.3.5.2.5-.6.5.9.5-1.6.5 2.7.5-1.5.5.3.5-1.3.5.8.5-1.2.5 1.7.5.1.5-.1.5-1.5.5.8.5-.1.5.9.5-.6.5.5.5-.7.5.2.5-.1.5.5.5-.8.5 1.3.5-1 .5.3.5-.3.5.1.5-.6.5 1 .5 0 .5.4.5-1.5.5.6.5-.3.5.9.5.1.5.2.5-1.3.5.6.5-.9.5 1.3.5-.1.5-.1.5-1.4.5 1 .5-.3.5.8.5-.4.5.7.5-1.1.5.3.5-.9.5 1.3.5.1.5.6.5-1.1.5.1.5 0 .5.4.5-1.3.5 1.1.5.1.5 0 .5-.5.5 0 .5.2.5.7.5-.5.5-.3.5-.5.5 1 .5 0 .5.7.5-1.4.5.3.5 0 .5.8.5-.9.5.3.5-.4.5.4.5-.5.5.6.5-.7.5 1.3.5-1 .5.5.5-.5.5.4.5-.8.5.9.5-1.1.5.8.5-.3.5.9.5-1.2.5 1.2.5-1 .5.9.5-.4.5.5.5-.7.5.3.5-.6.5.3.5.2.5.3.5-.5.5.1.5-.5.5.8.5-.2.5.1.5-.9.5.4.5.2.5 1.7.5-2.1.5.5.5-.1.5 1.1.5-1.5.5.7.5-.4.5 1 .5-.5.5-.4.5-.7.5 1.2.5-.3.5.4.5-.6.5-.3.5 0 .5 1.1.5-.5.5.5.5-1.4.5.3.5.3.5.6.5-.6.5.6.5-.8.5.5.5 0 .5.3.5-1.7.5 1.3.5-.3.5.4.5-.3.5.1.5-.3.5 1.2.5-1.1.5.7.5-.4.5.5.5-1.6.5 1.4.5-.8.5.7.5-.3.5.4.5-.6.5.4.5-.6.5.7.5-.8.5.8.5-.7.5.5.5-.7.5.8" stroke="#00f"/>
<path d="M111.5,215.68l.5-1 .5.4.5-.6.5.5.5-.3.5 1.1.5-1.8.5.9.5-.4.5.3.5-.3.5 1.1.5-1.1.5.3.5-.6.5 1 .5-.1.5.5.5-1.5.5.8.5-.2.5.5.5-.3.5.6.5-.8.5.4.5-.7.5.7.5-.4.5.6.5-.9.5.5.5-.9.5 1.1.5-.1.5.3.5-.7.5-.1.5-.4.5 1.3.5 0 .5-.4.5-1 .5.7.5.3.5.7.5-.8.5-.3.5-.9.5 1.1.5 0 .5 1.3.5-1.5.5.5.5-.8.5 1.7.5-.6.5-.1.5-1.9.5 1 .5.3.5 1.1.5-.6.5-.8.5-.3.5.7.5.5.5.4.5-1.3.5.1.5-.1.5.8.5-.5.5.8.5-.9.5.9.5-.9.5 0 .5-.1.5.8.5 0 .5.2.5-1.2.5.2.5-.1.5 1.1.5-.9.5.5.5-1.7.5 1.5.5-.3.5 1 .5-.7.5 1 .5-1.1.5.7.5-.6.5 0 .5-1.1.5 1.2.5.1.5.6.5-1.2.5.3.5-.3.5.6.5-.3.5.7.5-1 .5 1.2.5-1.2.5.8.5-.5.5.3.5-.2.5-.1.5-.4.5.7.5-.5.5 1.5.5-1.5.5.2.5-.6.5 1.4.5-.4.5.1.5-.8.5.7.5 0 .5.3.5-1 .5.5.5-.1.5.4.5-.9.5.4.5-.9.5 1.4.5-.3.5.3.5-.5.5.3.5-.8.5.9.5-.4.5.5.5-.7.5.3.5-.3.5.7.5-1.4.5 1.4.5-1 .5 1.1.5-.6.5.5.5-.2.5.1.5-.6.5.6.5-.5.5.5.5-.6.5.3.5-.3.5.5.5 0 .5.2.5-1 .5.4.5-.4.5 1 .5-.5.5.5.5-.8.5.6.5-.1.5 0 .5-.6.5.5.5 0 .5.3.5-.3.5 0 .5-.4.5.8.5-.1.5 1.1.5-1.5.5-.1.5-.3.5 1.5.5-1.5.5 1.1.5-1.5.5.7.5.1.5 1 .5-1.2.5.4.5-.5.5 1.4.5-.9.5.6.5-1.6.5.9.5-.3.5.7.5-.2.5-.3.5-.5.5.9.5-.1.5.8.5-2.2.5 1.9.5-1 .5 1.2.5-.9.5.1.5-1.3.5 1.2.5-.4.5 1 .5-.3.5 0 .5-1.5.5 1.3.5 0 .5-.2.5-.9.5 1.6.5-.5.5.1.5-1.1.5 1.8.5-.9.5.2.5-2.3.5 2.2.5.1.5.7.5-1.1.5.4.5-.8.5.9.5-.4.5 1.1.5-.9.5-.1.5-1.5.5 1.6.5-.3.5.6.5-.4.5.1.5-.6.5.9.5-.2.5.5.5-1.6.5.8.5-.5.5 1.5.5-.6.5.1.5-1.1.5.8.5 0 .5.7.5-1 .5.1.5-.3.5.9.5-.7.5.6.5-1 .5 1.2.5-.8.5.1.5.1.5.5.5-.9.5.8.5-.9.5 1.4.5-1.3.5.5.5-1 .5 1.7.5-1.1.5.3.5-.6.5 1.6.5-1.5.5 1.1.5-1.2.5 1.2.5-.5.5.1.5-.9.5.9.5-.8.5 1.3.5-1.7.5.6.5-.1.5 1.2.5-1.5.5 1.3.5-1.8.5 2.5.5-.5.5-.4.5-2.2.5 3.1.5-.6.5.4.5-2.4.5 1.4.5.1.5 1.1.5-2.2.5 1.9.5-1.4.5 1.8.5-1.7.5.7.5-.5.5 1.3.5-2 .5 1.3.5-1.5.5 2 .5-1.1.5 1.1.5-1.8.5.5.5-.6.5 1.7.5-.4.5.7.5-1.6.5.5.5-.4.5 1.2.5-.9.5.5.5-.8.5 1.3.5-1.3.5 1.4.5-1 .5.5.5-1.2.5.8.5-.5.5.9.5-.3.5 0 .5-1.1.5 1.4.5-.1.5.3.5-.9.5.3.5-.8.5 1.6.5-.8.5.5.5-.8.5.6.5-.6.5 1.3.5-1.1.5.4.5-1 .5.9.5-.8.5 1 .5-1.2.5.7.5 0 .5.3.5-.1.5 0 .5-.7.5.5.5-.5.5 1.3.5-.4.5.2.5-1 .5.8.5-.6.5.7.5-.6.5 1 .5-1.4.5.6.5-.2.5.5.5-.2.5.4.5-1.1.5.7.5-.3.5.9.5-.8.5.5.5-.7.5.4.5-.3.5 1.1.5-1.1.5.3.5-.9.5.8.5 0 .5.6.5-.4.5-.2.5-.9.5 1.4.5-1 .5 1 .5-.9.5.8.5-.5.5.3.5-.8.5.8.5-.3.5.7.5-.9.5.6.5-.4.5.6.5-1.5.5.6.5.4.5.8.5-.6.5-.3.5-.4.5 1 .5-.2.5-.1.5-.6.5.8.5-.4.5.8.5-1.3.5.9.5-.9.5 1.1.5-.6.5-.2.5-.4.5.7.5-.4.5.8.5-1.1.5.7.5-.8.5.9.5-.4.5.8.5-1.2.5.4.5-.2.5 1.1.5-.8.5.6.5-.6.5.3.5-.6.5 1.2.5-1.1.5.8.5-.4.5.3.5-.8.5.5.5-.2.5.8.5-.6.5.2.5-1 .5.6.5-.3.5.8.5-.3.5 0 .5-.5.5.6.5-.1.5.5.5-.8.5.2.5-.3.5.8.5-.5.5.1.5-.7.5.8.5-.4.5 1.3.5-1.5.5.9.5-.3.5.2.5-.8.5.2.5.2.5.3.5-.5.5.4.5-.7.5.6.5-.4.5 1 .5-.7.5.1.5-1 .5.7.5.2.5.5.5-.8.5.6.5-.6.5.8.5-1 .5.9.5-1.2.5.8.5-.2.5.6.5-.9.5.5.5 0 .5.6.5-.7.5-.1.5-.3.5 1.3.5-1.1.5.9.5-1.1.5.3.5-.4.5 1.1.5-.7.5.4.5-1.2.5.7.5.5.5.7.5-1 .5.1.5-.5.5.9.5-.1.5.6.5-2 .5 1 .5-.9.5 1.4.5-.7.5.8.5-1.1.5.6.5-.7.5 1.4.5-.5.5-.3.5-.3.5.7.5-.5.5 1.5.5-1.6.5.5.5-.5.5.5.5-.5.5.5.5-.8.5 1 .5-.6.5 1.1.5-1.1.5.4.5-.3.5.7.5-1.3.5.6.5-.5.5 1.6.5-1.1.5.6.5-1.5.5 1.6.5-.6.5.2.5-.3.5.2.5-.5.5.9.5-1.2.5.8.5-.4.5 1.6.5-1.5.5 0 .5 0 .5 1 .5-1.7.5 1 .5-.8.5 1.1.5-.6.5.8.5-1 .5.5.5-.4.5 1.2.5-.6.5.3.5-1 .5.1.5 0 .5 1 .5-.4.5.1.5-1 .5.8.5-.8.5.9.5-.3.5.8.5-.9.5.8.5-.5.5-.1.5-.8.5 1 .5-.5.5 1.1.5-1 .5.5.5-.5.5.9.5-1.8.5 1.2.5-.6.5.5.5-.4.5 1.4.5-1.6.5.3.5-.6.5 1.9.5-1.3.5 1.3.5-1.3.5.8.5-1.2.5 1.5.5-1 .5.4.5-.4.5.1.5-.3.5.4.5 0 .5.2.5-1 .5 1.1.5-.6.5 1.2.5-1.4.5 1.5.5-1.9.5 1.9.5-1.3.5 1 .5-.8.5.5.5-.6.5.2.5-.5.5 1.1.5-1.5.5.8.5.1.5.4.5-.7.5 0 .5-.4.5.7.5-.1.5.6.5-.7.5.4.5-1 .5 1.1.5-.2.5.9.5-1.9.5 1.4.5-.3.5 1.2.5-2.2.5.6.5-.6.5 1.6.5-.6.5.2.5-1.8.5 1 .5-.5.5 1.5.5-.7.5.1.5-.8.5.9.5-.6.5.7.5-.4.5.5.5-.4.5 0 .5-.3.5.6.5-.3.5 1 .5-.9.5.4.5-.7.5.7.5-.8.5 1.1.5-.6.5 0 .5-.8.5.4.5-.2.5 1.3.5-1.3.5.6.5-1.1.5 1.5.5-.1.5-.3.5-1.1.5.8.5.3.5.6.5-1.2.5.4.5-.1.5.8.5-1.3.5.9.5-1.1.5 1.2.5-1.3.5 1.4.5-1.1.5.6.5-.1.5.4.5-.6.5.3.5-.4.5.9.5-.4.5.2.5-.8.5.4.5-.6.5 1.2.5-.4.5.5.5-1.1.5.6.5-.1.5.5.5-.4.5.3.5-1.2.5.7.5.1.5 1.1.5-1.6.5.7.5-.8.5 1.7.5-.8.5.3.5-.8.5.1.5-.9.5 1.2.5.1.5.5.5-.9.5.2.5-.7.5.9.5-.1.5.9.5-1.5.5.6.5-1.5.5 2.2.5-.9.5 1.2.5-1.3.5.5.5-1.3.5 1.8.5-1.7.5 1.7.5-1 .5.1.5-.2.5 1 .5-.9.5.1.5-.4.5 1.2.5-.6.5.3.5-1.6.5.6.5-.5.5 1.6.5-.5.5-.1.5-.7.5.4.5.3.5.7.5-.5.5.1.5-2 .5 2 .5-.8.5 1.2.5-.8.5.1.5-.7.5.9.5-.5.5 1.1.5-1.4.5.3.5-.8.5 1.8.5-.2.5-.1.5-1 .5.6.5-.7.5 1.6.5-1.2.5.7.5-1.2.5 1.1.5-.6.5 1.1.5-1.7.5 2 .5-.8.5.6.5-1.3.5.1.5-.2.5.9.5-.5.5 1 .5-1.2.5.3.5-1 .5 2.2.5-.6.5-.2.5-.9.5.6.5-.2.5.6.5-1 .5 1 .5-.7.5.7.5-.5.5 0 .5-.7.5 1.2.5-1.3.5 1.4.5-.5.5.3.5-1.2.5 1.1.5-.4.5.2.5-.7.5 1 .5-.3.5.4.5-.9.5 0 .5-.4.5 1.8.5-.6.5.4.5-1.1.5.1.5-.1.5 1 .5-1.4.5 1.7.5-1.1.5.6.5-1.1.5.9.5-.6.5.5.5-.3.5.5.5-.4.5-.2.5-.8.5 1.1.5-.1.5.9.5-1.4.5.3.5-.3.5.6.5 0 .5.3.5-1.2.5.9.5-1.2.5 1.4.5-.2.5.2.5-.9.5.5.5.2.5.4.5-.8.5.4.5-.4.5.8.5-.4.5.4.5-1.3.5.9.5-.2.5 1.1.5-1.3.5.6.5-1 .5 1 .5.1.5.2.5-1.3.5.6.5-.9.5 2.3.5-.8.5 0 .5-1.2.5.3.5.2.5 1 .5-1.2.5.7.5-.8.5 1.2.5-.8.5-.1.5-.5.5.8.5-.3.5 1.2.5-1.6.5.3.5.3.5.6.5-1 .5.2.5-.1.5.5.5-.3.5.4.5-.2.5.6.5-.8.5.1.5-.3.5.9.5-.8.5.2.5-.1.5.8.5-1.5.5.7.5-.2.5.8.5-.5.5.2.5-.6.5.4.5-.4.5.7.5-.6.5.2.5-1 .5 1.1.5 0 .5.3.5-.4.5.8.5-1.2.5.3.5.2.5.7.5-1.4.5.5.5-.6.5 1.3.5-.4.5.9.5-1.5.5.4.5-.8.5 1 .5-.7.5 1 .5-1.1.5 1.1.5-.9.5.7.5 0 .5.1.5-.6.5.4.5-.2.5.4.5-.5.5.4.5-.5.5.7.5-.3.5.2.5-1 .5.5.5-.3.5 1.1.5-.5.5-.1.5-.4.5.8.5-.5.5.1.5-.9.5 1.5.5-.5.5.3.5-.9.5.5.5-.5.5.8.5-.4.5.2.5-.9.5 1.1.5-.3.5.2.5-.5.5.3.5-.4.5.5.5-.6.5 1.4.5-1.1.5.4.5-.4.5.7.5-.6.5.3.5-.6.5.8.5-.4.5 0 .5-.6.5 1.2.5-.8.5.4.5-.7.5 1 .5-.7.5.1.5-.7.5.8.5-.5.5 1.4.5-.7.5.3.5-1 .5.6.5-.2.5.8.5-.5.5-.3.5-.5.5.7.5 0 .5.6.5-.7.5-.2.5-.6.5 1.3.5-.6.5.9.5-.9.5.1.5-.2.5.5.5-.3.5.3.5-.7.5.8.5-.5.5 1.2.5-1.7.5.4.5-.2.5.9.5-.3.5.9.5-1.6.5.1.5-.3.5 1.9.5-.9.5-.2.5-.9.5.9.5-.1.5.8.5-.9.5.1.5-.5.5 1 .5-.8.5.1.5-.6.5 1.2.5-.3.5.7.5-1.1.5.7.5-.9.5.9.5-.2.5.4.5-1.6.5.8.5.2.5.9.5-1.1.5.1.5-.9.5 1 .5-.5.5 1.3.5-.5.5-.5.5-1 .5 1.5.5-.1.5.4.5-1 .5.3.5-.5.5 1.1.5-.9.5.2.5.2.5.7.5-.7.5.1.5-1.3.5 1.7.5-.5.5 1.1.5-2.1.5.7.5-.1.5.6.5-.5.5.9.5-1.1.5.8.5-1.2.5 1.3.5-.3.5.7.5-.9.5.6.5-1.3.5.8.5.2.5.6.5-1.1.5-.2.5 0 .5 1.1.5-.8.5.3.5-.8.5.9.5-.6.5 1 .5-.9.5.3.5-.7.5.7.5-.1.5.6.5-.5.5.9.5-.6.5-.4.5-1.2.5 1.3.5.3.5.3.5-.7.5.6.5-.9.5.5.5 0 .5.7.5-1.4.5.9.5-.6.5.6.5 0 .5.2.5-1.2.5.6.5-.8.5 1.7.5-.3.5.2.5-1.1.5.2.5-.4.5 1.1.5-.7.5 1.2.5-1.7.5.9.5-.8.5.9.5-.5.5.7.5-.5.5.3.5-.9.5.8.5-.6.5 1 .5-.7.5.4.5-1.4.5 1.3.5-.2.5.6.5-.6.5 0 .5-.6.5 1.6.5-.9.5.1.5-.6.5.9.5-.9.5.9.5-.7.5.8.5-.8.5.4.5-.2.5.1.5-.7.5 1.1.5-1.3.5 1.3.5-1 .5 1.3.5-1.8.5.8.5-.1.5 1.2.5-1.1.5.7.5-1 .5.3.5-.5.5 1.2.5-.5.5.4.5-.9.5.4.5 0 .5.7.5-.4.5-.2.5-.8.5 1.2.5-.5.5.7.5-1.1.5.5.5-.4.5.9.5-.3.5.1.5-1 .5.8.5-.1.5.1.5-.4.5.1.5-.2.5 1.7.5-1 .5-.4.5-.7.5.9.5.3.5.5.5-1.3.5.1.5-.4.5.9.5-.1.5.7.5-1.2.5.1.5-.9.5 1.2.5.1.5.5.5-1.1.5.4.5-.8.5 1.9.5-.5.5.2.5-1.7.5 1.5.5-1.5.5 2 .5-1.1.5.1.5-.9.5 1 .5-.1.5.6.5-.7.5.4.5-.6.5 1.3.5-1.6.5.9.5-1.3.5 1.4.5-.8.5.8.5-1.2.5.6.5-.1.5.7.5-.5.5.6.5-.9.5.4.5-.1.5 1 .5-.9.5-.3.5-.2.5 1 .5-.9.5.9.5-1 .5.1.5.3.5.9.5-.6.5-.5.5-.2.5.5" stroke="#f00"/>
<path d="M111.5,227.15l.5-.7.5 1 .5-.9.5.7.5-.8.5 1.5.5-.7.5.1.5-.9.5.1.5.5.5.9.5-1 .5 0 .5-.7.5 1.8.5-.6.5.2.5-1.3.5.2.5.5.5.7.5-.9.5-.3.5-.1.5.6.5.3.5.6.5-1.3.5.2.5-.4.5 1 .5-.5.5.3.5-1.2.5 1.4.5-.9.5.7.5-.4.5.6.5-.3.5.4.5-1.3.5 1.5.5-.9.5.7.5-.5.5 1.2.5-2 .5.8.5-.3.5.8.5-.6.5.3.5-1 .5.9.5-1.1.5 1.9.5-1.6.5 1.3.5-1.2.5 1.3.5-.9.5.8.5-1 .5 1.7.5-1.5.5.5.5-1.5.5 1.5.5 0 .5-.1.5-1.1.5 1.1.5.1.5.7.5-2.2.5 1 .5-.1.5.9.5-.5.5.1.5-.7.5 1.4.5-1.6.5.8.5-.2.5.3.5-.8.5.9.5-1 .5 1.5.5-1.5.5 1.4.5-1.1.5.7.5-.6.5.6.5-.2.5.1.5-.6.5 1 .5-1.2.5.9.5-.5.5.6.5-.7.5 1.3.5-1.2.5.2.5-.7.5 1.6.5-1.1.5.7.5-.6.5.7.5-1.5.5 1.5.5-1 .5.5.5 0 .5.3.5-.7.5.4.5-.5.5 1.1.5-.6.5.4.5-1 .5.6.5-.4.5.9.5-.9.5 1.2.5-1.7.5 1.1.5-.2.5.5.5-.9.5-.1.5 0 .5 1.3.5-.5.5-.6.5-.7.5.9.5 0 .5 1.4.5-1.3.5 0 .5-1.2.5 1.3.5-.1.5.1.5-.6.5.3.5-1.1.5 1.3.5-.2.5.5.5-.5.5.7.5-2 .5 1.5.5-.3.5.5.5-.6.5.2.5-.2.5 1.1.5-1.6.5.6.5-.2.5.9.5-.7.5 1 .5-1.4.5 1.6.5-.8.5.3.5-1 .5.5.5-.2.5.6.5-.8.5 1.1.5-1.2.5 1.4.5-.9.5.3.5-.9.5.6.5-.2.5 1 .5-.7.5.3.5-1.6.5 1.4.5 0 .5.4.5-1.1.5.3.5-.3.5 1.3.5-.6.5.3.5-.9.5.5.5 0 .5.1.5-1.2.5 1.4.5-.7.5 1.1.5-1.3.5.4.5-.2.5 1.5.5-1.4.5.3.5-.6.5.5.5.1.5.6.5-1.3.5.6.5-.4.5 1.3.5-1.8.5 1.2.5-.5.5.4.5-.6.5.7.5-.6.5 1.4.5-1.2.5-.1.5-.2.5.8.5-.2.5.8.5-1.9.5.6.5-.6.5 1.3.5-.2.5.1.5-1.2.5 1.7.5-.6.5.9.5-1.7.5.4.5.4.5.9.5-1.8.5.5.5-.4.5 2 .5-1.5.5-.2.5-1.2.5 2.3.5-.4.5-.4.5-1.3.5 1.2.5.2.5.6.5-1.8.5 1.2.5-.3.5.8.5-.9.5.2.5-.2.5 1.2.5-.8.5.7.5-1.2.5.8.5-1.1.5.6.5.2.5.5.5-.4.5-.1.5-.4.5.6.5-.3.5.6.5-1 .5.8.5-.2.5.5.5-1.3.5.6.5-.2.5.6.5-.8.5.9.5-.9.5.6.5-.6.5.5.5-.4.5.1.5-.3.5 1 .5-1.1.5 1.5.5-1 .5 1.1.5-.9.5.1.5-.9.5 1.2.5-.3.5 1.2.5-2 .5.6.5-.2.5.7.5-.6.5-.1.5-.9.5 2.4.5-2 .5 1.3.5-1.3.5.9.5-1.1.5 1 .5 0 .5.3.5-.7.5.6.5-.6.5.3.5-.2.5.8.5-.7.5.3.5-.3.5.4.5-.9.5.8.5-1.7.5 2.2.5-1.7.5 1.6.5-.9.5.5.5-.7.5.7.5-.9.5 2.2.5-1.6.5.3.5-1.1.5 1.3.5-.9.5 2 .5-2.1.5 1.7.5-2.5.5 1.9.5-1 .5 1.9.5-1.6.5 1.3.5-1.9.5 1.2.5-1.1.5 1 .5-.4.5.3.5-1.2.5 1.5.5-.5.5.2.5-.4.5.5.5-.4.5.8.5-1.5.5 1 .5-.9.5 1.2.5-.5.5.8.5-.9.5.9.5-1.4.5.8.5-1.2.5.9.5 0 .5.8.5-1.1.5.9.5-.9.5 1 .5-1 .5.7.5-.1.5.9.5-1.8.5.2.5-.3.5 1.4.5-.1.5-.2.5-1.3.5.8.5.3.5.9.5-1.2.5 0 .5-1.4.5 1.9.5 0 .5 0 .5-.6.5.3.5-.5.5 1 .5-.3.5.5.5-1.6.5.9.5.1.5.5.5-.7.5-.2.5-.7.5 1.3.5-.4.5.2.5-.5.5.7.5-.6.5.8.5-.8.5.6.5-1.1.5 1.4.5-.6.5.6.5-.9.5.2.5-.6.5 1.6.5-1.7.5 1.1.5-.7.5 1 .5-.3.5 1.1.5-2.6.5 1.1.5-.7.5 1.4.5-.8.5.5.5-1.4.5 1.4.5-.4.5 1.2.5-1.5.5.9.5-1.3.5 1.6.5-.8.5.1.5-.2.5.4.5-.6.5.4.5-1.2.5 1.4.5-.7.5 1 .5-.6.5.2.5-.9.5.3.5-.6.5 2.1.5-.7.5-.3.5-.5.5.6.5-.7.5 1 .5-.2.5.9.5-1.9.5.8.5-.2.5 1.2.5-1.3.5.3.5-.6.5.8.5-1.4.5 1.6.5-.6.5.4.5-1.2.5.6.5 0 .5.7.5-.2.5 0 .5-.9.5.8.5-.1.5.4.5-.7.5.3.5-.5.5 1.1.5-.8.5.7.5-1.7.5 1.5.5-.7.5 1.5.5-1.7.5.9.5-.4.5.3.5-.8.5.7.5-.6.5 1.1.5-.4.5.5.5-1.5.5.8.5 0 .5 2.8.5-3.4.5.1.5.1.5 1.5.5-1.2.5 0 .5-1.2.5 1.6.5-.2.5.5.5-.9.5.2.5 0 .5.3.5-.5.5.7.5-1.2.5 1.8.5-1.6.5 1.3.5-1.2.5.3.5-.3.5 1.6.5-1.3.5.8.5-1 .5.8.5-1 .5 1.7.5-1 .5.9.5-1.4.5.2.5-.2.5 1.4.5-.8.5.3.5-.9.5 1.2.5-.9.5.7.5-1 .5.6.5-.4.5.6.5-.5.5.2.5-.8.5 1.2.5-.8.5.8.5-1 .5.8.5-.4.5.5.5-.6.5-.2.5.3.5.7.5-.9.5.1.5-.2.5.6.5-.2.5.7.5-2 .5.9.5-.4.5 1.3.5-.5.5 0 .5-.7.5.9.5-.2.5 1.4.5-1.7.5.6.5-1.6.5 1.4.5-.3.5.7.5-.8.5.7.5-1.3.5 1.8.5-.9.5.1.5-.4.5.5.5-.6.5.5.5-.3.5.5.5-.2.5-.2.5-.5.5 1.4.5-.9.5.4.5-1.4.5 1 .5-.7.5 1 .5-.4.5.2.5-1.1.5 1.5.5-1 .5.5.5-.8.5 1.5.5-.9.5.3.5-.6.5.8.5-.3.5 1.3.5-1.5.5 1 .5-.7.5.2.5-.7.5.9.5-.4.5.1.5-.9.5 1.4.5-.5.5 0 .5-.7.5 1 .5-.2.5.3.5-.5.5 0 .5-.4.5.9.5-.7.5.4.5-.6.5 1 .5-.3.5-.2.5-1.1.5.8.5.6.5.9.5-1.9.5.2.5-.2.5 1.1.5-.6.5.4.5-1 .5.8.5-.4.5 1 .5-.8.5.3.5-.8.5.6.5-.2.5.7.5-1.3.5.9.5 0 .5.2.5-.8.5 1.9.5-1.5.5 1.4.5-1.9.5.5.5-.2.5 1.1.5-1 .5.2.5-.2.5.6.5-.9.5.8.5-.5.5 1.3.5-1.1.5 1 .5-1.4.5.8.5-.4.5.4.5-1.3.5 1 .5-.4.5.9.5-.8.5.2.5-.3.5.7.5-.6.5.7.5-.9.5 1.2.5-.5.5.4.5-1.3.5.5.5-.5.5 1.6.5-1 .5.3.5-.9.5.8.5-.1.5.3.5-.4.5.3.5-.8.5 1.1.5-.2.5.3.5-1 .5.1.5-.7.5 1.9.5-.9.5 0 .5-.8.5.8.5.3.5.8.5-1.4.5.1.5-.2.5.5.5-.1.5.7.5-1.8.5.8.5-.8.5 1.4.5-.5.5.4.5-.9.5.8.5-.8.5.9.5-.5.5 1.4.5-1.2.5 1.4.5-1.5.5.2.5-.4.5.3.5-.2.5.5.5-.3.5.9.5-1.8.5 1.3.5-.9.5.9.5-.6.5.6.5-1.1.5.8.5-.8.5 1.3.5-.9.5.4.5-.7.5.9.5-.5.5.4.5-.9.5 1.3.5-1 .5 1.6.5-1.2.5 0 .5-1.1.5 1.3.5-.4.5.3.5-.2.5.3.5-.4.5.3.5-2 .5 2.5.5-.8.5.8.5-1.6.5 1 .5-.2.5.4.5-.4.5 0 .5-.2.5.6.5-1 .5.8.5-.3.5.5.5-1.3.5 1.4.5-1.5.5 1.2.5-.6.5 1.5.5-1.5.5 1.2.5-1.6.5.7.5.2.5 1 .5-1.3.5.4.5-1.3.5 1.7.5-.6.5 1.5.5-1.7.5.1.5-.6.5 1.2.5-.4.5.2.5-1 .5 1.4.5-.6.5.4.5-.6.5.4.5-.7.5 1.5.5-1.2.5.6.5-.8.5 1 .5-.9.5.4.5-.3.5 1 .5-.5.5.5.5-1.7.5 1.1.5 0 .5.6.5-.9.5 0 .5-.3.5 1.9.5-1.8.5.7.5-1.3.5.8.5-1.1.5 1.8.5-.6.5.2.5-1.1.5.9.5-.6.5 2.9.5-2.2.5.4.5-.6.5.5.5-1.2.5 2.4.5-1.5.5.3.5-1.3.5.9.5 0 .5.7.5-1.7.5.8.5.3.5.7.5-.5.5-.6.5-.4.5 1.3.5-.5.5 1 .5-1.7.5.7.5-.2.5 1.4.5-1.1.5-.1.5-.4.5.6.5-.9.5 1.7.5-1.5.5.8.5-.9.5.4.5 0 .5 1 .5-1.2.5.6.5-.8.5 1.9.5-1 .5.1.5-.7.5 0 .5 0 .5 1 .5-.4.5.1.5-1.2.5.9.5-.6.5.9.5-.4.5.1.5-.6.5.8.5-.6.5.4.5-.7.5 2 .5-2 .5.8.5-.5.5.8.5-1.1.5.9.5-.1.5.2.5-.9.5 1.1.5-1 .5.8.5-.7.5.5.5-.6.5.7.5-.4.5.8.5-1.2.5.7.5-.6.5.5.5-.4.5 1 .5-1.6.5 2.1.5-1.6.5.4.5-.2.5.4.5-1.2.5 1.6.5-.9.5 1.1.5-1.5.5 1.8.5-1.3.5.2.5-.4.5.8.5-.1.5.4.5-1.1.5.7.5-.8.5 1.1.5-.3.5-.2.5-.4.5.5.5-.5.5.4.5-.6.5 1.2.5-.8.5.4.5-1.4.5 1.4.5-.3.5.7.5-1.7.5 1.5.5-1 .5.8.5-.7.5.4.5-.5.5 1 .5-.6.5.6.5-.7.5.5.5-.6.5.6.5-1.8.5 2.2.5-1.7.5 1.2.5-.9.5 1.3.5-1.4.5 1.2.5-1.8.5 1.9.5-1.2.5 1.6.5-.8.5 0 .5-.6.5.7.5 0 .5.7.5-1.4.5 1.1.5-1 .5.7.5-.4.5.4.5-1.2.5.9.5-.1.5.7.5-.3.5.3.5-1 .5 1.2.5-.8.5.6.5-1.1.5.8.5-.4.5.5.5-.8.5.4.5-1 .5 2.3.5-1.7.5 1.5.5-2 .5 1 .5-.6.5 1.1.5-1 .5.4.5-.1.5.8.5-1 .5.7.5-.5.5.6.5-.5.5.6.5-1.1.5 1 .5-1.4.5 1.2.5-.6.5.5.5-.8.5.4.5 0 .5.8.5-.4.5-.4.5-.5.5 1.3.5-.4.5.1.5-.9.5.9.5-.2.5 1.3.5-2 .5.5.5.2.5.4.5-.8.5.4.5-.3.5 1 .5-.8.5 0 .5-.3.5.5.5 0 .5.1.5-1 .5.8.5-.8.5 1 .5-.3.5 0 .5-.4.5 1.1.5-1 .5.4.5-.9.5 1 .5-.3.5.9.5-2 .5 2.1.5-1.1.5.8.5-1.9.5 2 .5-1.5.5.9.5-1 .5 2 .5-1.3.5.6.5-.9.5 1 .5-.4.5.3.5-1.3.5.8.5-.1.5 1.1.5-.8.5 0 .5-.5.5.5.5-.1.5.5.5-1.1.5 1.1.5-1.1.5 1 .5-1.1.5 1.8.5-2.1.5 1.4.5-1.5.5 1.6.5-.9.5.6.5-.4.5.3.5-.3.5.8.5-1 .5 1 .5-.8.5.6.5-.7.5.5.5-1.1.5 1.2.5-1.2.5 1.3.5-.6.5 1.2.5-1 .5.6.5-.9.5 1 .5-1.3.5.5.5-.5.5 1.5.5-.8.5-.2.5-.5.5.8.5-.3.5.1.5-.5.5 2 .5-2 .5.7.5-.9.5.9.5.2.5.4.5-1.8.5 1.2.5-.6.5 1.1.5-1.2.5.7.5-1.2.5.9.5-.5.5 1 .5-.9.5.9.5-.5.5.8.5-1.4.5 1.4.5-.9.5.4.5-.9.5 1.6.5-1.1.5.6.5-.7.5.8.5-1.8.5 1.6.5-.9.5 1.5.5-1.1.5.1.5-.4.5 1 .5-.7.5.5.5-.8.5.7.5-.8.5 1 .5-1 .5 1 .5-.5.5.6.5-1.1.5.8.5-.3.5.3.5-.6.5.8.5-.9.5.6.5-.3.5.8.5-1.7.5 1 .5-.2.5.7.5-.8.5.3.5.1.5 1.1.5-1.9.5 1.1.5-.8.5 2.5.5-2.4.5.5.5-1.1.5.7.5.2.5.6.5-.3.5.1.5-1.4.5 1.1.5-.3.5.9.5-.6.5.3.5-.5.5 0 .5-.6.5 1.1.5-.2.5.5.5-1.5.5 1.1.5-.8.5.5.5-.2.5.6.5-.8.5 1.1.5-1.3.5 1.1.5 0 .5.2.5-1.7.5 1 .5.6.5 0 .5-1.2.5.9.5-.8.5 1.3.5-.5.5.5.5-1.5.5.4.5 0 .5.9.5-.2.5.3.5-1.7.5.9.5-.1.5.6.5-.8.5 1.6.5-1.6.5.4.5-.4.5.6.5-.2.5.3.5-.5.5.4.5-.4.5.4.5-.6.5.9.5-.3.5-.1.5-.4.5.6.5-.2.5.7.5-1.1.5.4.5-.4.5 1 .5-.7.5.1.5-.3.5.3.5-.3.5.6.5-.1.5.6.5-1.5.5 1.3.5-1.4.5.9.5-.4.5.6.5-.4.5.3.5-.2.5.2.5-.5.5.7.5-1.3.5 2.1.5-1.5.5.3.5-.2.5.9.5-1.3.5 1.1.5-.7.5.2.5-.2.5.8.5-1 .5 1.3.5-1.2.5.4.5-.4.5 1.8.5-2.1.5 1.2.5-1.1.5 1.6.5-1.9.5.8" stroke="#00f"/>
<path d="M111.5,239.02l.5-.7.5 1.3.5-.1.5 1 .5-3 .5 1.5.5-.5.5 1.3.5-1.2.5 1.6.5-1.3.5.2.5-.4.5.6.5.1.5.3.5-1.1.5.9.5-.3.5.7.5-1.1.5.3.5-.6.5 1.1.5-.1.5.3.5-1.2.5.4.5-.3.5 1 .5-.4.5.1.5-.5.5.5.5-.2.5.3.5-.8.5 1.2.5-1.2.5.5.5-.1.5.6.5-1.2.5.7.5-.7.5.7.5-.2.5.4.5-.7.5.7.5-.5.5.4.5-1.1.5 2.2.5-1.3.5.4.5-.7.5.8.5-.4.5.7.5-.8.5.5.5-1.6.5 2.1.5-1.3.5.8.5-.9.5 1.3.5-1.4.5.9.5-1.8.5 2.6.5-1.5.5 1.2.5-1.6.5 1.6.5-1.9.5 1.9.5-1.5.5 1.1.5-1.5.5 2.4.5-2.3.5 1.4.5-.8.5 1.1.5-.8.5.8.5-1.6.5 1.7.5-.6.5 1.1.5-2 .5.7.5-.3.5 1.4.5-1.1.5.3.5-.8.5.4.5-.6.5.9.5-.3.5.9.5-.9.5.4.5-.9.5.7.5.2.5.1.5-1.5.5 1 .5-.4.5.8.5-.3.5.6.5-1.6.5.7.5-.8.5 1.7.5-.2.5.8.5-1.7.5.1.5-.2.5 1.9.5-1 .5-.5.5-.2.5 1.4.5-1.4.5 1.3.5-1.2.5.9.5-1.5.5 1.6.5-.9.5.4.5-.9.5.8.5-1 .5 1.3.5-.8.5.7.5-.7.5 1.2.5-1.6.5 1.9.5-1.2.5.8.5-1 .5.6.5-.6.5.6.5-.4.5.7.5-1.5.5 1.1.5-.1.5.7.5-1.6.5.6.5-.5.5 1.2.5-.4.5.9.5-1.6.5 1.4.5-.7.5 1 .5-.9.5-.5.5-.1.5.5.5.1.5.8.5-1.6.5 1.6.5-1 .5.5.5-1.4.5 2 .5-2.3.5 1.6.5-.8.5.9.5-.6.5.5.5-.6.5.1.5 0 .5.9.5-.8.5.1.5-1.3.5 1.2.5-.3.5.7.5-.8.5.8.5-.5.5.7.5-.9.5.6.5-.7.5 1 .5-.7.5-.2.5-.1.5.8.5-.8.5.9.5-1.6.5 1.2.5-.2.5.6.5-1.2.5 2 .5-1.3.5.8.5-2 .5 1.4.5-1.1.5 1.9.5-1.5.5.6.5-.1.5.7.5-1.2.5.3.5.1.5 1 .5-.7.5.2.5-1.5.5 1.3.5 0 .5-.2.5-.5.5 1.6.5-1.2.5.2.5-1.4.5 1.1.5.2.5 1 .5-1.2.5 0 .5-.4.5 1.1.5-1.2.5 1.2.5-.8.5.2.5-.9.5.7.5.3.5 1 .5-1.2.5-.2.5-.1.5.9.5-.5.5.3.5-.5.5 1 .5-1.6.5.9.5-.1.5.4.5-.3.5-.1.5-.4.5.9.5-.3.5.5.5-.8.5.3.5-.4.5.7.5-.5.5.9.5-1.6.5.8.5-.7.5 1 .5-.6.5.6.5-1.2.5 1.2.5-.8.5.5.5-.4.5.6.5 0 .5.2.5-1.6.5 1.8.5-1.4.5 1.2.5-.7.5.4.5-1.1.5 1.3.5-.3.5.9.5-1.2.5.1.5-.4.5 1.2.5-.7.5.3.5-.4.5.3.5-.8.5 1.1.5-.9.5.6.5-.3.5.5.5-.8.5.7.5-.6.5.4.5 0 .5.4.5-1.2.5.7.5-.1.5.5.5-.3.5.2.5-.8.5.5.5-.4.5 1 .5-.6.5.2.5-.6.5.8.5-.3.5.7.5-.9.5 1.3.5-1.4.5.3.5-.3.5.8.5-.8.5.7.5-.3.5-.2.5-.5.5.7.5-1 .5 1.3.5-1.4.5 1 .5-.3.5 1.3.5-1.5.5.2.5.2.5.9.5-1.5.5.8.5-.8.5 1.2.5-.7.5.4.5-1.5.5 1.5.5-.6.5.8.5-.8.5.7.5-.8.5.8.5-.1.5-.2.5-1 .5 1.1.5.1.5 0 .5-.6.5 1.1.5-.8.5.8.5-1.1.5.8.5-.6.5 1.1.5-1.3.5.3.5-.2.5.6.5-.7.5 1.2.5-2.3.5 1.9.5-.6.5.4.5-.4.5.8.5-1.7.5 1.8.5-1.1.5.9.5-.1.5.1.5-1.4.5.9.5-.7.5 1.6.5-.9.5-.2.5-.2.5 1.3.5-.9.5.4.5-.9.5 1.1.5-.9.5.8.5-.8.5.7.5-.6.5 0 .5-.5.5 1.3.5-.2.5.4.5-1.8.5 1 .5-.1.5.6.5-.7.5.9.5-1.9.5 1.4.5 0 .5.2.5-.6.5 0 .5-.1.5 1.2.5-.7.5-.2.5-.6.5.8.5-.1.5.5.5-.7.5 0 .5-1 .5 2 .5-.8.5.4.5-.8.5.5.5-.8.5 1.1.5-1.1.5.6.5-.8.5 1 .5-.1.5.5.5-1.7.5 1.4.5-.7.5 1 .5-.8.5.1.5-.9.5 1.5.5-.5.5.7.5-.8.5.3.5-.4.5.9.5-1.1.5.4.5-.6.5 1.2.5-1.3.5 1 .5-.3.5.2.5-1.4.5 1.3.5-1.1.5 1.7.5-.9.5.5.5-.6.5.5.5-.8.5.7.5-1.1.5 1.3.5-.4.5.6.5-.3.5-.3.5-1.6.5 1.9.5.2.5.1.5-.5.5-.3.5-.7.5 1.2.5-.4.5 1.5.5-1.5.5.1.5.1.5.1.5-.5.5.8.5-.6.5.4.5-1.1.5.7.5 0 .5.8.5-.8.5.1.5-.4.5.9.5-.8.5.9.5-1.1.5.8.5-.4.5 1.6.5-1.5.5.6.5-1.2.5 1 .5-1.1.5.7.5-.2.5 1 .5-.5.5 0 .5-.7.5.4.5 0 .5.5.5-.5.5.3.5-.5.5.6.5-.5.5 1.2.5-1.1.5.9.5-.7.5.3.5-.9.5.3.5.1.5.7.5-.6.5.7.5-1.7.5 1.5.5-.3.5.3.5-1.3.5 1.2.5-.5.5.4.5-1 .5 1.1.5-.3.5.2.5-.9.5.4.5-.7.5 1.7.5-.5.5-.4.5-.7.5.8.5-.1.5.7.5-1 .5.3.5-.6.5 1.2.5-.5.5.5.5-1.4.5.7.5-.2.5 1.1.5-.7.5.6.5-1.8.5 1.4.5-1 .5 1.5.5-.6.5 1.1.5-1.2.5-.1.5-.6.5 1.1.5-.5.5.8.5-1.4.5 1 .5-.9.5.9.5-.5.5.3.5-.2.5.2.5-.5.5.9.5-1 .5 1.1.5-.9.5.5.5-.3.5.9.5-1.2.5 1.1.5-.8.5.3.5-.3.5.3.5-.5.5.1.5-.4.5 1.4.5-.9.5.6.5-.8.5 1.4.5-1.2.5.5.5-.8.5 1.1.5-1.2.5 1.3.5-2.1.5 1.9.5-1 .5.4.5-1 .5 1.3.5-.7.5 1.6.5-1.8.5.8.5-1.5.5 1.8.5-.4.5.9.5-1.8.5.9.5-.4.5 1.5.5-1.1.5.1.5-.8.5.4.5.1.5.6.5-.4.5.3.5-1.3.5 1.5.5-.3.5.5.5-2.5.5 1.3.5.1.5 1.2.5-.9.5 0 .5-.9.5 1.6.5-.9.5 1.4.5-1.3.5 0 .5-.8.5 1.4.5-.6.5.6.5-1 .5.3.5-.2.5.5.5 0 .5.6.5-1.4.5 1.2.5-1.4.5 1.6.5-1 .5 1.1.5-1.6.5 1.4.5-1.5.5 1.5.5-.6.5.4.5-1 .5.6.5-.3.5 1.3.5-.9.5.2.5-.6.5.6.5-.3.5 0 .5-.3.5 1.1.5-.6.5 0 .5-1 .5 1.5.5-.6.5.6.5-.7.5-.4.5-.3.5 1 .5 0 .5 0 .5-1.1.5.6.5.2.5.7.5-.8.5.8.5-.9.5 1 .5-1.5.5.8.5.2.5.2.5-.8.5.6.5-1.7.5 2.3.5-1.4.5.2.5-.6.5 2.5.5-2.4.5.8.5-.9.5 1.1.5-.3.5.9.5-.9.5.1.5-.5.5.9.5-.5.5.6.5-1 .5.4.5.1.5 1.1.5-1.5.5.3.5-.6.5 1.2.5-.4.5.2.5-1.2.5.9.5-.9.5 1.5.5-.7.5.6.5-.8.5.8.5-.8.5.9.5-1.4.5 1.4.5-.6.5-.1.5-.2.5.5.5-.5.5 1 .5-1.9.5 1.5.5 0 .5.1.5-.7.5.2.5-.3.5.7.5-.4.5.4.5-.7.5.7.5-.6.5.3.5-.8.5 1.9.5-2.1.5 1.3.5-1.5.5 1.2.5-.3.5 1.3.5-2.7.5 2.1.5-1.7.5 2 .5-1.4.5 1.2.5-1.6.5 1.2.5-.9.5 1.4.5-1.4.5.9.5-.6.5.5.5-.1.5 2.1.5-2.2.5 0 .5-.2.5 1.6.5-1.1.5.1.5-1.4.5 2 .5-.7.5.7.5-1.6.5 1.1.5-1.7.5 2.2.5-1.5.5 1.1.5-.9.5.7.5-.3.5.4.5-1.2.5 1.8.5-1 .5.3.5-.6.5.5.5-.7.5.8.5-.4.5.8.5-.9.5.3.5-1 .5 1.9.5-1.5.5.7.5-.2.5.6.5-.7.5.5.5-.6.5.8.5-.6.5.3.5-.8.5.6.5-.7.5.7.5.1.5.9.5-1.4.5.2.5-.4.5 1.1.5-.6.5.7.5-.9.5 0 .5 0 .5.8.5-.5.5.2.5-1 .5.5.5.5.5.8.5-1.1.5.3.5-1.4.5 2.2.5-.9.5.5.5-.7.5.7.5-.8.5.6.5-1.2.5 1.3.5-.7.5 0 .5-.7.5 1.4.5-1 .5.7.5-.7.5.8.5-1.4.5 1.9.5-.7.5.7.5-1.7.5 1.2.5-.6.5.8.5-1.7.5 1 .5-.2.5 1.8.5-1.3.5.3.5-1.4.5 1.3.5-.5.5.7.5-.8.5.2.5-.7.5 1 .5.1.5-.1.5-.6.5 1 .5-1 .5.9.5-1.1.5 1 .5-1.3.5.9.5-.7.5.7.5.1.5.3.5-1.5.5.9.5 0 .5.8.5-1 .5.9.5-.9.5.8.5-1 .5 1 .5-1.3.5 1.7.5-.6.5-.1.5-.9.5 1.3.5-.8.5 1.1.5-.9.5.1.5-.1.5.3.5-.7.5.8.5-.8.5.7.5-.3.5.3.5-.4.5.5.5-.6.5.5.5-1.1.5 1.3.5-.4.5.4.5-.9.5.6.5-.1.5.4.5-1.2.5 1 .5-.2.5.8.5-1.5.5.7.5-1.1.5 2.1.5-1.5.5 1.3.5-1 .5.6.5-.6.5.5.5-.5.5.7.5-.8.5.5.5-.1.5.3.5-.6.5.8.5-1.1.5.9.5-.1.5-.1.5-.8.5.3.5 0 .5.8.5-.5.5 0 .5-.9.5 1.6.5-.9.5.8.5-1.5.5 1 .5-.4.5.4.5-.3.5.4.5-.2.5.4.5-1 .5.7.5-.1.5.3.5-.5.5.6.5-1.1.5 1.4.5-1.3.5 1 .5-.7.5.5.5-.4.5.5.5-.6.5.7.5-.8.5 1 .5-1.1.5 1.2.5-1.1.5 1.2.5-1.2.5.5.5-.3.5.6.5-1.4.5 1.2.5-1 .5 2.6.5-2.7.5 1 .5-.8.5 1.7.5-1.2.5.5.5-1 .5 2 .5-2 .5.7.5-.8.5 1.9.5-.9.5.1.5-2.1.5 2.4.5-1.3.5 1 .5-1.1.5 2 .5-2.5.5.9.5.2.5 1.1.5-1.2.5.4.5-.4.5 1 .5-1.1.5.6.5-.8.5 1.2.5-1.2.5.7.5-1 .5 1 .5.1.5.3.5-1.1.5.7.5-.5.5 1.1.5-1.4.5 1.2.5-.9.5 1.8.5-1.5.5.1.5-.8.5 2.1.5-1.5.5.5.5-1.3.5.9.5.1.5.7.5-.9.5.4.5-.7.5.8.5-.5.5.5.5-.6.5.4.5-.7.5 1.2.5-.6.5.6.5-1.1.5.8.5-.4.5.4.5-.5.5.6.5-1.3.5 1.9.5-1.3.5 1.4.5-1.2.5.5.5-1.2.5 1.2.5-.3.5 1.2.5-2.1.5 1 .5.1.5.4.5-1.5.5.8.5-.4.5 1.4.5-1 .5.7.5-1.3.5.1.5-.1.5 1.2.5-.9.5.6.5-1 .5.4.5.1.5.9.5-.6.5.3.5-.9.5.5.5-.4.5 1 .5-1.1.5.4.5-.6.5.8.5-.2.5.5.5-1.1.5.9.5-.6.5.9.5-.9.5 1.6.5-1.2.5-.1.5-.1.5.3.5-.5.5.8.5-.6.5.6.5-.3.5.2.5-.6.5.3.5-.2.5.6.5-.5.5 1 .5-.7.5 0 .5-1 .5.8.5-.2.5.8.5-.7.5-.1.5-.4.5 1.2.5-1.1.5 1.6.5-2 .5.8.5-.8.5 1.2.5-.3.5 1.5.5-2.4.5.7.5.2.5.3.5-.8.5.5.5-.3.5.9.5-.5.5 0 .5-.6.5.4.5.5.5.2.5-.8.5.1.5-1.2.5 2 .5-.3.5 0 .5-1.3.5 1 .5-.1.5.6.5-.9.5.4.5-.7.5.6.5-.1.5 1.2.5-2 .5 1.2.5-.8.5.5.5-.2.5 1 .5-.6.5 0 .5-1.8.5 1.8.5-.8.5 1.1.5-.5.5.1.5-.1.5-.2.5-.2.5 1 .5-.9.5 1 .5-1.7.5 1 .5-.5.5 1.3.5-1.5.5.6.5-.1.5.7.5-.9.5.7.5-.6.5.3.5.1.5.1.5-1 .5.7.5-.8.5 1.3.5-.5.5.3.5-.8.5.7.5-.5.5.7.5-.4.5.3.5-.4.5.6.5-.5.5 1 .5-1.2.5.4.5-1.2.5 1.1.5-.3.5 1.5.5-1.6.5 1.2.5-1.7.5 1.3.5-.7.5.6.5-1.3.5 1.1.5-.3.5.3.5-.6.5 1.9.5-1.6.5.1.5-.7.5 1 .5-.1.5 0 .5-.4.5.5.5-1.2.5 1.3.5-2.1.5 1.7.5-.1.5.8.5-.7.5 0 .5-.8.5 1.7.5-1.2.5.7.5-.9.5.9.5-.2.5.2.5-.7.5.3.5-.3.5.5.5.1.5.1.5-1 .5.5.5-.5.5 1.4.5-1 .5 1.1.5-1 .5 0 .5-1.1.5 2.4.5-1.5.5 1 .5-1.1.5.8.5-.5.5 1.4.5-1.5.5.4.5-.7.5 1 .5-.4.5.4.5-1.7.5.9.5.5.5.6.5-.7.5.3.5-.8.5 1.1.5-.6.5.9.5-1.8.5.9.5-.8.5 1.1.5-.2.5.3.5-.8.5.3.5-.4.5.6.5-.4.5.8.5-1.2.5.7.5-1.2.5 1.8.5-.7.5.9.5-.8.5.4.5-2 .5 2.2.5-.9.5.8" stroke="#f00"/>
<path d="M111.5,252.69l.5-1.4.5 2.2.5-3.1.5 1.6.5-1 .5 1.4.5-1.6.5 1 .5-1.2.5 1.3.5-.4.5.7.5-1.5.5 1.4.5-1.1.5 1.4.5-1.4.5 1.5.5-1.7.5.9.5 0 .5.4.5-2.1.5 1.7.5-1 .5 1.5.5-.9.5.6.5-.8.5.8.5-1.4.5 1.8.5-2.1.5 1.2.5-.4.5 1.6.5-1.1.5-.2.5-.9.5 1.3.5-.3.5.2.5-.7.5.3.5-.4.5 1 .5-.4.5.2.5-1 .5 1.1.5-.7.5 1.2.5-.9.5.7.5-1 .5.7.5-1.6.5 1.3.5-.4.5 1.9.5-2.6.5 1.2.5-1.1.5 1.9.5-1.3.5.8.5-.8.5.4.5-.7.5 1.6.5-1.2.5.7.5-1.4.5 1.6.5-1.2.5 1.2.5-.7.5.5.5-.8.5.4.5-.1.5.5.5-.5.5.5.5-.4.5.2.5-.5.5.1.5.3.5 1.1.5-1.3.5-.1.5-.3.5 1.2.5-.9.5 1 .5-2 .5 1.7.5-1.2.5 1 .5-.4.5.5.5-.6.5.6.5-.7.5 1.5.5-1.2.5.6.5-.7.5.5.5-1.8.5 2.1.5-1 .5 1 .5-1.5.5 1.7.5-1 .5 1.2.5-.9.5 0 .5-1.1.5 1.3.5 0 .5.5.5-1.5.5.5.5-.2.5.8.5-.3.5.7.5-1.4.5.9.5-1.4.5 2.1.5-1.1.5.2.5-.5.5 1.1.5-1.4.5 1 .5-.9.5.2.5 0 .5.8.5-.1.5-.4.5-1.2.5 1.4.5-.6.5 1.1.5-1.1.5-.1.5-.1.5 1.4.5-1.1.5.6.5-1.3.5 1 .5-.2.5.8.5-.7.5.7.5-.5.5.4.5-1.4.5 1.1.5 0 .5 1.3.5-1.8.5.3.5-.6.5 1.3.5-.9.5.6.5-1.2.5.8.5-.3.5.6.5-1 .5 1.4.5-1.7.5 2.2.5-1.4.5.5.5-.4.5.6.5-.7.5.2.5-.9.5 2 .5-1 .5.1.5-1 .5.7.5-.2.5 1.3.5-1.4.5.4.5-.7.5 2.1.5-1.1.5-.4.5-.6.5.7.5.1.5.7.5-1.4.5.3.5-.2.5 1 .5-.2.5 1.3.5-2.3.5 1 .5-.9.5 1.1.5-1.3.5.9.5-.1.5.4.5-.7.5.2.5-1.1.5 1.3.5-.2.5 1 .5-1.2.5 0 .5-.3.5 1.6.5-1.7.5 1 .5-.6.5.9.5-.8.5.1.5-.2.5.6.5-.4.5 1 .5-.9.5.4.5-1.2.5 1.1.5-.4.5.4.5-.9.5.5.5-.6.5 1 .5-.2.5.4.5-.8.5.1.5-.2.5 1.1.5-1.3.5.6.5-.6.5.7.5-.2.5.7.5-1.5.5 1.1.5-1.1.5.9.5-.1.5.6.5-.6.5.5.5-1 .5 1.1.5-.2.5.5.5-1.1.5.1.5-.4.5 1.2.5-.7.5.4.5-1.3.5.5.5.4.5 1.6.5-1.4.5.2.5-1.2.5.8.5.4.5.4.5-1.3.5.6.5-.9.5 1.2.5-.4.5 1.1.5-1.3.5.4.5-.3.5.9.5-1.9.5 1.6.5-1 .5 2 .5-1.5.5 0 .5-.5.5.8.5-.3.5.2.5-.6.5 1.4.5-1 .5 1.5.5-1.6.5.6.5-2 .5 2.3.5-1.7.5 1.2.5-.7.5 1.1.5-1.7.5 1.9.5-1 .5.8.5-1 .5.5.5-.1.5.5.5-.5.5-.3.5-.7.5 1.4.5.1.5.1.5-1.6.5.9.5-.3.5 1.4.5-.8.5.5.5-1.7.5 1.3.5-.4.5.1.5-.2.5.8.5-.6.5.1.5-.8.5.7.5-.3.5.7.5-.4.5.6.5-1 .5.2.5-.2.5 1.3.5-.5.5-.2.5-.6.5.8.5-1.6.5 2.3.5-1.7.5 1.3.5-2.1.5 2.1.5-.8.5.3.5-.2.5 1 .5-1.4.5.4.5-.6.5 1.2.5-1.5.5.6.5-.2.5 1.7.5-1 .5-.2.5-.5.5 1 .5-.7.5.6.5-2 .5 2.3.5-1 .5 1.5.5-1.8.5.7.5-.7.5 1.1.5-.6.5-.1.5-.3.5.8.5-.8.5.6.5-1.2.5 1.2.5-.1.5.5.5-.9.5 0 .5-.1.5 1.1.5-.5.5 0 .5-.6.5 1.4.5-.8.5.4.5-1.5.5.7.5-.5.5 1.8.5-1.3.5.1.5-1.3.5 1.7.5-.6.5 1.4.5-.9.5 0 .5-1.2.5 1.2.5-.1.5 1.2.5-1.9.5 1.5.5-2.6.5 2.4.5-.6.5 1.7.5-2.2.5.4.5-1.1.5 1.9.5-.4.5 0 .5-1.7.5 1.2.5.4.5.7.5-1 .5.2.5-.5.5 1.3.5-1.4.5.7.5-1.1.5 1.4.5-1.1.5.9.5-.6.5 1.5.5-1.3.5.1.5-1.2.5 1.4.5-.3.5.8.5-1.7.5 1.9.5-1.3.5.8.5-.5.5 1 .5-1.9.5 1.5.5-.9.5 2.3.5-2 .5 1 .5-1 .5.3.5-.8.5 1.1.5-1.6.5 1.6.5-1.5.5 1 .5-.2.5 2.1.5-2.8.5 1.3.5-1.4.5 2.1.5-2.1.5 1.2.5-.7.5.8.5-.7.5.8.5-.8.5.5.5-.7.5 1 .5-1 .5 1 .5-1.1.5.9.5-1 .5.9.5-.2.5 1.2.5-1.3.5 1.1.5-1.1.5.3.5-.7.5 1.1.5-.9.5.4.5-.6.5 1.1.5-.7.5.7.5-1.3.5.6.5-.5.5 1.5.5-.9.5.5.5-1.6.5.9.5.2.5 1.1.5-.9.5.3.5-1 .5 1.1.5-.8.5.4.5-.5.5.8.5-.6.5 1.2.5-1.6.5.8.5-.8.5 1.4.5-.6.5.2.5-.8.5.7.5-.8.5 1.5.5-1.5.5.2.5.2.5.6.5-.3.5-.3.5-.4.5.6.5.2.5.2.5-1.4.5.9.5-.8.5 2.2.5-2 .5.9.5-.8.5 1 .5-1.1.5.7.5-.9.5.9.5-.2.5.8.5-.7.5 0 .5-.7.5.7.5.2.5.7.5-1.1.5.2.5-1.1.5 2.3.5-1.7.5.8.5-1.1.5 1.7.5-1.5.5 1.2.5-1.3.5 1.1.5-.6.5.8.5-1.1.5.8.5-.7.5 1.7.5-1.2.5-.1.5-.7.5.8.5-.3.5.6.5-.9.5 1.3.5-1.2.5 1.1.5-1.5.5.8.5-.6.5.9.5-.3.5.4.5-.8.5.4.5-1 .5 1.5.5-1.2.5 1.6.5-1.1.5.1.5-.3.5.9.5-1.6.5 1.1.5-.9.5 1.6.5-1.8.5 1.7.5-1.1.5 1.6.5-1.5.5.5.5-1.2.5 1.9.5-.6.5.3.5-.9.5.2.5-.6.5 1.6.5-.5.5.2.5-1.7.5 1.1.5-.1.5 1.1.5-1.1.5 0 .5-.3.5 1.5.5-.9.5.4.5-.8.5.5.5-.2.5.3.5-.7.5.6.5-.2.5.4.5-1.2.5 1.2.5-.8.5.5.5-.4.5 2 .5-2 .5.6.5-.1.5.2.5-.5.5 0 .5-1.2.5 1.7.5-.8.5.8.5-.8.5.9.5-1.2.5 1.2.5-.6.5.6.5-1.5.5.9.5.4.5.4.5-2.1.5 1 .5-.3.5 1.1.5-.1.5-.1.5-.7.5 1 .5-1 .5 1 .5-1.3.5 1.1.5-1 .5.9.5-1.3.5 1 .5.1.5.4.5-.9.5.4.5-.6.5.9.5-.6.5 1.7.5-2.3.5 1.2.5-1.1.5 1 .5-.2.5.4.5-.8.5 1.2.5-1.5.5.7.5-.2.5.8.5-1.4.5.9.5-.6.5 1.2.5-.4.5.8.5-1.2.5.1.5-.8.5 2 .5-.8.5.3.5-2.3.5 1.8.5-.3.5 1.4.5-1.1.5.2.5-.8.5 1.8.5-1.6.5 1.1.5-2.5.5 2.5.5-1.1.5.6.5-1.1.5.9.5-2.1.5 3.1.5-1.9.5.8.5-.5.5 1.4.5-1.1.5.9.5-1.1.5.5.5-1.1.5 1.5.5-.6.5 1.4.5-1.8.5.7.5-.8.5 1.3.5-.8.5-.1.5.1.5 1.1.5-.8.5.5.5-1.1.5.3.5-.1.5 1 .5-1.6.5.7.5-.7.5.8.5.1.5 1.2.5-1.6.5.2.5-.7.5 1.2.5-.9.5 1.3.5-2.2.5 1.5.5-1.2.5 1.7.5-.9.5.1.5-.8.5 1.1.5-.1.5.5.5-.7.5.1.5-.1.5.4.5-.6.5.7.5-.3.5.5.5-1.6.5 1.2.5-.6.5.9.5-.6.5.5.5-.5.5.2.5-.7.5 1.6.5-1.7.5 1.1.5-.6.5 1 .5-.9.5.5.5-1.2.5.9.5-1 .5 1.4.5-1.3.5 1.3.5-.6.5.4.5-.4.5.6.5-1.5.5 1.3.5-.8.5 1.1.5-.4.5-.1.5-.5.5 1.2.5-1.2.5 1.1.5-.5.5.7.5-1.1.5.4.5-.5.5 1.1.5-.6.5.9.5-1.2.5 1.1.5-2.2.5 1 .5.1.5 1 .5-.7.5-.1.5-1.2.5 1.3.5-.5.5 1.3.5-1.2.5-.2.5.3.5 1.1.5-.7.5-.6.5-.7.5 1.6.5-1.6.5 1.4.5-1 .5 1.5.5-1.2.5 1.3.5-1.2.5.2.5-.3.5.9.5-.9.5 1.8.5-1.6.5 1 .5-1 .5.4.5-.4.5.3.5-.4.5.4.5-.3.5.1.5-.8.5 2.2.5-2 .5 1 .5-.8.5.5.5-.2.5.5.5-.6.5 1.5.5-1.5.5.8.5-.5.5.3.5-.7.5.5.5-1.1.5 1.3.5-.6.5.8.5-.7.5.4.5-.5.5.6.5-.6.5.5.5-.7.5 1 .5-.5.5.2.5-.6.5.8.5-.9.5.9.5-.6.5.2.5-.6.5 2 .5-2 .5 1.1.5-1.1.5.6.5-.7.5.9.5 0 .5.3.5-.5.5.6.5-1 .5.6.5.1.5.3.5-1.7.5 1.3.5-.5.5 1.3.5-1 .5 0 .5-1.3.5 2.3.5-.9.5.2.5-.7.5.5.5-.5.5.7.5-1.8.5 1.7.5-.6.5 1.6.5-1 .5-.3.5-.7.5.9.5-1 .5 1.6.5-1.8.5 1.6.5-.6.5.7.5-.8.5 1 .5-1.3.5 1.8.5-1.8.5.4.5-.1.5.9.5-1 .5.9.5-.5.5.8.5-1.7.5.9.5-.9.5 1.2.5-.4.5.4.5-1.5.5 1.4.5-.2.5.7.5-.9.5.5.5-1.2.5 1.2.5-.2.5 1 .5-2.4.5.9.5-.1.5.8.5-.9.5.7.5-.3.5.3.5-.4.5.5.5-.9.5.9.5-.8.5.8.5-.9.5 1 .5-.4.5.3.5-.4.5.9.5-1.5.5 1.3.5-.9.5.6.5-.4.5.2.5-.8.5 1.5.5-1.8.5.9.5-.5.5 1 .5-.5.5.5.5-2 .5 1.4.5.3.5.3.5-.7.5.3.5-.6.5.9.5-1.1.5 1 .5-.3.5 1.1.5-1.2.5.8.5-.4.5.8.5-2.2.5 1.2.5-.2.5 1.7.5-1.2.5.1.5-.8.5.5.5-.8.5.9.5 0 .5.7.5-1.4.5.7.5-.8.5 1.3.5-.3.5-.6.5-.7.5 1.2.5-.4.5.4.5-.6.5 1 .5-.9.5 1.4.5-1.9.5.7.5-.5.5 1.6.5-1.5.5 1 .5-1.5.5.9.5-.1.5.9.5-1.1.5 1.2.5-1.7.5 1.1.5-.3.5-.3.5-1.1.5 1.7.5-.6.5.5.5-.8.5.2.5.4.5 1.1.5-1.4.5.1.5-.3.5.9.5-.2.5.3.5-.8.5.1.5-.5.5 1.3.5-.8.5.1.5-.4.5.9.5-1 .5.9.5-.9.5.3.5.4.5 1.4.5-2.2.5 1 .5-1 .5 1.2.5-.5.5.5.5-.9.5.9.5-1.1.5 1.1.5-.8.5 1.1.5-1.5.5 1.2.5-1.5.5 1.6.5-.7.5.4.5-.8.5.6.5-.1.5.3.5-.1.5-.1.5-.4.5.3.5-1.1.5 1.6.5-1.3.5 1.2.5-.9.5 1.1.5-2.2.5 2.7.5-2.1.5 2.1.5-1.1.5.4.5-.7.5.9.5-1.1.5.8.5-.3.5 1.3.5-1.7.5.6.5-.8.5 1.7.5-1 .5.5.5-.6.5-.1.5-.4.5.5.5.1.5.5.5-.8.5.2.5-.7.5 1.2.5-1.1.5 1.1.5-1.7.5 1.6.5-.7.5.5.5-1.1.5 1 .5-.8.5 1.4.5-1.1.5.8.5-.8.5.8.5-.7.5 1.2.5-1.5.5.7.5-.6.5.9.5-.4.5.3.5-.5.5-.1.5 0 .5 1.1.5-1.9.5 1.3.5-1.2.5 1.4.5-.2.5.2.5-1 .5 1 .5-.4.5 1.2.5-2.3.5.9.5-.4.5 1.9.5-1.5.5.3.5-1 .5 1.3.5-.9.5.7.5-1.1.5.9.5.1.5.9.5-1.3.5.7.5-1.7.5 1.6.5-.7.5.8.5-.8.5.7.5-1.1.5 1.3.5-.8.5.6.5-.6.5.6.5-.5.5.3.5-.8.5 1.2.5-1 .5 1 .5-.8.5.7.5-.1.5.5.5-1.2.5.6.5-1.3.5 2.2.5-1.6.5.6.5-.7.5.9.5-.7.5.4.5-.2.5 1.2.5-.9.5.4.5-.7.5.2.5-.7.5 1 .5-1.1.5 1.4.5-.7.5.4.5-.5.5.1.5-1.5.5 2 .5-.3.5.1.5-1.6.5 2 .5-1 .5 1.2.5-.8.5.8.5-1.2.5.9.5-.8.5.6.5-1 .5 1.4.5-1.6.5 1.1.5-.3.5 1 .5-1.8.5 1.6.5-1 .5 1.5.5-1.3.5.2.5-.6.5 1 .5 0 .5 0 .5-1.4.5.4.5-.1.5 1.7.5-1.3.5.6.5-.9.5 1.3.5-.6.5.4.5-1 .5.9.5-1.1.5 2.2.5-1.5.5-.3.5-.9.5 2 .5-1.5.5 1.5.5-2.2.5 1.7.5-.3.5 1.5.5-1.7.5.7.5-1 .5 1.2.5-.9.5.5.5-1.4.5 1.2.5 0 .5.6.5-1.9.5 1.3.5-1 .5 1.7.5-.6.5-.1.5-.7.5.2.5-1.1.5 1.9.5-.2.5.9.5-1.7.5.2.5-.3.5.8.5 0 .5.8.5-1.8.5.6.5-.8.5 2.2.5-1.1.5 0 .5-.8.5 1 .5-.7.5 1.4.5-1 .5-.3.5-.7.5 1.5.5-.2.5-.3.5-.8.5 1.7.5-1.2.5 1.4.5-2.2.5 1.1.5-.1.5 1.3.5-1.1.5 0 .5-.6.5 1.4.5-.5.5.5.5-2.7.5 1.8.5-.5.5 1.3.5-.9.5.4.5-1.6.5 2.4.5-1.3.5.9.5-1.1.5.2.5.2.5.6.5-1.7.5 1.1" stroke="#00f"/>
<path d="M111.5,264.36l.5-.6.5-.1.5-.5.5 1.3.5-.7.5.9.5-1.3.5.1.5-.4.5 1.7.5-1.7.5.7.5-1.2.5 1.3.5.1.5 0 .5-1.8.5 1.7.5-.5.5.9.5-1.1.5 1 .5-1.6.5 1.6.5-1 .5.8.5-.3.5.4.5-1.3.5.9.5-1.7.5 2.4.5-1.9.5 3.3.5-2.2.5.4.5-1.2.5.8.5-.4.5.6.5-.1.5.1.5-.7.5.4.5-.2.5.8.5-.6.5.5.5-.5.5.3.5-.3.5.1.5-.2.5.5.5-1 .5 1.5.5-2 .5 1.5.5-.7.5.7.5-1.2.5 1.5.5-1.2.5 1.9.5-2.1.5 1 .5-.8.5 1.9.5-1.3.5.8.5-1.3.5.7.5-.8.5.7.5-.2.5.2.5-.8.5.9.5-.4.5 1.1.5-1.3.5.9.5-.7.5.2.5-.2.5.5.5-.2.5-.1.5-.7.5.8.5 0 .5 1 .5-1.3.5.1.5-.3.5 1.3.5-.9.5.8.5-1.6.5 1.4.5-.5.5.4.5-1 .5.3.5-.1.5.8.5-.1.5-.1.5-1.1.5.4.5.2.5 1.1.5-.8.5.2.5-.8.5.8.5-1 .5 1.4.5-2.2.5 2 .5-1.5.5 1.7.5-.6.5 0 .5-1.6.5 1.5.5 0 .5.8.5-1.8.5.8.5-.5.5 1.7.5-1.7.5 2.1.5-1.7.5.5.5-.5.5.8.5-1 .5.6.5-2 .5 2.6.5-.6.5.7.5-1.8.5 1.6.5-.9.5 1.2.5-1 .5.3.5-1.8.5 2.2.5-1 .5.4.5-.3.5 2 .5-2.2.5.6.5-.9.5 1.3.5-.5.5.7.5-1 .5.2.5-.5.5 1.1.5-.2.5.1.5-1.1.5.8.5-.8.5 1.7.5-1.3.5 1.3.5-1.3.5.4.5-.5.5.7.5-.5.5.8.5-1.3.5 1.3.5-1.2.5 1.4.5-2 .5 1.9.5-1.4.5 1.1.5-.5.5.8.5-.9.5.6.5-1.6.5 1.5.5-.9.5.6.5-.7.5 1.2.5-.5.5.3.5-1.1.5.6.5-.3.5 1.2.5-.7.5 0 .5-.9.5.9.5 0 .5.7.5-1.1.5.8.5-.8.5.4.5-1 .5 1.1.5-1.2.5 1.9.5-1.1.5.7.5-.6.5 1 .5-1.3.5.8.5-.8.5.6.5-.4.5.7.5-1.4.5 1.3.5-.4.5.1.5-.9.5.8.5-.4.5.9.5-.9.5.4.5-.4.5 1.2.5-.8.5 1.2.5-1.4.5 1.1.5-1.9.5 2.5.5-1.3.5.2.5-1.1.5 2.1.5-1.6.5 1 .5-1.8.5 2.6.5-2.3.5 1.7.5-1.5.5 1.2.5-1 .5.4.5-1.3.5 2.3.5-2.2.5 1.4.5-.6.5.4.5-1.1.5 2.1.5-1.9.5 1.3.5-1.5.5 2.5.5-1.9.5 1.1.5-1.8.5 1.8.5-1.5.5 1.7.5-1.5.5 1.1.5-.6.5 1 .5-1.2.5.4.5-.9.5 1 .5-.3.5.7.5-.8.5.3.5-.2.5.7.5-.7.5.1.5.1.5 1 .5-1.2.5.3.5-.5.5.7.5-.2.5.6.5-1.8.5 1.2.5-.2.5.5.5-2.6.5 3.8.5-1.8.5.7.5-.8.5.4.5-.6.5.9.5-1.9.5 2.3.5-2 .5 1.9.5-.8.5.9.5-1.6.5 1 .5 0 .5.9.5-1.8.5.5.5-.3.5 1.3.5-.7.5.3.5-.9.5.7.5-1.3.5.9.5-.2.5 1 .5-1.3.5 1 .5-.7.5.4.5.1.5.3.5-1.9.5 1.9.5-.7.5 1.1.5-.8.5.5.5-.8.5.4.5-1 .5 1.3.5-.7.5.7.5-1.4.5 1.2.5-1.1.5 1.3.5-.4.5.4.5-1.1.5.4.5.6.5.3.5-.6.5.4.5-1.1.5.9.5-.2.5.8.5-1.1.5 1.2.5-2 .5 1.4.5-.5.5.8.5-.4.5.3.5-1.1.5.9.5-1.1.5 1.8.5-1.1.5.7.5-.9.5.7.5-1.8.5 2.2.5-.8.5.1.5-1 .5 1.1.5-.7.5.6.5-.7.5.9.5-.6.5.2.5-.5.5 1.3.5-.7.5.3.5-.3.5 1.5.5-2.4.5.7.5-.5.5 1.1.5-.7.5.4.5-.8.5.9.5-.9.5 2.1.5-2.1.5.7.5-.9.5 1.5.5-.9.5 1.1.5-1 .5.6.5-.9.5.8.5-.8.5.3.5-.3.5 1.1.5-.8.5 1 .5-1.4.5 1.2.5-1.1.5.7.5-.4.5.3.5-.4.5.7.5-1 .5.6.5-.3.5.6.5-.4.5.2.5-.8.5.4.5.5.5.4.5-1 .5.6.5-.8.5 1.4.5-1 .5.6.5-1.3.5 1.3.5-1.3.5 1.6.5-1.1.5 1.1.5-1.9.5 1.9.5-.6.5.2.5-.7.5 1.4.5-.9.5.1.5-1.1.5.8.5.2.5.4.5-1.5.5 1.7.5-1.5.5 1.7.5-1.1.5 1 .5-1.8.5 1.1.5-.3.5 1 .5-1.7.5 1.1.5-.9.5 1.5.5-1.6.5 1.5.5-.6.5.1.5-1 .5.5.5.2.5.6.5-.3.5.6.5-1.3.5.5.5 0 .5.4.5-.4.5.4.5-.5.5.3.5-.6.5.8.5-.3.5 1.1.5-1.8.5.6.5-.7.5 1.9.5-1.5.5.3.5-.8.5 1.4.5-.5.5.3.5-.7.5 1 .5-.7.5-.1.5-1.1.5 1.5.5.1.5-.1.5-.9.5.5.5-.5.5 2 .5-1.9.5.5.5-.4.5.5.5-.3.5 1.1.5-1.2.5 1.1.5-1.1.5 2.2.5-2.2.5.4.5-.7.5.9.5-.7.5 1.1.5-1.6.5 2.1.5-1.5.5.8.5-1.4.5 1.3.5-.4.5.4.5-1.1.5 1 .5-.4.5 1 .5-1.1.5.5.5-.7.5 1.5.5-1 .5.3.5-1.9.5 2.2.5-1 .5 1.2.5-1.9.5.8.5-.5.5 1.2.5-.9.5.4.5-.9.5 1.4.5-.9.5.4.5-.9.5 2.3.5-1.6.5.4.5-1 .5.8.5-.2.5 1.2.5-1.3.5.5.5-1.4.5 2.4.5-1.8.5 1.1.5-1.4.5 2.7.5-2.5.5 1.4.5-1.8.5 2.4.5-1.9.5.9.5-1.3.5 1.6.5-.8.5 1.6.5-2.7.5.9.5.1.5 1.2.5-1.5.5.5.5-1.1.5 2.6.5-1.9.5.9.5-.9.5.4.5-.8.5 1.5.5-.5.5-.1.5-.5.5.9.5-.4.5 0 .5-.1.5.4.5-1.2.5 1.9.5-1.5.5.3.5-.6.5 1.2.5-.2.5.2.5-.9.5.6.5-.3.5.8.5-.7.5.8.5-1.5.5 1 .5-.6.5 2 .5-1.9.5.1.5-1.5.5 2 .5-1 .5 2.2.5-2.5.5 2 .5-1.3.5.7.5-.7.5.6.5-1.1.5 1.1.5-.8.5.7.5-.4.5.2.5-.2.5.8.5-.7.5 1.2.5-1.9.5 1.9.5-1.2.5.2.5-.7.5 1.7.5-1.7.5 1.4.5-.9.5.9.5-1 .5.9.5-.9.5.9.5-2.4.5 2 .5-.4.5.4.5-.2.5.7.5-1.3.5 1.3.5-1.3.5 1.6.5-2.4.5 2.2.5-.8.5.8.5-1.9.5 1.1.5.1.5.3.5-1.2.5.9.5-.8.5 1.4.5-.7.5.1.5-1.2.5 1.9.5-1.2.5.9.5-1.2.5.6.5-.3.5.7.5-.8.5.9.5-.4.5.2.5-.6.5.2.5-.6.5 1.3.5-1.9.5 1.7.5-.8.5 1.3.5-.6.5.1.5-.8.5 1 .5-.7.5.4.5-1.1.5.6.5.3.5.7.5-1 .5 0 .5-.8.5 1.4.5-.2.5.2.5-.9.5.8.5-.4.5.9.5-1.5.5 1.2.5-.7.5.5.5-.7.5 1.4.5-1.7.5 1.1.5-.9.5.8.5-.7.5.2.5-.5.5 1 .5-1 .5 1.7.5-1.5.5.8.5-1.1.5.7.5-.1.5.7.5-1.2.5.9.5-.6.5.4.5-.3.5.8.5-.7.5.1.5-.9.5 1 .5.2.5.4.5-.6.5-.2.5-.8.5 1 .5-.1.5 1.1.5-1.4.5 1 .5-.8.5 1.1.5-1.4.5.2.5-.6.5 1.7.5-.9.5.3.5-.6.5.5.5-.2.5 1 .5-1.1.5.6.5-.8.5.8.5-1.5.5 1.2.5-.4.5 1.2.5-1 .5 0 .5-2.7.5 3.5.5-1 .5 2.1.5-3.9.5 3.8.5-2.2.5.7.5-1 .5 1.3.5-2.6.5 2.7.5-1.7.5 2.2.5-1.6.5 1.2.5-2.1.5 2.1.5-.2.5 1.1.5-3.1.5 1.4.5-.4.5 1 .5-.8.5.6.5-1.1.5 1.8.5-1.7.5 1.2.5-1.2.5 1.9.5-2.1.5 2 .5-1.7.5.9.5-.8.5 1 .5-.9.5 1.8.5-2.8.5 2.1.5-1.7.5 1.7.5-1 .5.7.5-.6.5.4.5-1 .5 1.2.5-.7.5.6.5-.2.5.3.5-.7.5.4.5-.5.5 1 .5-1.9.5 1.7.5-.9.5.9.5-.4.5.5.5-1.2.5.9.5-.7.5.3.5 0 .5 1 .5-1 .5.7.5-2.5.5 2.3.5-.4.5.6.5-1 .5.5.5-1.1.5 1.8.5-1.1.5.8.5-.5.5.6.5-.9.5.8.5-.6.5.4.5-.5.5.8.5-1.2.5.9.5-.6.5.7.5-1.2.5 1.3.5-.8.5 1 .5-.8.5 1.5.5-1.2.5 1.1.5-2 .5 2 .5-2.6.5 2.6.5-1.5.5.7.5-.7.5 1.4.5-1 .5.1.5-.9.5 2.1.5-1.6.5 1.3.5-1.7.5 1.6.5-1.5.5 1.2.5-.5.5.3.5-.9.5.9.5-.9.5.9.5-1.3.5 1.3.5-.9.5 1 .5-1.2.5 1.1.5-1.3.5.5.5-.6.5 1.3.5-.2.5.1.5-1.8.5 1.4.5-.1.5.5.5-.5.5 1.5.5-1.5.5.4.5-.8.5.7.5-.6.5 1.5.5-1.3.5.7.5-.6.5.2.5-.5.5.9.5-.4.5 1.7.5-2 .5.5.5-.6.5 1 .5-1.7.5 1.3.5-.7.5.9.5-1.5.5 1.6.5-.7.5 2.1.5-2.7.5.4.5.2.5 1.9.5-2.3.5.5.5-.9.5 1.2.5-.4.5.7.5-.8.5.1.5-.5.5 1 .5 0 .5.6.5-1.8.5 1 .5-1.2.5 1.7.5-.5.5.6.5-1.5.5 1.2.5-1.2.5 1.3.5-1.1.5 1.4.5-1.7.5.9.5-.9.5 1.3.5-.2.5 1.6.5-1.9.5.1.5-.7.5.8.5-.6.5.6.5-1 .5 1.1.5-1.5.5 1.4.5-.2.5.6.5-.9.5 1.2.5-1.6.5.9.5-.9.5 1.8.5-1 .5.3.5-1.9.5 2.3.5-.9.5.6.5-.6.5.2.5-1.1.5 1.7.5-1.2.5.7.5-.9.5 1.3.5-.2.5 0 .5-1 .5.8.5-.2.5 1.2.5-1.1.5-.2.5-.7.5 1.7.5-.4.5.7.5-2.5.5 1 .5-.5.5 2 .5-.9.5.8.5-1.7.5 1 .5-.6.5.4.5-.2.5.4.5-.6.5.4.5-.8.5 1 .5-1.1.5 2 .5-1.4.5.6.5-.7.5 1.3.5-1.2.5.8.5-.9.5.8.5-.9.5.9.5-.5.5.1.5-1 .5 1.2.5-.3.5 0 .5-.5.5.7.5-.4.5.2.5-1.1.5 1.3.5-.7.5 1.4.5-1.6.5.6.5-.3.5 1.3.5-.9.5.8.5-1.1.5.7.5-1.1.5.9.5-.6.5 1.5.5-1.9.5.8.5-.3.5.7.5-.7.5.2.5-.2.5.8.5-.4.5.2.5-.6.5.6.5-.6.5 1.6.5-1.8.5.8.5-.5.5.8.5-1.7.5 1.7.5-1.1.5.7.5-.4.5.5.5-.8.5 1 .5-1.3.5.7.5-.2.5.9.5-1.3.5.7.5-.3.5 2 .5-2.3.5.7.5-1.9.5 2.6.5-1.1.5 1.6.5-2 .5 1.3.5-1.3.5 1.3.5-1.2.5.9.5-.5.5.5.5-.5.5.5.5-.4.5.1.5-.3.5 1 .5-1.5.5 1.1.5-.5.5.6.5-.1.5.8.5-1.8.5.5.5-1.1.5 2.1.5-1.2.5.3.5-1.7.5 2.1.5-.6.5 2.1.5-2.2.5.4.5-.1.5.8.5-.7.5.5.5-1.4.5 1.4.5-.6.5.2.5-.7.5.8.5-.9.5 1.6.5-2.1.5 1 .5 0 .5.7.5-.6.5.4.5-.6.5.3.5 0 .5.8.5-1.2.5.5.5-.2.5.5.5-.7.5.4.5-.7.5 1.1.5-.8.5.6.5-.5.5 0 .5-.4.5 1.3.5-.7.5 1.2.5-2.9.5 1.6.5-.4.5 1.1.5-.4.5-.2.5-1.1.5 1.4.5 0 .5 1.1.5-1.7.5.4.5-2.3.5 2.8.5-1 .5.8.5-1 .5.7.5-.2.5.7.5-1 .5.8.5-1.3.5 2.1.5-1.7.5 1.6.5-1.7.5.7.5-.7.5 1.2.5-1.4.5 1.9.5-1.7.5 1.1.5-1.9.5 1.9.5-.7.5.8.5-1.3.5 2.4.5-2.6.5 3.1.5-3.1.5.9.5-1.1.5 2.6.5-2.5.5 2.3.5-2.3.5.8.5-1.5.5 3.2.5-1.7.5.9.5-1.5.5 1.2.5-.9.5 1.6.5-3.3.5 3.3.5-.8.5 1 .5-2.1.5 1 .5-.8.5 2.1.5-1.7.5 1.1.5-2.1.5 1.7.5-1.1.5.4.5-.1.5 1.6.5-1.2.5.3.5-1.4.5 1.2.5-.5.5 1.4.5-1.9.5 1.3.5-1.2.5 1.1.5-.3.5-.1.5-.7.5 2 .5-1.3.5.3.5-2 .5 1.4.5-.4.5 2.1.5-1.3.5 0 .5-.7.5.9.5-.3.5.4.5-.5.5.2.5-.8.5 1.6.5-2 .5 1.5.5-1.2.5.8.5-.8.5 1.9.5-1.9.5 1.2.5-.7.5.6.5-.7.5.3.5-.2.5 1 .5-.9.5 1 .5-1.4.5 1.4.5-1.2.5 1.2.5-.9.5.6.5-1 .5.3.5 0 .5.6.5-.8.5 1.1.5-1.9.5 2.3.5-1.1.5 1.3.5-2.6.5 1.4.5-.3.5.6.5-.4.5.3.5-.9.5 1.9.5-1.6.5 1.1.5-.7.5.5.5-1 .5 2.1.5-1.8.5.8.5-1.2.5 1.9.5-2.8.5 2.9.5-2.3.5 1.6.5-1.3.5 1.1.5-1 .5 2 .5-3.3.5 2.7.5-1.4.5 1.1.5-1.2.5.8.5-.4.5.3.5-1.1.5 1.3.5-1.1.5 1.4.5-.5.5-.1.5-.7.5 1.4.5-1.2.5.8.5-.3.5 1 .5-1.6.5.7.5-1.4.5 1.3.5-.2.5 1.6.5-1.6.5-.2.5-1 .5 2" stroke="#f00"/>
<path d="M111.5,276.23l.5-1.4.5 1.6.5-1.6.5 1.9.5-1.5.5.8.5-1.5.5 1.8.5-1.8.5 1.4.5-.4.5.8.5-.9.5 1.9.5-2 .5.7.5-1.1.5 1.9.5-1.4.5.4.5-1 .5 1.4.5-.6.5.2.5-.7.5 2.4.5-2.7.5 1.4.5-1.2.5 2.5.5-2.3.5 0 .5-1.5.5 4.6.5-3.3.5.4.5-1.5.5 3.1.5-1.6.5.8.5-1.2.5 1.3.5-1.1.5 1.3.5-.9.5.7.5-1.1.5 1.4.5-1.7.5 2.8.5-2.1.5.3.5-.9.5 1.3.5-1.4.5 1.6.5-1.1.5 2.1.5-1.6.5-.2.5-1.3.5 1.5.5-1 .5 1.9.5-1.9.5 1.2.5-1 .5.9.5-1.3.5 2.1.5-1.9.5.6.5-.1.5 1.4.5-1.3.5.8.5-1.4.5 1 .5-1.1.5 1 .5-1.1.5 1.2.5-.6.5 1.3.5-1.1.5.8.5-1 .5.4.5-.4.5.7.5-.6.5.8.5-1 .5.7.5-.4.5 1.6.5-1.9.5 1.1.5-1.3.5 1.2.5-.9.5.4.5-.3.5 1.1.5-2.8.5 2.1.5-1.3.5 2.4.5-1.4.5.9.5-.8.5.7.5-1.7.5 2.8.5-2.4.5 1.4.5-1.8.5 1.5.5-1.3.5 1.7.5-1.3.5 1.1.5-.7.5 1.3.5-1.6.5.4.5-.7.5 1.1.5-.2.5.5.5-1.1.5.1.5-.5.5 1.7.5-.8.5.8.5-2.2.5 2.2.5-.8.5.6.5-.8.5 0 .5-.7.5 1.8.5-.9.5.7.5-1.5.5 1.3.5-.7.5 1.2.5-1.4.5.6.5-.8.5.5.5-1.9.5 3.7.5-2 .5.2.5-1.1.5 1.9.5-1.5.5 1 .5-1.4.5 2.1.5-1.1.5.5.5-2.3.5 2.6.5-1 .5.4.5-.7.5 1.3.5-1.1.5 2.1.5-2.2.5 2.4.5-2.5.5.8.5-1 .5 2.3.5-2.2.5.7.5-1.2.5 1.5.5-.7.5.9.5-1.1.5 1 .5-2 .5 1.9.5-.5.5.7.5-1.4.5 2.1.5-1.4.5.2.5-.4.5 1 .5-.5.5.5.5-1 .5.7.5-1.5.5 1.5.5-1.9.5 2.3.5-1.1.5 1.2.5-1.6.5 2.4.5-2.4.5 1.5.5-1 .5.4.5-.7.5 1.6.5-1.6.5.8.5-.9.5 1.1.5-.7.5.7.5-1 .5 1.1.5-1.1.5 1.1.5-.9.5 1.6.5-2 .5 1.3.5-1.2.5.4.5-1 .5 1.6.5-.2.5 1.2.5-1.5.5 1.5.5-1.9.5.7.5-.9.5 1.4.5-1 .5.9.5-.6.5.6.5-1.1.5 2.3.5-2.7.5 1 .5-.3.5.8.5-1.1.5 1.1.5-.8.5.4.5-.3.5.7.5-1.5.5 1.6.5-.9.5 1.7.5-1.4.5.2.5-1.4.5 1.5.5-.4.5 1.6.5-1.9.5.3.5-1 .5 1.7.5-.8.5.3.5-1.9.5 2.1.5-1.1.5 1.3.5-.4.5-.1.5-1.1.5 2 .5-.7.5.3.5-1.1.5.6.5 0 .5 1.6.5-2.2.5 1.4.5-1.5.5 1.2.5-.6.5.1.5-1.6.5 2.3.5-1.3.5 1.4.5-1.6.5 1.2.5-1.1.5 1.2.5-3.1.5 2.5.5-2 .5 2.7.5-.9.5.4.5-.5.5 1 .5-.7.5-.1.5-.5.5 1.5.5-1 .5.3.5-.8.5 1.7.5-.8.5.9.5-1.9.5 1.1.5-.4.5.5.5-1.2.5.9.5-.1.5.7.5-.8.5.3.5-1.2.5 1.9.5-1.6.5 1.4.5-1.8.5.8.5-.4.5 1.3.5-1.2.5.3.5-.6.5 1.5.5-2.2.5 2.5.5-1.9.5 1.3.5-1 .5 1.6.5-1.3.5.9.5-1.1.5.9.5-1 .5 1.2.5-1 .5.8.5-.6.5.4.5-.6.5 1.3.5-1 .5.6.5-.8.5.6.5-.5.5.7.5-1.2.5.8.5-.3.5 1.1.5-1.4.5 1 .5-1 .5.5.5-.5.5 1.6.5-.9.5.3.5-1.3.5 1.5.5-1.1.5.9.5-.2.5.7.5-1.5.5 1.5.5-1 .5.6.5-2.4.5 1.8.5-.6.5 1.4.5-1.1.5.2.5-.6.5 1.8.5-.8.5-.1.5-2.1.5 2.1.5-.8.5 1.4.5-1.7.5 1.2.5-.1.5.4.5-.7.5.4.5-1 .5 1.3.5-.8.5.9.5-1.2.5.7.5 0 .5.3.5-1.2.5 1.6.5-2 .5 1.4.5-.7.5 1 .5-1.2.5 1.2.5-.7.5.1.5-.2.5.8.5-.4.5.5.5-1.3.5 1.3.5-2.3.5 2 .5-1.3.5 1.3.5-.7.5.5.5-1 .5 1.1.5-1.3.5 1.5.5-.8.5 1.1.5-1.5.5 1.7.5-1.2.5.2.5-.4.5 1.2.5-1.6.5 1.8.5-1.7.5.9.5-.6.5.8.5-.2.5 2.2.5-2.6.5 1 .5-1.2.5 1.7.5-2.1.5.6.5-1.2.5 3.3.5-1.3.5-.1.5-1.3.5 1.1.5 0 .5.7.5-1.9.5 1.1.5-.7.5 1.8.5-1.8.5.4.5-.2.5 1.2.5-2.1.5 1.5.5-.7.5 1.3.5-.9.5.3.5-.6.5.6.5-1.5.5 2 .5-1.2.5 1.9.5-1.4.5 1.3.5-1.6.5.5.5-1.2.5 2.1.5-1.6.5 1.4.5-.7.5-.1.5-.9.5 1.2.5-.3.5.7.5-1.7.5.6.5.4.5.4.5-1.2.5.7.5.1.5.4.5-1.2.5.8.5-.9.5 1.3.5-1.1.5.9.5-1.4.5 3.5.5-2.8.5.8.5-.8.5 1 .5-2.4.5 2.5.5-.7.5.7.5-1.8.5 2.7.5-1.8.5.6.5-1.2.5 1.2.5-2.1.5 2.8.5-1.2.5.3.5-.6.5.7.5-.5.5 1.5.5-1.5.5.8.5-2 .5 1.9.5-.8.5.7.5-1.3.5 1.6.5-.5.5.4.5-1.5.5 1.3.5-1 .5 1.2.5-1.7.5 1.8.5-1.1.5 1.2.5-1.9.5 2.2.5-.9.5-.3.5-.3.5.8.5-.4.5.3.5-1.6.5 1.3.5-.9.5 2.5.5-1.9.5.8.5-1.1.5 1.5.5-1.8.5 2.6.5-2.3.5.4.5-.5.5 1.3.5-.5.5.1.5-1.4.5 1.7.5-.6.5 1 .5-3.2.5 2.2.5.1.5 1.3.5-1.9.5 1.7.5-1.7.5 1.6.5-1.3.5 1.1.5-1.4.5 1.2.5-1.6.5 1.6.5-.5.5.7.5-1.2.5.8.5-.7.5 1 .5-.9.5.7.5-.3.5-.1.5-.9.5 2 .5-1.3.5 2.1.5-3.4.5 1.3.5.2.5.9.5-.7.5-.1.5-.9.5 1.1.5-1.2.5 1.2.5-1.7.5 1.7.5-.1.5.7.5-1.6.5.5.5 0 .5.6.5-.5.5.3.5-.7.5.7.5-.2.5 0 .5-1.3.5 2.6.5-2.1.5.9.5-1.1.5 1.1.5.1.5.6.5-1.7.5.7.5-.4.5 1.8.5-1.6.5.5.5-.9.5 1.7.5-1.3.5 1 .5-.5.5.8.5-1.6.5 1.3.5-.9.5.4.5-1.2.5 1.5.5-.9.5.8.5-.7.5.7.5-.4.5.4.5-1.3.5.9.5.3.5.4.5-1.5.5.4.5.5.5.3.5-.7.5.3.5-.8.5 1.9.5-1.2.5.2.5-1 .5 1.6.5-.9.5.3.5-.4.5.9.5-1.4.5 1.1.5-1.8.5 1.8.5-.6.5 1.3.5-1.4.5 1 .5-.9.5.5.5-.6.5 1.4.5-1.1.5.5.5-1.7.5 1.2.5-.4.5 2.4.5-2.9.5 1.4.5-1.4.5 3.4.5-2.7.5.3.5-1 .5 1.3.5-2.4.5 3.3.5-2.3.5 1.9.5-3.6.5 3.2.5-1.4.5 2.2.5-2.1.5.8.5-1.3.5 2.3.5-1.3.5 1.4.5-1.7.5 1.4.5-1.2.5 1.8.5-1.3.5 1.4.5-2.5.5 1.6.5-1 .5 1.2.5-.8.5.8.5-1.8.5 3.6.5-4.1.5 1.5.5-.9.5 1.5.5-1.4.5 2.4.5-3.4.5 2.6.5-1 .5 1.1.5-1.2.5.4.5-.8.5 1.2.5-1.3.5 1.4.5-1.1.5.9.5-.6.5 1 .5-1.6.5 1.1.5-2.1.5 2.1.5-.4.5.9.5-1.6.5 1.3.5-.6.5.6.5-1.2.5 1.4.5-1.7.5 1.5.5-.9.5 2.5.5-1.9.5.7.5-2.1.5 2.1.5-1.4.5 1.6.5-2 .5 2 .5-1.8.5 2.1.5-1.7.5 1.5.5-1 .5.3.5-1.3.5 2.4.5-1.4.5 1 .5-1.4.5.4.5-.3.5.2.5-1.4.5 1.6.5.1.5.6.5-1.6.5.9.5-.5.5 1.6.5-1 .5-.1.5-.9.5 2.2.5-1.8.5 1 .5-1.7.5.6.5-.4.5 1.4.5-.9.5.8.5-1.1.5 1.3.5-1 .5 1.8.5-1.8.5 1.8.5-3.2.5 2.6.5-.8.5.3.5-.9.5 1 .5-.7.5 1.4.5-1.7.5.3.5-.3.5 1 .5-2.4.5 1.7.5-.4.5 1 .5-.3.5.3.5-1.1.5 2 .5-2.2.5 1.4.5-.6.5.9.5-1.5.5 1.5.5-.7.5.2.5-1.8.5 1.9.5-1.1.5 1.3.5-.7.5.4.5-1.5.5 1.2.5-.1.5 2.2.5-2.7.5 1.8.5-2.1.5 1.9.5-1.3.5.5.5-.6.5.8.5-1.3.5 1.6.5-1.5.5 1 .5-1 .5 1.2.5-1.1.5 1.5.5-1.1.5 1 .5-1 .5 1.1.5-1.9.5.9.5.3.5.8.5-1.3.5 1 .5-1.3.5 1 .5-.5.5 1.6.5-1.4.5.7.5-1.3.5 1.8.5-1.3.5.2.5-.9.5 1.1.5-.7.5 1.5.5-1.6.5 1.1.5-1.5.5 1.3.5-2.1.5 2.3.5-1.5.5 1.8.5-1.8.5 1.9.5-.9.5.4.5-1.4.5 1.1.5-.4.5 1.4.5-2 .5.8.5-.3.5.8.5-.8.5.5.5-1.6.5 2.4.5-1.5.5.4.5-1.1.5 2.2.5-1.2.5.4.5-1.5.5 1.9.5-.8.5.8.5-1.8.5 1.6.5-1.3.5 2 .5-2.6.5 1.6.5-.9.5 1.5.5-1 .5 1.7.5-1.5.5.1.5-1.1.5 1.3.5-1 .5 1.8.5-1.3.5.2.5.1.5.5.5-.9.5.2.5-.2.5 1.2.5-1.1.5 1.1.5-2 .5 1.7.5-.9.5.7.5-1 .5.8.5-.1.5.5.5-.6.5.6.5-1.4.5.8.5.1.5 2.4.5-2.3.5-.1.5-.9.5 1.3.5-.1.5 1.2.5-2.2.5.4.5-.1.5 1.8.5-1.5.5.2.5-.6.5.9.5-.8.5.5.5-1.1.5 1.9.5-1.5.5 1 .5-.8.5.9.5-.8.5.9.5-1.8.5 1.7.5-.3.5.4.5-1.8.5 1.4.5-1.3.5 2.2.5-1.5.5.3.5-.3.5.9.5-1.1.5.8.5-.8.5.9.5-.5.5.9.5-2 .5 1 .5-.1.5.7.5-1.1.5 1 .5-1.4.5 2.2.5-2 .5 1.6.5-1 .5.9.5-.4.5.2.5-.7.5.4.5-.2.5 2.1.5-2.9.5 2.1.5-1.3.5.8.5-1.3.5.4.5-.3.5 1.4.5-1 .5.1.5-1.3.5 1.7.5-.8.5 1.1.5-.7.5.4.5-1 .5 1.2.5-1.1.5 1.1.5-1.5.5 1 .5-.2.5 1 .5-1.6.5 1.1.5-.6.5 1.6.5-1.4.5-.1.5.2.5.6.5-.7.5.2.5-.3.5.4.5-.7.5.8.5-.4.5.8.5-1.2.5 1.8.5-2.3.5 1.8.5-1.6.5 3 .5-3.4.5 1.7.5-.5.5.6.5-2.6.5 1.9.5-.3.5 1.3.5-1.1.5.3.5-.2.5 1.5.5-2.6.5 2.1.5-1.1.5.7.5-1.1.5 1.5.5-1 .5 1.5.5-1.8.5.4.5-.1.5 1.7.5-1.7.5-.1.5-1 .5 2.4.5-.9.5.1.5-.9.5.9.5-1 .5 2.1.5-1.5.5.6.5-1.2.5.1.5.5.5 1.1.5-1.4.5.6.5-1.6.5 2.5.5-1.2.5-.5.5-.3.5 2 .5-.9.5.5.5-1.6.5 1 .5-.4.5.7.5-.7.5.5.5-.6.5 1.3.5-1.3.5 1.4.5-2.5.5 1.5.5 0 .5.7.5-.9.5 0 .5-.6.5 1.2.5-1 .5 1.4.5-1.5.5 1.6.5-1.7.5 2.1.5-2.9.5 2.7.5-1.7.5 2.2.5-1.9.5 1.1.5-.9.5.1.5-.9.5.5.5-.7.5 1.6.5-.4.5.3.5-1.4.5 1 .5-.2.5 2.5.5-2.6.5.1.5-1 .5 2 .5-.6.5.7.5-1.8.5.8.5-.4.5 1 .5-1.3.5.5.5-1.2.5 2.7.5-2 .5.6.5-.1.5 1.3.5-1.7.5 1.7.5-1.6.5.7.5-.9.5 1.5.5-.9.5 1 .5-1.4.5.6.5-1.3.5 2.1.5-1.1.5 1.1.5-1.7.5 1.2.5-1.9.5 2.3.5-1.9.5 1.4.5-1 .5.7.5-.6.5 2 .5-2.9.5 1.8.5-1.3.5 1.5.5-2 .5 2.7.5-1.4.5 1.4.5-2.3.5 1.7.5-1.7.5 1.5.5-.6.5.5.5-.4.5 1 .5-1 .5.9.5-1.4.5 1 .5-.4.5.7.5-.9.5.8.5-.8.5.9.5-1.7.5.8.5.3.5.5.5-1 .5.5.5-.8.5 1 .5-1.4.5 1.2.5-.2.5 1.6.5-1.9.5.5.5-1.9.5 2.1.5-1.7.5 2.4.5-1.9.5 1.9.5-1.3.5.5.5-1 .5 1.3.5-.3.5.2.5-.7.5.3.5 0 .5.2.5-2.2.5 2.1.5-.2.5.4.5-1.2.5 1.8.5-1 .5 1.7.5-1.8.5 1.4.5-1.7.5 1 .5-.4.5.2.5-.7.5 1.1.5-1 .5 1.2.5-1.1.5.9.5-1 .5.6.5-.7.5.6.5-.6.5.5.5-.5.5.7.5-.5.5 1.1.5-2.7.5 2.6.5-.9.5.8.5-1.7.5 2 .5-.8.5.4.5-1.5.5 1.5.5-.4.5.9.5-2.1.5 2.5.5-1.5.5.7.5-1.5.5 1.5.5-.6.5-.3.5-.4.5 1.2.5-.9.5 1 .5-1.6.5 1.4.5-.6.5.8.5-2.5.5 1.8.5-.1.5.8.5-1.1.5 1.1.5-1.3.5 1.2.5-1.7.5 1.2.5-.7.5.9.5-1.3.5 1.6.5-2.1.5 2.1.5-.6.5 0 .5-.9.5 1.2.5-.2.5.5.5-1.1.5 1 .5-1.7.5 1.8.5-2 .5 1.6.5-1.7.5 1.8.5-.7.5.6.5-1.8.5 1.9.5-.7.5.4.5-.7.5.9.5-1.3.5 1.7.5-1.6.5 2 .5-.9.5.1.5-.6.5 1.6.5-1.2.5.6.5-1 .5 1 .5-1 .5 1 .5-1 .5.5.5-.9.5 1.3.5-1 .5.9.5-1.6.5 2 .5-.6.5.9.5-2.1.5.8.5.5.5 1.1.5-1.8.5.7.5-1.9.5 2.3.5-1.6.5 3.2.5-3.2.5 1.3" stroke="#00f"/>
<path d="M111.5,288.30l.5-.9.5.9.5-.8.5 1.6.5-1 .5 0 .5-1.9.5 2.6.5-.5.5.7.5-2.1.5.4.5.3.5 1.5.5-.8.5-.1.5-1.9.5 1.3.5 0 .5.8.5-.5.5-.2.5-.2.5.4.5-.6.5 1.7.5-1.8.5 1.2.5-.9.5.3.5-.5.5 1.5.5-1.4.5.5.5-.9.5 1.2.5-.9.5.9.5-.4.5.2.5-.9.5 1.1.5-1 .5.6.5.1.5 1 .5-2.2.5 1.4.5-.8.5 1.4.5-.7.5.3.5-.7.5.8.5-.6.5 1.4.5-1.9.5 1 .5-1.1.5 1.1.5-1 .5 1.5.5-1.3.5 1 .5-.7.5.2.5-.4.5.6.5-.6.5 1.5.5-2.1.5 1.9.5-1.1.5 1.4.5-1.3.5.3.5-1.5.5 1.3.5-.7.5.9.5-.9.5.7.5-.9.5.9.5-.4.5.9.5-1.2.5 1.1.5-1.4.5 1.4.5-.7.5.2.5-.6.5 1.2.5-1.5.5 1.6.5-.9.5 1.1.5-.7.5-.6.5-.5.5 1.6.5-.8.5.5.5-.7.5.3.5-.6.5 1.4.5-.9.5.8.5-1 .5.5.5-1.1.5 1.2.5-1.1.5.9.5-1.3.5.9.5.5.5 1.1.5-2 .5.4.5-.3.5 1.7.5-.7.5.1.5-.7.5 0 .5-.2.5.6.5-.1.5.1.5-.5.5.5.5-1.1.5 1.3.5-.8.5 1.9.5-1.6.5.7.5-1.6.5 1.3.5-.7.5 1 .5-1.7.5 1.5.5-1.1.5 1.5.5-1.1.5 1.7.5-1.7.5.6.5-1.5.5 1.3.5-.1.5 1 .5-1.3.5.3.5-.3.5.5.5-.2.5.7.5-1.3.5.7.5-.1.5.6.5-1 .5.7.5-1.6.5 1.5.5-.4.5 1.1.5-1.4.5 1.4.5-1.2.5.3.5-.1.5.2.5-1.1.5 1.1.5-1.4.5 1.4.5-.6.5 1 .5-1.3.5.8.5-.6.5.6.5 0 .5.7.5-1.9.5 1.3.5-.7.5.9.5-.7.5.3.5 0 .5.5.5-.7.5.3.5-1 .5 1.8.5-.7.5.7.5-1.9.5 1.3.5-.7.5 1.1.5-.8.5.7.5-1.5.5.8.5-.1.5.6.5-.4.5.9.5-.9.5.1.5-.4.5.6.5-.2.5.2.5-.7.5.4.5-.1.5.8.5-.6.5.4.5-.8.5 1.5.5-1.8.5.6.5-1 .5 1.3.5-.1.5 1 .5-1.4.5 0 .5 0 .5.7.5-.9.5.3.5-.6.5 1 .5-.2.5.4.5-1.2.5.9.5-.6.5.8.5-.3.5.6.5-1.2.5 1.2.5-1 .5.7.5-.3.5.2.5-.6.5.6.5-.8.5 1.8.5-1.4.5.9.5-.9.5.6.5-.7.5 1.1.5-.7.5.3.5-2 .5 1.5.5.1.5 1.1.5-1.3.5.2.5-.7.5 1.5.5-1.6.5 1 .5-.1.5.3.5-.9.5.5.5-.2.5.9.5-1.1.5.5.5-.4.5.8.5-.8.5.6.5-.8.5 1.3.5-1.1.5.9.5-1 .5.1.5-.7.5 1.4.5-.5.5.9.5-1.6.5.8.5 0 .5.5.5-1.1.5 1.2.5-.6.5.5.5-1.2.5.6.5-.4.5 1.3.5-1.1.5 1.2.5-1.1.5.7.5-.6.5.2.5-1.8.5 1.7.5-.4.5 1 .5-.8.5 1.1.5-2.2.5 1.9.5-.9.5.7.5-.6.5.5.5-.8.5.3.5-.2.5 1.7.5-1.2.5.1.5-.8.5.9.5-.1.5.7.5-1.4.5.4.5-.1.5.7.5-.7.5.4.5-.4.5.2.5-.7.5 1.2.5-.4.5 1.2.5-1.5.5-.1.5-.8.5 1.3.5-.1.5.4.5-1.2.5.6.5.3.5.7.5-1.5.5.6.5-1.7.5 2 .5-1.4.5 2.1.5-1.7.5 2 .5-1.6.5.5.5-.4.5.8.5-1.2.5.6.5-.2.5.4.5-.3.5.2.5-.3.5.3.5 0 .5 0 .5-.9.5.9.5-1.4.5 1.9.5-1 .5.7.5-1 .5.7.5 0 .5 1.3.5-1.8.5.8.5-.6.5 1.1.5-.6.5-.1.5-1 .5 1.2.5-.2.5.1.5-1 .5.7.5-.4.5 1.3.5-1.5.5.8.5-.8.5 1.2.5-1.1.5 1.2.5-1.1.5.5.5-.4.5.8.5-.7.5 1.4.5-1.4.5.8.5-.4.5.1.5-.8.5.8.5-.5.5.6.5-.5.5 1 .5-1.2.5.4.5-.8.5 1.2.5-.9.5.8.5-1 .5.9.5.3.5 1.6.5-3.1.5 1.1.5-.9.5 1.9.5-.7.5 0 .5-1.2.5.9.5-.4.5.7.5 0 .5.3.5-1.1.5.4.5-1.4.5 1.6.5.2.5.1.5-.6.5.1.5-.8.5 1.1.5-.6.5.5.5-.2.5 1.2.5-2.2.5 1.3.5-.8.5 1.3.5-1.3.5.4.5-.3.5 1.2.5-.9.5.5.5-1 .5 1 .5 0 .5.1.5-2.3.5 1.7.5 0 .5 1.2.5-1.2.5.6.5-1.2.5 1.8.5-2.1.5 1.1.5-.8.5 1.3.5-1.5.5 1.9.5-1.4.5 1.3.5-2.4.5 2.1.5-1.3.5.9.5-.9.5 1.4.5-1.2.5 1.1.5-.8.5.6.5-.7.5 1.8.5-1.9.5.1.5-.4.5 1.8.5-1 .5.7.5-1.5.5 1 .5-.3.5.3.5-.3.5.6.5-.7.5.1.5-.3.5.8.5-.4.5.4.5-1.6.5 1.3.5-.9.5 1.5.5-1.2.5.8.5-1.3.5.8.5-.1.5 1.3.5-1.1.5.2.5-.9.5 1 .5-.5.5.8.5-1.5.5.8.5.1.5.2.5-1.4.5 1.6.5-2.3.5 2.1.5-1.2.5 1.3.5-.7.5.4.5-.7.5.9.5-1.2.5 1 .5.1.5.3.5-1 .5.5.5 0 .5.4.5-.7.5.4.5-.3.5.4.5-.2.5.2.5-.5.5.5.5-.4.5.8.5-1.1.5 1 .5-.3.5-.1.5-.4.5.6.5-1 .5 1.2.5-1 .5.7.5-.9.5 1.2.5-.8.5 1.1.5-.7.5.4.5-1.5.5 1.1.5-.7.5.8.5-.6.5.8.5-.8.5 1.4.5-1 .5.7.5-.9.5.6.5-.7.5.6.5-.7.5 1.7.5-1.8.5.6.5-.3.5 1.5.5-1.9.5.8.5-.7.5 1 .5-.4.5 1.1.5-1 .5-.2.5-1.1.5 2 .5-.9.5.8.5-1.6.5 1.1.5-1.1.5 1.3.5-1.1.5 1.5.5-2.1.5 2.3.5-1.7.5 1.3.5-1.2.5 1.5.5-1.8.5 1.8.5-.8.5-.2.5-1.4.5 2.5.5-1.1.5.7.5-2.6.5 2.9.5-.8.5.3.5-2.5.5 3.4.5-1.5.5 1.2.5-1.8.5 1.9.5-1.8.5 2.2.5-2.2.5.7.5-.4.5 1 .5-1.2.5 1.1.5-1 .5.8.5-.3.5.1.5-.8.5.8.5-.1.5.8.5-1.9.5 1.5.5-1 .5 1.7.5-1.5.5 1.7.5-2.7.5 3.6.5-2.2.5 1 .5-3.9.5 3.3.5.5.5.5.5-2.6.5 1.5.5-2.4.5 2.1.5.8.5-.1.5-2 .5 2.1.5-1.6.5 1.3.5-.7.5 1 .5-.9.5.4.5-.4.5.8.5-1.3.5.9.5-.8.5.8.5-.1.5.5.5-1.5.5 1.4.5-1.7.5 1.6.5-.4.5.8.5-1.3.5.3.5-.3.5.7.5-.4.5.3.5-1 .5 1.3.5-.9.5 1.2.5-.6.5.8.5-2.7.5 1.9.5-.4.5 1.3.5-1.3.5.2.5-.7.5 1.6.5-1 .5.3.5-.6.5.8.5-2.1.5 2.3.5-.8.5.8.5-.8.5.5.5-1.4.5 1.5.5-1.2.5 1.2.5-.4.5.5.5-.9.5 1 .5-.6.5.5.5-.9.5.5.5-1.3.5 1.7.5-.9.5.5.5-1.1.5 1.2.5-.4.5 1.3.5-1.4.5 1.1.5-2.6.5 1.7.5-.1.5.8.5-.7.5.5.5-1 .5 1.9.5-1.5.5.8.5-1.5.5 1.3.5-.7.5.2.5-.1.5.9.5-.6.5-.2.5-1 .5 1.7.5-.8.5.5.5-1.8.5 1.9.5-.9.5 1.3.5-1.3.5.6.5-.2.5.7.5-1.9.5 1.2.5-.5.5.9.5-.9.5.5.5-.7.5 1.6.5-1 .5 1.1.5-1.8.5 1 .5-.4.5.8.5-.9.5.7.5-2.2.5 2.4.5-.3.5.6.5-2.1.5 1.6.5-.5.5 1.4.5-1.7.5.5.5-.8.5 1 .5-.7.5.7.5-.3.5.4.5-.8.5 1.1.5-.7.5.2.5-.4.5 1.4.5-1.2.5.4.5-.7.5.6.5-.4.5.7.5-1.1.5 1 .5-.6.5 1 .5-1.4.5.9.5-.9.5 1.1.5-1.1.5 1.5.5-1.5.5 2.6.5-2.4.5.9.5-1.4.5 1.7.5-1.4.5 1 .5-.9.5.7.5-.5.5 1.8.5-1.8.5 1.4.5-1.4.5.5.5-1 .5.7.5.4.5.1.5-1.4.5.7.5-.1.5 1.1.5-.5.5.1.5-1.4.5 1.4.5-.2.5.6.5-.7.5.3.5-1.1.5 1.6.5-1.7.5 1.3.5-1 .5 1.7.5-1.1.5 1.1.5-1.2.5.6.5-1.2.5 1 .5-1.3.5 2.1.5-1.7.5 1.5.5-1.5.5.5.5.1.5.4.5-.4.5-.2.5-.8.5 1.2.5-.9.5 1.1.5-.5.5 0 .5-.3.5 1.2.5-.5.5-.1.5-1.4.5 1.3.5 0 .5.4.5-1.2.5 1.7.5-2 .5 2.8.5-2.1.5 1.2.5-2 .5 1.2.5 0 .5.5.5-1.2.5.3.5-.2.5 1.1.5-.8.5.3.5-.5.5.4.5 0 .5.6.5-1 .5.5.5-.8.5 1.4.5-1.2.5 1.1.5-2.6.5 1.9.5-.3.5.7.5-.5.5 1.2.5-1.5.5.9.5-1.3.5 1.1.5-.8.5 1.2.5-1.3.5 1 .5-.5.5 1 .5-1.5.5 1.6.5-.7.5.6.5-1.1.5 1.1.5-1 .5.9.5-.6.5 1.1.5-1.6.5 0 .5-.3.5 1.5.5-1.4.5 1.2.5-1.3.5 1.1.5-.2.5.4.5-1.1.5 2.2.5-2.3.5 1.3.5-1.8.5 1.6.5-.7.5 1.2.5-1.3.5.9.5-1.1.5 1.2.5-2 .5 1.4.5-1.5.5 1.7.5-1.2.5.9.5-1.2.5 2.2.5-.8.5.8.5-1 .5.1.5-.2.5.6.5-.7.5.4.5-.3.5.9.5-1.6.5.8.5-.4.5.9.5-.9.5.5.5 0 .5.6.5-.7.5-.3.5-.4.5 1 .5-.1.5 0 .5-.9.5.6.5 0 .5.9.5-2 .5 1.1.5.1.5.8.5-1.4.5.7.5-1.3.5 1.6.5-.8.5 1.2.5-1.2.5 1.4.5-.9.5.8.5-1.3.5.5.5-1.5.5 2 .5-1.1.5 1.1.5-1.1.5.7.5-.2.5 1.1.5-1.9.5 1 .5-.5.5 1.2.5-.6.5 0 .5-.7.5.4.5-.3.5 1 .5-1.4.5.7.5-.8.5 1.4.5-.8.5.9.5-1.6.5 1.6.5-.7.5.3.5-1.1.5 1.1.5-.5.5.4.5-.4.5 1 .5-1.9.5 1.1.5-.7.5 1.3.5-1.1.5 1 .5-1.1.5.6.5-.3.5 1 .5-.5.5.1.5-.5.5.5.5-.5.5.9.5-.9.5.3.5-1.7.5 1.9.5-.4.5 1.1.5-2.4.5 1.4.5.2.5.3.5-1.1.5.7.5-.5.5.7.5-.5.5.6.5-.8.5.5.5-.7.5.9.5-.4.5 1.2.5-1.3.5.2.5-.9.5 1.3.5-.2.5.5.5-1.6.5 1.6.5-1 .5 1.3.5-.8.5.4.5-1.3.5 1.2.5-1.1.5 2.4.5-2.4.5.7.5-1.1.5 1.2.5-.1.5.3.5-1.3.5 1.9.5-1.7.5 1.3.5-1.9.5 1 .5-.3.5 1.1.5-.6.5.5.5-1.6.5 1.1.5.3.5.9.5-1.5.5.4.5-1.4.5 2 .5-1.4.5 1.2.5-2 .5 2.5.5-2.3.5 2.3.5-1.3.5.6.5-.9.5 1.2.5-.5.5.4.5-1.4.5 1.2.5-.8.5 1.1.5-.9.5.3.5-1.3.5 1.8.5-.7.5.6.5-1.5.5 1.2.5-.4.5 1.2.5-1.2.5.9.5-1.6.5 1.6.5-1.4.5.8.5-.2.5.7.5-.6.5.1.5-.1.5.4.5-.5.5.9.5-1.1.5 1.3.5-1.4.5.9.5-1.4.5 1.5.5-.8.5 1 .5-1 .5.2.5-.3.5 1.3.5-1.3.5.5.5 0 .5.2.5-.6.5.7.5-.3.5.3.5-.5.5 1.4.5-1.4.5.6.5-.9.5.7.5-.9.5 1.5.5-.9.5.2.5-.4.5.9.5-.4.5.8.5-1.5.5 1 .5-.5.5.9.5-1.3.5.5.5-.9.5 2.2.5-1.7.5.7.5-.8.5.4.5-.5.5 1 .5-1.7.5 1.1.5-1 .5 1.6.5-.6.5 1.3.5-2.3.5 1 .5-.3.5.9.5-.5.5 1 .5-1.1.5.1.5-.2.5.6.5-.9.5 1.4.5-1 .5.1.5-.5.5 1.1.5-1.2.5 1.6.5-1.6.5.9.5-1.2.5 1.5.5-.9.5 1.2.5-1.7.5.8.5-.4.5 1.6.5-1.5.5 1 .5-1.4.5 1.3.5-1.4.5 1.7.5-1 .5.8.5-1.4.5.3.5.1.5 1.2.5-.9.5.2.5-1.8.5 2.3.5-.9.5 1.4.5-1.3.5 1 .5-1.7.5 1.4.5-1.5.5.9.5.2.5.2.5-.6.5.1.5-.6.5 1.6.5-1.3.5.8.5-.9.5.9.5-1 .5.5.5-.9.5 1.5.5-.5.5.2.5-1 .5 1.2.5-1.2.5 1.1.5-.8.5.8.5-1.2.5 1.7.5-1.1.5.9.5-1.2.5.9.5-.2.5.3.5-.7.5 1 .5-1.7.5 1.8.5-1.7.5.8.5-.7.5 1.2.5-.8.5.2.5-1.2.5 2.2.5-.6.5.7.5-1.5.5 1.6.5-1 .5 1.3.5-1.9.5.6.5-.8.5.8.5-.9.5 1.4.5-.7.5.2.5-.3.5 1 .5-.7.5.8.5-1.5.5 1.1.5-1.3.5 1.1.5-.5.5 1.6.5-1.3.5.8.5-1.2.5.7.5-.6.5.6.5-.7.5.4.5-.3.5 1.2.5-.7.5 1 .5-2.6.5 1.5.5-.5.5 1.8.5-1.7.5.9.5-1.5.5 1.6.5-.4.5.2.5-1.4.5.8.5-.3.5 1.4.5-1 .5.3.5-.9.5 1.2.5-.5.5-.1.5-1.2.5 2.2.5-1 .5.9.5-2 .5 1.6.5-1.4.5 2 .5-1.5.5 1.2.5-1.3.5 1.8.5-1.2.5.2" stroke="#f00"/>
<path d="M111.5,300.77l.5-1.2.5.6.5-.7.5 1.1.5-1.1.5 1 .5-.4.5.6.5-1.5.5 1 .5-.6.5 1.7.5-1.6.5.9.5-1.1.5 1.3.5-1.2.5.6.5-.5.5 1.1.5-1 .5 1.2.5-1.9.5 2.6.5-2.3.5 1.3.5-1.4.5 1.2.5-1.1.5 1.1.5-.2.5.2.5-1.8.5 2.2.5-.8.5-.1.5-.3.5.9.5-.6.5.5.5-1.2.5 1.3.5-.5.5.2.5-.5.5.8.5-1.4.5 1.2.5-.9.5.9.5-.5.5 0 .5-.4.5 1.6.5-1.7.5.9.5-.6.5.8.5-1.5.5 1.2.5-.8.5 1.5.5-1 .5.7.5-1.7.5 2.4.5-1.4.5.2.5-1 .5 1.7.5-.4.5 1.2.5-2 .5.8.5-2.1.5 2.4.5-1.2.5 1.2.5-2 .5 1.5.5-.9.5 1.6.5-1.5.5.6.5-.1.5.6.5-1.2.5 1.7.5-.8.5.2.5-.6.5.7.5-.5.5.5.5-1 .5 1.1.5-.5.5.4.5-1.6.5 3.3.5-2.6.5.5.5-.3.5 1.7.5-2.7.5 1.6.5-1.4.5 2 .5-1.2.5.9.5-1 .5.5.5-.6.5 1.8.5-2.4.5 1.1.5-.8.5 1.8.5-2.1.5 1.6.5-.8.5 1.1.5-1.2.5.2.5-.2.5.8.5-.6.5.8.5-.8.5 1.7.5-1.8.5.5.5-.3.5 1.3.5-1.7.5.5.5-.3.5.7.5-1 .5.7.5-.7.5 1.5.5-.7.5.2.5-1 .5 1.9.5-1.5.5.6.5-1.7.5 1.4.5-.9.5 1.7.5-1 .5.8.5-1.3.5.8.5-.5.5.9.5-1.1.5.6.5-.6.5.6.5-.7.5 1.5.5-1 .5.2.5-.2.5 1.2.5-2 .5 1.2.5-.8.5.9.5-.7.5 1.3.5-1.2.5.5.5-2.2.5 3.6.5-1.7.5 0 .5-.5.5.7.5-1 .5 1.1.5-.2.5.6.5-2 .5 1.7.5-.9.5.4.5-1.1.5 1.6.5-.6.5.5.5-1.3.5 1.1.5-.5.5.8.5-1 .5 1.5.5-1.7.5.6.5-.5.5 1.3.5-.4.5.2.5-2.1.5 3.5.5-1.8.5 1.1.5-1.8.5.6.5-.1.5 1.1.5-1.2.5.9.5-.7.5.1.5-1.4.5 2.3.5-1.6.5 1 .5-2 .5 2.2.5-.8.5 1.2.5-1.5.5.8.5-.2.5 1.2.5-1.4.5.8.5-1.2.5 1.1.5-.7.5.3.5-.3.5.4.5-.4.5.9.5-1 .5.7.5-.4.5.6.5-1.5.5 1.7.5-1.7.5 2.4.5-1.9.5.4.5-.6.5 1.1.5-.4.5.1.5-.6.5 1.3.5-1.5.5 1.2.5-.7.5.4.5-.8.5 1.1.5-1.2.5 1.4.5-1.6.5 1 .5-1 .5 1.6.5-.9.5.4.5-.6.5 1.3.5-1.2.5.5.5-1.3.5 1.4.5-.6.5 1.4.5-1.7.5 1.1.5-1.6.5 1.1.5-.7.5.9.5-1.4.5 2 .5-.8.5.5.5-1.3.5 1.4.5-.8.5.3.5-.6.5 1.4.5-1 .5.6.5-.6.5.2.5-.6.5 1 .5-.9.5.9.5-.8.5-.1.5-.7.5 2.4.5-1.3.5.3.5-.9.5.5.5-.4.5 1.2.5-1.8.5.7.5-.2.5 1.3.5-1.1.5 0 .5-.2.5 2 .5-1.7.5 1.1.5-2 .5 1.6.5-2.5.5 3.1.5-1 .5-.3.5-.8.5 1.3.5-.1.5-.2.5-.7.5 1.7.5-1.2.5.9.5-1.7.5 1.5.5-.2.5.3.5-1 .5.6.5-.4.5 1.2.5-2.1.5 1.1.5-1.2.5 2.6.5-1.2.5-.1.5-2.1.5 2.4.5-.1.5.4.5-1.3.5.7.5.1.5.2.5-.8.5.2.5-.1.5 1.5.5-2.9.5 1.9.5-.3.5 1 .5-1.1.5.1.5-1.2.5 1.8.5-.5.5.3.5-1.1.5 1.6.5-.8.5.3.5-.7.5.6.5-.4.5.9.5-.8.5.7.5-1.3.5 1.4.5-1.1.5.9.5-.9.5 1.2.5-.9.5.8.5-1.2.5.3.5-.3.5 1.3.5-.9.5 1.3.5-1.5.5.5.5-1.2.5 1.2.5-.9.5 1.9.5-2.1.5 2.8.5-2.7.5 1.5.5-2.5.5 2.4.5-1.3.5.8.5-.5.5.5.5-.8.5.6.5-.1.5 2.1.5-2.9.5 2 .5-1.8.5 1.4.5-2 .5 1.2.5.2.5.3.5-.5.5.4.5-.6.5.9.5-.5.5.8.5-1.1.5.7.5-1.2.5 2 .5-1.7.5 1.1.5-1.6.5 1.8.5-1.9.5 2.1.5-1.2.5 1.1.5-1 .5.1.5-.9.5 1.2.5-.9.5 1.4.5-1.4.5.3.5-.3.5 1 .5-.6.5.3.5-1.2.5 2.7.5-1.5.5.9.5-2.3.5 1.8.5-.8.5 1.5.5-1.8.5 1 .5-1.2.5 1.4.5-1.5.5 1.2.5-.8.5.8.5-.4.5.6.5-1.1.5.5.5-.6.5 1 .5-.7.5.9.5-.4.5.4.5-.8.5.6.5-1.5.5 1.6.5-.9.5.3.5 0 .5 1 .5-1.7.5.8.5-.7.5 1.1.5-.9.5 1.7.5-1.5.5.6.5-.2.5.5.5-.9.5 2.3.5-3 .5 1.4.5-1.2.5.9.5-.8.5 1.5.5-1.5.5 2 .5-1.4.5.2.5-.8.5 1.3.5-.5.5 0 .5-.6.5.8.5-.3.5.9.5-1.7.5.9.5-1 .5 2.2.5-1.5.5.3.5-1.1.5 1.9.5-1.5.5 1.3.5-1 .5.9.5-.6.5.2.5-.7.5.7.5-.9.5 1.4.5-1.1.5 1.1.5-.8.5.9.5-1.7.5 1 .5-1.3.5 2.8.5-1.6.5.8.5-2.9.5 2.5.5-.7.5 1 .5-1.9.5 2.1.5-1.2.5.4.5-.2.5 1 .5-1.2.5.9.5-.9.5.5.5-.1.5.3.5-.6.5 1.2.5-1.6.5 1.6.5-1.3.5 1.1.5-1.5.5.8.5-.2.5 2.1.5-2.3.5.8.5-1.3.5 1 .5-.3.5.5.5-.3.5 1.5.5-2.3.5 1 .5-.2.5.7.5-1.9.5 1.6.5-.3.5.2.5-.9.5 1 .5-1.4.5 1.8.5-1.3.5 1.4.5-2 .5 1.5.5-.7.5.3.5-.1.5.6.5-1.5.5 1.3.5-.3.5.6.5-.8.5.6.5-1.2.5 1.6.5-1 .5 1.5.5-1.7.5.7.5-.4.5.8.5-.6.5.1.5-.4.5.4.5-.4.5.8.5-.9.5.7.5-1.9.5 2.1.5-1.3.5 1.3.5-1.5.5 1 .5-.1.5.6.5-1 .5 1.5.5-1.7.5 1 .5-.5.5 1.5.5-1.9.5.7.5-2.6.5 2.8.5-1.8.5 2.2.5-1.1.5 1.2.5-2 .5 1.6.5-1 .5 1 .5-1.3.5 1.6.5-1.7.5 1.2.5-.6.5.6.5-.4.5.4.5-.8.5.8.5-.7.5 1.1.5-1 .5.3.5.2.5.9.5-2.2.5 1.4.5-.7.5.8.5-1 .5.7.5-.7.5 1.1.5-.8.5.6.5-1.3.5 2.3.5-1.5.5.7.5-.7.5.3.5-.6.5.7.5-1.1.5 2.2.5-1.6.5 1.4.5-1.5.5.6.5-.3.5 1.3.5-2.7.5 1.1.5.3.5.8.5-.8.5 0 .5-1 .5 1.7.5-1.5.5 1 .5-.6.5 1.1.5-2.3.5 2.7.5-1.6.5 1.7.5-2 .5 1.5.5-1.6.5 1.8.5-1.2.5.9.5-1.5.5 1.7.5-2 .5 1 .5.1.5 2 .5-1.9.5.2.5-.8.5 1.5.5-1.3.5.7.5-1.8.5 2.7.5-1.4.5 1 .5-1.2.5.8.5-.5.5 0 .5-1.7.5 2.3.5-1.3.5 1.9.5-1.7.5 1.6.5-.8.5 1.5.5-1.8.5.5.5-.4.5.4.5-.6.5.2.5-1.3.5 1.6.5-1 .5 1.2.5-1.1.5.6.5-.9.5 2.6.5-1.6.5 1.4.5-1.6.5.1.5-.1.5.5.5-.9.5.8.5-.7.5 1 .5-.8.5 1.4.5-1.1.5.5.5-1.2.5 1.3.5-1.6.5 1 .5-.6.5 1.3.5-1.9.5 2 .5-1.6.5.6.5 0 .5.8.5-.9.5 1.4.5-1.9.5 1.8.5-1.5.5.8.5-.6.5.5.5-1.1.5 1.6.5-2.3.5 2.4.5-2.5.5 1.7.5-1.3.5 1.9.5-1 .5 1.7.5-1.7.5 1.4.5-1.2.5.8.5-1 .5 1.1.5-.8.5.2.5-.6.5 1.1.5-1.6.5 1.6.5-.9.5.8.5-1.7.5 2.1.5-1.9.5 2 .5-2.2.5 1.9.5-1.6.5 1.6.5-1.2.5 1.1.5-.8.5.2.5-1.5.5 3.8.5-2.2.5.6.5-1.9.5 1.8.5-1.5.5.8.5-.6.5 1.6.5-.6.5.4.5-2.1.5 2.2.5-1.7.5 2.1.5-2 .5 1.8.5-1.2.5.4.5-1.2.5 1.8.5-1 .5.7.5-.8.5.7.5-.7.5.1.5-.3.5 1.5.5-1.2.5.5.5-.8.5.6.5-.3.5 1.3.5-1.8.5 1.4.5-1.8.5 1.8.5-1.3.5 1.2.5-1.2.5.7.5-1.4.5 2.3.5-.9.5 0 .5-.7.5.8.5-.1.5.4.5-1.1.5 1.4.5-1.9.5 1.4.5-.2.5.3.5-1.2.5 1.8.5-1.6.5.9.5-1.1.5 1.3.5-1.9.5 2.5.5-1.5.5.2.5-.6.5 1.6.5-1 .5.5.5-.7.5.8.5-1.5.5 1.1.5-.1.5.3.5-.8.5.7.5-1.1.5 1.5.5-.9.5.6.5-1.2.5 1.8.5-1 .5.3.5-.8.5.9.5-1.5.5 2.6.5-1.9.5 1.4.5-2.3.5 1.9.5-.5.5.3.5-.5.5.4.5-.2.5 1.2.5-2.3.5 2.3.5-1.6.5 1 .5-2.1.5 2.2.5-1.2.5 1.1.5-.4.5.8.5-1.6.5 1.1.5-.4.5.3.5-.3.5 0 .5-.4.5.6.5-.2.5.8.5-.8.5.1.5-1.1.5 1 .5-.3.5.6.5-.6.5.4.5-.2.5.4.5-1.5.5 1.5.5-.5.5.9.5-1 .5.8.5-1.4.5 2.1.5-1.6.5.9.5-2 .5 1.9.5-.9.5.6.5-.4.5 1.1.5-.7.5.5.5-2.6.5 2.6.5-1.1.5.6.5-.8.5 1.2.5-2.3.5 2.7.5-.8.5.4.5-.8.5.5.5-.8.5 1 .5-.6.5.1.5-.8.5 2 .5-1.3.5.3.5-.8.5 1.2.5-2.1.5 1.9.5-1.5.5 1 .5-.2.5 1 .5-.5.5.5.5-1.7.5 1.4.5-.9.5 1 .5-1.1.5 1.5.5-1.5.5 1.2.5-1.5.5.9.5 0 .5.8.5-1 .5.2.5-.5.5 1.2.5-.9.5.7.5-.7.5.2.5-.1.5 1 .5-.8.5 1.2.5-2.5.5 1.4.5-.6.5 1.3.5-1.4.5.7.5-.3.5.6.5-.4.5.2.5-.3.5.1.5-.3.5 1.4.5-1.8.5.7.5-.9.5 1 .5-.7.5 1.2.5-.9.5 1.6.5-1.3.5.4.5-.6.5.5.5-.7.5.6.5-1.3.5 1.2.5-.9.5 1.4.5-1.2.5 1.3.5-1.3.5 1 .5-1.2.5 1.1.5-.3.5.3.5-1 .5 1.4.5-1.6.5 1.4.5-.7.5.3.5-.4.5.9.5-1.8.5 1.7.5-.9.5.4.5-.5.5 1.1.5-1 .5 1.2.5-1.8.5 1.4.5-.1.5.1.5-1.1.5.7.5-.2.5.9.5-1.6.5 1.1.5-.6.5 1.1.5-1.4.5 1.1.5-.6.5.2.5-.4.5 1.2.5-1.2.5.8.5-1 .5 1.6.5-1.5.5.6.5-.7.5 1.3.5-1.3.5 1.3.5-1.5.5 1.5.5-1.4.5 1.1.5-1.3.5 1.2.5-1 .5 1.8.5-1.9.5.7.5-1.3.5 2.2.5-.9.5 1.5.5-2.8.5 2.2.5-1.7.5 1.2.5-.4.5.4.5-1.5.5 1.6.5-.7.5.8.5-.8.5.3.5-.3.5.9.5-.8.5.5.5-.6.5 1.4.5-1.1.5.2.5-.4.5.9.5-.9.5.5.5-1.1.5.9.5-.9.5 2.1.5-2.2.5 2 .5-1.3.5.4.5-2.2.5 2.2.5-1.2.5 2.2.5-2.6.5 1.6.5-.8.5 1.2.5-1 .5 1 .5-1 .5 2.3.5-2 .5 1 .5-1.3.5 1 .5-1.6.5 1.7.5-.9.5 1.3.5-1.6.5 1.2.5-2.1.5 1.2.5-.3.5 1 .5-.6.5.2.5-.3.5 1 .5-1 .5.4.5 0 .5.2.5-1.2.5.7.5.3.5.9.5-2.5.5 2.2.5-1 .5.8.5-1.1.5.4.5 0 .5.9.5-1.1.5.7.5-.8.5 1 .5-1.3.5.6.5-.7.5 1.6.5-.9.5.2.5-1.4.5 1.5.5-.4.5.9.5-1.3.5.8.5-.7.5 1.7.5-1.2.5.3.5-.7.5.9.5-.8.5.7.5-.4.5.8.5-1.4.5 1.1.5-.9.5.7.5-.5.5.4.5-1.1.5 1.2.5 0 .5.4.5-1.1.5.5.5-.4.5 1.1.5-2 .5 1.4.5-.6.5 1.1.5-.9.5.8.5-1.1.5 1.1.5-1.3.5 1.2.5-1.5.5 1.1.5-1 .5.8.5-1.6.5 2.5.5-1 .5 1 .5-1.6.5 1.3.5-.4.5.7.5-.9.5.2.5-.5.5 1.4.5-1.2.5.3.5-1.5.5 2 .5-.6.5.5.5-1.9.5 2.2.5-1.3.5 1.7.5-2.4.5 2.7.5-2.9.5 2 .5-1.1.5.7.5-.6.5.8.5-.9.5 1.1.5-1.1.5.6.5-.2.5.6.5-1 .5 1.1.5-1.6.5 1.5.5-1.2.5 1.8.5-1.8.5 1.4.5-1.5.5.4.5.1.5 1 .5-1.5.5 1.1.5-1.1.5 1.4.5-.8.5.1.5-.8.5 1.5.5-1.3.5 1 .5-1.5.5 2.2.5-1 .5 1.4.5-1.6.5 1 .5-1 .5 1.4.5-1.6.5.6.5-.4.5.3.5-1.4.5 1.6.5-.9.5 1.8.5-2.3.5 1.3.5-.8.5 1 .5-1.3.5 1.1.5-1 .5 1.1.5-.6.5 1.1.5-1.3.5.8.5-.4.5.2.5-.6.5.8.5-.7.5.9.5-1.1.5 1.1.5-1.4.5 1.2.5-.5.5.3.5-.3.5.3.5-.7.5 2 .5-1.7.5 1.6.5-1.5.5 1.7.5-2.1.5 1.2.5-1 .5 2.1.5-2.1.5.6.5-1.5.5 1.4.5-1 .5 1.1.5-.7.5 1.3.5-.7.5 1 .5-1.5.5.6.5-.2.5.3.5-.4.5.7.5-.6.5 1 .5-1.2.5.5.5-2.6.5 2.9.5-1 .5 1.1.5-2.8.5 2.9.5-.8.5.1.5-1.4.5 1.5.5-1.3.5 2.2.5-2.2.5.7.5.2.5 1 .5-1.8.5 1.3.5-1 .5 1.1.5-.1.5-.2.5-1.2.5 1.4" stroke="#00f"/>
<path d="M111.5,312.24l.5 0 .5 1.2.5-1.4.5.9.5-2.3.5 1.9.5-.5.5 1 .5-1 .5 1.5.5-2.6.5 2 .5-1.8.5 1.5.5-.8.5 1.1.5-.8.5.7.5-1.1.5 2.1.5-2.6.5 1.5.5-.8.5.8.5-2.1.5 2 .5-.7.5 1.8.5-2.6.5 1.9.5-1.7.5 2.3.5-.8.5-.2.5-2.5.5 2.3.5.3.5 2.2.5-3.8.5.6.5-1.3.5 4.6.5-2.1.5 1.1.5-4.4.5 1.9.5-.6.5 4.2.5-2.9.5-.2.5-3 .5 3.7.5-.6.5 1.7.5-2.5.5 1 .5-1.7.5 3.8.5-2.2.5.3.5-2.2.5 2.9.5-1.2.5 1.4.5-2.1.5.7.5.3.5.8.5-1.4.5 1.5.5-1.3.5 2 .5-1.7.5 1.2.5-2.2.5 1.2.5-.9.5 1.4.5-1.2.5 1.3.5-2.1.5 1.4.5-.4.5 1 .5-2.6.5 2 .5-.6.5 1.8.5-1.8.5 1.6.5-1.9.5 4 .5-4.5.5 1 .5-.7.5 3.4.5-3.2.5.9.5-1.9.5 2.1.5-.5.5 1 .5-1.1.5 1.1.5-1.8.5 3 .5-2.2.5 1 .5-.9.5 1.2.5-3.8.5 3.5.5-1.3.5.7.5-1.6.5 1.2.5-.6.5 1.5.5-1.1.5 1.3.5-1.8.5 2.1.5-1.5.5.9.5-.7.5.7.5-.8.5.4.5-.2.5 1.2.5-1.6.5.3.5-.2.5 1.7.5-1.3.5 0 .5-1.8.5 2.8.5-1.9.5 1 .5-1 .5 1.6.5-2.3.5 1.7.5-.6.5 1.4.5-1.8.5 1.9.5-2.8.5 2.6.5-2.7.5 2 .5-.4.5.8.5-1 .5.8.5-.8.5 1.2.5-.8.5-.1.5-.6.5 1 .5-.3.5 1.6.5-2.4.5 1.7.5-1.7.5 1.5.5-.4.5.2.5-1.7.5 1.6.5-.4.5 1.1.5-3 .5 1.8.5-1.5.5 2.3.5-1 .5 1.1.5-1.5.5 1 .5-.3.5 1.2.5-1.9.5.2.5.2.5 1.4.5-1 .5-.4.5-.8.5.9.5.1.5.9.5-1.9.5 1.9.5-1.3.5.8.5-.4.5.7.5-1.7.5 1.4.5-.6.5.8.5-1.1.5 1 .5-1.8.5 1.9.5-1.4.5 1.3.5-1.2.5 1 .5-.5.5 1.4.5-2.1.5 1.2.5-.7.5.8.5-1 .5.8.5-.5.5 1.2.5-.7.5.1.5-.6.5.2.5-.1.5 1.8.5-1.3.5.2.5-.5.5.5.5-1.7.5 2.7.5-1 .5.8.5-2.4.5 2.5.5-1.6.5 1.3.5-2.4.5 3 .5-3.1.5 3.3.5-2.5.5 1.9.5-3 .5 2.3.5-1.7.5 2.6.5-3 .5 1.3.5-1.1.5 2.6.5-.9.5 1.3.5-2.6.5 1.6.5-.3.5.3.5-1.3.5 1.4.5-.9.5.7.5-.5.5.2.5-.6.5.9.5-1.2.5 1.1.5-.9.5 1.5.5-2.3.5 2.2.5-3 .5 3.5.5-2.2.5 1.4.5-.4.5.1.5-.8.5.4.5-.3.5 1.1.5-.7.5.5.5-1.2.5.6.5-.6.5 1.4.5-1.4.5 1.5.5-.8.5-.2.5-.3.5 1 .5-1.2.5 1.7.5-1.9.5 1.5.5-1.9.5 1.2.5-.8.5 1.6.5-1 .5-.2.5-.3.5 1.6.5-1 .5.4.5-.5.5.8.5-.5.5.5.5-1.8.5 1.3.5-.9.5 1.2.5-.9.5.8.5-.4.5.8.5-1.4.5.9.5-1.4.5 1.5.5-.5.5 1.5.5-1.6.5.7.5-1.2.5 2.2.5-1.3.5 1.6.5-2.3.5.7.5-.6.5 1.9.5-1.7.5.5.5-.4.5 1 .5-1 .5.8.5-1.1.5 1.5.5-.6.5.5.5-1.9.5 1 .5-2.3.5 3.8.5-2.7.5 1.5.5-.9.5 1.6.5-1.8.5 1.2.5-1.4.5 1.8.5-1.4.5.8.5-1.1.5 2.8.5-1.8.5.6.5-2.4.5 3.6.5-1.8.5.2.5-.7.5 1.1.5-1.8.5 2.1.5-1.3.5.3.5-.1.5.5.5-.7.5 1.2.5-1.6.5 2.3.5-1.8.5 1 .5-1.5.5 1 .5-1.3.5 2.4.5-2.3.5 1.7.5-.5.5.3.5-1.6.5 1.9.5-.6.5 1.6.5-1.9.5 0 .5-.4.5.6.5-.5.5 1.2.5-1.1.5 1.7.5-2.4.5 2.5.5-1.8.5.9.5-.9.5 1.4.5-1.9.5 1.3.5-.3.5 1.8.5-2.5.5.7.5-.5.5 1.2.5-1.3.5.9.5-.9.5.9.5-.6.5 1 .5-1.9.5 1.7.5-.6.5 1.1.5-1.6.5 1.7.5-1.4.5.7.5-.7.5.2.5-1.6.5 2.7.5-1.6.5 2.4.5-3.3.5 1.7.5-.7.5.9.5-1.1.5 1.3.5-1.2.5 1.8.5-1.8.5.8.5-.5.5.7.5-1.7.5 1.6.5-.9.5 1.3.5-1.2.5 1.3.5-1.2.5.8.5-1 .5 1.1.5-1.1.5.3.5-.2.5.9.5-1 .5.8.5-.7.5.5.5-.1.5 1 .5-1.2.5 0 .5-1.7.5 1.6.5-.2.5.9.5-.5.5.8.5-1.2.5.7.5-.2.5 1.2.5-1.6.5.7.5-1.5.5 1.7.5-1.1.5 1.1.5-1.7.5 1.1.5-.4.5 1.2.5-2.2.5 1.5.5-.2.5.2.5-1.8.5 2.3.5-1.1.5.5.5-.4.5 2.3.5-2 .5.4.5-1.4.5 1.2.5-.2.5.8.5-1.7.5.7.5-.2.5.8.5-1.4.5 2 .5-3 .5 2.6.5-1.2.5 1.3.5-1.2.5.6.5-.8.5.8.5-.4.5.8.5-.7.5 0 .5-1 .5 2.5.5-1.5.5 0 .5-.7.5 1.3.5-.3.5.7.5-1.4.5.9.5-.8.5 2.2.5-2.4.5 1.7.5-2.1.5 1.1.5-1.4.5 1.9.5-.6.5.3.5-.7.5 1 .5-.2.5 1.7.5-2.7.5.5.5-.2.5 1.3.5-.7.5.2.5-.6.5.9.5-.8.5.4.5-.1.5 1.2.5-1.9.5.7.5-.1.5 1.2.5-1.3.5.1.5-1.5.5 1.7.5 0 .5.3.5-1 .5.7.5-.2.5.8.5-2.1.5 1.3.5-.8.5 1.7.5-1.9.5 2 .5-2 .5 1 .5.1.5.4.5-.8.5.3.5-1.1.5 2.2.5-1.1.5 2.4.5-2.5.5-.1.5-.9.5 1.1.5-.6.5 1.7.5-2.1.5.7.5-.2.5 1.5.5-1.3.5 1.5.5-1.3.5.6.5-1.3.5 1.1.5-.3.5.6.5-1 .5 1.5.5-2 .5 1.3.5-.3.5.7.5-1.4.5.4.5 0 .5.9.5-1.6.5.7.5-.2.5 1.3.5-1.5.5.1.5-.6.5 1.4.5-.7.5.7.5-1.1.5 1.1.5-.7.5 1 .5-.7.5.4.5-.2.5.1.5-1.4.5 2.1.5-2.1.5 1.3.5-.9.5 1.6.5-1 .5.1.5-.6.5 1.1.5-.3.5 1.1.5-1.1.5.2.5-.7.5.7.5-.8.5.9.5-.2.5.9.5-1.9.5 1.2.5-.5.5.8.5-1.3.5.6.5-.5.5 1.2.5-.6.5.6.5-1.5.5.8.5-.5.5.7.5-.5.5 1.3.5-2.2.5 1.3.5-.1.5.4.5-1 .5.9.5-.6.5 1.3.5-1 .5.1.5-.3.5 1.5.5-1.5.5.9.5-.8.5 1 .5-1.1.5 1.2.5-2 .5 1.4.5-.8.5 1.2.5-1 .5.6.5-2.1.5 2.8.5-3.5.5 3.2.5-1.4.5.4.5.1.5 2.2.5-2.9.5 2.3.5-1.6.5.4.5-.6.5.4.5-.3.5.8.5-1 .5 0 .5-.4.5 1.9.5-1.1.5.8.5-1.3.5 1.1.5-1.2.5.9.5-.6.5.6.5-.4.5.2.5-.8.5 1 .5-.9.5 1.7.5-2 .5.7.5-.1.5.7.5-1.4.5 2.1.5-2.1.5 1.1.5 0 .5.4.5-.9.5.6.5-.5.5 1 .5-1.8.5 1.3.5-.7.5.9.5-1.7.5 2.1.5-1.3.5.7.5-.8.5 1.8.5-1.6.5 1.4.5-1.1.5.3.5-1.6.5 3.2.5-2.3.5.7.5-1.3.5 1.7.5-1.2.5 3.2.5-3.3.5 2.3.5-1.9.5.5.5-.4.5.9.5-1.2.5 1.5.5-1.8.5 1.6.5-1.5.5 1.1.5-.8.5.8.5-.9.5 1.2.5-1 .5.6.5-1.1.5 1.1.5-.7.5.7.5-.8.5.9.5-.8.5.7.5-.8.5.8.5-1.2.5 1.1.5-1 .5 1.6.5-.9.5.7.5-1.9.5 2.2.5-.8.5.4.5-1 .5.3.5 0 .5.8.5-.7.5.2.5-.8.5 1.2.5-.7.5 0 .5-1 .5 2 .5-.5.5.1.5-1.1.5.5.5.1.5 1 .5-1.3.5.1.5-.9.5 2.5.5-1.8.5.8.5-.5.5 1 .5-.4.5-.6.5-.9.5 1 .5.5.5.5.5-1.2.5.2.5-1 .5 2.3.5-1.1.5.8.5-2.2.5.9.5-.1.5 1.2.5-.4.5 0 .5-2.9.5 3.2.5-.9.5.8.5-1.5.5 1.4.5-1.8.5 1.8.5-.5.5.7.5-1 .5.8.5-1.5.5 1.2.5-.2.5 1.1.5-1.7.5 2.2.5-1.8.5.4.5-.5.5.7.5-1.6.5 2.3.5-2.1.5 1.7.5-.4.5.9.5-1.5.5.6.5-.1.5.5.5-1.1.5.6.5-.2.5.6.5-.6.5 0 .5-.6.5 1.4.5-.5.5.6.5-1.9.5 1.1.5-.6.5 1 .5-.7.5.7.5-.9.5.7.5-.1.5.6.5-1.8.5 1.1.5-.4.5 1.2.5-.9.5.6.5-1.4.5 1.4.5-1.5.5 1.4.5-.7.5.2.5-.6.5 1.9.5-1.2.5-.1.5-.2.5 1 .5-2.5.5 1.8.5-2.1.5 3.3.5-1.5.5.6.5-.4.5 1.1.5-2.1.5 2.1.5-2.3.5 1.5.5-.2.5.4.5-.7.5.9.5-1.8.5 2.1.5-1.7.5 1.6.5-1.7.5 1.5.5-.9.5 2 .5-1.7.5-.4.5-.2.5 1 .5-.3.5 1.5.5-2.6.5 2.5.5-2.3.5 1.9.5-1.1.5-.1.5-.6.5 1.8.5-1.9.5 1.5.5-1.3.5 2.1.5-1.9.5 1.8.5-2.1.5.8.5-1 .5 1.6.5-.5.5.3.5-1.4.5 1.7.5-1.6.5 1.4.5-1 .5.6.5-.9.5 1.4.5-.7.5 1 .5-2.2.5 1.2.5-.4.5 2 .5-2.3.5 1.1.5-1.1.5 1.2.5-.7.5.6.5-.7.5.5.5-.6.5 1 .5-.6.5 2.1.5-2.4.5 1.9.5-2 .5 1.2.5-.9.5 1.1.5-1.4.5.6.5-.5.5 1 .5-.5.5.7.5-2 .5 1.7.5-1.4.5 2 .5-2.5.5 1.9.5-1.4.5.8.5-1.6.5 2.2.5-1.2.5 1 .5-2.1.5 2.1.5-1.4.5 1.8.5-1.3.5.7.5-1 .5 1.6.5-.6.5 0 .5-.8.5.6.5-.6.5 1.9.5-1 .5-.4.5-.9.5 1.4.5-.5.5 1 .5-2.4.5 1.6.5-1.2.5 1.7.5-1.4.5.9.5-.1.5.5.5-1 .5.8.5-1.3.5 1.3.5-.4.5 2 .5-2.1.5 1.4.5-2 .5 1.8.5-1.1.5.1.5-.9.5 1.3.5-.7.5 1.5.5-1.6.5.3.5-.3.5 1.2.5-1.2.5.9.5-.9.5.7.5-.6.5 1.4.5-1.4.5 1.1.5-1.2.5.8.5-.6.5 1.3.5-2.1.5.9.5-.2.5 1.1.5-.5.5.2.5-2.1.5 2.4.5-.8.5.6.5-1.4.5.5.5-.2.5.8.5-1.1.5 1.8.5-1.7.5.6.5-.5.5 1.8.5-1.2.5.6.5-1.6.5 1.8.5-1.3.5 1.5.5-.9.5-.3.5-.3.5.8.5-1 .5.7.5-1.4.5 1.8.5-.7.5.8.5-.8.5 1.2.5-.8.5 1.5.5-2.4.5.8.5-1.6.5 2.7.5-1.4.5.9.5-1.4.5.8.5-.4.5 1.1.5-1.5.5 1.1.5-1.2.5 1.4.5-.6.5.8.5-1.9.5 1.3.5-1.1.5 2.2.5-1.5.5.6.5-2 .5 2.3.5-.8.5 1.5.5-1.2.5-.1.5-.4.5.5.5-.3.5.6.5-.8.5 1.3.5-1.1.5.5.5-.8.5.8.5-1.3.5 1.2.5-.9.5 1.4.5-1.2.5 2.1.5-2.5.5.9.5-2.3.5 2.5.5-.5.5.5.5-1.3.5 1.3.5-.5.5.9.5-1.4.5.9.5-.7.5 1 .5-.5.5.7.5-.7.5.5.5-1.4.5 1.2.5 0 .5.4.5-1.1.5.7.5-.5.5.9.5-1.5.5 1.5.5-.8.5 1 .5-1.3.5 1.9.5-2.2.5 2 .5-1.5.5 1 .5-.7.5-.1.5-1.4.5 2.7.5-2.6.5 2.2.5-2.1.5 1.4.5-.5.5 2.5.5-1.9.5-.1.5-1.2.5 1.1.5-.4.5.9.5-.9.5.1.5-.4.5 1.6.5-1.3.5.6.5-1.5.5 1.5.5-1.2.5 1.2.5-.9.5 1.1.5-.6.5.5.5-.9.5 1.2.5-.9.5 2.3.5-2.3.5.6.5-.4.5.9.5-1 .5.1.5 0 .5 1.5.5-1.6.5.7.5-.7.5.9.5-1.2.5.9.5-.9.5 1.6.5-1.1.5.1.5-1.7.5 1.7.5-.8.5 1.1.5-.5.5.2.5-.7.5 1 .5-.5.5.4.5-.2.5.3.5-1.6.5 2.4.5-1.4.5.8.5-.5.5.1.5-.5.5.4.5-1.1.5 1 .5-.2.5.6.5-.5.5.5.5-1.2.5 1.6.5-.7.5.8.5-3.2.5 3.8.5-1.9.5.7.5-.6.5 1 .5-.8.5.1.5-.6.5.8.5-1.9.5 2.3.5-.8.5.3.5-.8.5 1.4.5-.7.5.5.5-.9.5 1.2.5-1.3.5 1.6.5-2.1.5 1.1.5-.4.5 1 .5-.7.5 0 .5-1.7.5 1.9.5-.2.5.3.5-1 .5.3.5 0 .5 1.3.5-1.1.5-.1.5-.6.5 1.2.5-.7.5 1.1.5-1.9.5 1.8.5-1.2.5 1.3.5-.9.5 1.2.5-2.6.5 1.8.5-1.2.5 1.1.5-.6.5.7.5-.4.5.6.5-.8.5.6.5-.2.5.3.5-.6.5.6.5-1 .5.7.5-.3.5 1 .5-1 .5 1.2.5-1.6.5.9.5-1.1.5 1.2.5-.9.5.5.5-.6.5 1.1.5-.7.5 2.4.5-2.6.5.8.5-1.2.5 2.8.5-1.9.5-.1.5-.4.5.7.5-.2.5.7.5-1.4.5 1.4.5-.8.5 1.1.5-2.1.5 1.4.5-1.7.5 1.8.5.1.5.5.5-1.9.5 1.4.5-1.1.5 1.8.5-1.1.5.4.5-1.1.5.9.5-1.9.5 2 .5-1.2.5 1 .5-1.6.5 2.7.5-1.5.5 1.5.5-2.3.5 1.2.5-1.2.5 1 .5-.5.5 1.2.5-.5.5.9.5-2.1.5 2.9.5-2.2.5 1.7.5-1.4.5.4.5-2.8.5 2.5" stroke="#f00"/>
<path d="M111.5,324.81l.5-1 .5.8.5-.8.5.7.5-.7.5 1.6.5-1.3.5 1.6.5-2.6.5 1.4.5-.6.5 1.9.5-2 .5 1.9.5-2.1.5 2 .5-1.2.5 1.1.5-2.9.5 2.4.5-1 .5.7.5-2.1.5 1.9.5-.5.5.9.5-.9.5.8.5-1 .5.5.5-.7.5 1.8.5-1.3.5.6.5-.9.5 1.2.5-.4.5.4.5-1.1.5.8.5-.5.5 1.1.5-1.5.5 1.9.5-2.2.5 1.3.5-.2.5.1.5-.8.5.5.5 0 .5 1.1.5-1.7.5.9.5-.9.5 1 .5-1.1.5 1.8.5-1.3.5.6.5-.5.5.1.5-.9.5 1 .5-.1.5.5.5-.4.5 0 .5-.7.5 1.2.5-1.1.5 1.3.5-1.2.5.7.5-.3.5.6.5-1.6.5 1.7.5-2.1.5 2.1.5-.7.5.4.5-1.2.5 1.1.5-1.1.5.9.5-.3.5 1 .5-.9.5 1.1.5-1.2.5.5.5-.5.5.3.5-.4.5.6.5-.8.5 1.7.5-1.4.5.2.5-.5.5 1.5.5-.8.5.5.5-1.2.5 1.3.5-1 .5 1 .5-1.2.5.7.5-.6.5.5.5-.6.5 1.1.5-.9.5.2.5-1.1.5 1.4.5-1.2.5 1.2.5-1.1.5 1.7.5-1.4.5.7.5-.4.5.7.5-1 .5.6.5-.6.5 1.3.5-1.3.5 1.3.5-.8.5-.1.5-.5.5 1 .5-.9.5 1.2.5-1 .5 1.1.5-1 .5.7.5-1 .5.8.5-1.7.5 1.6.5-2 .5 2.4.5-.9.5.6.5-1.8.5 1.7.5-.4.5 1.1.5-1.3.5.5.5-.4.5 1.3.5-1.4.5.7.5-.7.5.2.5-.5.5 1.1.5-.9.5 1.8.5-1.7.5.9.5-.6.5 1.2.5-1.5.5.4.5-.8.5 1.1.5-.7.5.5.5-.3.5.8.5-1.9.5 1.2.5-.6.5 1.2.5-.7.5.4.5-.6.5.8.5-.5.5 1.1.5-1.1.5.3.5-1.1.5 1.5.5-1.3.5.9.5-.5.5.9.5-.7.5.3.5-1.6.5 2.3.5-1.5.5 1.2.5-.6.5.7.5-1.7.5 1.8.5-1.1.5.7.5-.3.5 0 .5-1 .5 2.2.5-2.2.5 2.2.5-1.3.5-.1.5-.5.5.9.5-.2.5 1.2.5-2.3.5 1.1.5-.6.5.8.5-.4.5.3.5-.3.5.3.5-1.2.5 1.5.5-.5.5.4.5-.6.5.3.5-.6.5.5.5-.3.5.6.5-.2.5.2.5-.7.5.5.5-.5.5 1.5.5-1.4.5.6.5-1 .5.7.5-.1.5.7.5-.5.5.1.5-.6.5.9.5-1.3.5 1.5.5-1.4.5.8.5-.3.5.7.5-.6.5.5.5-.9.5 1.7.5-2.1.5 1.7.5-1.3.5 1.2.5-1.1.5.8.5-.7.5.2.5-.6.5 1.1.5-.1.5-.2.5-.7.5.7.5-.3.5 1.2.5-1 .5-.2.5-1.3.5 1.9.5-.2.5.9.5-1.4.5.2.5-.1.5 1 .5-.9.5.8.5-1.4.5 1.9.5-1.7.5.7.5-.6.5.5.5-.3.5.7.5-1.3.5.7.5-.1.5.4.5-.2.5.5.5-1.2.5.6.5-1.5.5 2.1.5-.5.5.6.5-1.5.5.7.5-.3.5.9.5-.5.5 1 .5-1.5.5.4.5-.1.5.7.5-.3.5.3.5-.6.5.7.5-.9.5.6.5-1.2.5 1.4.5-1.4.5 1.6.5-1.3.5 1.1.5-.5.5.7.5-1.4.5.8.5-1.3.5 1.8.5-.7.5.7.5-1.2.5 1.4.5-1.3.5.9.5-.7.5.5.5-.3.5.3.5-1.1.5 1.3.5-.8.5.9.5-.3.5.7.5-1.5.5 1.6.5-1.6.5.9.5-.4.5.8.5-1.1.5.9.5-.9.5.3.5 0 .5 1.3.5-1.5.5.4.5-.3.5.3.5-.2.5.3.5-.1.5.4.5-1.5.5 1.1.5-.1.5.8.5-1.2.5.7.5-.3.5.9.5-2 .5.9.5-.2.5 1.2.5-1.2.5.5.5-.5.5 1 .5-.7.5.5.5-.6.5.8.5-1.8.5 1.7.5-.7.5 1.4.5-1.3.5 1.1.5-1.7.5 1.5.5-.6.5.5.5-.8.5 0 .5-.4.5.9.5-.7.5 1.5.5-1.6.5.5.5-.1.5.5.5-1 .5 1.8.5-1.6.5.6.5-.7.5 1 .5-.6.5 1.7.5-2 .5.4.5-.8.5 1.1.5-.1.5.2.5-.8.5.7.5-.4.5 1 .5-.8.5.3.5-.9.5.4.5-.3.5 1 .5-.7.5-.1.5-.6.5 1.2.5-.7.5 1 .5-1 .5.7.5-.8.5.6.5-.2.5.1.5-.3.5.5.5-.6.5.6.5-.7.5.6.5-.4.5 1.3.5-1.2.5.6.5-1.7.5 1.3.5-.6.5 1.8.5-1.4.5.5.5-.7.5.4.5-.3.5 1 .5-1.1.5.2.5.1.5.5.5-1 .5.6.5-.6.5 1.3.5-1.3.5 1.1.5-1.4.5 1.5.5-1.2.5 1.3.5-.7.5.5.5-1.8.5 2.2.5-1.1.5.7.5-.9.5 1.9.5-2.5.5 1.7.5-.7.5.4.5-1.3.5.7.5-1 .5 1.5.5-.5.5-.1.5-.4.5 1.7.5-1 .5.4.5-2 .5 1.2.5.3.5 1 .5-1.7.5.6.5-.6.5 1.3.5-.5.5.2.5-1.4.5 1 .5-.1.5 2 .5-2.5.5 1.6.5-1.4.5.6.5 0 .5.2.5-.9.5 1.2.5-1.4.5 1.5.5-.8.5 1.6.5-1.7.5.1.5-.4.5 1.2.5-.4.5.4.5-1.3.5.3.5.2.5 1.6.5-2.2.5.8.5-1 .5 1.7.5-.7.5.6.5-1.7.5 1.1.5-.2.5.4.5-.7.5.4.5-1.3.5 1.7.5-.3.5 0 .5-.7.5.6.5-.9.5 1.1.5-.3.5 1 .5-2 .5 2.3.5-2.4.5 2 .5-.9.5.6.5-1.2.5.6.5 0 .5.5.5-.6.5 1.2.5-1.5.5.6.5-.2.5.3.5-.4.5.3.5-.8.5 1.4.5-1.2.5 1.1.5-1.1.5.5.5-.4.5.9.5-1.2.5.9.5-1.1.5 2 .5-1.3.5.9.5-.7.5.1.5-.5.5.5.5-.3.5 1.5.5-1.4.5.2.5-1 .5 1.8.5-1.7.5 1.3.5-.8.5 1.3.5-1.5.5 1.3.5-1 .5.8.5-1 .5 1.3.5-1 .5 1 .5-1.8.5.6.5.1.5 1.3.5-.8.5-.1.5-.7.5.5.5-.7.5 1.1.5-.5.5.1.5-1.2.5 1.2.5.2.5.5.5-.9.5.4.5-.5.5 1 .5-.5.5-.1.5-1.1.5.9.5 0 .5.6.5-1.4.5.6.5-.9.5 1.6.5-.3.5 0 .5-1 .5.7.5.2.5.7.5-.7.5.2.5-.5.5.4.5 0 .5.1.5-.6.5 1.1.5-1 .5.6.5-.2.5-.2.5-.6.5 1.1.5-.9.5 1 .5-1.1.5.5.5-.1.5.4.5-.6.5.6.5-.9.5 1.3.5-1.1.5 1.6.5-1.3.5.5.5-.9.5 1.3.5-2 .5 2.1.5-1.8.5 1.3.5-1.5.5 1.7.5-2.1.5 1.7.5.1.5.3.5-1.1.5.3.5-.2.5 2.1.5-1.5.5-.2.5-.5.5.8.5-.1.5.8.5-1.1.5.1.5-.9.5 1.4.5-1.4.5 1 .5-.3.5.4.5-.4.5 1.2.5-1.4.5.8.5-.4.5 1.7.5-1.4.5.9.5-1.7.5.7.5-1 .5 1.6.5-.5.5.8.5-1.8.5.7.5-1.4.5 1.6.5.1.5.4.5-1 .5.3.5-.3.5.8.5-.4.5.2.5-.9.5.8.5-.3.5 1.1.5-1.9.5 1.8.5-.8.5.2.5-.4.5.3.5-1.7.5 1.9.5-.8.5.8.5-.9.5.5.5-.5.5 1.2.5-.3.5.5.5-1 .5 0 .5-.7.5 1 .5-.7.5 1.3.5-1.9.5 1.3.5-.3.5 1.1.5-1 .5 1 .5-1.3.5.6.5-.3.5.6.5-.8.5 1.1.5-1.6.5 1 .5-.4.5.3.5-.6.5.7.5-.4.5.6.5-1 .5.7.5-.8.5.8.5 0 .5.2.5-.7.5.3.5-.2.5.9.5-.6.5 0 .5-.1.5.3.5-1 .5 2.5.5-1.6.5.1.5-.7.5.3.5.3.5.4.5-1.2.5 1.3.5-1.1.5 1 .5-.2.5.1.5-1 .5.8.5-.4.5.6.5-1.7.5 1.5.5-.4.5.8.5-.8.5.7.5-1.1.5 1 .5-1.6.5 2.8.5-1.8.5.7.5-1 .5.4.5 0 .5.4.5-.3.5-.1.5-1.1.5 1.5.5-.7.5.7.5-1.6.5 1.4.5-.5.5 1 .5-1.2.5.5.5.2.5.7.5-1.7.5 1.1.5-1.1.5 1.1.5-.3.5.8.5-.6.5.7.5-1.1.5.3.5-.4.5 1.1.5-.5.5.5.5-2 .5 1.2.5 0 .5.7.5-1 .5.2.5-.7.5.9.5-.2.5.6.5-.8.5.5.5-.4.5.4.5-.3.5 1.3.5-1.6.5.7.5-.4.5 1.2.5-1.2.5.2.5-.3.5.7.5-.4.5 1 .5-1.8.5.7.5-.6.5 1.8.5-2 .5 1.3.5-1.1.5.4.5 0 .5 1 .5-.6.5 0 .5-1 .5 2 .5-1 .5 1 .5-1.5.5.7.5-1.1.5 1.5.5-.8.5.6.5-.7.5 1.1.5-1.3.5 1.1.5-1.4.5 1 .5-.8.5.7.5-1.4.5 1.2.5-.1.5.5.5-1 .5 1 .5-.6.5 1.1.5-1.9.5 1.8.5-1.5.5 1.3.5-.1.5-.2.5-1.3.5.8.5.1.5 1.3.5-1.1.5.2.5-1.2.5 1.9.5-1.4.5.9.5-.5.5.3.5-1.1.5 1 .5-.9.5 1 .5-.9.5 1.2.5-2.2.5 3.2.5-1.8.5.3.5-.4.5 1 .5-.7.5.3.5-.5.5 1 .5-.9.5 1.1.5-2.1.5 2.2.5-1.2.5.4.5-.7.5.3.5 0 .5.7.5-.7.5 1.1.5-1.5.5.9.5-.8.5.5.5-1.1.5 1.7.5-.6.5.3.5-.7.5.1.5-.2.5.9.5-.7.5.4.5-1 .5 1.5.5-1.1.5 1.8.5-1.8.5 1.3.5-1.3.5.6.5-1.5.5 1.6.5-.6.5.6.5-.7.5 1 .5-.9.5.7.5-.4.5 0 .5-.8.5 1.6.5-.6.5-.1.5-.6.5 1.7.5-1.2.5.7.5-1.2.5.9.5-.6.5.4.5-1.2.5 1.6.5-1.3.5 2 .5-2.2.5 1.1.5-.5.5.4.5-.2.5.3.5-1.1.5 1.3.5-1.1.5.9.5-.6.5.7.5-1.1.5 1.9.5-1.9.5 1.2.5-.1.5.7.5-1.2.5.1.5-1 .5 2.2.5-1.3.5.3.5-.7.5 1.1.5-1.2.5 1.7.5-1 .5-.2.5-1.2.5 1.5.5 0 .5 1.6.5-1.8.5 1 .5-1.6.5 1.2.5-.7.5 2.2.5-2 .5.9.5-2 .5 1.4.5-1 .5 1.7.5-1.9.5 1.7.5-1.3.5.5.5-.1.5.9.5-1 .5.7.5-1.4.5 1.3.5-.9.5 1.3.5-.6.5.2.5-1.9.5 1.4.5-.4.5.8.5-.4.5 1.1.5-1.3.5.8.5-1.1.5.5.5.3.5.1.5-.5.5.3.5-1 .5 1.3.5-.9.5.9.5-.5.5.3.5-.4.5.5.5-.1.5.6.5-1.1.5.3.5-1.6.5 2.3.5-.5.5.5.5-.9.5-.1.5-.4.5.8.5.2.5 0 .5-.4.5.6.5-1.1.5 1.4.5-.6.5.6.5-1.2.5.7.5-1.2.5 1.9.5-1.2.5.8.5-.9.5 0 .5.1.5.7.5-.2.5-.3.5-1 .5 1.7.5-1 .5 1.3.5-1.5.5 1.3.5-1.1.5.8.5-1.2.5 1.1.5-1.1.5.8.5-.4.5.9.5-.3.5 0 .5-.9.5.9.5-1.2.5 2 .5-1 .5.2.5-.8.5 1.4.5-.8.5 1.1.5-1.9.5.9.5 0 .5.5.5-1.1.5.5.5-.6.5.9.5-.8.5 1.7.5-1.9.5.8.5-.5.5.3.5.2.5.2.5-.7.5.6.5-.4.5 1.3.5-3 .5 1.5.5-.2.5 1.3.5-1 .5 0 .5-1 .5 2 .5-1.2.5.1.5-.2.5 2.2.5-3.3.5 2 .5-1.5.5 2.5.5-2.1.5 2.2.5-1.5.5.2.5-.7.5 1 .5-.6.5 1.3.5-1.8.5.9.5 0 .5.3.5-1.6.5 1 .5-.7.5 1.4.5-.8.5.1.5-2 .5 2.4.5.2.5.8.5-2.5.5.7.5 0 .5 1.4.5-.9.5-.3.5-.4.5 1.2.5-.8.5.4.5-1.2.5 1.4.5-.5.5.6.5-.9.5.8.5-1.1.5 1.2.5-.7.5 1.1.5-.9.5-.1.5-.7.5.8.5-.1.5.8.5-.8.5.9.5-1 .5 1.1.5-1.2.5.2.5-1.6.5 2.1.5-.6.5.7.5-1.4.5.9.5-.9.5 1.8.5-1.1.5.9.5-1.5.5.8.5-.8.5 1.6.5-1.3.5.9.5-.8.5.2.5-.7.5 1.9.5-1.7.5.9.5-.6.5 1 .5-.5.5 1 .5-1.9.5 1.6.5-1.5.5 1.5.5-.8.5.2.5-.7.5.7.5-.6.5.7.5-.6.5.6.5-1.1.5.9.5-1.3.5 1.7.5-1.2.5.5.5-.7.5 1.3.5-.3.5.1.5-1.7.5 1.9.5.1.5.8.5-2.4.5 1.2.5-.4.5 1.4.5-1.5.5 1.2.5-1.6.5.4.5-.2.5 1.8.5-1.2.5.1.5-1.3.5 2.1.5-1.7.5 1.5.5-1.4.5 1.2.5-.6.5 1.5.5-1.9.5.3.5-.2.5 1.2.5-2 .5 2.2.5-2.2.5 1.2.5-.3.5.7.5-1.1.5.9.5-1.1.5 1.8.5-1 .5.4.5-.6.5.5.5-.4.5.9.5-.5.5.2.5-1.1.5 1.1.5-.4.5.2.5-.2.5.9.5-1.6.5 1 .5-.9.5.8.5-1.2.5 1.8.5-1.8.5 1.5.5-.4.5.1.5-1.4.5 1.2.5.1.5.1.5-.1.5 0 .5-.6.5 1.2.5-.8.5 1 .5-1.2.5.8.5-.8.5.9.5-.6.5.3.5-.8.5.7.5-.4.5.3.5-.7.5 1.1.5-1 .5.9.5-.9.5.8.5-1.4.5 1.4.5-.6.5.4.5-1 .5.9.5-.3.5.9.5-1.4.5 1.3.5-.4.5.9.5-2.1.5.9.5-.1.5.6.5-.6.5.5.5-.7.5 2.1.5-2 .5.9.5-.7.5.2.5-.3.5.3" stroke="#00f"/>
<path d="M111.5,336.58l.5-.8.5 1.3.5-.6.5.6.5-1.7.5 1.3.5-1.4.5 2.1.5-1.7.5 1 .5-.2.5 2.1.5-2 .5.5.5-1 .5 2.6.5-3.2.5 1.6.5-.7.5.7.5-1.3.5 1 .5 0 .5.4.5-1.5.5.9.5-.4.5 1.3.5-1 .5.1.5-.8.5 1.3.5-.6.5 1 .5-1.1.5 1.1.5-1.1.5.3.5-.6.5.8.5-.5.5.1.5-.1.5.4.5-.1.5.6.5-1.4.5 1.6.5-1.1.5.6.5-1 .5 1.3.5-1 .5 1.3.5-1.6.5.9.5-.4.5.1.5-.6.5 1 .5-.5.5.7.5-1 .5.7.5-.1.5-.2.5-.6.5.8.5-.4.5.6.5-1.3.5 1.3.5-1 .5.4.5-.2.5.9.5-.8.5.4.5-.5.5.6.5-.1.5.6.5-1.3.5.7.5-.8.5.8.5-.5.5.8.5-.6.5.6.5-1.3.5 1.7.5-1.5.5 1.3.5-1.4.5.5.5-.6.5 1.4.5-.8.5 1.4.5-1.3.5.6.5-.9.5 1.3.5-1.7.5 2.2.5-2.4.5 2.1.5-.9.5.3.5-1.2.5 1.1.5-2 .5 2.6.5-1 .5 1.3.5-2 .5 2.1.5-1.7.5 1.4.5-1.5.5.9.5-2.2.5 3 .5-2.4.5 1.8.5-.9.5.9.5-.6.5.4.5-1.1.5.6.5.1.5.6.5-1.8.5 2.3.5-1.2.5.2.5-.5.5.6.5-.1.5.3.5-.6.5.8.5-1.2.5 1 .5-.8.5.8.5-.6.5.2.5-.7.5 1 .5-.3.5.1.5-1 .5 1.3.5-.5.5.7.5-1.4.5.7.5.2.5.5.5-.9.5.9.5-.6.5.6.5-.6.5.4.5-1 .5 1.3.5-1.1.5.3.5-1.5.5 1.7.5.1.5 0 .5-.5.5.9.5-1.2.5 1.3.5-1.3.5.7.5.2.5.6.5-1.4.5.2.5.2.5.9.5-.9.5.6.5-.8.5.7.5-1.1.5 1.9.5-1.2.5.5.5-1.3.5.9.5-.2.5.6.5-1.7.5 1.4.5-.5.5.7.5-.8.5 1.1.5-1.3.5 1.4.5-.9.5.6.5-.8.5 1.1.5-1.7.5 2.1.5-1.1.5.3.5-2.3.5 2.4.5-1 .5 1.2.5-2 .5 1.7.5-.7.5 1.5.5-1.5.5.6.5-1.7.5 1.8.5-.1.5-.1.5-1.8.5 2.8.5-1.9.5.8.5-.8.5 1.6.5-1.8.5 1.9.5-1.3.5 1.1.5-1.3.5 1.3.5-.7.5-.1.5-.9.5 1.2.5-1 .5 1.5.5-1.1.5.7.5-1.2.5.6.5 0 .5 1.2.5-1 .5.2.5-1.1.5 2 .5-1.8.5 1.3.5-1.3.5.9.5-.5.5.4.5-.5.5.8.5-1.1.5 1.3.5-1 .5.9.5-.9.5.4.5-.3.5.9.5-.7.5 0 .5-.3.5 1 .5-.6.5.6.5-.9.5-.1.5-.2.5 1.2.5-.5.5.2.5-.9.5.6.5.1.5.9.5-1.3.5-.1.5-.2.5 1.9.5-1.2.5 0 .5-.9.5.9.5.2.5.4.5-1.1.5 1.1.5-1.2.5 1.2.5-1.4.5 1.2.5-.6.5-.1.5-.7.5 1.6.5-.8.5.8.5-.9.5.6.5-1 .5.7.5-.1.5 1.1.5-1.2.5-.3.5-1.4.5 2.4.5-1.1.5 1.9.5-2.6.5 1.6.5-1.5.5 2.7.5-2.9.5 1.9.5-.8.5 1.7.5-2.3.5.7.5-.3.5.8.5-.8.5.8.5-1.1.5.6.5-.3.5.9.5-.5.5.6.5-1 .5.8.5-.6.5.3.5-.5.5.3.5 0 .5.7.5-1.4.5 1.5.5-1.5.5 2.3.5-1.9.5 2.2.5-2.8.5 1 .5 0 .5.9.5-1.6.5 1.2.5-1.4.5 1.2.5-.6.5.9.5-.6.5-.1.5-.2.5 1.1.5-.6.5.2.5-.7.5.4.5-.4.5.8.5-.7.5.9.5-.8.5.4.5-1.3.5 1.5.5-.7.5.1.5-.7.5 1.8.5-.9.5.1.5-1.4.5 1.6.5-.2.5.5.5-1.3.5 1.2.5-1 .5 1.1.5-1.9.5 2 .5-.7.5-.2.5-.4.5.9.5-.5.5 0 .5-.2.5.6.5-.1.5.5.5-1.3.5.9.5-.2.5 0 .5-.4.5.5.5 0 .5-.1.5-.6.5.9.5-.1.5-.2.5-.8.5 1.2.5-.2.5 0 .5-.7.5 1 .5-1 .5.8.5-1 .5 1.5.5-1.6.5.6.5-.1.5.8.5-.5.5-.2.5-.6.5 1.6.5-1.5.5.7.5-.9.5 2 .5-1.6.5 1.2.5-1.1.5 1.1.5-1.3.5.9.5-1.4.5 1.4.5.1.5 0 .5-1.3.5.6.5-.4.5 1 .5-1.2.5 1.3.5-1.7.5 1.5.5-.4.5.8.5-1.9.5 1.8.5-1.2.5 1.5.5-1.3.5 1 .5-1.2.5 2 .5-2.1.5 1.4.5-1.6.5 1.4.5-2.3.5 2.2.5-.7.5 1.1.5-.8.5 0 .5-1.1.5 1.9.5-1.5.5 1.4.5-1.2.5.8.5-.5.5 1 .5-1.2.5.9.5-.4.5 1.4.5-2.2.5.5.5.1.5 1.5.5-2.6.5 2 .5-1.7.5 1.9.5-1.9.5 1.1.5-.5.5 1 .5-1 .5 1 .5-2.2.5 2.3.5-1.2.5 1.1.5-1.1.5 1.2.5-.9.5.4.5-.8.5 1.4.5-1.9.5 1.4.5-.6.5.6.5-1.3.5.9.5-1.3.5 1.5.5-.5.5.3.5-.6.5.7.5-.2.5.5.5-.6.5.8.5-.8.5.8.5-1 .5.2.5-.7.5 1.9.5-1.3.5.6.5-1.2.5 1.2.5-.5.5.8.5-1.2.5 1 .5-.8.5 1.2.5-1.4.5.9.5-1.2.5 1.8.5-2.5.5 2.6.5-1 .5 1.1.5-1.4.5 1 .5-1 .5.3.5-.6.5 1 .5-.1.5.2.5-1.4.5 1.6.5-1 .5.8.5-1 .5 1.5.5-1.4.5 1 .5-.7.5.2.5-.8.5 1.5.5-1.3.5.7.5-1.6.5 1.6.5-.6.5.6.5-.7.5.6.5-.7.5 1.1.5-.8.5.4.5-.7.5 2.4.5-2.3.5 1.5.5-2.7.5 2.3.5-.9.5.8.5-.9.5.2.5 0 .5 1.2.5-.7.5.1.5-1.7.5 1.3.5-.6.5 1.2.5-.7.5.6.5-.8.5.3.5-.6.5 1.4.5-1.1.5.2.5-.5.5.7.5.1.5 1 .5-2 .5.6.5-1.2.5 1.6.5-.9.5 1.4.5-.6" stroke="#f00"/></g>
<rect x="111.5" y="35.5" width="706.0" height="591.0" fill="none" stroke="#000" stroke-width="1.1"/>
<path d="M111.5,45.5h-5M111.5,57.5h-5M111.5,69.5h-5M111.5,81.5h-5M111.5,93.5h-5M111.5,105.5h-5M111.5,118.5h-5M111.5,130.5h-5M111.5,142.5h-5M111.5,154.5h-5M111.5,166.5h-5M111.5,178.5h-5M111.5,191.5h-5M111.5,203.5h-5M111.5,215.5h-5M111.5,227.5h-5M111.5,239.5h-5M111.5,251.5h-5M111.5,264.5h-5M111.5,276.5h-5M111.5,288.5h-5M111.5,300.5h-5M111.5,312.5h-5M111.5,324.5h-5M111.5,337.5h-5M111.5,349.5h-5M111.5,361.5h-5M111.5,373.5h-5M111.5,385.5h-5M111.5,398.5h-5M111.5,410.5h-5M111.5,422.5h-5M111.5,434.5h-5M111.5,446.5h-5M111.5,458.5h-5M111.5,471.5h-5M111.5,483.5h-5M111.5,495.5h-5M111.5,507.5h-5M111.5,519.5h-5M111.5,531.5h-5M111.5,544.5h-5M111.5,556.5h-5M111.5,568.5h-5M111.5,580.5h-5M111.5,592.5h-5M111.5,604.5h-5M111.5,617.5h-5M111.5,626.5v5M229.5,626.5v5M346.5,626.5v5M464.5,626.5v5M582.5,626.5v5M699.5,626.5v5M817.5,626.5v5" stroke="#000" stroke-width="1.1" fill="none"/>
<text class="yl" x="101.3" y="49">00:00</text>
<text class="yl" x="101.3" y="61">00:30</text>
<text class="yl" x="101.3" y="73">01:00</text>
<text class="yl" x="101.3" y="85">01:30</text>
<text class="yl" x="101.3" y="97">02:00</text>
<text class="yl" x="101.3" y="109">02:30</text>
<text class="yl" x="101.3" y="122">03:00</text>
<text class="yl" x="101.3" y="134">03:30</text>
<text class="yl" x="101.3" y="146">04:00</text>
<text class="yl" x="101.3" y="158">04:30</text>
<text class="yl" x="101.3" y="170">05:00</text>
<text class="yl" x="101.3" y="182">05:30</text>
<text class="yl" x="101.3" y="195">06:00</text>
<text class="yl" x="101.3" y="207">06:30</text>
<text class="yl" x="101.3" y="219">07:00</text>
<text class="yl" x="101.3" y="231">07:30</text>
<text class="yl" x="101.3" y="243">08:00</text>
<text class="yl" x="101.3" y="255">08:30</text>
<text class="yl" x="101.3" y="268">09:00</text>
<text class="yl" x="101.3" y="280">09:30</text>
<text class="yl" x="100.1" y="292">10:00</text>
<text class="yl" x="100.1" y="304">10:30</text>
<text class="yl" x="100.1" y="316">11:00</text>
<text class="yl" x="100.1" y="328">11:30</text>
<text class="yl" x="100.1" y="341">12:00</text>
<text class="yl" x="100.1" y="353">12:30</text>
<text class="yl" x="100.1" y="365">13:00</text>
<text class="yl" x="100.1" y="377">13:30</text>
<text class="yl" x="100.1" y="389">14:00</text>
<text class="yl" x="100.1" y="402">14:30</text>
<text class="yl" x="100.1" y="414">15:00</text>
<text class="yl" x="100.1" y="426">15:30</text>
<text class="yl" x="100.1" y="438">16:00</text>
<text class="yl" x="100.1" y="450">16:30</text>
<text class="yl" x="100.1" y="462">17:00</text>
<text class="yl" x="100.1" y="475">17:30</text>
<text class="yl" x="100.1" y="487">18:00</text>
<text class="yl" x="100.1" y="499">18:30</text>
<text class="yl" x="100.1" y="511">19:00</text>
<text class="yl" x="100.1" y="523">19:30</text>
<text class="yl" x="101.3" y="535">20:00</text>
<text class="yl" x="101.3" y="548">20:30</text>
<text class="yl" x="101.3" y="560">21:00</text>
<text class="yl" x="101.3" y="572">21:30</text>
<text class="yl" x="101.3" y="584">22:00</text>
<text class="yl" x="101.3" y="596">22:30</text>
<text class="yl" x="101.3" y="608">23:00</text>
<text class="yl" x="101.3" y="621">23:30</text>
<text class="xl" x="112.50" y="644">0</text>
<text class="xl" x="229.67" y="644">5</text>
<text class="xl" x="346.83" y="644">10</text>
<text class="xl" x="463.80" y="644">15</text>
<text class="xl" x="581.57" y="644">20</text>
<text class="xl" x="699.53" y="644">25</text>
<text class="xl" x="816.40" y="644">30</text>
<text x="463.8" y="660" font-size="11.11" text-anchor="middle">time in minutes</text>
<text x="105" y="25" font-size="13.89">06-11-2025</text>
<text x="822" y="25" font-size="13.89" text-anchor="end">CA.CMAS..HHZ - Not filtered - Amplification: 1/8000</text>
<text transform="translate(61,331.5) rotate(-90)" font-size="13.89" text-anchor="middle">UTC (local time = UTC + 01:00)</text>
<text x="730" y="663" dx="0 0 0 0 0 0 .1 .1 .5 .2" font-size="13.89" style="font-family:'Liberation Sans',sans-serif;font-weight:bold">©ICGC 2025</text>
</svg></body></html>
